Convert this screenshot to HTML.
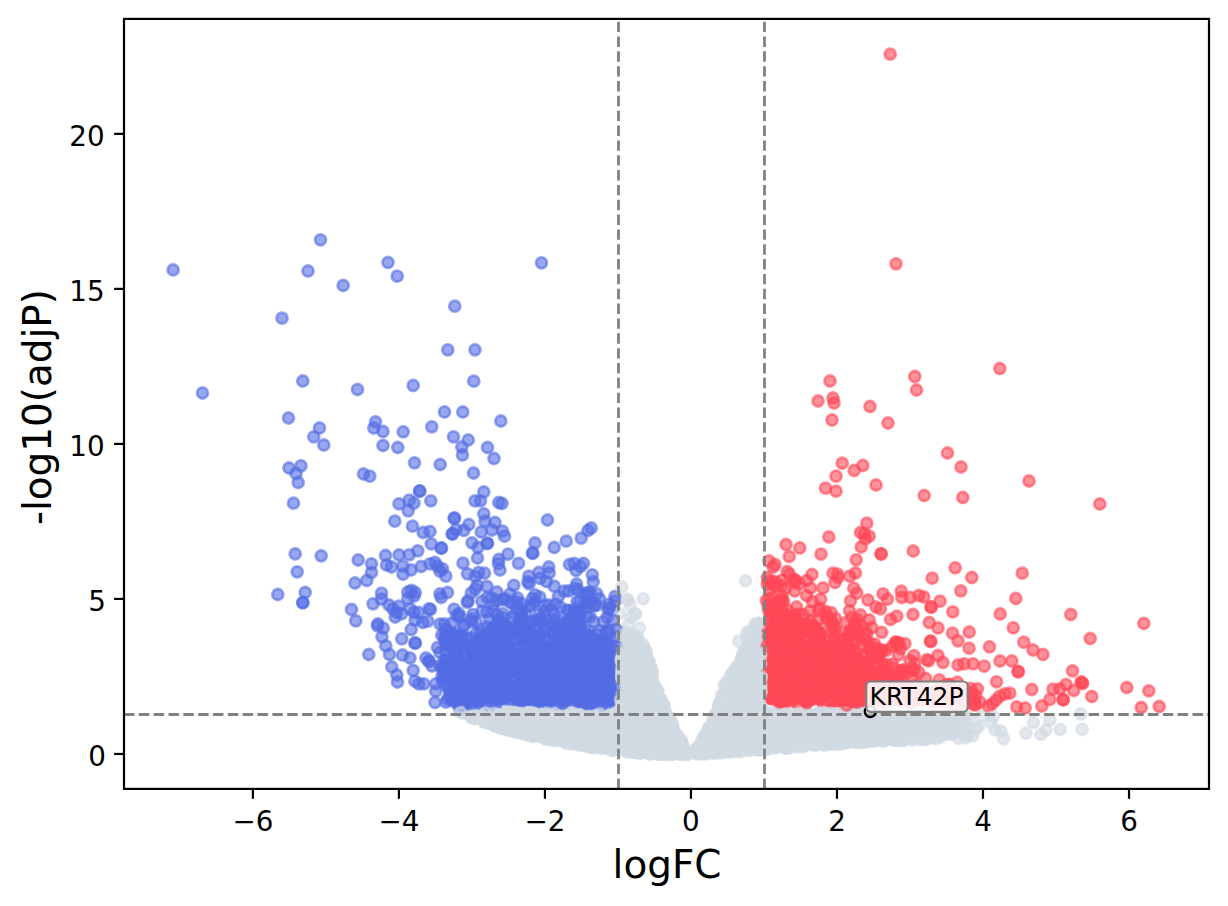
<!DOCTYPE html>
<html><head><meta charset="utf-8"><title>Volcano plot</title>
<style>
html,body{margin:0;padding:0;background:#fff}
svg{display:block}
text{font-family:"DejaVu Sans","Liberation Sans",sans-serif;fill:#000}
svg{opacity:.999}
circle{r:5.5px;stroke-width:2.78px;fill-opacity:.6;stroke-opacity:.6}
.g circle{fill:#d2dae2;stroke:#d2dae2}
.b circle{fill:#546de5;stroke:#546de5}
.r circle{fill:#ff4757;stroke:#ff4757}
.dash line{stroke:#808080;stroke-width:2.78px;stroke-dasharray:10.4 4.44}
.tk line{stroke:#000;stroke-width:2.2px}
.tl text{font-size:27.78px}
.al text{font-size:38.9px}
</style></head><body>
<svg width="1228" height="906" viewBox="0 0 1228 906">
<rect width="1228" height="906" fill="#fff"/>
<clipPath id="ax"><rect x="124.00" y="18.90" width="1085.00" height="770.00"/></clipPath>
<g clip-path="url(#ax)">
<g class="g"><circle cx="634.6" cy="642.9" r="5.5"/><circle cx="745.7" cy="691.4" r="5.5"/><circle cx="1026.0" cy="733.2" r="5.5"/><circle cx="498.0" cy="722.6" r="5.5"/><circle cx="839.7" cy="724.8" r="5.5"/><circle cx="871.8" cy="716.3" r="5.5"/><circle cx="796.8" cy="742.8" r="5.5"/><circle cx="630.4" cy="722.2" r="5.5"/><circle cx="616.1" cy="724.9" r="5.5"/><circle cx="742.5" cy="686.4" r="5.5"/><circle cx="535.6" cy="716.5" r="5.5"/><circle cx="614.6" cy="747.7" r="5.5"/><circle cx="613.7" cy="742.6" r="5.5"/><circle cx="562.0" cy="732.9" r="5.5"/><circle cx="527.3" cy="723.9" r="5.5"/><circle cx="908.5" cy="716.3" r="5.5"/><circle cx="799.5" cy="740.8" r="5.5"/><circle cx="746.1" cy="745.3" r="5.5"/><circle cx="534.9" cy="734.5" r="5.5"/><circle cx="639.7" cy="715.6" r="5.5"/><circle cx="718.9" cy="705.2" r="5.5"/><circle cx="751.7" cy="699.6" r="5.5"/><circle cx="757.8" cy="749.2" r="5.5"/><circle cx="760.8" cy="737.7" r="5.5"/><circle cx="815.5" cy="721.6" r="5.5"/><circle cx="660.6" cy="748.9" r="5.5"/><circle cx="654.0" cy="720.7" r="5.5"/><circle cx="526.3" cy="734.2" r="5.5"/><circle cx="499.4" cy="727.3" r="5.5"/><circle cx="860.8" cy="718.5" r="5.5"/><circle cx="924.0" cy="721.3" r="5.5"/><circle cx="633.4" cy="699.3" r="5.5"/><circle cx="860.2" cy="713.8" r="5.5"/><circle cx="730.7" cy="685.4" r="5.5"/><circle cx="640.7" cy="725.4" r="5.5"/><circle cx="564.1" cy="737.3" r="5.5"/><circle cx="780.5" cy="729.5" r="5.5"/><circle cx="652.0" cy="741.4" r="5.5"/><circle cx="898.5" cy="725.8" r="5.5"/><circle cx="605.2" cy="737.6" r="5.5"/><circle cx="754.7" cy="698.8" r="5.5"/><circle cx="559.1" cy="722.3" r="5.5"/><circle cx="759.5" cy="648.3" r="5.5"/><circle cx="872.6" cy="734.4" r="5.5"/><circle cx="767.4" cy="727.2" r="5.5"/><circle cx="723.6" cy="745.0" r="5.5"/><circle cx="536.6" cy="735.7" r="5.5"/><circle cx="868.2" cy="713.0" r="5.5"/><circle cx="571.5" cy="743.0" r="5.5"/><circle cx="723.9" cy="728.3" r="5.5"/><circle cx="636.3" cy="744.7" r="5.5"/><circle cx="647.6" cy="736.1" r="5.5"/><circle cx="875.5" cy="736.0" r="5.5"/><circle cx="501.4" cy="718.8" r="5.5"/><circle cx="627.6" cy="733.9" r="5.5"/><circle cx="555.4" cy="740.1" r="5.5"/><circle cx="948.5" cy="723.5" r="5.5"/><circle cx="563.8" cy="723.5" r="5.5"/><circle cx="647.8" cy="660.7" r="5.5"/><circle cx="810.1" cy="744.7" r="5.5"/><circle cx="572.6" cy="730.6" r="5.5"/><circle cx="949.9" cy="719.9" r="5.5"/><circle cx="622.6" cy="718.1" r="5.5"/><circle cx="533.4" cy="713.5" r="5.5"/><circle cx="756.8" cy="723.8" r="5.5"/><circle cx="730.0" cy="747.8" r="5.5"/><circle cx="742.6" cy="726.1" r="5.5"/><circle cx="728.6" cy="742.0" r="5.5"/><circle cx="745.2" cy="686.7" r="5.5"/><circle cx="586.3" cy="724.4" r="5.5"/><circle cx="713.2" cy="751.5" r="5.5"/><circle cx="524.8" cy="714.0" r="5.5"/><circle cx="734.2" cy="706.8" r="5.5"/><circle cx="597.4" cy="729.5" r="5.5"/><circle cx="511.6" cy="725.6" r="5.5"/><circle cx="556.3" cy="717.0" r="5.5"/><circle cx="711.3" cy="727.9" r="5.5"/><circle cx="682.7" cy="750.4" r="5.5"/><circle cx="542.8" cy="716.7" r="5.5"/><circle cx="896.1" cy="718.9" r="5.5"/><circle cx="622.7" cy="666.0" r="5.5"/><circle cx="654.8" cy="742.3" r="5.5"/><circle cx="652.6" cy="746.5" r="5.5"/><circle cx="761.2" cy="682.1" r="5.5"/><circle cx="526.7" cy="716.9" r="5.5"/><circle cx="836.7" cy="735.9" r="5.5"/><circle cx="660.1" cy="703.5" r="5.5"/><circle cx="681.0" cy="742.5" r="5.5"/><circle cx="622.3" cy="726.2" r="5.5"/><circle cx="804.2" cy="741.7" r="5.5"/><circle cx="646.7" cy="684.5" r="5.5"/><circle cx="595.6" cy="724.5" r="5.5"/><circle cx="760.1" cy="707.5" r="5.5"/><circle cx="630.9" cy="662.3" r="5.5"/><circle cx="852.5" cy="731.2" r="5.5"/><circle cx="714.2" cy="727.6" r="5.5"/><circle cx="556.3" cy="737.9" r="5.5"/><circle cx="649.3" cy="753.5" r="5.5"/><circle cx="495.2" cy="713.0" r="5.5"/><circle cx="560.6" cy="721.9" r="5.5"/><circle cx="758.6" cy="711.6" r="5.5"/><circle cx="877.2" cy="730.6" r="5.5"/><circle cx="822.5" cy="722.3" r="5.5"/><circle cx="835.2" cy="736.6" r="5.5"/><circle cx="524.2" cy="714.8" r="5.5"/><circle cx="636.9" cy="639.3" r="5.5"/><circle cx="649.1" cy="692.8" r="5.5"/><circle cx="638.6" cy="660.6" r="5.5"/><circle cx="497.1" cy="720.0" r="5.5"/><circle cx="792.1" cy="739.7" r="5.5"/><circle cx="622.0" cy="721.4" r="5.5"/><circle cx="757.6" cy="729.3" r="5.5"/><circle cx="579.3" cy="713.3" r="5.5"/><circle cx="777.7" cy="743.6" r="5.5"/><circle cx="521.0" cy="721.1" r="5.5"/><circle cx="571.4" cy="716.7" r="5.5"/><circle cx="730.4" cy="692.7" r="5.5"/><circle cx="784.2" cy="717.3" r="5.5"/><circle cx="753.9" cy="722.6" r="5.5"/><circle cx="841.4" cy="723.5" r="5.5"/><circle cx="593.5" cy="714.2" r="5.5"/><circle cx="624.6" cy="709.2" r="5.5"/><circle cx="631.4" cy="747.0" r="5.5"/><circle cx="622.5" cy="700.3" r="5.5"/><circle cx="722.9" cy="724.7" r="5.5"/><circle cx="922.8" cy="728.1" r="5.5"/><circle cx="657.0" cy="740.7" r="5.5"/><circle cx="656.7" cy="737.2" r="5.5"/><circle cx="668.1" cy="737.3" r="5.5"/><circle cx="554.5" cy="723.8" r="5.5"/><circle cx="832.8" cy="733.5" r="5.5"/><circle cx="636.1" cy="697.1" r="5.5"/><circle cx="726.1" cy="734.3" r="5.5"/><circle cx="628.6" cy="729.3" r="5.5"/><circle cx="743.6" cy="701.5" r="5.5"/><circle cx="651.0" cy="697.7" r="5.5"/><circle cx="654.0" cy="700.5" r="5.5"/><circle cx="757.6" cy="745.6" r="5.5"/><circle cx="777.0" cy="739.5" r="5.5"/><circle cx="815.4" cy="731.6" r="5.5"/><circle cx="612.6" cy="741.1" r="5.5"/><circle cx="911.2" cy="719.4" r="5.5"/><circle cx="631.7" cy="702.9" r="5.5"/><circle cx="649.9" cy="717.7" r="5.5"/><circle cx="566.9" cy="731.6" r="5.5"/><circle cx="771.9" cy="741.1" r="5.5"/><circle cx="624.1" cy="694.6" r="5.5"/><circle cx="558.3" cy="726.9" r="5.5"/><circle cx="508.2" cy="716.6" r="5.5"/><circle cx="635.5" cy="723.3" r="5.5"/><circle cx="745.5" cy="656.0" r="5.5"/><circle cx="648.9" cy="695.3" r="5.5"/><circle cx="935.0" cy="727.8" r="5.5"/><circle cx="496.9" cy="714.8" r="5.5"/><circle cx="734.5" cy="700.6" r="5.5"/><circle cx="633.7" cy="738.1" r="5.5"/><circle cx="559.6" cy="739.3" r="5.5"/><circle cx="654.0" cy="711.2" r="5.5"/><circle cx="742.1" cy="657.0" r="5.5"/><circle cx="545.4" cy="715.5" r="5.5"/><circle cx="653.8" cy="703.2" r="5.5"/><circle cx="627.2" cy="697.5" r="5.5"/><circle cx="495.4" cy="722.0" r="5.5"/><circle cx="577.3" cy="712.4" r="5.5"/><circle cx="841.0" cy="731.6" r="5.5"/><circle cx="746.1" cy="668.2" r="5.5"/><circle cx="606.7" cy="721.3" r="5.5"/><circle cx="649.6" cy="745.6" r="5.5"/><circle cx="647.6" cy="730.0" r="5.5"/><circle cx="638.0" cy="676.0" r="5.5"/><circle cx="758.4" cy="693.7" r="5.5"/><circle cx="640.5" cy="690.1" r="5.5"/><circle cx="779.9" cy="741.7" r="5.5"/></g>
<g class="b"><circle cx="581.4" cy="651.0" r="5.5"/><circle cx="561.4" cy="636.3" r="5.5"/><circle cx="295.2" cy="553.8" r="5.5"/><circle cx="471.5" cy="651.1" r="5.5"/><circle cx="494.0" cy="458.5" r="5.5"/><circle cx="430.5" cy="609.5" r="5.5"/><circle cx="510.8" cy="602.3" r="5.5"/><circle cx="596.9" cy="634.6" r="5.5"/><circle cx="411.0" cy="570.0" r="5.5"/><circle cx="583.2" cy="672.7" r="5.5"/><circle cx="585.7" cy="647.6" r="5.5"/><circle cx="464.1" cy="625.6" r="5.5"/><circle cx="579.0" cy="615.2" r="5.5"/><circle cx="605.2" cy="693.2" r="5.5"/><circle cx="589.5" cy="603.6" r="5.5"/><circle cx="614.8" cy="662.8" r="5.5"/><circle cx="508.6" cy="646.3" r="5.5"/><circle cx="568.8" cy="663.6" r="5.5"/><circle cx="383.0" cy="431.5" r="5.5"/><circle cx="430.8" cy="500.8" r="5.5"/><circle cx="611.5" cy="668.9" r="5.5"/><circle cx="521.2" cy="676.8" r="5.5"/><circle cx="526.5" cy="634.1" r="5.5"/><circle cx="574.1" cy="640.4" r="5.5"/><circle cx="474.9" cy="647.5" r="5.5"/><circle cx="487.1" cy="650.3" r="5.5"/><circle cx="589.7" cy="660.4" r="5.5"/><circle cx="544.8" cy="611.1" r="5.5"/><circle cx="592.3" cy="653.8" r="5.5"/><circle cx="610.9" cy="699.6" r="5.5"/><circle cx="487.0" cy="687.7" r="5.5"/><circle cx="392.8" cy="608.8" r="5.5"/><circle cx="506.7" cy="685.0" r="5.5"/><circle cx="588.2" cy="635.8" r="5.5"/><circle cx="501.2" cy="677.1" r="5.5"/></g>
<g class="r"><circle cx="823.0" cy="588.0" r="5.5"/><circle cx="849.1" cy="650.6" r="5.5"/><circle cx="865.4" cy="683.0" r="5.5"/><circle cx="823.5" cy="645.3" r="5.5"/><circle cx="768.9" cy="560.9" r="5.5"/><circle cx="952.4" cy="698.6" r="5.5"/><circle cx="893.0" cy="679.9" r="5.5"/><circle cx="830.4" cy="663.9" r="5.5"/><circle cx="823.1" cy="667.2" r="5.5"/><circle cx="775.4" cy="662.0" r="5.5"/><circle cx="848.6" cy="663.7" r="5.5"/><circle cx="979.9" cy="702.2" r="5.5"/><circle cx="785.4" cy="692.9" r="5.5"/><circle cx="784.9" cy="671.4" r="5.5"/><circle cx="938.0" cy="628.0" r="5.5"/><circle cx="833.5" cy="642.1" r="5.5"/><circle cx="787.0" cy="695.7" r="5.5"/><circle cx="794.7" cy="626.9" r="5.5"/><circle cx="902.1" cy="670.5" r="5.5"/><circle cx="816.1" cy="686.8" r="5.5"/><circle cx="782.2" cy="705.4" r="5.5"/><circle cx="811.4" cy="693.5" r="5.5"/><circle cx="844.8" cy="685.7" r="5.5"/><circle cx="999.8" cy="696.2" r="5.5"/><circle cx="914.4" cy="687.8" r="5.5"/><circle cx="793.2" cy="621.1" r="5.5"/><circle cx="807.3" cy="670.2" r="5.5"/><circle cx="873.0" cy="698.5" r="5.5"/></g>
<g class="g"><circle cx="657.8" cy="742.8" r="5.5"/><circle cx="628.5" cy="680.6" r="5.5"/><circle cx="732.6" cy="740.4" r="5.5"/><circle cx="605.8" cy="739.4" r="5.5"/><circle cx="748.9" cy="735.0" r="5.5"/><circle cx="865.5" cy="715.3" r="5.5"/><circle cx="759.0" cy="700.9" r="5.5"/><circle cx="624.1" cy="688.7" r="5.5"/><circle cx="640.5" cy="717.5" r="5.5"/><circle cx="482.6" cy="720.4" r="5.5"/><circle cx="937.3" cy="733.6" r="5.5"/><circle cx="965.8" cy="737.5" r="5.5"/><circle cx="643.0" cy="684.1" r="5.5"/><circle cx="529.7" cy="732.8" r="5.5"/><circle cx="518.2" cy="716.6" r="5.5"/><circle cx="626.8" cy="731.6" r="5.5"/><circle cx="509.5" cy="721.4" r="5.5"/><circle cx="628.3" cy="695.3" r="5.5"/><circle cx="755.8" cy="733.7" r="5.5"/><circle cx="621.0" cy="700.2" r="5.5"/><circle cx="932.9" cy="723.4" r="5.5"/><circle cx="793.9" cy="719.3" r="5.5"/><circle cx="716.2" cy="747.1" r="5.5"/><circle cx="729.6" cy="699.3" r="5.5"/><circle cx="957.2" cy="731.3" r="5.5"/><circle cx="734.7" cy="722.5" r="5.5"/><circle cx="772.6" cy="745.6" r="5.5"/><circle cx="652.0" cy="720.2" r="5.5"/><circle cx="525.2" cy="730.9" r="5.5"/><circle cx="658.8" cy="719.7" r="5.5"/><circle cx="640.0" cy="727.6" r="5.5"/><circle cx="673.4" cy="731.2" r="5.5"/><circle cx="731.5" cy="719.3" r="5.5"/><circle cx="730.4" cy="690.4" r="5.5"/><circle cx="643.2" cy="721.5" r="5.5"/><circle cx="627.3" cy="739.8" r="5.5"/><circle cx="612.9" cy="735.2" r="5.5"/><circle cx="758.8" cy="683.0" r="5.5"/><circle cx="905.7" cy="717.5" r="5.5"/><circle cx="731.0" cy="680.1" r="5.5"/><circle cx="595.6" cy="713.0" r="5.5"/><circle cx="862.9" cy="723.8" r="5.5"/><circle cx="517.6" cy="731.3" r="5.5"/><circle cx="535.2" cy="712.7" r="5.5"/><circle cx="852.5" cy="727.7" r="5.5"/><circle cx="870.9" cy="730.0" r="5.5"/><circle cx="950.0" cy="730.3" r="5.5"/><circle cx="621.7" cy="696.3" r="5.5"/><circle cx="659.4" cy="714.0" r="5.5"/><circle cx="540.0" cy="736.1" r="5.5"/><circle cx="529.7" cy="733.1" r="5.5"/><circle cx="647.9" cy="682.0" r="5.5"/><circle cx="776.4" cy="721.8" r="5.5"/><circle cx="821.7" cy="714.7" r="5.5"/><circle cx="623.5" cy="732.2" r="5.5"/><circle cx="827.0" cy="718.8" r="5.5"/><circle cx="590.7" cy="723.1" r="5.5"/><circle cx="541.3" cy="728.4" r="5.5"/><circle cx="644.7" cy="712.2" r="5.5"/><circle cx="633.5" cy="687.5" r="5.5"/><circle cx="755.4" cy="721.3" r="5.5"/><circle cx="605.5" cy="733.2" r="5.5"/><circle cx="509.9" cy="724.9" r="5.5"/><circle cx="898.7" cy="740.0" r="5.5"/><circle cx="623.3" cy="683.4" r="5.5"/><circle cx="862.0" cy="741.9" r="5.5"/><circle cx="676.4" cy="753.5" r="5.5"/><circle cx="913.1" cy="735.1" r="5.5"/><circle cx="753.0" cy="712.0" r="5.5"/><circle cx="729.4" cy="721.9" r="5.5"/><circle cx="810.0" cy="719.3" r="5.5"/><circle cx="637.0" cy="685.1" r="5.5"/><circle cx="737.6" cy="665.8" r="5.5"/><circle cx="603.2" cy="724.7" r="5.5"/><circle cx="932.4" cy="735.3" r="5.5"/><circle cx="568.0" cy="730.8" r="5.5"/><circle cx="634.0" cy="705.7" r="5.5"/><circle cx="804.8" cy="725.1" r="5.5"/><circle cx="759.5" cy="731.3" r="5.5"/><circle cx="588.9" cy="724.8" r="5.5"/><circle cx="714.7" cy="751.4" r="5.5"/><circle cx="670.3" cy="736.2" r="5.5"/><circle cx="753.5" cy="726.9" r="5.5"/><circle cx="637.7" cy="740.1" r="5.5"/><circle cx="949.3" cy="721.6" r="5.5"/><circle cx="750.9" cy="683.0" r="5.5"/><circle cx="675.4" cy="733.9" r="5.5"/><circle cx="473.6" cy="716.5" r="5.5"/><circle cx="648.5" cy="732.0" r="5.5"/><circle cx="512.3" cy="714.9" r="5.5"/><circle cx="556.7" cy="731.5" r="5.5"/><circle cx="650.4" cy="708.8" r="5.5"/><circle cx="877.6" cy="736.4" r="5.5"/><circle cx="760.7" cy="650.9" r="5.5"/><circle cx="836.6" cy="736.5" r="5.5"/><circle cx="848.0" cy="742.4" r="5.5"/><circle cx="526.3" cy="726.5" r="5.5"/><circle cx="759.7" cy="647.7" r="5.5"/><circle cx="507.1" cy="726.5" r="5.5"/><circle cx="671.9" cy="752.0" r="5.5"/><circle cx="981.3" cy="716.2" r="5.5"/><circle cx="863.3" cy="742.2" r="5.5"/><circle cx="485.9" cy="721.0" r="5.5"/><circle cx="741.8" cy="686.4" r="5.5"/><circle cx="939.5" cy="719.9" r="5.5"/><circle cx="621.3" cy="673.4" r="5.5"/><circle cx="880.3" cy="730.3" r="5.5"/><circle cx="742.0" cy="719.1" r="5.5"/><circle cx="502.8" cy="718.8" r="5.5"/><circle cx="494.8" cy="719.2" r="5.5"/><circle cx="593.5" cy="733.1" r="5.5"/><circle cx="643.3" cy="750.5" r="5.5"/><circle cx="736.2" cy="696.2" r="5.5"/><circle cx="806.9" cy="737.6" r="5.5"/><circle cx="765.1" cy="733.9" r="5.5"/><circle cx="746.7" cy="747.9" r="5.5"/><circle cx="816.5" cy="738.4" r="5.5"/><circle cx="739.6" cy="722.7" r="5.5"/><circle cx="644.1" cy="685.8" r="5.5"/><circle cx="874.3" cy="731.6" r="5.5"/><circle cx="604.2" cy="732.5" r="5.5"/><circle cx="718.4" cy="707.7" r="5.5"/><circle cx="673.2" cy="739.7" r="5.5"/><circle cx="740.0" cy="708.5" r="5.5"/><circle cx="858.8" cy="716.9" r="5.5"/><circle cx="503.4" cy="717.4" r="5.5"/><circle cx="792.7" cy="741.8" r="5.5"/><circle cx="630.5" cy="745.1" r="5.5"/><circle cx="515.5" cy="725.2" r="5.5"/><circle cx="657.2" cy="732.5" r="5.5"/><circle cx="710.9" cy="735.2" r="5.5"/><circle cx="561.0" cy="727.0" r="5.5"/><circle cx="856.7" cy="721.6" r="5.5"/><circle cx="750.7" cy="725.5" r="5.5"/><circle cx="513.6" cy="723.6" r="5.5"/><circle cx="554.9" cy="724.7" r="5.5"/><circle cx="620.8" cy="741.5" r="5.5"/><circle cx="653.9" cy="702.4" r="5.5"/><circle cx="738.9" cy="735.4" r="5.5"/><circle cx="754.3" cy="665.7" r="5.5"/><circle cx="546.7" cy="735.7" r="5.5"/><circle cx="663.4" cy="744.6" r="5.5"/><circle cx="867.9" cy="736.1" r="5.5"/><circle cx="790.4" cy="736.5" r="5.5"/><circle cx="768.2" cy="723.4" r="5.5"/><circle cx="586.6" cy="734.2" r="5.5"/><circle cx="897.9" cy="737.7" r="5.5"/><circle cx="516.2" cy="726.7" r="5.5"/><circle cx="544.6" cy="716.2" r="5.5"/><circle cx="732.3" cy="725.3" r="5.5"/><circle cx="643.4" cy="698.2" r="5.5"/><circle cx="889.2" cy="734.4" r="5.5"/><circle cx="854.4" cy="728.6" r="5.5"/><circle cx="779.5" cy="719.9" r="5.5"/><circle cx="614.9" cy="721.7" r="5.5"/><circle cx="676.1" cy="747.2" r="5.5"/><circle cx="680.9" cy="754.2" r="5.5"/><circle cx="733.4" cy="726.5" r="5.5"/><circle cx="756.0" cy="625.2" r="5.5"/><circle cx="637.0" cy="663.1" r="5.5"/><circle cx="633.6" cy="686.6" r="5.5"/><circle cx="775.6" cy="741.7" r="5.5"/><circle cx="747.8" cy="730.5" r="5.5"/><circle cx="738.6" cy="722.1" r="5.5"/></g>
<g class="b"><circle cx="513.8" cy="585.3" r="5.5"/><circle cx="519.7" cy="697.4" r="5.5"/><circle cx="495.9" cy="692.4" r="5.5"/><circle cx="521.9" cy="616.7" r="5.5"/><circle cx="554.4" cy="633.4" r="5.5"/><circle cx="464.7" cy="705.2" r="5.5"/><circle cx="560.7" cy="651.8" r="5.5"/><circle cx="601.8" cy="671.4" r="5.5"/><circle cx="577.1" cy="601.6" r="5.5"/><circle cx="487.0" cy="674.8" r="5.5"/><circle cx="496.9" cy="592.0" r="5.5"/><circle cx="450.5" cy="690.3" r="5.5"/><circle cx="580.4" cy="623.2" r="5.5"/><circle cx="531.4" cy="702.8" r="5.5"/><circle cx="586.7" cy="616.3" r="5.5"/><circle cx="568.9" cy="610.8" r="5.5"/><circle cx="576.6" cy="628.2" r="5.5"/><circle cx="477.6" cy="653.8" r="5.5"/><circle cx="510.5" cy="699.3" r="5.5"/><circle cx="547.5" cy="649.2" r="5.5"/><circle cx="446.9" cy="635.6" r="5.5"/><circle cx="556.1" cy="639.2" r="5.5"/><circle cx="589.7" cy="696.0" r="5.5"/><circle cx="539.4" cy="621.4" r="5.5"/><circle cx="598.3" cy="643.3" r="5.5"/><circle cx="381.5" cy="593.2" r="5.5"/><circle cx="487.5" cy="447.5" r="5.5"/><circle cx="599.7" cy="630.8" r="5.5"/><circle cx="512.1" cy="692.4" r="5.5"/><circle cx="544.9" cy="660.1" r="5.5"/><circle cx="486.6" cy="673.4" r="5.5"/><circle cx="610.7" cy="657.7" r="5.5"/><circle cx="592.4" cy="659.9" r="5.5"/><circle cx="485.9" cy="695.4" r="5.5"/><circle cx="578.9" cy="683.6" r="5.5"/><circle cx="500.6" cy="680.1" r="5.5"/><circle cx="521.2" cy="667.2" r="5.5"/><circle cx="565.0" cy="630.5" r="5.5"/><circle cx="397.2" cy="276.2" r="5.5"/><circle cx="581.2" cy="538.2" r="5.5"/></g>
<g class="r"><circle cx="871.3" cy="679.3" r="5.5"/><circle cx="860.4" cy="667.2" r="5.5"/><circle cx="768.4" cy="665.5" r="5.5"/><circle cx="777.5" cy="619.0" r="5.5"/><circle cx="801.4" cy="649.6" r="5.5"/><circle cx="774.9" cy="677.7" r="5.5"/><circle cx="934.6" cy="705.0" r="5.5"/><circle cx="999.8" cy="368.5" r="5.5"/><circle cx="818.5" cy="635.9" r="5.5"/><circle cx="882.4" cy="663.2" r="5.5"/><circle cx="843.8" cy="695.8" r="5.5"/><circle cx="857.6" cy="653.2" r="5.5"/><circle cx="820.4" cy="699.5" r="5.5"/><circle cx="896.0" cy="689.2" r="5.5"/><circle cx="777.6" cy="651.6" r="5.5"/><circle cx="862.8" cy="465.5" r="5.5"/><circle cx="899.5" cy="682.3" r="5.5"/><circle cx="856.5" cy="677.2" r="5.5"/><circle cx="816.6" cy="650.4" r="5.5"/><circle cx="1013.2" cy="627.8" r="5.5"/><circle cx="849.8" cy="698.5" r="5.5"/><circle cx="819.4" cy="682.3" r="5.5"/><circle cx="827.7" cy="630.5" r="5.5"/><circle cx="789.2" cy="556.5" r="5.5"/><circle cx="833.3" cy="625.3" r="5.5"/><circle cx="794.1" cy="695.0" r="5.5"/><circle cx="780.2" cy="679.1" r="5.5"/><circle cx="780.5" cy="671.2" r="5.5"/><circle cx="779.7" cy="602.0" r="5.5"/><circle cx="869.8" cy="671.0" r="5.5"/><circle cx="825.2" cy="671.1" r="5.5"/><circle cx="892.7" cy="696.0" r="5.5"/></g>
<g class="g"><circle cx="635.3" cy="673.9" r="5.5"/><circle cx="866.1" cy="722.2" r="5.5"/><circle cx="503.9" cy="724.1" r="5.5"/><circle cx="649.5" cy="720.5" r="5.5"/><circle cx="616.1" cy="731.3" r="5.5"/><circle cx="913.2" cy="730.2" r="5.5"/><circle cx="641.4" cy="653.4" r="5.5"/><circle cx="666.0" cy="738.2" r="5.5"/><circle cx="578.7" cy="729.6" r="5.5"/><circle cx="717.3" cy="748.5" r="5.5"/><circle cx="626.9" cy="738.2" r="5.5"/><circle cx="868.2" cy="738.0" r="5.5"/><circle cx="556.2" cy="733.4" r="5.5"/><circle cx="534.4" cy="732.7" r="5.5"/><circle cx="730.4" cy="691.8" r="5.5"/><circle cx="650.4" cy="750.3" r="5.5"/><circle cx="829.8" cy="715.3" r="5.5"/><circle cx="612.3" cy="720.5" r="5.5"/><circle cx="652.1" cy="748.4" r="5.5"/><circle cx="528.9" cy="735.2" r="5.5"/><circle cx="735.7" cy="737.3" r="5.5"/><circle cx="760.9" cy="710.0" r="5.5"/><circle cx="541.8" cy="725.5" r="5.5"/><circle cx="738.8" cy="641.2" r="5.5"/><circle cx="628.7" cy="695.3" r="5.5"/><circle cx="500.3" cy="726.1" r="5.5"/><circle cx="851.0" cy="726.1" r="5.5"/><circle cx="538.2" cy="716.7" r="5.5"/><circle cx="824.9" cy="714.2" r="5.5"/><circle cx="645.5" cy="717.5" r="5.5"/><circle cx="718.4" cy="712.0" r="5.5"/><circle cx="631.6" cy="724.9" r="5.5"/><circle cx="788.0" cy="729.7" r="5.5"/><circle cx="629.8" cy="651.9" r="5.5"/><circle cx="635.5" cy="668.8" r="5.5"/><circle cx="646.3" cy="717.7" r="5.5"/><circle cx="603.6" cy="739.8" r="5.5"/><circle cx="906.4" cy="716.0" r="5.5"/><circle cx="807.1" cy="739.9" r="5.5"/><circle cx="900.0" cy="718.7" r="5.5"/><circle cx="522.9" cy="718.6" r="5.5"/><circle cx="894.3" cy="732.4" r="5.5"/><circle cx="647.0" cy="729.0" r="5.5"/><circle cx="512.8" cy="726.7" r="5.5"/><circle cx="753.6" cy="688.1" r="5.5"/><circle cx="586.6" cy="739.5" r="5.5"/><circle cx="554.5" cy="731.2" r="5.5"/><circle cx="875.0" cy="712.9" r="5.5"/><circle cx="734.3" cy="692.5" r="5.5"/><circle cx="759.4" cy="737.9" r="5.5"/><circle cx="721.7" cy="723.6" r="5.5"/><circle cx="544.6" cy="736.3" r="5.5"/><circle cx="757.2" cy="716.2" r="5.5"/><circle cx="550.4" cy="735.3" r="5.5"/><circle cx="658.9" cy="744.8" r="5.5"/><circle cx="743.0" cy="736.5" r="5.5"/><circle cx="728.0" cy="680.7" r="5.5"/><circle cx="569.0" cy="735.5" r="5.5"/><circle cx="822.0" cy="719.8" r="5.5"/><circle cx="726.5" cy="725.2" r="5.5"/><circle cx="840.7" cy="719.9" r="5.5"/><circle cx="583.3" cy="737.8" r="5.5"/><circle cx="739.4" cy="732.9" r="5.5"/><circle cx="870.7" cy="736.3" r="5.5"/><circle cx="644.0" cy="727.0" r="5.5"/><circle cx="552.1" cy="713.2" r="5.5"/><circle cx="575.8" cy="739.1" r="5.5"/><circle cx="578.8" cy="733.9" r="5.5"/><circle cx="597.0" cy="734.9" r="5.5"/><circle cx="653.0" cy="692.9" r="5.5"/><circle cx="616.6" cy="729.2" r="5.5"/><circle cx="720.7" cy="724.4" r="5.5"/><circle cx="634.6" cy="730.7" r="5.5"/><circle cx="756.2" cy="743.1" r="5.5"/><circle cx="708.7" cy="737.0" r="5.5"/><circle cx="751.8" cy="708.4" r="5.5"/><circle cx="626.5" cy="635.0" r="5.5"/><circle cx="568.9" cy="722.6" r="5.5"/><circle cx="629.0" cy="684.2" r="5.5"/><circle cx="863.1" cy="720.2" r="5.5"/><circle cx="507.1" cy="726.5" r="5.5"/><circle cx="586.1" cy="736.7" r="5.5"/><circle cx="556.9" cy="721.5" r="5.5"/><circle cx="723.2" cy="706.7" r="5.5"/><circle cx="612.6" cy="728.7" r="5.5"/><circle cx="673.5" cy="735.0" r="5.5"/><circle cx="815.0" cy="744.9" r="5.5"/><circle cx="728.1" cy="725.1" r="5.5"/><circle cx="635.6" cy="744.9" r="5.5"/><circle cx="638.2" cy="673.1" r="5.5"/><circle cx="634.3" cy="673.3" r="5.5"/><circle cx="657.0" cy="710.6" r="5.5"/><circle cx="785.9" cy="748.3" r="5.5"/><circle cx="721.5" cy="748.9" r="5.5"/><circle cx="846.0" cy="720.9" r="5.5"/><circle cx="737.1" cy="742.3" r="5.5"/><circle cx="630.7" cy="720.9" r="5.5"/><circle cx="752.5" cy="715.5" r="5.5"/><circle cx="636.4" cy="709.1" r="5.5"/><circle cx="642.2" cy="722.5" r="5.5"/><circle cx="654.2" cy="747.8" r="5.5"/><circle cx="746.6" cy="708.8" r="5.5"/><circle cx="733.7" cy="730.1" r="5.5"/><circle cx="644.7" cy="714.1" r="5.5"/><circle cx="892.2" cy="715.5" r="5.5"/><circle cx="758.8" cy="656.7" r="5.5"/><circle cx="738.7" cy="708.7" r="5.5"/><circle cx="568.5" cy="737.9" r="5.5"/><circle cx="631.8" cy="697.4" r="5.5"/><circle cx="650.2" cy="719.3" r="5.5"/><circle cx="641.9" cy="686.1" r="5.5"/><circle cx="858.8" cy="713.4" r="5.5"/><circle cx="760.6" cy="661.4" r="5.5"/><circle cx="944.0" cy="721.8" r="5.5"/><circle cx="930.6" cy="714.3" r="5.5"/><circle cx="527.7" cy="734.6" r="5.5"/><circle cx="642.0" cy="752.5" r="5.5"/><circle cx="727.6" cy="734.7" r="5.5"/><circle cx="744.2" cy="746.5" r="5.5"/><circle cx="599.4" cy="714.4" r="5.5"/><circle cx="628.4" cy="734.3" r="5.5"/><circle cx="657.5" cy="754.0" r="5.5"/><circle cx="628.9" cy="696.7" r="5.5"/><circle cx="475.3" cy="713.9" r="5.5"/><circle cx="566.5" cy="741.3" r="5.5"/><circle cx="899.4" cy="725.3" r="5.5"/><circle cx="630.2" cy="748.5" r="5.5"/><circle cx="767.4" cy="728.8" r="5.5"/><circle cx="620.5" cy="695.9" r="5.5"/><circle cx="728.8" cy="685.9" r="5.5"/><circle cx="755.3" cy="715.2" r="5.5"/><circle cx="587.5" cy="728.2" r="5.5"/><circle cx="648.0" cy="742.7" r="5.5"/><circle cx="600.6" cy="740.2" r="5.5"/><circle cx="593.4" cy="721.6" r="5.5"/><circle cx="744.6" cy="723.2" r="5.5"/><circle cx="574.1" cy="727.6" r="5.5"/><circle cx="632.4" cy="688.6" r="5.5"/><circle cx="548.0" cy="715.9" r="5.5"/><circle cx="771.4" cy="717.7" r="5.5"/><circle cx="752.4" cy="731.7" r="5.5"/><circle cx="622.2" cy="693.5" r="5.5"/><circle cx="635.3" cy="722.0" r="5.5"/><circle cx="727.9" cy="733.9" r="5.5"/><circle cx="638.7" cy="694.9" r="5.5"/><circle cx="754.5" cy="709.9" r="5.5"/><circle cx="581.7" cy="742.1" r="5.5"/><circle cx="799.5" cy="736.7" r="5.5"/><circle cx="624.4" cy="657.7" r="5.5"/><circle cx="752.7" cy="657.0" r="5.5"/><circle cx="601.1" cy="731.2" r="5.5"/><circle cx="630.3" cy="704.4" r="5.5"/><circle cx="490.8" cy="719.9" r="5.5"/><circle cx="758.9" cy="688.8" r="5.5"/><circle cx="734.3" cy="739.0" r="5.5"/><circle cx="637.1" cy="689.0" r="5.5"/><circle cx="917.3" cy="728.5" r="5.5"/><circle cx="873.6" cy="728.1" r="5.5"/><circle cx="668.0" cy="739.4" r="5.5"/><circle cx="661.6" cy="725.5" r="5.5"/><circle cx="630.6" cy="687.6" r="5.5"/><circle cx="495.2" cy="712.7" r="5.5"/><circle cx="737.7" cy="703.7" r="5.5"/><circle cx="756.1" cy="738.4" r="5.5"/><circle cx="622.2" cy="694.5" r="5.5"/><circle cx="688.0" cy="754.2" r="5.5"/><circle cx="932.0" cy="728.3" r="5.5"/><circle cx="634.7" cy="726.7" r="5.5"/><circle cx="732.8" cy="731.2" r="5.5"/><circle cx="594.1" cy="729.6" r="5.5"/></g>
<g class="b"><circle cx="600.7" cy="677.2" r="5.5"/><circle cx="590.6" cy="654.7" r="5.5"/><circle cx="584.5" cy="676.5" r="5.5"/><circle cx="441.2" cy="548.2" r="5.5"/><circle cx="456.6" cy="656.3" r="5.5"/><circle cx="593.5" cy="662.0" r="5.5"/><circle cx="320.5" cy="239.8" r="5.5"/><circle cx="574.0" cy="668.0" r="5.5"/><circle cx="578.3" cy="698.9" r="5.5"/><circle cx="440.1" cy="624.1" r="5.5"/><circle cx="576.2" cy="668.7" r="5.5"/><circle cx="435.0" cy="702.5" r="5.5"/><circle cx="549.9" cy="679.1" r="5.5"/><circle cx="453.5" cy="436.8" r="5.5"/><circle cx="589.4" cy="674.1" r="5.5"/><circle cx="597.0" cy="653.8" r="5.5"/><circle cx="582.9" cy="685.5" r="5.5"/><circle cx="472.9" cy="614.6" r="5.5"/><circle cx="571.9" cy="672.1" r="5.5"/><circle cx="503.3" cy="617.8" r="5.5"/><circle cx="519.7" cy="626.7" r="5.5"/><circle cx="546.5" cy="639.4" r="5.5"/><circle cx="544.1" cy="605.3" r="5.5"/><circle cx="478.0" cy="547.5" r="5.5"/><circle cx="594.2" cy="604.1" r="5.5"/><circle cx="529.4" cy="677.4" r="5.5"/><circle cx="403.0" cy="574.2" r="5.5"/><circle cx="506.4" cy="672.3" r="5.5"/><circle cx="469.1" cy="683.0" r="5.5"/><circle cx="518.1" cy="673.9" r="5.5"/><circle cx="529.8" cy="681.1" r="5.5"/><circle cx="391.5" cy="567.0" r="5.5"/><circle cx="584.3" cy="663.9" r="5.5"/><circle cx="485.0" cy="521.2" r="5.5"/><circle cx="495.4" cy="634.1" r="5.5"/><circle cx="601.3" cy="643.9" r="5.5"/><circle cx="589.6" cy="643.9" r="5.5"/><circle cx="601.2" cy="676.7" r="5.5"/><circle cx="277.8" cy="594.5" r="5.5"/></g>
<g class="r"><circle cx="812.5" cy="601.7" r="5.5"/><circle cx="825.6" cy="665.6" r="5.5"/><circle cx="855.9" cy="688.3" r="5.5"/><circle cx="802.2" cy="672.0" r="5.5"/><circle cx="859.1" cy="679.2" r="5.5"/><circle cx="814.5" cy="626.7" r="5.5"/><circle cx="846.2" cy="690.2" r="5.5"/><circle cx="872.8" cy="690.4" r="5.5"/><circle cx="937.3" cy="704.1" r="5.5"/><circle cx="807.1" cy="667.4" r="5.5"/><circle cx="845.6" cy="640.7" r="5.5"/><circle cx="797.0" cy="624.4" r="5.5"/><circle cx="784.9" cy="643.7" r="5.5"/><circle cx="825.5" cy="611.5" r="5.5"/><circle cx="949.8" cy="700.7" r="5.5"/><circle cx="783.2" cy="693.2" r="5.5"/><circle cx="848.2" cy="693.3" r="5.5"/><circle cx="777.1" cy="586.2" r="5.5"/><circle cx="787.8" cy="628.1" r="5.5"/><circle cx="843.9" cy="673.7" r="5.5"/><circle cx="877.4" cy="662.6" r="5.5"/><circle cx="1063.3" cy="699.8" r="5.5"/><circle cx="791.0" cy="627.7" r="5.5"/><circle cx="780.8" cy="633.9" r="5.5"/><circle cx="845.6" cy="644.1" r="5.5"/><circle cx="890.5" cy="619.5" r="5.5"/><circle cx="767.5" cy="645.6" r="5.5"/></g>
<g class="g"><circle cx="636.3" cy="723.4" r="5.5"/><circle cx="651.9" cy="715.7" r="5.5"/><circle cx="744.9" cy="707.5" r="5.5"/><circle cx="537.8" cy="714.3" r="5.5"/><circle cx="777.3" cy="725.2" r="5.5"/><circle cx="742.0" cy="660.7" r="5.5"/><circle cx="813.8" cy="724.9" r="5.5"/><circle cx="732.0" cy="696.9" r="5.5"/><circle cx="759.8" cy="724.4" r="5.5"/><circle cx="653.3" cy="728.5" r="5.5"/><circle cx="754.9" cy="700.4" r="5.5"/><circle cx="573.9" cy="737.9" r="5.5"/><circle cx="640.5" cy="726.6" r="5.5"/><circle cx="668.3" cy="747.9" r="5.5"/><circle cx="513.0" cy="714.9" r="5.5"/><circle cx="922.4" cy="735.0" r="5.5"/><circle cx="837.0" cy="720.5" r="5.5"/><circle cx="715.7" cy="732.0" r="5.5"/><circle cx="754.9" cy="671.2" r="5.5"/><circle cx="583.5" cy="740.0" r="5.5"/><circle cx="826.9" cy="730.4" r="5.5"/><circle cx="745.7" cy="696.9" r="5.5"/><circle cx="524.2" cy="724.4" r="5.5"/><circle cx="813.5" cy="726.1" r="5.5"/><circle cx="717.6" cy="749.3" r="5.5"/><circle cx="643.9" cy="705.1" r="5.5"/><circle cx="574.8" cy="714.4" r="5.5"/><circle cx="494.2" cy="718.2" r="5.5"/><circle cx="664.3" cy="739.5" r="5.5"/><circle cx="920.0" cy="722.6" r="5.5"/><circle cx="508.1" cy="717.6" r="5.5"/><circle cx="535.0" cy="726.6" r="5.5"/><circle cx="752.7" cy="707.5" r="5.5"/><circle cx="735.0" cy="701.1" r="5.5"/><circle cx="710.1" cy="734.1" r="5.5"/><circle cx="654.8" cy="730.3" r="5.5"/><circle cx="615.4" cy="743.4" r="5.5"/><circle cx="659.8" cy="739.2" r="5.5"/><circle cx="756.4" cy="749.1" r="5.5"/><circle cx="602.8" cy="741.1" r="5.5"/><circle cx="492.0" cy="717.6" r="5.5"/><circle cx="487.0" cy="714.5" r="5.5"/><circle cx="905.5" cy="726.9" r="5.5"/><circle cx="758.6" cy="643.8" r="5.5"/><circle cx="659.8" cy="737.7" r="5.5"/><circle cx="725.8" cy="694.1" r="5.5"/><circle cx="728.3" cy="715.7" r="5.5"/><circle cx="520.7" cy="718.5" r="5.5"/><circle cx="712.2" cy="734.3" r="5.5"/><circle cx="655.8" cy="752.4" r="5.5"/><circle cx="622.9" cy="690.1" r="5.5"/><circle cx="651.2" cy="698.6" r="5.5"/><circle cx="640.6" cy="723.5" r="5.5"/><circle cx="761.1" cy="624.9" r="5.5"/><circle cx="657.6" cy="733.0" r="5.5"/><circle cx="647.1" cy="659.5" r="5.5"/><circle cx="532.1" cy="714.1" r="5.5"/><circle cx="601.9" cy="722.4" r="5.5"/><circle cx="544.1" cy="713.4" r="5.5"/><circle cx="524.9" cy="727.3" r="5.5"/><circle cx="723.1" cy="717.1" r="5.5"/><circle cx="625.8" cy="655.8" r="5.5"/><circle cx="729.8" cy="711.2" r="5.5"/><circle cx="652.3" cy="696.1" r="5.5"/><circle cx="566.5" cy="736.3" r="5.5"/><circle cx="654.1" cy="734.5" r="5.5"/><circle cx="824.7" cy="719.8" r="5.5"/><circle cx="600.9" cy="733.9" r="5.5"/><circle cx="631.7" cy="739.6" r="5.5"/><circle cx="550.6" cy="738.0" r="5.5"/><circle cx="827.5" cy="725.7" r="5.5"/><circle cx="720.5" cy="718.3" r="5.5"/><circle cx="652.1" cy="749.8" r="5.5"/><circle cx="751.9" cy="668.2" r="5.5"/><circle cx="531.3" cy="720.3" r="5.5"/><circle cx="911.9" cy="735.5" r="5.5"/><circle cx="566.9" cy="728.3" r="5.5"/><circle cx="506.0" cy="721.9" r="5.5"/><circle cx="623.6" cy="684.7" r="5.5"/><circle cx="660.5" cy="742.7" r="5.5"/><circle cx="792.1" cy="724.1" r="5.5"/><circle cx="673.9" cy="753.0" r="5.5"/><circle cx="758.4" cy="746.6" r="5.5"/><circle cx="635.9" cy="732.0" r="5.5"/><circle cx="750.2" cy="686.7" r="5.5"/><circle cx="658.0" cy="696.9" r="5.5"/><circle cx="641.7" cy="685.0" r="5.5"/><circle cx="624.3" cy="739.6" r="5.5"/><circle cx="482.7" cy="719.7" r="5.5"/><circle cx="734.9" cy="696.0" r="5.5"/><circle cx="754.2" cy="720.3" r="5.5"/><circle cx="529.1" cy="732.5" r="5.5"/><circle cx="515.4" cy="715.8" r="5.5"/><circle cx="639.1" cy="737.6" r="5.5"/><circle cx="712.0" cy="734.1" r="5.5"/><circle cx="752.4" cy="739.6" r="5.5"/><circle cx="637.0" cy="664.4" r="5.5"/><circle cx="853.2" cy="729.5" r="5.5"/><circle cx="757.6" cy="700.3" r="5.5"/><circle cx="625.3" cy="689.5" r="5.5"/><circle cx="883.1" cy="729.6" r="5.5"/><circle cx="647.8" cy="744.8" r="5.5"/><circle cx="574.1" cy="738.7" r="5.5"/><circle cx="651.5" cy="727.1" r="5.5"/><circle cx="653.6" cy="750.6" r="5.5"/><circle cx="512.8" cy="717.2" r="5.5"/><circle cx="807.4" cy="725.1" r="5.5"/><circle cx="630.0" cy="725.3" r="5.5"/><circle cx="531.9" cy="731.0" r="5.5"/><circle cx="764.0" cy="735.5" r="5.5"/><circle cx="749.5" cy="738.5" r="5.5"/><circle cx="509.9" cy="725.7" r="5.5"/><circle cx="517.6" cy="726.7" r="5.5"/><circle cx="675.7" cy="750.0" r="5.5"/><circle cx="826.3" cy="732.1" r="5.5"/><circle cx="818.2" cy="729.3" r="5.5"/><circle cx="712.4" cy="750.0" r="5.5"/><circle cx="844.6" cy="721.1" r="5.5"/><circle cx="748.7" cy="705.0" r="5.5"/><circle cx="493.9" cy="719.5" r="5.5"/><circle cx="747.8" cy="748.4" r="5.5"/><circle cx="799.8" cy="718.6" r="5.5"/><circle cx="512.6" cy="716.6" r="5.5"/><circle cx="582.1" cy="727.0" r="5.5"/><circle cx="866.2" cy="733.5" r="5.5"/><circle cx="565.4" cy="734.0" r="5.5"/><circle cx="707.4" cy="752.3" r="5.5"/><circle cx="625.9" cy="741.4" r="5.5"/><circle cx="721.5" cy="715.0" r="5.5"/><circle cx="807.0" cy="725.5" r="5.5"/><circle cx="870.0" cy="738.4" r="5.5"/><circle cx="799.7" cy="726.1" r="5.5"/><circle cx="630.6" cy="657.0" r="5.5"/><circle cx="520.7" cy="718.4" r="5.5"/><circle cx="796.5" cy="720.3" r="5.5"/><circle cx="574.5" cy="731.9" r="5.5"/><circle cx="659.5" cy="738.6" r="5.5"/><circle cx="545.5" cy="726.9" r="5.5"/><circle cx="650.4" cy="676.4" r="5.5"/><circle cx="930.6" cy="725.6" r="5.5"/><circle cx="556.9" cy="739.0" r="5.5"/><circle cx="747.3" cy="672.2" r="5.5"/><circle cx="749.8" cy="693.8" r="5.5"/><circle cx="642.4" cy="675.0" r="5.5"/><circle cx="665.3" cy="734.5" r="5.5"/><circle cx="663.2" cy="731.9" r="5.5"/><circle cx="663.2" cy="738.6" r="5.5"/><circle cx="493.6" cy="722.2" r="5.5"/><circle cx="740.8" cy="681.2" r="5.5"/><circle cx="902.6" cy="718.4" r="5.5"/><circle cx="642.5" cy="655.7" r="5.5"/><circle cx="718.5" cy="736.5" r="5.5"/><circle cx="593.3" cy="736.2" r="5.5"/><circle cx="560.6" cy="739.3" r="5.5"/><circle cx="630.3" cy="740.4" r="5.5"/><circle cx="905.6" cy="723.7" r="5.5"/><circle cx="673.8" cy="731.5" r="5.5"/><circle cx="810.8" cy="744.2" r="5.5"/><circle cx="748.0" cy="646.9" r="5.5"/><circle cx="651.1" cy="718.6" r="5.5"/><circle cx="919.7" cy="734.5" r="5.5"/><circle cx="832.5" cy="743.0" r="5.5"/><circle cx="865.4" cy="719.0" r="5.5"/><circle cx="925.9" cy="736.2" r="5.5"/><circle cx="596.0" cy="729.2" r="5.5"/><circle cx="648.7" cy="690.6" r="5.5"/></g>
<g class="b"><circle cx="455.1" cy="633.2" r="5.5"/><circle cx="572.7" cy="695.4" r="5.5"/><circle cx="462.6" cy="636.3" r="5.5"/><circle cx="494.7" cy="627.8" r="5.5"/><circle cx="554.4" cy="658.2" r="5.5"/><circle cx="492.7" cy="680.9" r="5.5"/><circle cx="313.8" cy="436.8" r="5.5"/><circle cx="539.1" cy="614.3" r="5.5"/><circle cx="551.0" cy="687.6" r="5.5"/><circle cx="562.0" cy="634.2" r="5.5"/><circle cx="493.0" cy="650.3" r="5.5"/><circle cx="560.7" cy="625.1" r="5.5"/><circle cx="482.2" cy="705.3" r="5.5"/><circle cx="532.4" cy="598.6" r="5.5"/><circle cx="435.8" cy="683.8" r="5.5"/><circle cx="453.6" cy="675.2" r="5.5"/><circle cx="484.1" cy="689.5" r="5.5"/><circle cx="581.4" cy="685.0" r="5.5"/><circle cx="482.5" cy="691.0" r="5.5"/><circle cx="609.7" cy="668.7" r="5.5"/><circle cx="594.5" cy="666.7" r="5.5"/><circle cx="456.9" cy="636.8" r="5.5"/><circle cx="517.2" cy="665.4" r="5.5"/><circle cx="471.7" cy="656.6" r="5.5"/><circle cx="553.2" cy="652.1" r="5.5"/><circle cx="414.0" cy="596.2" r="5.5"/><circle cx="408.2" cy="510.8" r="5.5"/><circle cx="504.9" cy="642.2" r="5.5"/><circle cx="576.8" cy="699.3" r="5.5"/><circle cx="355.8" cy="620.8" r="5.5"/><circle cx="482.5" cy="689.2" r="5.5"/><circle cx="487.5" cy="636.8" r="5.5"/><circle cx="456.0" cy="663.4" r="5.5"/><circle cx="598.9" cy="685.1" r="5.5"/><circle cx="590.4" cy="688.4" r="5.5"/><circle cx="445.0" cy="641.2" r="5.5"/><circle cx="538.0" cy="636.3" r="5.5"/></g>
<g class="r"><circle cx="815.6" cy="662.1" r="5.5"/><circle cx="768.2" cy="605.2" r="5.5"/><circle cx="829.9" cy="676.9" r="5.5"/><circle cx="846.8" cy="672.0" r="5.5"/><circle cx="818.7" cy="610.7" r="5.5"/><circle cx="1143.8" cy="623.5" r="5.5"/><circle cx="893.0" cy="689.7" r="5.5"/><circle cx="819.5" cy="607.8" r="5.5"/><circle cx="799.4" cy="623.6" r="5.5"/><circle cx="1090.2" cy="638.5" r="5.5"/><circle cx="806.6" cy="595.6" r="5.5"/><circle cx="846.0" cy="684.8" r="5.5"/><circle cx="771.7" cy="656.8" r="5.5"/><circle cx="810.2" cy="664.3" r="5.5"/><circle cx="770.1" cy="612.2" r="5.5"/><circle cx="792.9" cy="650.4" r="5.5"/><circle cx="803.7" cy="647.6" r="5.5"/><circle cx="783.5" cy="612.1" r="5.5"/><circle cx="836.0" cy="476.2" r="5.5"/><circle cx="786.8" cy="662.1" r="5.5"/><circle cx="823.5" cy="652.1" r="5.5"/><circle cx="799.8" cy="548.0" r="5.5"/><circle cx="819.0" cy="672.5" r="5.5"/><circle cx="879.7" cy="680.2" r="5.5"/><circle cx="894.5" cy="692.7" r="5.5"/><circle cx="890.2" cy="54.2" r="5.5"/><circle cx="888.0" cy="423.0" r="5.5"/><circle cx="863.8" cy="662.7" r="5.5"/><circle cx="863.1" cy="667.8" r="5.5"/><circle cx="910.0" cy="660.7" r="5.5"/><circle cx="1053.0" cy="689.2" r="5.5"/><circle cx="830.2" cy="659.3" r="5.5"/><circle cx="898.6" cy="654.9" r="5.5"/></g>
<g class="g"><circle cx="788.3" cy="719.8" r="5.5"/><circle cx="640.8" cy="738.1" r="5.5"/><circle cx="866.0" cy="723.1" r="5.5"/><circle cx="922.8" cy="736.0" r="5.5"/><circle cx="899.5" cy="717.8" r="5.5"/><circle cx="817.8" cy="719.9" r="5.5"/><circle cx="527.6" cy="733.4" r="5.5"/><circle cx="875.7" cy="717.4" r="5.5"/><circle cx="723.9" cy="736.4" r="5.5"/><circle cx="635.2" cy="704.2" r="5.5"/><circle cx="513.6" cy="730.0" r="5.5"/><circle cx="803.3" cy="744.4" r="5.5"/><circle cx="497.0" cy="718.5" r="5.5"/><circle cx="940.8" cy="727.0" r="5.5"/><circle cx="660.2" cy="716.4" r="5.5"/><circle cx="477.8" cy="716.9" r="5.5"/><circle cx="752.5" cy="676.8" r="5.5"/><circle cx="819.5" cy="722.3" r="5.5"/><circle cx="725.5" cy="751.2" r="5.5"/><circle cx="715.5" cy="732.0" r="5.5"/><circle cx="743.7" cy="654.0" r="5.5"/><circle cx="647.5" cy="673.7" r="5.5"/><circle cx="826.9" cy="719.8" r="5.5"/><circle cx="485.4" cy="720.1" r="5.5"/><circle cx="597.0" cy="731.8" r="5.5"/><circle cx="662.4" cy="731.7" r="5.5"/><circle cx="617.7" cy="740.7" r="5.5"/><circle cx="758.1" cy="718.1" r="5.5"/><circle cx="872.9" cy="732.4" r="5.5"/><circle cx="475.2" cy="717.4" r="5.5"/><circle cx="743.6" cy="674.2" r="5.5"/><circle cx="651.3" cy="674.5" r="5.5"/><circle cx="888.1" cy="724.2" r="5.5"/><circle cx="700.5" cy="752.8" r="5.5"/><circle cx="648.9" cy="712.3" r="5.5"/><circle cx="639.5" cy="628.0" r="5.5"/><circle cx="630.3" cy="743.1" r="5.5"/><circle cx="678.9" cy="748.2" r="5.5"/><circle cx="751.2" cy="702.6" r="5.5"/><circle cx="752.3" cy="719.6" r="5.5"/><circle cx="580.4" cy="729.8" r="5.5"/><circle cx="637.8" cy="720.0" r="5.5"/><circle cx="579.4" cy="713.6" r="5.5"/><circle cx="726.1" cy="695.6" r="5.5"/><circle cx="652.7" cy="719.1" r="5.5"/><circle cx="663.7" cy="704.2" r="5.5"/><circle cx="813.6" cy="727.1" r="5.5"/><circle cx="643.0" cy="739.7" r="5.5"/><circle cx="647.2" cy="678.5" r="5.5"/><circle cx="717.5" cy="713.4" r="5.5"/><circle cx="848.0" cy="736.9" r="5.5"/><circle cx="640.4" cy="749.6" r="5.5"/><circle cx="555.0" cy="714.1" r="5.5"/><circle cx="758.9" cy="690.9" r="5.5"/><circle cx="746.0" cy="692.9" r="5.5"/><circle cx="748.8" cy="687.8" r="5.5"/><circle cx="764.3" cy="735.6" r="5.5"/><circle cx="493.7" cy="714.1" r="5.5"/><circle cx="816.6" cy="714.4" r="5.5"/><circle cx="733.2" cy="742.3" r="5.5"/><circle cx="500.0" cy="718.4" r="5.5"/><circle cx="911.6" cy="720.6" r="5.5"/><circle cx="712.9" cy="752.2" r="5.5"/><circle cx="640.4" cy="726.0" r="5.5"/><circle cx="681.8" cy="746.2" r="5.5"/><circle cx="786.2" cy="745.4" r="5.5"/><circle cx="522.7" cy="730.7" r="5.5"/><circle cx="905.4" cy="719.4" r="5.5"/><circle cx="721.2" cy="740.9" r="5.5"/><circle cx="652.5" cy="712.2" r="5.5"/><circle cx="520.4" cy="732.7" r="5.5"/><circle cx="803.4" cy="746.8" r="5.5"/><circle cx="650.5" cy="691.2" r="5.5"/><circle cx="725.1" cy="685.3" r="5.5"/><circle cx="682.5" cy="745.9" r="5.5"/><circle cx="723.9" cy="719.8" r="5.5"/><circle cx="856.7" cy="741.3" r="5.5"/><circle cx="577.1" cy="743.9" r="5.5"/><circle cx="818.9" cy="712.5" r="5.5"/><circle cx="585.9" cy="738.5" r="5.5"/><circle cx="706.6" cy="732.4" r="5.5"/><circle cx="732.6" cy="677.8" r="5.5"/><circle cx="905.5" cy="739.0" r="5.5"/><circle cx="613.4" cy="741.4" r="5.5"/><circle cx="757.6" cy="727.2" r="5.5"/><circle cx="743.2" cy="733.6" r="5.5"/><circle cx="629.7" cy="641.2" r="5.5"/><circle cx="830.3" cy="735.9" r="5.5"/><circle cx="636.3" cy="734.0" r="5.5"/><circle cx="921.3" cy="722.7" r="5.5"/><circle cx="852.8" cy="738.3" r="5.5"/><circle cx="540.4" cy="718.6" r="5.5"/><circle cx="747.8" cy="702.8" r="5.5"/><circle cx="724.5" cy="745.2" r="5.5"/><circle cx="661.9" cy="726.5" r="5.5"/><circle cx="728.4" cy="727.1" r="5.5"/><circle cx="536.3" cy="733.1" r="5.5"/><circle cx="627.5" cy="600.0" r="5.5"/><circle cx="555.9" cy="739.3" r="5.5"/><circle cx="742.8" cy="718.5" r="5.5"/><circle cx="815.0" cy="732.3" r="5.5"/><circle cx="574.6" cy="717.6" r="5.5"/><circle cx="722.7" cy="733.5" r="5.5"/><circle cx="585.4" cy="717.3" r="5.5"/><circle cx="733.0" cy="742.3" r="5.5"/><circle cx="520.1" cy="726.5" r="5.5"/><circle cx="788.0" cy="714.5" r="5.5"/><circle cx="595.0" cy="727.2" r="5.5"/><circle cx="750.9" cy="739.3" r="5.5"/><circle cx="755.5" cy="725.4" r="5.5"/><circle cx="633.3" cy="731.6" r="5.5"/><circle cx="667.7" cy="717.3" r="5.5"/><circle cx="761.1" cy="672.2" r="5.5"/><circle cx="650.0" cy="719.3" r="5.5"/><circle cx="793.5" cy="734.0" r="5.5"/><circle cx="856.6" cy="714.7" r="5.5"/><circle cx="737.3" cy="732.0" r="5.5"/><circle cx="597.6" cy="723.0" r="5.5"/><circle cx="926.7" cy="720.6" r="5.5"/><circle cx="802.9" cy="735.3" r="5.5"/><circle cx="544.7" cy="723.2" r="5.5"/><circle cx="495.5" cy="725.8" r="5.5"/><circle cx="849.1" cy="738.0" r="5.5"/><circle cx="462.8" cy="712.8" r="5.5"/><circle cx="648.5" cy="738.3" r="5.5"/><circle cx="720.6" cy="716.4" r="5.5"/><circle cx="756.0" cy="673.7" r="5.5"/><circle cx="835.7" cy="728.5" r="5.5"/><circle cx="532.3" cy="730.0" r="5.5"/><circle cx="637.5" cy="686.3" r="5.5"/><circle cx="758.0" cy="686.9" r="5.5"/><circle cx="835.8" cy="734.2" r="5.5"/><circle cx="595.3" cy="725.9" r="5.5"/><circle cx="887.9" cy="724.3" r="5.5"/><circle cx="652.0" cy="745.5" r="5.5"/><circle cx="640.5" cy="750.6" r="5.5"/><circle cx="969.3" cy="717.8" r="5.5"/><circle cx="570.3" cy="729.0" r="5.5"/><circle cx="643.1" cy="657.9" r="5.5"/><circle cx="909.1" cy="712.5" r="5.5"/><circle cx="523.6" cy="715.1" r="5.5"/><circle cx="608.4" cy="725.3" r="5.5"/><circle cx="623.3" cy="699.9" r="5.5"/><circle cx="860.0" cy="720.2" r="5.5"/><circle cx="697.1" cy="752.5" r="5.5"/><circle cx="533.7" cy="716.8" r="5.5"/><circle cx="734.6" cy="680.5" r="5.5"/><circle cx="751.5" cy="665.0" r="5.5"/><circle cx="804.9" cy="716.6" r="5.5"/><circle cx="772.1" cy="743.1" r="5.5"/><circle cx="824.4" cy="735.1" r="5.5"/><circle cx="513.8" cy="728.9" r="5.5"/><circle cx="595.7" cy="747.2" r="5.5"/><circle cx="899.1" cy="730.9" r="5.5"/><circle cx="705.7" cy="749.8" r="5.5"/><circle cx="601.5" cy="728.0" r="5.5"/><circle cx="639.2" cy="702.2" r="5.5"/><circle cx="670.6" cy="731.6" r="5.5"/><circle cx="768.2" cy="741.3" r="5.5"/><circle cx="724.3" cy="701.2" r="5.5"/><circle cx="759.6" cy="713.2" r="5.5"/><circle cx="491.7" cy="720.9" r="5.5"/></g>
<g class="b"><circle cx="493.8" cy="660.7" r="5.5"/><circle cx="511.5" cy="602.6" r="5.5"/><circle cx="451.6" cy="661.4" r="5.5"/><circle cx="564.3" cy="679.8" r="5.5"/><circle cx="498.8" cy="559.5" r="5.5"/><circle cx="483.8" cy="513.8" r="5.5"/><circle cx="469.6" cy="686.6" r="5.5"/><circle cx="494.9" cy="637.0" r="5.5"/><circle cx="506.9" cy="673.9" r="5.5"/><circle cx="460.0" cy="685.6" r="5.5"/><circle cx="581.3" cy="642.3" r="5.5"/><circle cx="489.9" cy="685.1" r="5.5"/><circle cx="552.2" cy="622.6" r="5.5"/><circle cx="447.5" cy="699.2" r="5.5"/><circle cx="590.9" cy="704.3" r="5.5"/><circle cx="543.3" cy="681.6" r="5.5"/><circle cx="555.1" cy="701.0" r="5.5"/><circle cx="468.2" cy="440.0" r="5.5"/><circle cx="371.5" cy="572.5" r="5.5"/><circle cx="608.1" cy="674.2" r="5.5"/><circle cx="437.5" cy="647.5" r="5.5"/><circle cx="432.0" cy="666.0" r="5.5"/><circle cx="596.8" cy="642.4" r="5.5"/><circle cx="527.5" cy="636.6" r="5.5"/><circle cx="462.3" cy="646.4" r="5.5"/><circle cx="584.8" cy="684.7" r="5.5"/><circle cx="536.8" cy="662.2" r="5.5"/><circle cx="594.6" cy="684.5" r="5.5"/><circle cx="602.8" cy="701.9" r="5.5"/><circle cx="391.8" cy="667.0" r="5.5"/><circle cx="501.3" cy="637.5" r="5.5"/><circle cx="528.4" cy="632.8" r="5.5"/><circle cx="460.0" cy="672.3" r="5.5"/><circle cx="513.1" cy="659.9" r="5.5"/><circle cx="487.3" cy="611.9" r="5.5"/><circle cx="541.7" cy="677.2" r="5.5"/><circle cx="612.5" cy="655.5" r="5.5"/></g>
<g class="r"><circle cx="829.6" cy="651.7" r="5.5"/><circle cx="864.2" cy="533.8" r="5.5"/><circle cx="835.2" cy="674.8" r="5.5"/><circle cx="820.0" cy="650.8" r="5.5"/><circle cx="807.3" cy="647.2" r="5.5"/><circle cx="930.8" cy="641.5" r="5.5"/><circle cx="769.6" cy="666.4" r="5.5"/><circle cx="821.4" cy="661.3" r="5.5"/><circle cx="773.7" cy="625.9" r="5.5"/><circle cx="847.7" cy="697.4" r="5.5"/><circle cx="835.0" cy="582.5" r="5.5"/><circle cx="798.2" cy="676.9" r="5.5"/><circle cx="871.1" cy="656.5" r="5.5"/><circle cx="791.2" cy="645.9" r="5.5"/><circle cx="883.4" cy="670.1" r="5.5"/><circle cx="884.7" cy="692.3" r="5.5"/><circle cx="965.0" cy="690.4" r="5.5"/><circle cx="1009.8" cy="693.2" r="5.5"/><circle cx="798.2" cy="630.7" r="5.5"/><circle cx="849.8" cy="576.2" r="5.5"/><circle cx="878.6" cy="650.7" r="5.5"/><circle cx="784.7" cy="666.2" r="5.5"/><circle cx="795.7" cy="580.4" r="5.5"/><circle cx="896.5" cy="694.7" r="5.5"/><circle cx="786.0" cy="544.5" r="5.5"/><circle cx="775.4" cy="581.9" r="5.5"/><circle cx="776.2" cy="613.8" r="5.5"/><circle cx="908.0" cy="704.8" r="5.5"/><circle cx="831.3" cy="621.0" r="5.5"/><circle cx="870.0" cy="406.5" r="5.5"/><circle cx="854.3" cy="692.4" r="5.5"/><circle cx="785.0" cy="675.8" r="5.5"/><circle cx="865.2" cy="630.7" r="5.5"/><circle cx="831.2" cy="647.0" r="5.5"/><circle cx="775.5" cy="661.7" r="5.5"/><circle cx="865.2" cy="676.8" r="5.5"/><circle cx="876.2" cy="701.5" r="5.5"/></g>
<g class="g"><circle cx="650.2" cy="673.1" r="5.5"/><circle cx="652.5" cy="749.8" r="5.5"/><circle cx="748.4" cy="743.0" r="5.5"/><circle cx="639.0" cy="683.7" r="5.5"/><circle cx="752.8" cy="632.0" r="5.5"/><circle cx="740.0" cy="740.3" r="5.5"/><circle cx="927.6" cy="725.5" r="5.5"/><circle cx="666.6" cy="730.1" r="5.5"/><circle cx="732.4" cy="681.2" r="5.5"/><circle cx="511.1" cy="713.9" r="5.5"/><circle cx="726.1" cy="691.0" r="5.5"/><circle cx="611.9" cy="731.0" r="5.5"/><circle cx="754.1" cy="653.4" r="5.5"/><circle cx="663.5" cy="744.2" r="5.5"/><circle cx="744.8" cy="684.4" r="5.5"/><circle cx="850.7" cy="723.3" r="5.5"/><circle cx="517.4" cy="732.4" r="5.5"/><circle cx="506.4" cy="712.9" r="5.5"/><circle cx="821.0" cy="732.0" r="5.5"/><circle cx="501.7" cy="723.1" r="5.5"/><circle cx="725.5" cy="725.6" r="5.5"/><circle cx="716.0" cy="752.8" r="5.5"/><circle cx="616.3" cy="722.6" r="5.5"/><circle cx="748.0" cy="743.9" r="5.5"/><circle cx="774.3" cy="738.0" r="5.5"/><circle cx="911.8" cy="722.5" r="5.5"/><circle cx="646.4" cy="728.9" r="5.5"/><circle cx="587.2" cy="738.9" r="5.5"/><circle cx="753.9" cy="631.7" r="5.5"/><circle cx="613.5" cy="717.9" r="5.5"/><circle cx="816.2" cy="740.3" r="5.5"/><circle cx="913.5" cy="737.5" r="5.5"/><circle cx="526.3" cy="726.9" r="5.5"/><circle cx="760.7" cy="712.9" r="5.5"/><circle cx="733.3" cy="749.6" r="5.5"/><circle cx="807.8" cy="719.1" r="5.5"/><circle cx="731.3" cy="731.0" r="5.5"/><circle cx="535.9" cy="728.9" r="5.5"/><circle cx="758.6" cy="706.5" r="5.5"/><circle cx="510.3" cy="726.7" r="5.5"/><circle cx="805.8" cy="744.5" r="5.5"/><circle cx="874.4" cy="741.4" r="5.5"/><circle cx="732.4" cy="701.7" r="5.5"/><circle cx="556.0" cy="724.2" r="5.5"/><circle cx="858.5" cy="740.6" r="5.5"/><circle cx="502.1" cy="728.2" r="5.5"/><circle cx="563.2" cy="730.8" r="5.5"/><circle cx="724.5" cy="719.9" r="5.5"/><circle cx="742.2" cy="744.3" r="5.5"/><circle cx="544.5" cy="729.3" r="5.5"/><circle cx="727.2" cy="725.9" r="5.5"/><circle cx="661.3" cy="714.1" r="5.5"/><circle cx="937.2" cy="716.4" r="5.5"/><circle cx="760.8" cy="637.2" r="5.5"/><circle cx="497.6" cy="722.1" r="5.5"/><circle cx="760.4" cy="639.4" r="5.5"/><circle cx="607.4" cy="730.4" r="5.5"/><circle cx="624.1" cy="657.7" r="5.5"/><circle cx="626.5" cy="665.3" r="5.5"/><circle cx="736.4" cy="715.0" r="5.5"/><circle cx="733.6" cy="703.8" r="5.5"/><circle cx="537.5" cy="732.7" r="5.5"/><circle cx="681.6" cy="744.8" r="5.5"/><circle cx="677.1" cy="745.4" r="5.5"/><circle cx="646.1" cy="738.4" r="5.5"/><circle cx="632.0" cy="695.9" r="5.5"/><circle cx="911.4" cy="722.0" r="5.5"/><circle cx="632.5" cy="662.0" r="5.5"/><circle cx="846.2" cy="742.7" r="5.5"/><circle cx="743.1" cy="677.8" r="5.5"/><circle cx="509.2" cy="714.0" r="5.5"/><circle cx="518.8" cy="716.3" r="5.5"/><circle cx="721.6" cy="705.6" r="5.5"/><circle cx="857.4" cy="713.2" r="5.5"/><circle cx="623.9" cy="740.6" r="5.5"/><circle cx="886.7" cy="729.4" r="5.5"/><circle cx="677.7" cy="735.4" r="5.5"/><circle cx="758.4" cy="684.1" r="5.5"/><circle cx="634.8" cy="729.2" r="5.5"/><circle cx="634.2" cy="710.9" r="5.5"/><circle cx="508.7" cy="727.0" r="5.5"/><circle cx="647.6" cy="743.9" r="5.5"/><circle cx="660.3" cy="712.9" r="5.5"/><circle cx="620.6" cy="706.6" r="5.5"/><circle cx="791.3" cy="724.7" r="5.5"/><circle cx="644.4" cy="709.6" r="5.5"/><circle cx="620.9" cy="704.8" r="5.5"/><circle cx="637.8" cy="682.7" r="5.5"/><circle cx="626.1" cy="689.3" r="5.5"/><circle cx="731.7" cy="708.0" r="5.5"/><circle cx="546.9" cy="732.9" r="5.5"/><circle cx="759.3" cy="744.9" r="5.5"/><circle cx="511.0" cy="716.1" r="5.5"/><circle cx="883.5" cy="725.3" r="5.5"/><circle cx="525.6" cy="728.5" r="5.5"/><circle cx="749.4" cy="649.5" r="5.5"/><circle cx="641.0" cy="707.7" r="5.5"/><circle cx="603.5" cy="746.4" r="5.5"/><circle cx="816.0" cy="741.7" r="5.5"/><circle cx="633.4" cy="686.7" r="5.5"/><circle cx="652.7" cy="738.5" r="5.5"/><circle cx="816.3" cy="733.4" r="5.5"/><circle cx="833.4" cy="737.4" r="5.5"/><circle cx="652.0" cy="729.0" r="5.5"/><circle cx="592.2" cy="719.7" r="5.5"/><circle cx="739.7" cy="729.7" r="5.5"/><circle cx="583.3" cy="713.8" r="5.5"/><circle cx="589.2" cy="730.3" r="5.5"/><circle cx="623.9" cy="721.8" r="5.5"/><circle cx="910.4" cy="734.9" r="5.5"/><circle cx="568.4" cy="735.9" r="5.5"/><circle cx="823.1" cy="720.5" r="5.5"/><circle cx="659.9" cy="718.3" r="5.5"/><circle cx="747.2" cy="744.1" r="5.5"/><circle cx="744.7" cy="682.3" r="5.5"/><circle cx="553.9" cy="732.7" r="5.5"/><circle cx="729.3" cy="732.4" r="5.5"/><circle cx="892.5" cy="718.7" r="5.5"/><circle cx="739.3" cy="688.7" r="5.5"/><circle cx="737.6" cy="687.9" r="5.5"/><circle cx="740.9" cy="746.6" r="5.5"/><circle cx="939.4" cy="718.5" r="5.5"/><circle cx="520.6" cy="721.6" r="5.5"/><circle cx="754.9" cy="664.8" r="5.5"/><circle cx="712.6" cy="753.1" r="5.5"/><circle cx="757.8" cy="641.6" r="5.5"/><circle cx="663.9" cy="739.8" r="5.5"/><circle cx="631.1" cy="737.2" r="5.5"/><circle cx="758.1" cy="651.6" r="5.5"/><circle cx="544.9" cy="718.0" r="5.5"/><circle cx="752.9" cy="717.4" r="5.5"/><circle cx="492.6" cy="724.5" r="5.5"/><circle cx="504.5" cy="721.0" r="5.5"/><circle cx="721.3" cy="705.0" r="5.5"/><circle cx="772.7" cy="731.5" r="5.5"/><circle cx="833.5" cy="729.1" r="5.5"/><circle cx="754.1" cy="721.9" r="5.5"/><circle cx="745.0" cy="704.1" r="5.5"/><circle cx="745.9" cy="655.7" r="5.5"/><circle cx="495.5" cy="725.4" r="5.5"/><circle cx="505.7" cy="729.0" r="5.5"/><circle cx="738.6" cy="673.1" r="5.5"/><circle cx="632.4" cy="727.2" r="5.5"/><circle cx="876.9" cy="737.0" r="5.5"/><circle cx="774.6" cy="713.4" r="5.5"/><circle cx="496.4" cy="712.6" r="5.5"/><circle cx="780.2" cy="722.8" r="5.5"/><circle cx="498.5" cy="717.2" r="5.5"/><circle cx="656.5" cy="705.2" r="5.5"/><circle cx="711.5" cy="739.2" r="5.5"/><circle cx="717.7" cy="738.9" r="5.5"/><circle cx="900.3" cy="723.3" r="5.5"/><circle cx="778.8" cy="719.0" r="5.5"/><circle cx="634.7" cy="674.1" r="5.5"/><circle cx="784.0" cy="745.2" r="5.5"/></g>
<g class="b"><circle cx="502.5" cy="531.2" r="5.5"/><circle cx="600.3" cy="697.9" r="5.5"/><circle cx="484.4" cy="639.2" r="5.5"/><circle cx="609.9" cy="692.3" r="5.5"/><circle cx="554.0" cy="647.1" r="5.5"/><circle cx="526.0" cy="692.1" r="5.5"/><circle cx="505.5" cy="637.3" r="5.5"/><circle cx="534.0" cy="652.9" r="5.5"/><circle cx="494.8" cy="697.3" r="5.5"/><circle cx="552.2" cy="657.9" r="5.5"/><circle cx="569.4" cy="648.5" r="5.5"/><circle cx="440.2" cy="464.5" r="5.5"/><circle cx="596.6" cy="593.7" r="5.5"/><circle cx="609.3" cy="604.2" r="5.5"/><circle cx="596.8" cy="656.9" r="5.5"/><circle cx="429.0" cy="608.8" r="5.5"/><circle cx="579.4" cy="640.7" r="5.5"/><circle cx="389.0" cy="605.0" r="5.5"/><circle cx="414.0" cy="612.5" r="5.5"/><circle cx="563.7" cy="683.0" r="5.5"/><circle cx="586.0" cy="602.3" r="5.5"/><circle cx="569.5" cy="702.3" r="5.5"/><circle cx="469.1" cy="702.9" r="5.5"/><circle cx="615.1" cy="596.4" r="5.5"/><circle cx="555.7" cy="647.8" r="5.5"/><circle cx="466.1" cy="651.2" r="5.5"/><circle cx="441.5" cy="548.0" r="5.5"/><circle cx="498.8" cy="502.5" r="5.5"/><circle cx="454.7" cy="636.3" r="5.5"/><circle cx="593.0" cy="653.0" r="5.5"/><circle cx="557.6" cy="675.1" r="5.5"/><circle cx="512.9" cy="696.2" r="5.5"/><circle cx="502.8" cy="655.7" r="5.5"/><circle cx="580.5" cy="566.5" r="5.5"/><circle cx="539.0" cy="662.2" r="5.5"/><circle cx="407.8" cy="592.0" r="5.5"/><circle cx="558.9" cy="681.9" r="5.5"/><circle cx="481.5" cy="688.7" r="5.5"/><circle cx="591.9" cy="693.2" r="5.5"/><circle cx="605.5" cy="642.9" r="5.5"/><circle cx="565.3" cy="686.9" r="5.5"/><circle cx="480.5" cy="500.8" r="5.5"/><circle cx="463.0" cy="563.2" r="5.5"/><circle cx="607.9" cy="644.5" r="5.5"/><circle cx="541.5" cy="621.2" r="5.5"/><circle cx="468.0" cy="694.0" r="5.5"/><circle cx="606.2" cy="632.9" r="5.5"/><circle cx="523.8" cy="647.6" r="5.5"/><circle cx="573.7" cy="648.0" r="5.5"/><circle cx="599.1" cy="645.6" r="5.5"/></g>
<g class="r"><circle cx="819.2" cy="642.4" r="5.5"/><circle cx="803.3" cy="682.6" r="5.5"/><circle cx="791.6" cy="699.3" r="5.5"/><circle cx="826.9" cy="616.2" r="5.5"/><circle cx="1018.3" cy="671.8" r="5.5"/><circle cx="858.6" cy="689.8" r="5.5"/><circle cx="788.0" cy="658.4" r="5.5"/><circle cx="846.0" cy="622.7" r="5.5"/><circle cx="771.4" cy="638.3" r="5.5"/><circle cx="875.6" cy="680.5" r="5.5"/><circle cx="873.1" cy="657.3" r="5.5"/><circle cx="974.1" cy="700.7" r="5.5"/><circle cx="944.0" cy="685.9" r="5.5"/><circle cx="809.3" cy="670.6" r="5.5"/><circle cx="903.6" cy="669.9" r="5.5"/><circle cx="861.8" cy="626.2" r="5.5"/><circle cx="798.7" cy="705.2" r="5.5"/><circle cx="770.1" cy="589.4" r="5.5"/><circle cx="848.2" cy="680.5" r="5.5"/><circle cx="775.1" cy="672.7" r="5.5"/><circle cx="864.5" cy="676.5" r="5.5"/><circle cx="789.3" cy="659.4" r="5.5"/><circle cx="858.5" cy="634.2" r="5.5"/><circle cx="794.8" cy="582.6" r="5.5"/><circle cx="800.3" cy="661.2" r="5.5"/><circle cx="774.0" cy="635.5" r="5.5"/><circle cx="878.6" cy="656.4" r="5.5"/><circle cx="798.1" cy="695.6" r="5.5"/><circle cx="881.3" cy="688.8" r="5.5"/><circle cx="800.4" cy="662.5" r="5.5"/><circle cx="774.8" cy="585.7" r="5.5"/></g>
<g class="g"><circle cx="790.8" cy="747.3" r="5.5"/><circle cx="911.7" cy="732.2" r="5.5"/><circle cx="587.1" cy="744.9" r="5.5"/><circle cx="710.4" cy="729.4" r="5.5"/><circle cx="915.0" cy="719.5" r="5.5"/><circle cx="636.7" cy="680.2" r="5.5"/><circle cx="757.2" cy="700.4" r="5.5"/><circle cx="532.9" cy="712.5" r="5.5"/><circle cx="863.6" cy="734.1" r="5.5"/><circle cx="723.1" cy="697.3" r="5.5"/><circle cx="636.8" cy="688.1" r="5.5"/><circle cx="831.0" cy="736.0" r="5.5"/><circle cx="712.4" cy="747.9" r="5.5"/><circle cx="670.7" cy="754.4" r="5.5"/><circle cx="660.3" cy="716.1" r="5.5"/><circle cx="722.1" cy="749.0" r="5.5"/><circle cx="848.9" cy="739.0" r="5.5"/><circle cx="705.6" cy="740.6" r="5.5"/><circle cx="677.2" cy="736.8" r="5.5"/><circle cx="636.0" cy="722.7" r="5.5"/><circle cx="761.4" cy="740.6" r="5.5"/><circle cx="879.6" cy="718.5" r="5.5"/><circle cx="731.2" cy="721.9" r="5.5"/><circle cx="711.8" cy="727.0" r="5.5"/><circle cx="718.8" cy="734.1" r="5.5"/><circle cx="748.5" cy="708.4" r="5.5"/><circle cx="755.5" cy="719.0" r="5.5"/><circle cx="740.0" cy="714.5" r="5.5"/><circle cx="696.9" cy="748.5" r="5.5"/><circle cx="516.4" cy="727.5" r="5.5"/><circle cx="659.4" cy="718.5" r="5.5"/><circle cx="600.6" cy="748.3" r="5.5"/><circle cx="544.8" cy="713.9" r="5.5"/><circle cx="495.0" cy="724.6" r="5.5"/><circle cx="871.8" cy="732.7" r="5.5"/><circle cx="635.9" cy="667.1" r="5.5"/><circle cx="755.0" cy="696.6" r="5.5"/><circle cx="773.2" cy="743.5" r="5.5"/><circle cx="754.8" cy="727.9" r="5.5"/><circle cx="488.2" cy="712.6" r="5.5"/><circle cx="731.7" cy="704.6" r="5.5"/><circle cx="603.9" cy="744.3" r="5.5"/><circle cx="621.4" cy="739.4" r="5.5"/><circle cx="562.0" cy="727.5" r="5.5"/><circle cx="602.4" cy="739.9" r="5.5"/><circle cx="529.4" cy="726.3" r="5.5"/><circle cx="802.2" cy="743.9" r="5.5"/><circle cx="629.2" cy="715.7" r="5.5"/><circle cx="666.1" cy="716.2" r="5.5"/><circle cx="637.8" cy="656.3" r="5.5"/><circle cx="775.1" cy="738.5" r="5.5"/><circle cx="658.6" cy="747.9" r="5.5"/><circle cx="570.4" cy="718.7" r="5.5"/><circle cx="899.2" cy="740.3" r="5.5"/><circle cx="910.1" cy="712.5" r="5.5"/><circle cx="621.2" cy="730.3" r="5.5"/><circle cx="919.5" cy="720.5" r="5.5"/><circle cx="678.2" cy="746.8" r="5.5"/><circle cx="641.4" cy="707.6" r="5.5"/><circle cx="723.9" cy="702.6" r="5.5"/><circle cx="629.2" cy="694.8" r="5.5"/><circle cx="644.1" cy="681.1" r="5.5"/><circle cx="559.7" cy="730.8" r="5.5"/><circle cx="759.6" cy="727.4" r="5.5"/><circle cx="659.1" cy="738.1" r="5.5"/><circle cx="724.9" cy="713.5" r="5.5"/><circle cx="818.3" cy="728.5" r="5.5"/><circle cx="744.9" cy="739.9" r="5.5"/><circle cx="716.2" cy="718.3" r="5.5"/><circle cx="844.1" cy="715.3" r="5.5"/><circle cx="487.1" cy="723.1" r="5.5"/><circle cx="744.8" cy="725.0" r="5.5"/><circle cx="666.6" cy="721.7" r="5.5"/><circle cx="553.0" cy="731.2" r="5.5"/><circle cx="732.5" cy="685.6" r="5.5"/><circle cx="646.9" cy="695.9" r="5.5"/><circle cx="883.4" cy="723.6" r="5.5"/><circle cx="654.0" cy="727.7" r="5.5"/><circle cx="509.6" cy="724.6" r="5.5"/><circle cx="649.0" cy="687.6" r="5.5"/><circle cx="662.6" cy="705.0" r="5.5"/><circle cx="752.5" cy="686.2" r="5.5"/><circle cx="500.3" cy="716.8" r="5.5"/><circle cx="729.6" cy="703.8" r="5.5"/><circle cx="612.1" cy="750.3" r="5.5"/><circle cx="615.3" cy="719.7" r="5.5"/><circle cx="861.6" cy="719.5" r="5.5"/><circle cx="719.7" cy="712.7" r="5.5"/><circle cx="658.2" cy="703.1" r="5.5"/><circle cx="755.4" cy="706.4" r="5.5"/><circle cx="722.1" cy="715.6" r="5.5"/><circle cx="743.7" cy="739.0" r="5.5"/><circle cx="720.9" cy="713.2" r="5.5"/><circle cx="808.8" cy="736.4" r="5.5"/><circle cx="892.8" cy="720.5" r="5.5"/><circle cx="596.2" cy="743.9" r="5.5"/><circle cx="807.7" cy="743.2" r="5.5"/><circle cx="471.2" cy="716.8" r="5.5"/><circle cx="750.4" cy="680.1" r="5.5"/><circle cx="649.4" cy="733.1" r="5.5"/><circle cx="665.3" cy="739.2" r="5.5"/><circle cx="662.8" cy="747.8" r="5.5"/><circle cx="898.6" cy="734.9" r="5.5"/><circle cx="670.0" cy="722.0" r="5.5"/><circle cx="851.1" cy="738.5" r="5.5"/><circle cx="561.2" cy="732.4" r="5.5"/><circle cx="642.5" cy="713.9" r="5.5"/><circle cx="812.6" cy="714.8" r="5.5"/><circle cx="630.6" cy="746.7" r="5.5"/><circle cx="636.3" cy="731.9" r="5.5"/><circle cx="742.5" cy="728.9" r="5.5"/><circle cx="736.9" cy="682.7" r="5.5"/><circle cx="877.3" cy="718.8" r="5.5"/><circle cx="732.4" cy="708.0" r="5.5"/><circle cx="650.8" cy="753.9" r="5.5"/><circle cx="925.5" cy="715.6" r="5.5"/><circle cx="517.1" cy="730.6" r="5.5"/><circle cx="721.2" cy="708.5" r="5.5"/><circle cx="740.5" cy="720.9" r="5.5"/><circle cx="502.0" cy="727.9" r="5.5"/><circle cx="564.5" cy="727.3" r="5.5"/><circle cx="964.3" cy="733.5" r="5.5"/><circle cx="514.6" cy="721.0" r="5.5"/><circle cx="929.4" cy="729.4" r="5.5"/><circle cx="919.7" cy="736.3" r="5.5"/><circle cx="858.8" cy="731.6" r="5.5"/><circle cx="717.8" cy="710.8" r="5.5"/><circle cx="641.8" cy="740.4" r="5.5"/><circle cx="896.3" cy="717.4" r="5.5"/><circle cx="507.8" cy="725.0" r="5.5"/><circle cx="651.3" cy="742.7" r="5.5"/><circle cx="819.1" cy="725.3" r="5.5"/><circle cx="726.3" cy="722.9" r="5.5"/><circle cx="741.6" cy="697.4" r="5.5"/><circle cx="546.4" cy="738.3" r="5.5"/><circle cx="663.0" cy="734.9" r="5.5"/><circle cx="548.7" cy="726.2" r="5.5"/><circle cx="656.7" cy="726.3" r="5.5"/><circle cx="927.6" cy="716.0" r="5.5"/><circle cx="496.2" cy="726.0" r="5.5"/><circle cx="654.1" cy="730.4" r="5.5"/><circle cx="609.2" cy="735.5" r="5.5"/><circle cx="626.0" cy="707.6" r="5.5"/><circle cx="744.0" cy="741.1" r="5.5"/><circle cx="492.1" cy="714.9" r="5.5"/><circle cx="814.0" cy="735.6" r="5.5"/><circle cx="911.1" cy="730.8" r="5.5"/><circle cx="804.1" cy="742.1" r="5.5"/><circle cx="557.0" cy="727.2" r="5.5"/><circle cx="650.6" cy="708.0" r="5.5"/><circle cx="663.0" cy="722.0" r="5.5"/><circle cx="758.1" cy="748.1" r="5.5"/><circle cx="624.6" cy="720.0" r="5.5"/><circle cx="832.7" cy="715.8" r="5.5"/><circle cx="503.2" cy="718.9" r="5.5"/><circle cx="723.8" cy="745.4" r="5.5"/><circle cx="802.3" cy="714.9" r="5.5"/><circle cx="714.4" cy="718.9" r="5.5"/><circle cx="671.5" cy="723.9" r="5.5"/><circle cx="917.2" cy="718.9" r="5.5"/><circle cx="537.8" cy="733.6" r="5.5"/><circle cx="745.8" cy="720.6" r="5.5"/><circle cx="738.7" cy="716.7" r="5.5"/><circle cx="637.6" cy="692.6" r="5.5"/><circle cx="635.0" cy="712.7" r="5.5"/><circle cx="623.9" cy="708.5" r="5.5"/><circle cx="649.0" cy="731.2" r="5.5"/><circle cx="751.6" cy="728.9" r="5.5"/><circle cx="641.5" cy="680.5" r="5.5"/><circle cx="593.7" cy="722.5" r="5.5"/><circle cx="751.6" cy="721.0" r="5.5"/><circle cx="747.5" cy="648.5" r="5.5"/><circle cx="737.7" cy="703.1" r="5.5"/><circle cx="611.5" cy="730.9" r="5.5"/><circle cx="802.9" cy="737.8" r="5.5"/><circle cx="501.7" cy="721.4" r="5.5"/><circle cx="649.9" cy="734.2" r="5.5"/><circle cx="513.8" cy="724.8" r="5.5"/><circle cx="912.4" cy="740.2" r="5.5"/><circle cx="757.7" cy="674.0" r="5.5"/></g>
<g class="b"><circle cx="464.2" cy="624.9" r="5.5"/><circle cx="415.2" cy="620.0" r="5.5"/><circle cx="453.9" cy="693.4" r="5.5"/><circle cx="366.8" cy="580.5" r="5.5"/><circle cx="591.1" cy="639.5" r="5.5"/><circle cx="383.0" cy="445.5" r="5.5"/><circle cx="563.4" cy="672.1" r="5.5"/><circle cx="469.0" cy="677.3" r="5.5"/><circle cx="503.5" cy="623.8" r="5.5"/><circle cx="531.4" cy="646.8" r="5.5"/><circle cx="459.0" cy="658.5" r="5.5"/><circle cx="415.0" cy="643.0" r="5.5"/><circle cx="560.6" cy="607.3" r="5.5"/><circle cx="544.0" cy="630.4" r="5.5"/><circle cx="561.7" cy="693.3" r="5.5"/><circle cx="551.2" cy="609.8" r="5.5"/><circle cx="397.8" cy="447.5" r="5.5"/><circle cx="483.7" cy="679.8" r="5.5"/><circle cx="596.1" cy="663.7" r="5.5"/><circle cx="609.9" cy="686.6" r="5.5"/><circle cx="510.7" cy="630.5" r="5.5"/><circle cx="451.2" cy="699.5" r="5.5"/><circle cx="596.0" cy="680.4" r="5.5"/><circle cx="538.3" cy="646.5" r="5.5"/><circle cx="585.5" cy="672.6" r="5.5"/><circle cx="597.7" cy="666.9" r="5.5"/><circle cx="605.8" cy="700.4" r="5.5"/></g>
<g class="r"><circle cx="897.2" cy="644.7" r="5.5"/><circle cx="1031.8" cy="689.5" r="5.5"/><circle cx="862.8" cy="663.1" r="5.5"/><circle cx="769.2" cy="633.4" r="5.5"/><circle cx="796.6" cy="607.0" r="5.5"/><circle cx="829.7" cy="650.6" r="5.5"/><circle cx="767.4" cy="584.4" r="5.5"/><circle cx="830.8" cy="677.0" r="5.5"/><circle cx="814.4" cy="685.4" r="5.5"/><circle cx="780.2" cy="624.9" r="5.5"/><circle cx="850.2" cy="648.8" r="5.5"/><circle cx="768.8" cy="641.6" r="5.5"/><circle cx="806.8" cy="580.5" r="5.5"/><circle cx="857.3" cy="678.5" r="5.5"/><circle cx="813.0" cy="643.4" r="5.5"/><circle cx="925.6" cy="678.5" r="5.5"/><circle cx="843.8" cy="639.3" r="5.5"/><circle cx="779.7" cy="700.5" r="5.5"/><circle cx="856.0" cy="624.4" r="5.5"/><circle cx="768.4" cy="609.8" r="5.5"/><circle cx="904.9" cy="643.7" r="5.5"/><circle cx="833.0" cy="573.2" r="5.5"/><circle cx="1091.8" cy="696.5" r="5.5"/><circle cx="831.0" cy="612.6" r="5.5"/><circle cx="896.7" cy="676.0" r="5.5"/><circle cx="806.5" cy="652.0" r="5.5"/><circle cx="880.1" cy="677.5" r="5.5"/><circle cx="925.4" cy="699.9" r="5.5"/><circle cx="1049.8" cy="699.5" r="5.5"/></g>
<g class="g"><circle cx="633.4" cy="692.6" r="5.5"/><circle cx="665.4" cy="742.7" r="5.5"/><circle cx="657.7" cy="742.0" r="5.5"/><circle cx="902.2" cy="734.2" r="5.5"/><circle cx="837.7" cy="727.9" r="5.5"/><circle cx="509.6" cy="728.6" r="5.5"/><circle cx="653.5" cy="735.1" r="5.5"/><circle cx="760.6" cy="706.9" r="5.5"/><circle cx="787.3" cy="731.6" r="5.5"/><circle cx="716.1" cy="732.6" r="5.5"/><circle cx="879.5" cy="736.1" r="5.5"/><circle cx="637.9" cy="747.8" r="5.5"/><circle cx="528.5" cy="724.9" r="5.5"/><circle cx="595.7" cy="726.8" r="5.5"/><circle cx="759.4" cy="709.1" r="5.5"/><circle cx="889.2" cy="725.6" r="5.5"/><circle cx="727.9" cy="703.6" r="5.5"/><circle cx="904.6" cy="716.9" r="5.5"/><circle cx="750.9" cy="657.8" r="5.5"/><circle cx="650.5" cy="710.9" r="5.5"/><circle cx="629.0" cy="716.9" r="5.5"/><circle cx="581.8" cy="723.4" r="5.5"/><circle cx="631.1" cy="673.2" r="5.5"/><circle cx="717.4" cy="731.6" r="5.5"/><circle cx="830.7" cy="730.9" r="5.5"/><circle cx="760.6" cy="724.2" r="5.5"/><circle cx="949.8" cy="726.6" r="5.5"/><circle cx="637.6" cy="636.7" r="5.5"/><circle cx="953.6" cy="726.5" r="5.5"/><circle cx="663.8" cy="750.4" r="5.5"/><circle cx="773.1" cy="746.4" r="5.5"/><circle cx="731.1" cy="675.1" r="5.5"/><circle cx="726.8" cy="748.0" r="5.5"/><circle cx="611.0" cy="716.1" r="5.5"/><circle cx="515.5" cy="718.3" r="5.5"/><circle cx="723.9" cy="710.9" r="5.5"/><circle cx="631.7" cy="742.3" r="5.5"/><circle cx="635.4" cy="747.2" r="5.5"/><circle cx="520.6" cy="729.6" r="5.5"/><circle cx="635.8" cy="675.8" r="5.5"/><circle cx="626.5" cy="657.5" r="5.5"/><circle cx="585.6" cy="713.5" r="5.5"/><circle cx="761.0" cy="657.2" r="5.5"/><circle cx="866.7" cy="731.6" r="5.5"/><circle cx="1003.5" cy="738.8" r="5.5"/><circle cx="756.6" cy="693.0" r="5.5"/><circle cx="669.0" cy="743.5" r="5.5"/><circle cx="744.3" cy="661.4" r="5.5"/><circle cx="896.5" cy="737.4" r="5.5"/><circle cx="522.6" cy="728.2" r="5.5"/><circle cx="787.3" cy="718.7" r="5.5"/><circle cx="751.6" cy="701.9" r="5.5"/><circle cx="784.5" cy="713.4" r="5.5"/><circle cx="870.3" cy="714.0" r="5.5"/><circle cx="739.9" cy="683.4" r="5.5"/><circle cx="623.9" cy="732.2" r="5.5"/><circle cx="758.6" cy="738.0" r="5.5"/><circle cx="742.2" cy="677.4" r="5.5"/><circle cx="819.8" cy="739.8" r="5.5"/><circle cx="673.9" cy="749.2" r="5.5"/><circle cx="725.8" cy="700.8" r="5.5"/><circle cx="535.4" cy="728.6" r="5.5"/><circle cx="651.9" cy="693.0" r="5.5"/><circle cx="535.3" cy="734.7" r="5.5"/><circle cx="529.7" cy="730.0" r="5.5"/><circle cx="734.5" cy="713.7" r="5.5"/><circle cx="913.1" cy="728.6" r="5.5"/><circle cx="590.2" cy="726.0" r="5.5"/><circle cx="744.9" cy="705.1" r="5.5"/><circle cx="596.0" cy="733.7" r="5.5"/><circle cx="734.9" cy="672.9" r="5.5"/><circle cx="729.3" cy="711.7" r="5.5"/><circle cx="626.3" cy="675.1" r="5.5"/><circle cx="501.5" cy="714.6" r="5.5"/><circle cx="893.6" cy="730.4" r="5.5"/><circle cx="614.6" cy="748.4" r="5.5"/><circle cx="668.6" cy="735.4" r="5.5"/><circle cx="612.4" cy="719.0" r="5.5"/><circle cx="718.2" cy="716.3" r="5.5"/><circle cx="503.5" cy="713.9" r="5.5"/><circle cx="852.6" cy="722.4" r="5.5"/><circle cx="883.6" cy="718.7" r="5.5"/><circle cx="633.1" cy="646.0" r="5.5"/><circle cx="756.7" cy="682.4" r="5.5"/><circle cx="832.6" cy="742.9" r="5.5"/><circle cx="918.1" cy="731.6" r="5.5"/><circle cx="661.3" cy="724.7" r="5.5"/><circle cx="742.0" cy="718.6" r="5.5"/><circle cx="549.7" cy="722.7" r="5.5"/><circle cx="628.1" cy="712.9" r="5.5"/><circle cx="507.8" cy="729.2" r="5.5"/><circle cx="610.1" cy="735.1" r="5.5"/><circle cx="567.5" cy="717.8" r="5.5"/><circle cx="624.5" cy="735.5" r="5.5"/><circle cx="716.4" cy="736.6" r="5.5"/><circle cx="883.7" cy="735.1" r="5.5"/><circle cx="660.8" cy="748.6" r="5.5"/><circle cx="841.1" cy="737.1" r="5.5"/><circle cx="854.3" cy="721.6" r="5.5"/><circle cx="551.0" cy="724.5" r="5.5"/><circle cx="629.3" cy="725.8" r="5.5"/><circle cx="621.0" cy="704.5" r="5.5"/><circle cx="650.0" cy="738.1" r="5.5"/><circle cx="816.1" cy="734.1" r="5.5"/><circle cx="952.9" cy="715.5" r="5.5"/><circle cx="867.2" cy="733.5" r="5.5"/><circle cx="735.3" cy="706.6" r="5.5"/><circle cx="612.0" cy="715.7" r="5.5"/><circle cx="561.6" cy="718.2" r="5.5"/><circle cx="752.4" cy="705.3" r="5.5"/><circle cx="721.7" cy="706.6" r="5.5"/><circle cx="798.0" cy="733.4" r="5.5"/><circle cx="664.4" cy="720.3" r="5.5"/><circle cx="731.9" cy="711.7" r="5.5"/><circle cx="735.0" cy="741.4" r="5.5"/><circle cx="710.2" cy="743.1" r="5.5"/><circle cx="580.7" cy="714.6" r="5.5"/><circle cx="746.9" cy="732.9" r="5.5"/><circle cx="560.4" cy="720.6" r="5.5"/><circle cx="841.0" cy="743.8" r="5.5"/><circle cx="552.0" cy="730.9" r="5.5"/><circle cx="571.9" cy="729.1" r="5.5"/><circle cx="506.8" cy="719.4" r="5.5"/><circle cx="850.1" cy="727.6" r="5.5"/><circle cx="525.7" cy="718.4" r="5.5"/><circle cx="884.0" cy="732.0" r="5.5"/><circle cx="848.1" cy="729.5" r="5.5"/><circle cx="541.4" cy="727.7" r="5.5"/><circle cx="493.0" cy="718.0" r="5.5"/><circle cx="920.0" cy="721.8" r="5.5"/><circle cx="976.1" cy="728.9" r="5.5"/><circle cx="648.9" cy="685.1" r="5.5"/><circle cx="719.0" cy="720.4" r="5.5"/><circle cx="636.9" cy="688.6" r="5.5"/><circle cx="632.6" cy="686.4" r="5.5"/><circle cx="811.7" cy="722.2" r="5.5"/><circle cx="515.7" cy="715.1" r="5.5"/><circle cx="853.5" cy="716.7" r="5.5"/><circle cx="743.7" cy="668.5" r="5.5"/><circle cx="640.1" cy="645.9" r="5.5"/><circle cx="632.8" cy="731.8" r="5.5"/><circle cx="720.0" cy="718.0" r="5.5"/><circle cx="630.0" cy="667.9" r="5.5"/><circle cx="907.6" cy="734.3" r="5.5"/><circle cx="749.2" cy="703.2" r="5.5"/><circle cx="518.8" cy="723.1" r="5.5"/><circle cx="700.8" cy="745.3" r="5.5"/><circle cx="621.1" cy="696.1" r="5.5"/><circle cx="903.3" cy="740.3" r="5.5"/><circle cx="557.4" cy="716.7" r="5.5"/><circle cx="709.8" cy="750.1" r="5.5"/><circle cx="767.0" cy="749.6" r="5.5"/><circle cx="751.2" cy="680.5" r="5.5"/><circle cx="673.5" cy="734.5" r="5.5"/><circle cx="671.7" cy="751.0" r="5.5"/><circle cx="595.6" cy="727.9" r="5.5"/><circle cx="772.0" cy="746.2" r="5.5"/><circle cx="697.9" cy="752.1" r="5.5"/><circle cx="635.3" cy="709.2" r="5.5"/><circle cx="746.0" cy="714.2" r="5.5"/><circle cx="752.2" cy="719.6" r="5.5"/><circle cx="585.3" cy="726.3" r="5.5"/><circle cx="492.9" cy="719.6" r="5.5"/><circle cx="709.9" cy="745.9" r="5.5"/><circle cx="743.3" cy="731.5" r="5.5"/><circle cx="753.6" cy="650.0" r="5.5"/><circle cx="760.1" cy="687.1" r="5.5"/><circle cx="496.1" cy="722.0" r="5.5"/><circle cx="741.6" cy="692.0" r="5.5"/><circle cx="759.5" cy="715.5" r="5.5"/><circle cx="612.9" cy="750.4" r="5.5"/><circle cx="883.9" cy="731.4" r="5.5"/><circle cx="753.9" cy="653.0" r="5.5"/></g>
<g class="b"><circle cx="537.4" cy="678.0" r="5.5"/><circle cx="534.8" cy="602.0" r="5.5"/><circle cx="607.3" cy="663.4" r="5.5"/><circle cx="471.3" cy="593.0" r="5.5"/><circle cx="587.4" cy="661.9" r="5.5"/><circle cx="411.5" cy="590.5" r="5.5"/><circle cx="463.8" cy="530.5" r="5.5"/><circle cx="569.9" cy="663.6" r="5.5"/><circle cx="566.0" cy="701.1" r="5.5"/><circle cx="559.7" cy="651.8" r="5.5"/><circle cx="600.1" cy="653.9" r="5.5"/><circle cx="528.8" cy="683.5" r="5.5"/><circle cx="471.2" cy="621.4" r="5.5"/><circle cx="578.0" cy="590.0" r="5.5"/><circle cx="505.2" cy="699.2" r="5.5"/><circle cx="491.1" cy="642.1" r="5.5"/><circle cx="418.5" cy="612.5" r="5.5"/><circle cx="385.8" cy="645.8" r="5.5"/><circle cx="478.0" cy="698.0" r="5.5"/><circle cx="591.6" cy="669.0" r="5.5"/><circle cx="552.2" cy="633.9" r="5.5"/><circle cx="527.2" cy="660.0" r="5.5"/><circle cx="389.5" cy="654.5" r="5.5"/><circle cx="477.2" cy="649.8" r="5.5"/><circle cx="573.6" cy="660.5" r="5.5"/><circle cx="617.1" cy="640.2" r="5.5"/><circle cx="536.2" cy="637.2" r="5.5"/><circle cx="588.6" cy="662.0" r="5.5"/><circle cx="572.4" cy="682.5" r="5.5"/><circle cx="505.1" cy="696.2" r="5.5"/><circle cx="587.8" cy="683.2" r="5.5"/><circle cx="603.4" cy="646.4" r="5.5"/><circle cx="554.2" cy="547.5" r="5.5"/><circle cx="401.8" cy="638.8" r="5.5"/><circle cx="543.3" cy="703.4" r="5.5"/></g>
<g class="r"><circle cx="782.4" cy="596.6" r="5.5"/><circle cx="799.1" cy="692.3" r="5.5"/><circle cx="961.0" cy="467.0" r="5.5"/><circle cx="792.8" cy="633.1" r="5.5"/><circle cx="778.8" cy="702.3" r="5.5"/><circle cx="820.4" cy="657.4" r="5.5"/><circle cx="782.8" cy="660.2" r="5.5"/><circle cx="838.9" cy="703.0" r="5.5"/><circle cx="846.5" cy="679.6" r="5.5"/><circle cx="858.8" cy="702.6" r="5.5"/><circle cx="818.8" cy="678.5" r="5.5"/><circle cx="1016.8" cy="707.0" r="5.5"/><circle cx="836.3" cy="643.6" r="5.5"/><circle cx="876.0" cy="607.0" r="5.5"/><circle cx="955.6" cy="705.1" r="5.5"/><circle cx="917.3" cy="702.6" r="5.5"/><circle cx="822.1" cy="647.1" r="5.5"/><circle cx="913.9" cy="655.7" r="5.5"/><circle cx="957.0" cy="696.7" r="5.5"/><circle cx="964.7" cy="700.3" r="5.5"/><circle cx="890.6" cy="686.4" r="5.5"/><circle cx="852.3" cy="702.1" r="5.5"/><circle cx="891.7" cy="705.1" r="5.5"/><circle cx="960.8" cy="695.4" r="5.5"/><circle cx="814.1" cy="679.3" r="5.5"/><circle cx="812.2" cy="665.4" r="5.5"/><circle cx="895.8" cy="641.9" r="5.5"/><circle cx="837.4" cy="682.7" r="5.5"/></g>
<g class="g"><circle cx="596.7" cy="718.0" r="5.5"/><circle cx="601.3" cy="733.1" r="5.5"/><circle cx="806.4" cy="734.5" r="5.5"/><circle cx="772.3" cy="742.9" r="5.5"/><circle cx="880.4" cy="732.8" r="5.5"/><circle cx="882.3" cy="727.4" r="5.5"/><circle cx="761.1" cy="707.5" r="5.5"/><circle cx="736.3" cy="690.1" r="5.5"/><circle cx="848.7" cy="730.0" r="5.5"/><circle cx="647.8" cy="709.7" r="5.5"/><circle cx="743.2" cy="731.0" r="5.5"/><circle cx="568.8" cy="734.1" r="5.5"/><circle cx="738.7" cy="709.0" r="5.5"/><circle cx="722.5" cy="706.4" r="5.5"/><circle cx="654.4" cy="707.6" r="5.5"/><circle cx="785.9" cy="727.1" r="5.5"/><circle cx="562.6" cy="718.3" r="5.5"/><circle cx="654.6" cy="723.5" r="5.5"/><circle cx="868.6" cy="740.7" r="5.5"/><circle cx="747.9" cy="731.5" r="5.5"/><circle cx="915.3" cy="736.3" r="5.5"/><circle cx="760.3" cy="668.1" r="5.5"/><circle cx="614.7" cy="726.7" r="5.5"/><circle cx="635.8" cy="718.1" r="5.5"/><circle cx="814.0" cy="721.2" r="5.5"/><circle cx="611.1" cy="725.2" r="5.5"/><circle cx="754.8" cy="680.1" r="5.5"/><circle cx="681.1" cy="754.2" r="5.5"/><circle cx="758.7" cy="687.9" r="5.5"/><circle cx="930.7" cy="730.0" r="5.5"/><circle cx="645.3" cy="693.2" r="5.5"/><circle cx="674.1" cy="745.8" r="5.5"/><circle cx="874.9" cy="738.1" r="5.5"/><circle cx="735.3" cy="737.8" r="5.5"/><circle cx="738.5" cy="748.0" r="5.5"/><circle cx="757.4" cy="730.1" r="5.5"/><circle cx="502.7" cy="719.2" r="5.5"/><circle cx="730.3" cy="712.7" r="5.5"/><circle cx="685.3" cy="749.6" r="5.5"/><circle cx="901.8" cy="721.4" r="5.5"/><circle cx="838.1" cy="730.8" r="5.5"/><circle cx="604.9" cy="746.3" r="5.5"/><circle cx="783.0" cy="745.8" r="5.5"/><circle cx="609.7" cy="719.1" r="5.5"/><circle cx="644.4" cy="704.0" r="5.5"/><circle cx="892.7" cy="735.9" r="5.5"/><circle cx="742.7" cy="674.4" r="5.5"/><circle cx="877.5" cy="717.4" r="5.5"/><circle cx="592.4" cy="726.0" r="5.5"/><circle cx="846.4" cy="737.6" r="5.5"/><circle cx="727.6" cy="724.2" r="5.5"/><circle cx="642.9" cy="705.1" r="5.5"/><circle cx="743.4" cy="654.1" r="5.5"/><circle cx="606.2" cy="742.2" r="5.5"/><circle cx="627.8" cy="714.9" r="5.5"/><circle cx="717.1" cy="732.9" r="5.5"/><circle cx="622.1" cy="708.7" r="5.5"/><circle cx="617.0" cy="745.0" r="5.5"/><circle cx="950.7" cy="720.8" r="5.5"/><circle cx="633.9" cy="676.9" r="5.5"/><circle cx="669.4" cy="742.7" r="5.5"/><circle cx="884.7" cy="713.3" r="5.5"/><circle cx="524.9" cy="720.6" r="5.5"/><circle cx="968.0" cy="735.1" r="5.5"/><circle cx="896.7" cy="713.7" r="5.5"/><circle cx="900.6" cy="726.9" r="5.5"/><circle cx="727.0" cy="720.3" r="5.5"/><circle cx="633.3" cy="689.9" r="5.5"/><circle cx="571.5" cy="730.1" r="5.5"/><circle cx="538.4" cy="732.6" r="5.5"/><circle cx="664.6" cy="737.2" r="5.5"/><circle cx="726.4" cy="746.0" r="5.5"/><circle cx="631.2" cy="691.2" r="5.5"/><circle cx="653.9" cy="718.8" r="5.5"/><circle cx="598.5" cy="727.5" r="5.5"/><circle cx="737.5" cy="699.6" r="5.5"/><circle cx="538.9" cy="724.4" r="5.5"/><circle cx="866.8" cy="736.1" r="5.5"/><circle cx="666.5" cy="732.8" r="5.5"/><circle cx="623.0" cy="670.6" r="5.5"/><circle cx="886.4" cy="722.3" r="5.5"/><circle cx="535.2" cy="714.2" r="5.5"/><circle cx="899.4" cy="714.4" r="5.5"/><circle cx="638.3" cy="724.1" r="5.5"/><circle cx="633.3" cy="695.1" r="5.5"/><circle cx="643.1" cy="687.2" r="5.5"/><circle cx="736.5" cy="702.3" r="5.5"/><circle cx="629.6" cy="702.5" r="5.5"/><circle cx="750.1" cy="740.2" r="5.5"/><circle cx="536.1" cy="723.6" r="5.5"/><circle cx="591.1" cy="744.0" r="5.5"/><circle cx="802.1" cy="713.5" r="5.5"/><circle cx="750.7" cy="739.3" r="5.5"/><circle cx="649.3" cy="694.8" r="5.5"/><circle cx="831.7" cy="742.8" r="5.5"/><circle cx="750.1" cy="643.9" r="5.5"/><circle cx="750.8" cy="750.0" r="5.5"/><circle cx="725.7" cy="702.6" r="5.5"/><circle cx="716.1" cy="716.3" r="5.5"/><circle cx="673.2" cy="731.9" r="5.5"/><circle cx="774.9" cy="724.6" r="5.5"/><circle cx="733.8" cy="737.2" r="5.5"/><circle cx="721.9" cy="702.2" r="5.5"/><circle cx="712.1" cy="726.4" r="5.5"/><circle cx="789.2" cy="716.0" r="5.5"/><circle cx="750.7" cy="693.1" r="5.5"/><circle cx="742.9" cy="703.9" r="5.5"/><circle cx="727.2" cy="705.2" r="5.5"/><circle cx="891.8" cy="721.3" r="5.5"/><circle cx="748.3" cy="689.2" r="5.5"/><circle cx="603.6" cy="734.6" r="5.5"/><circle cx="714.7" cy="725.7" r="5.5"/><circle cx="751.5" cy="726.7" r="5.5"/><circle cx="803.3" cy="718.6" r="5.5"/><circle cx="893.5" cy="728.0" r="5.5"/><circle cx="632.5" cy="708.4" r="5.5"/><circle cx="630.7" cy="667.1" r="5.5"/><circle cx="722.2" cy="699.2" r="5.5"/><circle cx="740.0" cy="740.4" r="5.5"/><circle cx="827.8" cy="742.3" r="5.5"/><circle cx="654.3" cy="706.9" r="5.5"/><circle cx="507.8" cy="726.7" r="5.5"/><circle cx="614.4" cy="740.2" r="5.5"/><circle cx="573.5" cy="716.1" r="5.5"/><circle cx="509.6" cy="717.3" r="5.5"/><circle cx="757.2" cy="710.9" r="5.5"/><circle cx="745.7" cy="693.5" r="5.5"/><circle cx="629.5" cy="745.2" r="5.5"/><circle cx="590.9" cy="738.6" r="5.5"/><circle cx="491.3" cy="722.4" r="5.5"/><circle cx="730.6" cy="713.8" r="5.5"/><circle cx="649.6" cy="681.3" r="5.5"/><circle cx="860.4" cy="713.1" r="5.5"/><circle cx="620.8" cy="698.4" r="5.5"/><circle cx="505.6" cy="727.8" r="5.5"/><circle cx="912.6" cy="734.2" r="5.5"/><circle cx="643.0" cy="713.6" r="5.5"/><circle cx="768.1" cy="733.1" r="5.5"/><circle cx="887.5" cy="735.7" r="5.5"/><circle cx="630.9" cy="695.9" r="5.5"/><circle cx="655.7" cy="746.3" r="5.5"/><circle cx="897.5" cy="726.8" r="5.5"/><circle cx="643.4" cy="680.7" r="5.5"/><circle cx="884.2" cy="732.5" r="5.5"/><circle cx="641.8" cy="687.3" r="5.5"/><circle cx="912.4" cy="733.8" r="5.5"/><circle cx="789.1" cy="715.8" r="5.5"/><circle cx="670.5" cy="744.5" r="5.5"/><circle cx="642.8" cy="733.6" r="5.5"/><circle cx="751.9" cy="666.2" r="5.5"/><circle cx="642.1" cy="717.6" r="5.5"/><circle cx="644.2" cy="664.7" r="5.5"/><circle cx="648.5" cy="666.7" r="5.5"/><circle cx="647.8" cy="689.8" r="5.5"/><circle cx="586.1" cy="732.9" r="5.5"/></g>
<g class="b"><circle cx="491.7" cy="645.1" r="5.5"/><circle cx="598.6" cy="641.2" r="5.5"/><circle cx="545.2" cy="670.1" r="5.5"/><circle cx="518.7" cy="649.0" r="5.5"/><circle cx="532.6" cy="692.2" r="5.5"/><circle cx="460.0" cy="710.0" r="5.5"/><circle cx="575.5" cy="677.7" r="5.5"/><circle cx="418.8" cy="683.8" r="5.5"/><circle cx="539.8" cy="640.5" r="5.5"/><circle cx="601.4" cy="676.9" r="5.5"/><circle cx="485.6" cy="635.9" r="5.5"/><circle cx="465.3" cy="702.7" r="5.5"/><circle cx="467.6" cy="674.3" r="5.5"/><circle cx="386.5" cy="565.0" r="5.5"/><circle cx="483.4" cy="648.6" r="5.5"/><circle cx="454.8" cy="639.2" r="5.5"/><circle cx="493.5" cy="628.9" r="5.5"/><circle cx="452.5" cy="533.8" r="5.5"/><circle cx="457.2" cy="703.9" r="5.5"/><circle cx="535.2" cy="638.1" r="5.5"/><circle cx="534.3" cy="660.1" r="5.5"/><circle cx="475.0" cy="500.8" r="5.5"/><circle cx="554.6" cy="652.7" r="5.5"/><circle cx="497.9" cy="600.2" r="5.5"/><circle cx="454.2" cy="518.3" r="5.5"/><circle cx="486.9" cy="586.3" r="5.5"/><circle cx="576.6" cy="681.4" r="5.5"/><circle cx="520.8" cy="628.7" r="5.5"/><circle cx="520.3" cy="655.6" r="5.5"/><circle cx="296.0" cy="473.5" r="5.5"/><circle cx="538.3" cy="673.6" r="5.5"/><circle cx="485.6" cy="688.2" r="5.5"/><circle cx="460.9" cy="688.2" r="5.5"/><circle cx="590.9" cy="654.0" r="5.5"/><circle cx="586.9" cy="697.6" r="5.5"/><circle cx="539.2" cy="646.4" r="5.5"/><circle cx="540.2" cy="578.3" r="5.5"/><circle cx="467.5" cy="573.8" r="5.5"/><circle cx="530.4" cy="671.8" r="5.5"/><circle cx="302.7" cy="602.8" r="5.5"/><circle cx="531.9" cy="604.9" r="5.5"/></g>
<g class="r"><circle cx="811.4" cy="686.5" r="5.5"/><circle cx="896.1" cy="642.6" r="5.5"/><circle cx="772.5" cy="636.3" r="5.5"/><circle cx="871.9" cy="672.9" r="5.5"/><circle cx="796.1" cy="659.7" r="5.5"/><circle cx="808.1" cy="678.5" r="5.5"/><circle cx="850.9" cy="702.7" r="5.5"/><circle cx="795.0" cy="673.2" r="5.5"/><circle cx="881.2" cy="554.0" r="5.5"/><circle cx="897.2" cy="643.3" r="5.5"/><circle cx="888.6" cy="686.6" r="5.5"/><circle cx="768.7" cy="635.9" r="5.5"/><circle cx="822.8" cy="702.3" r="5.5"/><circle cx="849.1" cy="636.9" r="5.5"/><circle cx="909.7" cy="698.9" r="5.5"/><circle cx="785.7" cy="588.1" r="5.5"/><circle cx="1126.8" cy="687.5" r="5.5"/><circle cx="829.1" cy="668.7" r="5.5"/><circle cx="790.0" cy="674.4" r="5.5"/><circle cx="839.6" cy="682.8" r="5.5"/><circle cx="863.8" cy="686.7" r="5.5"/><circle cx="887.2" cy="677.2" r="5.5"/><circle cx="768.4" cy="693.4" r="5.5"/><circle cx="989.5" cy="646.8" r="5.5"/><circle cx="879.1" cy="703.2" r="5.5"/><circle cx="800.2" cy="697.2" r="5.5"/><circle cx="875.8" cy="686.7" r="5.5"/><circle cx="847.3" cy="699.8" r="5.5"/><circle cx="771.8" cy="670.7" r="5.5"/><circle cx="848.1" cy="635.8" r="5.5"/><circle cx="915.9" cy="697.5" r="5.5"/><circle cx="1011.8" cy="661.0" r="5.5"/><circle cx="870.9" cy="650.5" r="5.5"/><circle cx="771.3" cy="632.4" r="5.5"/><circle cx="783.6" cy="601.9" r="5.5"/><circle cx="782.0" cy="585.6" r="5.5"/><circle cx="806.3" cy="630.8" r="5.5"/><circle cx="855.6" cy="669.9" r="5.5"/><circle cx="821.3" cy="689.6" r="5.5"/><circle cx="787.9" cy="610.5" r="5.5"/></g>
<g class="g"><circle cx="787.2" cy="744.8" r="5.5"/><circle cx="898.3" cy="712.5" r="5.5"/><circle cx="489.5" cy="713.8" r="5.5"/><circle cx="630.5" cy="648.6" r="5.5"/><circle cx="730.1" cy="720.6" r="5.5"/><circle cx="646.3" cy="673.6" r="5.5"/><circle cx="870.1" cy="715.0" r="5.5"/><circle cx="544.4" cy="736.7" r="5.5"/><circle cx="669.8" cy="728.6" r="5.5"/><circle cx="716.9" cy="726.9" r="5.5"/><circle cx="651.7" cy="749.2" r="5.5"/><circle cx="730.1" cy="738.9" r="5.5"/><circle cx="1041.0" cy="734.5" r="5.5"/><circle cx="710.2" cy="732.8" r="5.5"/><circle cx="731.0" cy="734.9" r="5.5"/><circle cx="614.2" cy="723.1" r="5.5"/><circle cx="657.6" cy="695.4" r="5.5"/><circle cx="728.9" cy="729.6" r="5.5"/><circle cx="621.1" cy="685.8" r="5.5"/><circle cx="730.0" cy="740.2" r="5.5"/><circle cx="604.6" cy="733.6" r="5.5"/><circle cx="722.8" cy="718.6" r="5.5"/><circle cx="856.2" cy="715.8" r="5.5"/><circle cx="515.1" cy="730.4" r="5.5"/><circle cx="717.3" cy="730.0" r="5.5"/><circle cx="642.6" cy="694.0" r="5.5"/><circle cx="842.5" cy="719.2" r="5.5"/><circle cx="828.5" cy="720.7" r="5.5"/><circle cx="894.4" cy="721.7" r="5.5"/><circle cx="596.5" cy="741.5" r="5.5"/><circle cx="490.7" cy="719.5" r="5.5"/><circle cx="638.5" cy="687.8" r="5.5"/><circle cx="630.4" cy="637.3" r="5.5"/><circle cx="761.1" cy="687.1" r="5.5"/><circle cx="628.7" cy="683.5" r="5.5"/><circle cx="540.6" cy="718.3" r="5.5"/><circle cx="508.1" cy="726.7" r="5.5"/><circle cx="705.3" cy="748.4" r="5.5"/><circle cx="509.5" cy="730.2" r="5.5"/><circle cx="640.3" cy="727.7" r="5.5"/><circle cx="662.5" cy="744.9" r="5.5"/><circle cx="754.8" cy="624.2" r="5.5"/><circle cx="874.4" cy="740.4" r="5.5"/><circle cx="558.9" cy="725.2" r="5.5"/><circle cx="623.9" cy="688.7" r="5.5"/><circle cx="667.9" cy="740.2" r="5.5"/><circle cx="622.1" cy="669.0" r="5.5"/><circle cx="634.4" cy="702.1" r="5.5"/><circle cx="749.9" cy="692.0" r="5.5"/><circle cx="518.2" cy="724.0" r="5.5"/><circle cx="540.9" cy="726.7" r="5.5"/><circle cx="733.4" cy="699.6" r="5.5"/><circle cx="852.5" cy="724.8" r="5.5"/><circle cx="736.3" cy="737.0" r="5.5"/><circle cx="634.9" cy="707.9" r="5.5"/><circle cx="509.1" cy="717.0" r="5.5"/><circle cx="733.4" cy="688.3" r="5.5"/><circle cx="920.7" cy="727.3" r="5.5"/><circle cx="648.0" cy="719.7" r="5.5"/><circle cx="473.2" cy="712.5" r="5.5"/><circle cx="488.3" cy="713.4" r="5.5"/><circle cx="622.7" cy="747.5" r="5.5"/><circle cx="642.5" cy="734.6" r="5.5"/><circle cx="753.8" cy="661.2" r="5.5"/><circle cx="656.6" cy="698.0" r="5.5"/><circle cx="579.4" cy="724.4" r="5.5"/><circle cx="605.0" cy="722.7" r="5.5"/><circle cx="789.4" cy="747.1" r="5.5"/><circle cx="639.0" cy="713.4" r="5.5"/><circle cx="652.8" cy="706.6" r="5.5"/><circle cx="726.6" cy="695.6" r="5.5"/><circle cx="757.4" cy="654.8" r="5.5"/><circle cx="497.2" cy="725.1" r="5.5"/><circle cx="745.9" cy="692.9" r="5.5"/><circle cx="659.7" cy="702.7" r="5.5"/><circle cx="759.8" cy="747.5" r="5.5"/><circle cx="714.6" cy="742.9" r="5.5"/><circle cx="515.8" cy="728.6" r="5.5"/><circle cx="666.9" cy="724.3" r="5.5"/><circle cx="564.7" cy="713.2" r="5.5"/><circle cx="881.5" cy="735.7" r="5.5"/><circle cx="601.7" cy="735.3" r="5.5"/><circle cx="857.0" cy="720.6" r="5.5"/><circle cx="771.2" cy="713.1" r="5.5"/><circle cx="744.9" cy="707.8" r="5.5"/><circle cx="649.7" cy="697.2" r="5.5"/><circle cx="603.2" cy="726.8" r="5.5"/><circle cx="637.7" cy="708.3" r="5.5"/><circle cx="755.6" cy="657.1" r="5.5"/><circle cx="733.7" cy="751.6" r="5.5"/><circle cx="628.5" cy="716.1" r="5.5"/><circle cx="761.3" cy="747.9" r="5.5"/><circle cx="751.0" cy="700.2" r="5.5"/><circle cx="634.1" cy="719.3" r="5.5"/><circle cx="745.5" cy="580.8" r="5.5"/><circle cx="595.6" cy="717.5" r="5.5"/><circle cx="639.5" cy="739.6" r="5.5"/><circle cx="643.6" cy="718.7" r="5.5"/><circle cx="652.2" cy="730.6" r="5.5"/><circle cx="638.5" cy="723.4" r="5.5"/><circle cx="599.2" cy="738.0" r="5.5"/><circle cx="585.1" cy="728.7" r="5.5"/><circle cx="626.0" cy="695.0" r="5.5"/><circle cx="858.7" cy="727.5" r="5.5"/><circle cx="750.1" cy="664.1" r="5.5"/><circle cx="780.1" cy="744.9" r="5.5"/><circle cx="863.4" cy="742.3" r="5.5"/><circle cx="752.5" cy="692.9" r="5.5"/><circle cx="635.0" cy="719.5" r="5.5"/><circle cx="657.0" cy="715.9" r="5.5"/><circle cx="733.4" cy="711.8" r="5.5"/><circle cx="608.9" cy="733.7" r="5.5"/><circle cx="678.4" cy="738.5" r="5.5"/><circle cx="902.4" cy="724.9" r="5.5"/><circle cx="608.0" cy="712.7" r="5.5"/><circle cx="633.8" cy="664.0" r="5.5"/><circle cx="759.0" cy="736.5" r="5.5"/><circle cx="774.8" cy="745.8" r="5.5"/><circle cx="756.7" cy="707.9" r="5.5"/><circle cx="721.5" cy="749.8" r="5.5"/><circle cx="702.6" cy="739.5" r="5.5"/><circle cx="743.2" cy="712.7" r="5.5"/><circle cx="747.9" cy="643.6" r="5.5"/><circle cx="731.3" cy="690.7" r="5.5"/><circle cx="734.2" cy="731.8" r="5.5"/><circle cx="652.0" cy="678.1" r="5.5"/><circle cx="718.4" cy="739.5" r="5.5"/><circle cx="607.4" cy="746.7" r="5.5"/><circle cx="758.0" cy="642.1" r="5.5"/><circle cx="589.1" cy="742.9" r="5.5"/><circle cx="683.1" cy="750.3" r="5.5"/><circle cx="551.9" cy="737.4" r="5.5"/><circle cx="854.1" cy="732.4" r="5.5"/><circle cx="755.1" cy="737.2" r="5.5"/><circle cx="895.6" cy="719.4" r="5.5"/><circle cx="528.7" cy="723.2" r="5.5"/><circle cx="744.9" cy="690.0" r="5.5"/><circle cx="753.5" cy="714.8" r="5.5"/><circle cx="816.6" cy="734.3" r="5.5"/><circle cx="720.6" cy="745.7" r="5.5"/><circle cx="576.6" cy="727.9" r="5.5"/><circle cx="676.3" cy="738.6" r="5.5"/><circle cx="593.2" cy="731.5" r="5.5"/><circle cx="713.2" cy="736.2" r="5.5"/><circle cx="842.2" cy="720.6" r="5.5"/><circle cx="910.2" cy="732.3" r="5.5"/><circle cx="713.0" cy="747.6" r="5.5"/><circle cx="568.7" cy="735.1" r="5.5"/><circle cx="637.0" cy="746.3" r="5.5"/><circle cx="820.7" cy="714.5" r="5.5"/><circle cx="621.0" cy="642.6" r="5.5"/><circle cx="926.2" cy="723.8" r="5.5"/><circle cx="783.7" cy="745.2" r="5.5"/><circle cx="578.9" cy="744.5" r="5.5"/><circle cx="515.5" cy="728.0" r="5.5"/><circle cx="650.7" cy="672.5" r="5.5"/><circle cx="668.2" cy="750.9" r="5.5"/></g>
<g class="b"><circle cx="521.2" cy="667.6" r="5.5"/><circle cx="601.6" cy="647.5" r="5.5"/><circle cx="602.0" cy="688.8" r="5.5"/><circle cx="573.6" cy="643.2" r="5.5"/><circle cx="545.9" cy="681.9" r="5.5"/><circle cx="585.8" cy="607.8" r="5.5"/><circle cx="289.0" cy="468.0" r="5.5"/><circle cx="541.5" cy="675.7" r="5.5"/><circle cx="476.8" cy="652.1" r="5.5"/><circle cx="533.4" cy="697.9" r="5.5"/><circle cx="595.0" cy="666.0" r="5.5"/><circle cx="572.2" cy="667.8" r="5.5"/><circle cx="476.6" cy="664.6" r="5.5"/><circle cx="588.0" cy="530.5" r="5.5"/><circle cx="522.7" cy="683.0" r="5.5"/><circle cx="563.4" cy="686.7" r="5.5"/><circle cx="543.8" cy="703.6" r="5.5"/><circle cx="459.0" cy="703.8" r="5.5"/><circle cx="554.2" cy="586.2" r="5.5"/><circle cx="469.3" cy="697.0" r="5.5"/><circle cx="491.6" cy="644.4" r="5.5"/><circle cx="430.0" cy="563.8" r="5.5"/><circle cx="526.0" cy="627.0" r="5.5"/><circle cx="596.5" cy="703.9" r="5.5"/><circle cx="414.5" cy="462.8" r="5.5"/><circle cx="555.1" cy="663.1" r="5.5"/><circle cx="579.9" cy="611.9" r="5.5"/><circle cx="598.7" cy="640.3" r="5.5"/><circle cx="559.5" cy="687.1" r="5.5"/><circle cx="572.5" cy="649.6" r="5.5"/><circle cx="585.1" cy="593.9" r="5.5"/><circle cx="607.2" cy="630.5" r="5.5"/><circle cx="598.4" cy="661.2" r="5.5"/><circle cx="603.6" cy="697.5" r="5.5"/><circle cx="615.0" cy="601.2" r="5.5"/><circle cx="558.4" cy="596.6" r="5.5"/><circle cx="544.1" cy="703.7" r="5.5"/><circle cx="575.9" cy="675.0" r="5.5"/><circle cx="520.4" cy="698.1" r="5.5"/><circle cx="451.6" cy="668.9" r="5.5"/><circle cx="490.4" cy="696.5" r="5.5"/><circle cx="581.8" cy="688.1" r="5.5"/><circle cx="559.5" cy="644.6" r="5.5"/><circle cx="323.8" cy="445.0" r="5.5"/><circle cx="442.0" cy="676.0" r="5.5"/><circle cx="422.8" cy="622.5" r="5.5"/><circle cx="173.1" cy="269.9" r="5.5"/><circle cx="536.9" cy="643.1" r="5.5"/></g>
<g class="r"><circle cx="887.2" cy="664.9" r="5.5"/><circle cx="874.6" cy="654.0" r="5.5"/><circle cx="869.5" cy="663.4" r="5.5"/><circle cx="818.6" cy="652.8" r="5.5"/><circle cx="846.2" cy="684.1" r="5.5"/><circle cx="842.2" cy="463.2" r="5.5"/><circle cx="792.6" cy="696.7" r="5.5"/><circle cx="773.8" cy="687.4" r="5.5"/><circle cx="842.0" cy="686.9" r="5.5"/><circle cx="856.8" cy="593.2" r="5.5"/><circle cx="898.0" cy="685.1" r="5.5"/><circle cx="785.8" cy="660.5" r="5.5"/><circle cx="859.0" cy="691.5" r="5.5"/><circle cx="898.0" cy="702.0" r="5.5"/><circle cx="909.5" cy="690.4" r="5.5"/><circle cx="918.0" cy="696.7" r="5.5"/><circle cx="769.8" cy="630.7" r="5.5"/><circle cx="880.5" cy="608.8" r="5.5"/><circle cx="841.9" cy="697.6" r="5.5"/><circle cx="820.9" cy="641.0" r="5.5"/><circle cx="807.3" cy="697.2" r="5.5"/><circle cx="779.4" cy="674.4" r="5.5"/><circle cx="769.0" cy="698.0" r="5.5"/><circle cx="801.9" cy="666.1" r="5.5"/><circle cx="913.2" cy="551.0" r="5.5"/><circle cx="817.4" cy="633.5" r="5.5"/><circle cx="909.9" cy="689.4" r="5.5"/><circle cx="836.2" cy="659.7" r="5.5"/><circle cx="969.0" cy="648.2" r="5.5"/><circle cx="901.8" cy="597.5" r="5.5"/><circle cx="893.4" cy="705.4" r="5.5"/></g>
<g class="g"><circle cx="832.8" cy="735.9" r="5.5"/><circle cx="725.7" cy="750.1" r="5.5"/><circle cx="751.8" cy="708.3" r="5.5"/><circle cx="637.1" cy="723.6" r="5.5"/><circle cx="717.1" cy="733.8" r="5.5"/><circle cx="649.4" cy="661.7" r="5.5"/><circle cx="767.6" cy="731.4" r="5.5"/><circle cx="655.9" cy="694.3" r="5.5"/><circle cx="676.9" cy="753.1" r="5.5"/><circle cx="665.7" cy="747.1" r="5.5"/><circle cx="623.4" cy="631.8" r="5.5"/><circle cx="729.1" cy="682.1" r="5.5"/><circle cx="814.6" cy="743.3" r="5.5"/><circle cx="463.5" cy="712.8" r="5.5"/><circle cx="520.0" cy="723.2" r="5.5"/><circle cx="755.5" cy="703.9" r="5.5"/><circle cx="721.5" cy="748.2" r="5.5"/><circle cx="625.7" cy="729.1" r="5.5"/><circle cx="495.6" cy="726.2" r="5.5"/><circle cx="745.8" cy="712.9" r="5.5"/><circle cx="726.3" cy="695.2" r="5.5"/><circle cx="908.2" cy="735.6" r="5.5"/><circle cx="641.8" cy="723.4" r="5.5"/><circle cx="645.2" cy="700.9" r="5.5"/><circle cx="747.1" cy="707.1" r="5.5"/><circle cx="843.1" cy="728.5" r="5.5"/><circle cx="742.2" cy="665.1" r="5.5"/><circle cx="904.6" cy="723.1" r="5.5"/><circle cx="524.6" cy="717.7" r="5.5"/><circle cx="627.1" cy="672.9" r="5.5"/><circle cx="855.2" cy="718.3" r="5.5"/><circle cx="666.6" cy="750.9" r="5.5"/><circle cx="658.0" cy="753.6" r="5.5"/><circle cx="524.7" cy="719.2" r="5.5"/><circle cx="897.5" cy="736.5" r="5.5"/><circle cx="632.8" cy="723.3" r="5.5"/><circle cx="556.7" cy="740.2" r="5.5"/><circle cx="822.6" cy="718.6" r="5.5"/><circle cx="635.9" cy="664.9" r="5.5"/><circle cx="731.4" cy="726.9" r="5.5"/><circle cx="561.2" cy="713.6" r="5.5"/><circle cx="744.7" cy="670.4" r="5.5"/><circle cx="953.8" cy="723.9" r="5.5"/><circle cx="811.2" cy="717.0" r="5.5"/><circle cx="882.8" cy="721.6" r="5.5"/><circle cx="854.5" cy="741.3" r="5.5"/><circle cx="863.4" cy="718.3" r="5.5"/><circle cx="518.4" cy="721.3" r="5.5"/><circle cx="868.2" cy="735.8" r="5.5"/><circle cx="741.5" cy="695.6" r="5.5"/><circle cx="925.5" cy="713.1" r="5.5"/><circle cx="568.1" cy="741.7" r="5.5"/><circle cx="549.5" cy="723.6" r="5.5"/><circle cx="623.1" cy="648.5" r="5.5"/><circle cx="621.0" cy="748.6" r="5.5"/><circle cx="636.4" cy="709.4" r="5.5"/><circle cx="1060.2" cy="729.5" r="5.5"/><circle cx="634.0" cy="662.0" r="5.5"/><circle cx="857.3" cy="731.2" r="5.5"/><circle cx="655.2" cy="735.1" r="5.5"/><circle cx="622.7" cy="704.2" r="5.5"/><circle cx="635.0" cy="668.3" r="5.5"/><circle cx="718.8" cy="745.2" r="5.5"/><circle cx="864.4" cy="734.0" r="5.5"/><circle cx="520.3" cy="725.2" r="5.5"/><circle cx="898.1" cy="714.6" r="5.5"/><circle cx="597.7" cy="742.9" r="5.5"/><circle cx="530.2" cy="719.5" r="5.5"/><circle cx="904.5" cy="724.7" r="5.5"/><circle cx="883.9" cy="741.2" r="5.5"/><circle cx="539.2" cy="724.6" r="5.5"/><circle cx="668.6" cy="734.4" r="5.5"/><circle cx="738.3" cy="713.4" r="5.5"/><circle cx="738.9" cy="681.2" r="5.5"/><circle cx="575.7" cy="723.0" r="5.5"/><circle cx="739.8" cy="663.7" r="5.5"/><circle cx="724.3" cy="719.2" r="5.5"/><circle cx="660.6" cy="704.8" r="5.5"/><circle cx="505.8" cy="714.5" r="5.5"/><circle cx="610.3" cy="741.2" r="5.5"/><circle cx="509.1" cy="730.2" r="5.5"/><circle cx="660.6" cy="728.4" r="5.5"/><circle cx="905.3" cy="727.0" r="5.5"/><circle cx="646.5" cy="712.0" r="5.5"/><circle cx="931.5" cy="716.7" r="5.5"/><circle cx="530.2" cy="720.9" r="5.5"/><circle cx="756.7" cy="629.7" r="5.5"/><circle cx="738.6" cy="671.1" r="5.5"/><circle cx="805.8" cy="727.7" r="5.5"/><circle cx="747.2" cy="747.0" r="5.5"/><circle cx="495.6" cy="721.4" r="5.5"/><circle cx="560.0" cy="714.0" r="5.5"/><circle cx="661.3" cy="702.4" r="5.5"/><circle cx="648.9" cy="711.1" r="5.5"/><circle cx="642.3" cy="652.9" r="5.5"/><circle cx="710.5" cy="729.2" r="5.5"/><circle cx="841.9" cy="734.0" r="5.5"/><circle cx="738.0" cy="727.7" r="5.5"/><circle cx="1001.0" cy="731.2" r="5.5"/><circle cx="524.9" cy="729.2" r="5.5"/><circle cx="508.5" cy="715.7" r="5.5"/><circle cx="517.0" cy="731.7" r="5.5"/><circle cx="656.5" cy="702.5" r="5.5"/><circle cx="883.8" cy="730.8" r="5.5"/><circle cx="657.0" cy="701.0" r="5.5"/><circle cx="500.4" cy="713.7" r="5.5"/><circle cx="732.9" cy="717.5" r="5.5"/><circle cx="642.2" cy="745.4" r="5.5"/><circle cx="748.8" cy="734.3" r="5.5"/><circle cx="949.1" cy="729.7" r="5.5"/><circle cx="602.2" cy="733.0" r="5.5"/><circle cx="733.5" cy="712.4" r="5.5"/><circle cx="768.1" cy="713.4" r="5.5"/><circle cx="623.3" cy="685.3" r="5.5"/><circle cx="636.3" cy="711.1" r="5.5"/><circle cx="734.2" cy="725.6" r="5.5"/><circle cx="757.1" cy="704.0" r="5.5"/><circle cx="637.3" cy="729.4" r="5.5"/><circle cx="649.6" cy="700.2" r="5.5"/><circle cx="671.6" cy="722.0" r="5.5"/><circle cx="624.8" cy="697.0" r="5.5"/><circle cx="485.9" cy="719.0" r="5.5"/><circle cx="712.1" cy="733.2" r="5.5"/><circle cx="753.1" cy="645.7" r="5.5"/><circle cx="826.6" cy="739.6" r="5.5"/><circle cx="752.3" cy="663.1" r="5.5"/><circle cx="496.8" cy="715.9" r="5.5"/><circle cx="542.8" cy="724.0" r="5.5"/><circle cx="726.2" cy="742.8" r="5.5"/><circle cx="759.7" cy="658.9" r="5.5"/><circle cx="786.1" cy="739.5" r="5.5"/><circle cx="507.2" cy="712.5" r="5.5"/><circle cx="638.8" cy="695.4" r="5.5"/><circle cx="561.9" cy="729.7" r="5.5"/><circle cx="712.8" cy="751.3" r="5.5"/><circle cx="538.9" cy="718.6" r="5.5"/><circle cx="753.8" cy="717.6" r="5.5"/><circle cx="798.6" cy="737.5" r="5.5"/><circle cx="770.4" cy="742.8" r="5.5"/><circle cx="495.7" cy="713.4" r="5.5"/><circle cx="638.7" cy="752.0" r="5.5"/><circle cx="730.6" cy="711.6" r="5.5"/><circle cx="542.0" cy="730.9" r="5.5"/><circle cx="637.8" cy="685.4" r="5.5"/><circle cx="543.6" cy="732.9" r="5.5"/><circle cx="507.7" cy="728.5" r="5.5"/><circle cx="712.2" cy="744.4" r="5.5"/><circle cx="797.3" cy="728.0" r="5.5"/><circle cx="809.0" cy="715.9" r="5.5"/><circle cx="712.6" cy="732.0" r="5.5"/><circle cx="621.5" cy="684.2" r="5.5"/><circle cx="513.5" cy="722.9" r="5.5"/><circle cx="585.4" cy="730.7" r="5.5"/><circle cx="724.5" cy="684.4" r="5.5"/><circle cx="548.7" cy="730.3" r="5.5"/><circle cx="738.1" cy="714.6" r="5.5"/><circle cx="659.2" cy="734.9" r="5.5"/><circle cx="638.0" cy="751.5" r="5.5"/><circle cx="494.1" cy="715.4" r="5.5"/><circle cx="715.0" cy="723.4" r="5.5"/><circle cx="568.6" cy="741.7" r="5.5"/><circle cx="723.1" cy="725.9" r="5.5"/><circle cx="686.0" cy="752.9" r="5.5"/><circle cx="902.0" cy="722.6" r="5.5"/><circle cx="585.3" cy="741.8" r="5.5"/></g>
<g class="b"><circle cx="458.5" cy="647.2" r="5.5"/><circle cx="470.9" cy="638.1" r="5.5"/><circle cx="572.5" cy="660.6" r="5.5"/><circle cx="548.8" cy="688.7" r="5.5"/><circle cx="565.0" cy="623.9" r="5.5"/><circle cx="518.3" cy="625.7" r="5.5"/><circle cx="568.8" cy="591.0" r="5.5"/><circle cx="518.0" cy="684.8" r="5.5"/><circle cx="516.9" cy="706.0" r="5.5"/><circle cx="531.5" cy="656.2" r="5.5"/><circle cx="519.9" cy="669.7" r="5.5"/><circle cx="440.0" cy="665.3" r="5.5"/><circle cx="536.8" cy="673.0" r="5.5"/><circle cx="412.5" cy="526.2" r="5.5"/><circle cx="607.3" cy="617.3" r="5.5"/><circle cx="471.4" cy="696.0" r="5.5"/><circle cx="480.4" cy="638.5" r="5.5"/><circle cx="388.0" cy="262.5" r="5.5"/><circle cx="536.9" cy="686.4" r="5.5"/><circle cx="499.8" cy="661.2" r="5.5"/><circle cx="535.1" cy="645.6" r="5.5"/><circle cx="481.2" cy="532.0" r="5.5"/><circle cx="442.2" cy="668.6" r="5.5"/><circle cx="566.8" cy="690.1" r="5.5"/><circle cx="563.4" cy="631.7" r="5.5"/><circle cx="528.8" cy="576.2" r="5.5"/><circle cx="549.0" cy="655.1" r="5.5"/><circle cx="544.6" cy="626.0" r="5.5"/><circle cx="583.7" cy="650.2" r="5.5"/><circle cx="576.6" cy="584.0" r="5.5"/><circle cx="507.6" cy="681.4" r="5.5"/><circle cx="535.9" cy="705.0" r="5.5"/><circle cx="489.0" cy="647.7" r="5.5"/><circle cx="524.4" cy="694.3" r="5.5"/><circle cx="519.8" cy="628.2" r="5.5"/><circle cx="596.9" cy="669.8" r="5.5"/><circle cx="529.3" cy="606.1" r="5.5"/><circle cx="431.8" cy="426.8" r="5.5"/><circle cx="487.2" cy="543.5" r="5.5"/><circle cx="477.1" cy="681.1" r="5.5"/><circle cx="429.0" cy="661.0" r="5.5"/><circle cx="507.9" cy="654.8" r="5.5"/></g>
<g class="r"><circle cx="836.8" cy="702.4" r="5.5"/><circle cx="806.6" cy="695.1" r="5.5"/><circle cx="830.7" cy="665.1" r="5.5"/><circle cx="1033.0" cy="650.0" r="5.5"/><circle cx="859.2" cy="663.4" r="5.5"/><circle cx="830.5" cy="649.6" r="5.5"/><circle cx="843.0" cy="689.9" r="5.5"/><circle cx="810.2" cy="625.2" r="5.5"/><circle cx="766.0" cy="635.2" r="5.5"/><circle cx="795.3" cy="666.3" r="5.5"/><circle cx="829.0" cy="681.1" r="5.5"/><circle cx="814.8" cy="627.8" r="5.5"/><circle cx="862.9" cy="676.0" r="5.5"/><circle cx="795.9" cy="615.7" r="5.5"/><circle cx="800.5" cy="662.6" r="5.5"/><circle cx="785.2" cy="702.6" r="5.5"/><circle cx="800.9" cy="644.1" r="5.5"/><circle cx="850.1" cy="687.0" r="5.5"/><circle cx="908.4" cy="700.4" r="5.5"/><circle cx="881.3" cy="650.1" r="5.5"/><circle cx="862.1" cy="667.8" r="5.5"/><circle cx="866.8" cy="523.2" r="5.5"/><circle cx="807.3" cy="684.8" r="5.5"/><circle cx="774.4" cy="609.9" r="5.5"/><circle cx="801.8" cy="634.0" r="5.5"/><circle cx="811.9" cy="654.5" r="5.5"/><circle cx="791.2" cy="638.5" r="5.5"/><circle cx="874.7" cy="644.1" r="5.5"/><circle cx="806.6" cy="628.1" r="5.5"/></g>
<g class="g"><circle cx="509.3" cy="719.0" r="5.5"/><circle cx="595.4" cy="738.3" r="5.5"/><circle cx="505.0" cy="721.9" r="5.5"/><circle cx="912.4" cy="727.1" r="5.5"/><circle cx="995.3" cy="730.0" r="5.5"/><circle cx="734.9" cy="735.1" r="5.5"/><circle cx="560.5" cy="724.0" r="5.5"/><circle cx="656.2" cy="698.6" r="5.5"/><circle cx="649.3" cy="716.7" r="5.5"/><circle cx="744.5" cy="651.5" r="5.5"/><circle cx="646.3" cy="732.5" r="5.5"/><circle cx="926.9" cy="736.6" r="5.5"/><circle cx="513.1" cy="717.9" r="5.5"/><circle cx="613.9" cy="721.0" r="5.5"/><circle cx="629.8" cy="711.0" r="5.5"/><circle cx="612.6" cy="739.2" r="5.5"/><circle cx="817.9" cy="722.3" r="5.5"/><circle cx="713.7" cy="741.8" r="5.5"/><circle cx="708.2" cy="742.9" r="5.5"/><circle cx="748.4" cy="663.0" r="5.5"/><circle cx="716.2" cy="752.8" r="5.5"/><circle cx="639.2" cy="677.7" r="5.5"/><circle cx="636.6" cy="638.5" r="5.5"/><circle cx="925.4" cy="736.2" r="5.5"/><circle cx="624.1" cy="657.8" r="5.5"/><circle cx="871.2" cy="721.3" r="5.5"/><circle cx="964.4" cy="720.7" r="5.5"/><circle cx="725.3" cy="709.2" r="5.5"/><circle cx="844.6" cy="733.3" r="5.5"/><circle cx="749.3" cy="686.4" r="5.5"/><circle cx="760.0" cy="692.9" r="5.5"/><circle cx="839.4" cy="734.1" r="5.5"/><circle cx="753.0" cy="691.9" r="5.5"/><circle cx="512.5" cy="722.4" r="5.5"/><circle cx="643.0" cy="718.9" r="5.5"/><circle cx="605.7" cy="717.1" r="5.5"/><circle cx="633.3" cy="702.9" r="5.5"/><circle cx="598.3" cy="719.3" r="5.5"/><circle cx="645.4" cy="678.6" r="5.5"/><circle cx="929.2" cy="718.5" r="5.5"/><circle cx="580.6" cy="712.6" r="5.5"/><circle cx="583.2" cy="733.7" r="5.5"/><circle cx="727.4" cy="733.6" r="5.5"/><circle cx="558.5" cy="719.3" r="5.5"/><circle cx="577.9" cy="714.7" r="5.5"/><circle cx="646.9" cy="672.8" r="5.5"/><circle cx="746.8" cy="716.0" r="5.5"/><circle cx="666.2" cy="720.7" r="5.5"/><circle cx="627.4" cy="680.9" r="5.5"/><circle cx="636.8" cy="686.4" r="5.5"/><circle cx="603.2" cy="742.1" r="5.5"/><circle cx="555.5" cy="729.2" r="5.5"/><circle cx="803.1" cy="733.7" r="5.5"/><circle cx="847.2" cy="729.3" r="5.5"/><circle cx="855.6" cy="730.0" r="5.5"/><circle cx="729.0" cy="702.5" r="5.5"/><circle cx="622.4" cy="718.1" r="5.5"/><circle cx="777.8" cy="722.2" r="5.5"/><circle cx="667.4" cy="731.6" r="5.5"/><circle cx="523.5" cy="728.5" r="5.5"/><circle cx="797.1" cy="722.6" r="5.5"/><circle cx="611.9" cy="742.7" r="5.5"/><circle cx="937.6" cy="727.0" r="5.5"/><circle cx="898.7" cy="713.7" r="5.5"/><circle cx="799.7" cy="731.8" r="5.5"/><circle cx="556.9" cy="723.2" r="5.5"/><circle cx="549.0" cy="730.0" r="5.5"/><circle cx="638.7" cy="697.9" r="5.5"/><circle cx="917.1" cy="716.3" r="5.5"/><circle cx="532.2" cy="714.3" r="5.5"/><circle cx="605.7" cy="726.1" r="5.5"/><circle cx="746.6" cy="734.2" r="5.5"/><circle cx="557.7" cy="722.7" r="5.5"/><circle cx="729.2" cy="748.8" r="5.5"/><circle cx="709.5" cy="730.3" r="5.5"/><circle cx="621.0" cy="685.7" r="5.5"/><circle cx="649.0" cy="731.3" r="5.5"/><circle cx="650.6" cy="699.7" r="5.5"/><circle cx="580.3" cy="739.3" r="5.5"/><circle cx="808.5" cy="728.9" r="5.5"/><circle cx="571.0" cy="725.6" r="5.5"/><circle cx="641.8" cy="698.4" r="5.5"/><circle cx="653.5" cy="731.1" r="5.5"/><circle cx="577.7" cy="735.1" r="5.5"/><circle cx="730.1" cy="701.2" r="5.5"/><circle cx="791.4" cy="720.1" r="5.5"/><circle cx="782.3" cy="718.7" r="5.5"/><circle cx="645.1" cy="678.9" r="5.5"/><circle cx="610.3" cy="749.5" r="5.5"/><circle cx="732.0" cy="690.2" r="5.5"/><circle cx="576.6" cy="743.8" r="5.5"/><circle cx="925.2" cy="716.0" r="5.5"/><circle cx="787.9" cy="736.7" r="5.5"/><circle cx="897.3" cy="722.4" r="5.5"/><circle cx="584.3" cy="740.4" r="5.5"/><circle cx="581.4" cy="737.1" r="5.5"/><circle cx="521.3" cy="720.0" r="5.5"/><circle cx="598.0" cy="716.2" r="5.5"/><circle cx="624.9" cy="699.5" r="5.5"/><circle cx="824.6" cy="722.9" r="5.5"/><circle cx="727.2" cy="688.7" r="5.5"/><circle cx="736.0" cy="743.2" r="5.5"/><circle cx="649.3" cy="734.9" r="5.5"/><circle cx="845.3" cy="713.0" r="5.5"/><circle cx="628.6" cy="624.2" r="5.5"/><circle cx="654.7" cy="720.9" r="5.5"/><circle cx="649.6" cy="729.8" r="5.5"/><circle cx="819.7" cy="729.3" r="5.5"/><circle cx="548.6" cy="722.3" r="5.5"/><circle cx="582.9" cy="738.2" r="5.5"/><circle cx="748.6" cy="682.4" r="5.5"/><circle cx="766.7" cy="722.9" r="5.5"/><circle cx="743.8" cy="672.1" r="5.5"/><circle cx="563.7" cy="715.1" r="5.5"/><circle cx="563.5" cy="728.7" r="5.5"/><circle cx="623.8" cy="696.2" r="5.5"/><circle cx="607.5" cy="740.8" r="5.5"/><circle cx="563.0" cy="736.3" r="5.5"/><circle cx="676.7" cy="740.1" r="5.5"/><circle cx="745.3" cy="744.9" r="5.5"/><circle cx="827.1" cy="715.6" r="5.5"/><circle cx="580.2" cy="730.4" r="5.5"/><circle cx="732.0" cy="722.2" r="5.5"/><circle cx="760.5" cy="668.0" r="5.5"/><circle cx="667.9" cy="748.7" r="5.5"/><circle cx="571.5" cy="733.1" r="5.5"/><circle cx="561.1" cy="722.2" r="5.5"/><circle cx="633.4" cy="746.6" r="5.5"/><circle cx="537.0" cy="721.9" r="5.5"/><circle cx="625.3" cy="698.7" r="5.5"/><circle cx="855.0" cy="713.1" r="5.5"/><circle cx="596.6" cy="744.1" r="5.5"/><circle cx="572.6" cy="712.8" r="5.5"/><circle cx="627.2" cy="731.9" r="5.5"/><circle cx="822.8" cy="724.2" r="5.5"/><circle cx="827.8" cy="739.4" r="5.5"/><circle cx="911.8" cy="731.3" r="5.5"/><circle cx="756.1" cy="700.6" r="5.5"/><circle cx="511.7" cy="725.5" r="5.5"/><circle cx="834.9" cy="744.4" r="5.5"/><circle cx="746.0" cy="742.8" r="5.5"/><circle cx="551.0" cy="724.6" r="5.5"/><circle cx="627.9" cy="743.2" r="5.5"/><circle cx="649.5" cy="689.9" r="5.5"/><circle cx="918.7" cy="716.6" r="5.5"/><circle cx="825.3" cy="722.7" r="5.5"/><circle cx="592.1" cy="720.4" r="5.5"/><circle cx="702.7" cy="743.4" r="5.5"/><circle cx="661.8" cy="720.9" r="5.5"/><circle cx="724.9" cy="726.8" r="5.5"/><circle cx="729.0" cy="710.4" r="5.5"/><circle cx="722.4" cy="713.5" r="5.5"/><circle cx="519.7" cy="732.6" r="5.5"/><circle cx="510.0" cy="714.0" r="5.5"/><circle cx="751.4" cy="668.4" r="5.5"/><circle cx="524.0" cy="716.7" r="5.5"/><circle cx="832.8" cy="734.8" r="5.5"/><circle cx="626.1" cy="751.2" r="5.5"/><circle cx="670.3" cy="726.9" r="5.5"/><circle cx="501.6" cy="722.9" r="5.5"/><circle cx="648.3" cy="710.1" r="5.5"/><circle cx="640.3" cy="696.9" r="5.5"/><circle cx="839.9" cy="717.9" r="5.5"/><circle cx="493.0" cy="723.2" r="5.5"/><circle cx="749.3" cy="703.3" r="5.5"/><circle cx="627.7" cy="697.0" r="5.5"/><circle cx="638.4" cy="700.6" r="5.5"/><circle cx="658.4" cy="733.8" r="5.5"/><circle cx="916.9" cy="727.5" r="5.5"/></g>
<g class="b"><circle cx="495.5" cy="661.7" r="5.5"/><circle cx="570.0" cy="638.7" r="5.5"/><circle cx="527.9" cy="581.8" r="5.5"/><circle cx="609.5" cy="681.3" r="5.5"/><circle cx="530.4" cy="621.7" r="5.5"/><circle cx="472.0" cy="542.8" r="5.5"/><circle cx="460.0" cy="636.7" r="5.5"/><circle cx="465.0" cy="688.4" r="5.5"/><circle cx="522.0" cy="619.4" r="5.5"/><circle cx="588.3" cy="684.8" r="5.5"/><circle cx="541.3" cy="694.6" r="5.5"/><circle cx="484.0" cy="648.6" r="5.5"/><circle cx="397.5" cy="682.0" r="5.5"/><circle cx="537.2" cy="657.2" r="5.5"/><circle cx="469.8" cy="687.4" r="5.5"/><circle cx="501.2" cy="667.5" r="5.5"/><circle cx="515.8" cy="671.9" r="5.5"/><circle cx="373.8" cy="428.0" r="5.5"/><circle cx="489.8" cy="696.6" r="5.5"/><circle cx="534.1" cy="668.7" r="5.5"/><circle cx="599.5" cy="598.8" r="5.5"/><circle cx="567.1" cy="632.0" r="5.5"/><circle cx="473.5" cy="473.0" r="5.5"/><circle cx="455.9" cy="640.2" r="5.5"/><circle cx="444.1" cy="677.7" r="5.5"/><circle cx="608.1" cy="648.3" r="5.5"/><circle cx="377.8" cy="623.8" r="5.5"/><circle cx="498.2" cy="683.6" r="5.5"/><circle cx="604.6" cy="640.2" r="5.5"/><circle cx="457.6" cy="660.5" r="5.5"/><circle cx="489.0" cy="693.2" r="5.5"/><circle cx="611.4" cy="646.8" r="5.5"/><circle cx="467.0" cy="681.8" r="5.5"/><circle cx="525.9" cy="664.1" r="5.5"/><circle cx="598.2" cy="661.4" r="5.5"/><circle cx="497.2" cy="615.3" r="5.5"/><circle cx="467.8" cy="673.9" r="5.5"/><circle cx="526.0" cy="631.9" r="5.5"/><circle cx="579.4" cy="609.9" r="5.5"/><circle cx="501.6" cy="668.7" r="5.5"/></g>
<g class="r"><circle cx="919.0" cy="696.3" r="5.5"/><circle cx="907.2" cy="673.0" r="5.5"/><circle cx="788.5" cy="629.3" r="5.5"/><circle cx="892.4" cy="646.0" r="5.5"/><circle cx="846.2" cy="672.8" r="5.5"/><circle cx="881.6" cy="687.5" r="5.5"/><circle cx="766.8" cy="690.6" r="5.5"/><circle cx="780.0" cy="685.9" r="5.5"/><circle cx="863.9" cy="656.7" r="5.5"/><circle cx="886.1" cy="700.3" r="5.5"/><circle cx="774.1" cy="613.2" r="5.5"/><circle cx="889.8" cy="675.3" r="5.5"/><circle cx="849.5" cy="610.8" r="5.5"/><circle cx="869.7" cy="649.8" r="5.5"/><circle cx="864.8" cy="638.8" r="5.5"/><circle cx="962.8" cy="497.5" r="5.5"/><circle cx="860.9" cy="679.4" r="5.5"/><circle cx="860.4" cy="672.7" r="5.5"/><circle cx="963.7" cy="700.9" r="5.5"/><circle cx="901.6" cy="682.3" r="5.5"/><circle cx="876.1" cy="648.1" r="5.5"/><circle cx="916.5" cy="698.0" r="5.5"/><circle cx="783.2" cy="645.8" r="5.5"/><circle cx="874.3" cy="679.8" r="5.5"/><circle cx="1063.0" cy="699.5" r="5.5"/><circle cx="796.1" cy="639.5" r="5.5"/><circle cx="863.5" cy="693.2" r="5.5"/></g>
<g class="g"><circle cx="855.6" cy="732.3" r="5.5"/><circle cx="625.4" cy="661.5" r="5.5"/><circle cx="530.9" cy="726.8" r="5.5"/><circle cx="911.0" cy="717.1" r="5.5"/><circle cx="575.3" cy="720.2" r="5.5"/><circle cx="648.7" cy="749.9" r="5.5"/><circle cx="641.8" cy="729.9" r="5.5"/><circle cx="724.2" cy="740.9" r="5.5"/><circle cx="867.8" cy="714.9" r="5.5"/><circle cx="629.6" cy="662.5" r="5.5"/><circle cx="864.6" cy="718.0" r="5.5"/><circle cx="899.5" cy="722.6" r="5.5"/><circle cx="622.9" cy="655.9" r="5.5"/><circle cx="673.8" cy="744.9" r="5.5"/><circle cx="863.6" cy="717.6" r="5.5"/><circle cx="786.6" cy="725.5" r="5.5"/><circle cx="559.0" cy="713.0" r="5.5"/><circle cx="746.2" cy="709.1" r="5.5"/><circle cx="659.3" cy="746.3" r="5.5"/><circle cx="888.0" cy="738.7" r="5.5"/><circle cx="865.3" cy="740.9" r="5.5"/><circle cx="628.2" cy="691.5" r="5.5"/><circle cx="964.1" cy="722.3" r="5.5"/><circle cx="560.6" cy="715.6" r="5.5"/><circle cx="682.1" cy="754.3" r="5.5"/><circle cx="743.4" cy="734.4" r="5.5"/><circle cx="651.4" cy="695.9" r="5.5"/><circle cx="905.5" cy="731.1" r="5.5"/><circle cx="722.2" cy="746.8" r="5.5"/><circle cx="745.1" cy="712.8" r="5.5"/><circle cx="555.5" cy="718.8" r="5.5"/><circle cx="750.5" cy="725.3" r="5.5"/><circle cx="539.4" cy="720.1" r="5.5"/><circle cx="736.1" cy="697.7" r="5.5"/><circle cx="703.6" cy="736.5" r="5.5"/><circle cx="551.4" cy="713.0" r="5.5"/><circle cx="660.8" cy="739.6" r="5.5"/><circle cx="640.3" cy="726.8" r="5.5"/><circle cx="504.2" cy="728.7" r="5.5"/><circle cx="665.9" cy="712.7" r="5.5"/><circle cx="747.0" cy="674.7" r="5.5"/><circle cx="842.7" cy="718.4" r="5.5"/><circle cx="825.8" cy="720.7" r="5.5"/><circle cx="564.0" cy="720.8" r="5.5"/><circle cx="797.6" cy="734.4" r="5.5"/><circle cx="768.5" cy="743.5" r="5.5"/><circle cx="756.0" cy="628.4" r="5.5"/><circle cx="749.3" cy="749.7" r="5.5"/><circle cx="751.8" cy="721.8" r="5.5"/><circle cx="664.9" cy="730.9" r="5.5"/><circle cx="738.8" cy="735.9" r="5.5"/><circle cx="495.3" cy="716.5" r="5.5"/><circle cx="748.0" cy="732.4" r="5.5"/><circle cx="735.6" cy="693.4" r="5.5"/><circle cx="842.9" cy="714.7" r="5.5"/><circle cx="1081.0" cy="713.8" r="5.5"/><circle cx="841.1" cy="716.1" r="5.5"/><circle cx="507.1" cy="720.4" r="5.5"/><circle cx="807.9" cy="716.5" r="5.5"/><circle cx="658.7" cy="719.8" r="5.5"/><circle cx="735.4" cy="734.5" r="5.5"/><circle cx="875.1" cy="728.1" r="5.5"/><circle cx="648.3" cy="730.3" r="5.5"/><circle cx="632.8" cy="689.6" r="5.5"/><circle cx="638.2" cy="704.1" r="5.5"/><circle cx="895.9" cy="723.9" r="5.5"/><circle cx="648.9" cy="725.5" r="5.5"/><circle cx="774.1" cy="748.2" r="5.5"/><circle cx="662.9" cy="718.7" r="5.5"/><circle cx="719.9" cy="747.0" r="5.5"/><circle cx="666.7" cy="751.2" r="5.5"/><circle cx="699.0" cy="751.0" r="5.5"/><circle cx="640.5" cy="753.2" r="5.5"/><circle cx="863.6" cy="713.4" r="5.5"/><circle cx="609.1" cy="735.4" r="5.5"/><circle cx="724.1" cy="731.8" r="5.5"/><circle cx="647.6" cy="726.1" r="5.5"/><circle cx="602.9" cy="741.0" r="5.5"/><circle cx="626.0" cy="696.8" r="5.5"/><circle cx="524.3" cy="719.0" r="5.5"/><circle cx="731.9" cy="750.3" r="5.5"/><circle cx="737.0" cy="675.2" r="5.5"/><circle cx="661.2" cy="718.7" r="5.5"/><circle cx="757.8" cy="642.0" r="5.5"/><circle cx="602.0" cy="744.5" r="5.5"/><circle cx="835.5" cy="731.6" r="5.5"/><circle cx="620.9" cy="653.4" r="5.5"/><circle cx="672.1" cy="731.2" r="5.5"/><circle cx="600.1" cy="725.8" r="5.5"/><circle cx="504.8" cy="714.7" r="5.5"/><circle cx="760.8" cy="725.3" r="5.5"/><circle cx="635.2" cy="700.5" r="5.5"/><circle cx="755.1" cy="726.4" r="5.5"/><circle cx="754.8" cy="728.1" r="5.5"/><circle cx="921.5" cy="720.6" r="5.5"/><circle cx="758.9" cy="728.3" r="5.5"/><circle cx="867.8" cy="731.0" r="5.5"/><circle cx="650.8" cy="688.6" r="5.5"/><circle cx="717.4" cy="729.5" r="5.5"/><circle cx="637.7" cy="720.5" r="5.5"/><circle cx="496.6" cy="712.5" r="5.5"/><circle cx="667.3" cy="733.7" r="5.5"/><circle cx="807.6" cy="724.0" r="5.5"/><circle cx="578.3" cy="733.7" r="5.5"/><circle cx="560.7" cy="737.9" r="5.5"/><circle cx="605.1" cy="714.5" r="5.5"/><circle cx="750.9" cy="723.3" r="5.5"/><circle cx="556.0" cy="739.3" r="5.5"/><circle cx="894.5" cy="715.9" r="5.5"/><circle cx="664.5" cy="744.4" r="5.5"/><circle cx="623.7" cy="731.5" r="5.5"/><circle cx="651.7" cy="734.7" r="5.5"/><circle cx="655.7" cy="695.2" r="5.5"/><circle cx="648.8" cy="706.9" r="5.5"/><circle cx="642.9" cy="751.0" r="5.5"/><circle cx="789.6" cy="719.8" r="5.5"/><circle cx="576.5" cy="741.8" r="5.5"/><circle cx="528.1" cy="719.2" r="5.5"/><circle cx="728.1" cy="726.7" r="5.5"/><circle cx="770.3" cy="734.9" r="5.5"/><circle cx="636.2" cy="719.8" r="5.5"/><circle cx="520.7" cy="714.5" r="5.5"/><circle cx="629.7" cy="705.4" r="5.5"/><circle cx="757.1" cy="723.6" r="5.5"/><circle cx="625.5" cy="691.3" r="5.5"/><circle cx="894.7" cy="740.1" r="5.5"/><circle cx="581.2" cy="718.2" r="5.5"/><circle cx="550.0" cy="730.5" r="5.5"/><circle cx="493.7" cy="718.4" r="5.5"/><circle cx="838.1" cy="733.4" r="5.5"/><circle cx="756.9" cy="691.6" r="5.5"/><circle cx="503.1" cy="721.6" r="5.5"/><circle cx="626.9" cy="734.1" r="5.5"/><circle cx="597.2" cy="716.0" r="5.5"/><circle cx="925.6" cy="736.0" r="5.5"/><circle cx="597.3" cy="715.4" r="5.5"/><circle cx="530.5" cy="729.1" r="5.5"/><circle cx="657.9" cy="723.1" r="5.5"/><circle cx="598.0" cy="736.4" r="5.5"/><circle cx="961.2" cy="719.2" r="5.5"/><circle cx="905.9" cy="712.9" r="5.5"/><circle cx="925.3" cy="717.1" r="5.5"/><circle cx="625.3" cy="733.6" r="5.5"/><circle cx="598.4" cy="745.9" r="5.5"/><circle cx="837.9" cy="732.5" r="5.5"/><circle cx="757.0" cy="703.4" r="5.5"/><circle cx="906.8" cy="733.8" r="5.5"/><circle cx="745.8" cy="679.7" r="5.5"/><circle cx="646.5" cy="653.6" r="5.5"/><circle cx="759.0" cy="748.8" r="5.5"/><circle cx="747.1" cy="658.0" r="5.5"/><circle cx="648.8" cy="674.6" r="5.5"/><circle cx="754.8" cy="687.2" r="5.5"/><circle cx="807.6" cy="730.9" r="5.5"/><circle cx="902.0" cy="717.7" r="5.5"/><circle cx="597.1" cy="741.5" r="5.5"/></g>
<g class="b"><circle cx="505.4" cy="684.2" r="5.5"/><circle cx="586.2" cy="633.1" r="5.5"/><circle cx="593.2" cy="677.4" r="5.5"/><circle cx="612.1" cy="675.5" r="5.5"/><circle cx="529.9" cy="702.1" r="5.5"/><circle cx="452.3" cy="687.9" r="5.5"/><circle cx="574.3" cy="645.7" r="5.5"/><circle cx="476.6" cy="705.3" r="5.5"/><circle cx="506.2" cy="625.3" r="5.5"/><circle cx="590.0" cy="592.5" r="5.5"/><circle cx="512.5" cy="656.8" r="5.5"/><circle cx="499.6" cy="673.9" r="5.5"/><circle cx="472.7" cy="645.4" r="5.5"/><circle cx="600.7" cy="657.7" r="5.5"/><circle cx="502.1" cy="672.1" r="5.5"/><circle cx="572.3" cy="662.5" r="5.5"/><circle cx="475.5" cy="688.1" r="5.5"/><circle cx="480.3" cy="689.4" r="5.5"/><circle cx="456.2" cy="529.5" r="5.5"/><circle cx="450.8" cy="674.0" r="5.5"/><circle cx="558.3" cy="704.0" r="5.5"/><circle cx="507.8" cy="694.6" r="5.5"/><circle cx="407.8" cy="598.8" r="5.5"/><circle cx="502.9" cy="613.7" r="5.5"/><circle cx="544.4" cy="638.4" r="5.5"/><circle cx="456.7" cy="696.0" r="5.5"/><circle cx="557.9" cy="671.1" r="5.5"/><circle cx="513.5" cy="686.8" r="5.5"/><circle cx="472.4" cy="671.8" r="5.5"/><circle cx="524.6" cy="679.5" r="5.5"/><circle cx="582.3" cy="674.5" r="5.5"/><circle cx="589.8" cy="681.3" r="5.5"/><circle cx="478.3" cy="699.2" r="5.5"/><circle cx="552.0" cy="625.4" r="5.5"/><circle cx="524.9" cy="678.7" r="5.5"/><circle cx="573.8" cy="657.8" r="5.5"/><circle cx="475.0" cy="349.8" r="5.5"/><circle cx="496.7" cy="670.4" r="5.5"/><circle cx="445.2" cy="638.0" r="5.5"/><circle cx="454.1" cy="645.2" r="5.5"/><circle cx="615.0" cy="704.0" r="5.5"/><circle cx="547.5" cy="520.0" r="5.5"/><circle cx="450.1" cy="631.9" r="5.5"/><circle cx="472.6" cy="651.8" r="5.5"/><circle cx="546.9" cy="688.8" r="5.5"/><circle cx="490.3" cy="653.0" r="5.5"/><circle cx="528.5" cy="680.4" r="5.5"/><circle cx="470.6" cy="689.7" r="5.5"/><circle cx="569.0" cy="698.8" r="5.5"/></g>
<g class="r"><circle cx="845.1" cy="699.6" r="5.5"/><circle cx="794.6" cy="617.8" r="5.5"/><circle cx="932.4" cy="692.7" r="5.5"/><circle cx="772.0" cy="694.9" r="5.5"/><circle cx="865.2" cy="693.8" r="5.5"/><circle cx="919.6" cy="688.7" r="5.5"/><circle cx="796.4" cy="631.9" r="5.5"/><circle cx="1081.0" cy="681.8" r="5.5"/><circle cx="835.2" cy="647.3" r="5.5"/><circle cx="824.8" cy="692.8" r="5.5"/><circle cx="868.1" cy="684.1" r="5.5"/><circle cx="806.7" cy="624.2" r="5.5"/><circle cx="794.7" cy="591.0" r="5.5"/><circle cx="849.1" cy="660.6" r="5.5"/><circle cx="768.1" cy="660.9" r="5.5"/><circle cx="773.1" cy="692.4" r="5.5"/><circle cx="1022.2" cy="573.2" r="5.5"/><circle cx="883.1" cy="665.6" r="5.5"/><circle cx="936.5" cy="690.6" r="5.5"/><circle cx="794.1" cy="579.4" r="5.5"/><circle cx="947.5" cy="453.0" r="5.5"/><circle cx="772.9" cy="597.8" r="5.5"/><circle cx="1072.5" cy="670.8" r="5.5"/><circle cx="1025.2" cy="708.0" r="5.5"/><circle cx="887.7" cy="698.5" r="5.5"/><circle cx="947.6" cy="684.7" r="5.5"/><circle cx="804.1" cy="669.6" r="5.5"/><circle cx="803.0" cy="614.7" r="5.5"/><circle cx="975.6" cy="704.8" r="5.5"/><circle cx="859.1" cy="636.2" r="5.5"/><circle cx="888.3" cy="695.7" r="5.5"/></g>
<g class="g"><circle cx="649.4" cy="735.0" r="5.5"/><circle cx="628.2" cy="675.0" r="5.5"/><circle cx="479.7" cy="717.1" r="5.5"/><circle cx="589.5" cy="723.2" r="5.5"/><circle cx="759.9" cy="628.0" r="5.5"/><circle cx="733.7" cy="709.7" r="5.5"/><circle cx="620.7" cy="748.2" r="5.5"/><circle cx="673.5" cy="737.3" r="5.5"/><circle cx="622.5" cy="684.8" r="5.5"/><circle cx="853.1" cy="730.5" r="5.5"/><circle cx="528.8" cy="732.0" r="5.5"/><circle cx="696.2" cy="750.3" r="5.5"/><circle cx="478.0" cy="718.1" r="5.5"/><circle cx="757.4" cy="717.1" r="5.5"/><circle cx="623.4" cy="722.2" r="5.5"/><circle cx="549.4" cy="726.6" r="5.5"/><circle cx="733.2" cy="742.7" r="5.5"/><circle cx="563.3" cy="732.0" r="5.5"/><circle cx="732.0" cy="725.1" r="5.5"/><circle cx="837.6" cy="736.5" r="5.5"/><circle cx="574.4" cy="730.6" r="5.5"/><circle cx="681.2" cy="742.0" r="5.5"/><circle cx="708.1" cy="746.0" r="5.5"/><circle cx="613.8" cy="749.8" r="5.5"/><circle cx="679.7" cy="747.4" r="5.5"/><circle cx="515.6" cy="724.4" r="5.5"/><circle cx="647.0" cy="730.2" r="5.5"/><circle cx="542.6" cy="724.9" r="5.5"/><circle cx="806.8" cy="721.7" r="5.5"/><circle cx="494.7" cy="722.6" r="5.5"/><circle cx="714.8" cy="750.6" r="5.5"/><circle cx="645.1" cy="684.3" r="5.5"/><circle cx="738.8" cy="718.9" r="5.5"/><circle cx="562.7" cy="720.2" r="5.5"/><circle cx="753.7" cy="665.8" r="5.5"/><circle cx="768.0" cy="715.3" r="5.5"/><circle cx="487.8" cy="720.1" r="5.5"/><circle cx="503.4" cy="728.6" r="5.5"/><circle cx="656.2" cy="751.0" r="5.5"/><circle cx="797.2" cy="727.8" r="5.5"/><circle cx="747.8" cy="694.9" r="5.5"/><circle cx="517.7" cy="718.9" r="5.5"/><circle cx="671.9" cy="738.1" r="5.5"/><circle cx="824.5" cy="717.8" r="5.5"/><circle cx="527.4" cy="715.7" r="5.5"/><circle cx="837.7" cy="729.6" r="5.5"/><circle cx="792.1" cy="746.0" r="5.5"/><circle cx="813.0" cy="732.9" r="5.5"/><circle cx="529.9" cy="725.7" r="5.5"/><circle cx="892.1" cy="732.5" r="5.5"/><circle cx="631.4" cy="640.0" r="5.5"/><circle cx="628.3" cy="669.2" r="5.5"/><circle cx="813.9" cy="735.7" r="5.5"/><circle cx="725.5" cy="706.7" r="5.5"/><circle cx="574.1" cy="737.0" r="5.5"/><circle cx="805.9" cy="715.8" r="5.5"/><circle cx="630.6" cy="663.6" r="5.5"/><circle cx="625.3" cy="682.0" r="5.5"/><circle cx="475.8" cy="717.9" r="5.5"/><circle cx="637.8" cy="743.9" r="5.5"/><circle cx="642.8" cy="657.4" r="5.5"/><circle cx="611.5" cy="724.5" r="5.5"/><circle cx="659.1" cy="725.7" r="5.5"/><circle cx="616.6" cy="734.9" r="5.5"/><circle cx="656.0" cy="735.7" r="5.5"/><circle cx="745.9" cy="741.3" r="5.5"/><circle cx="654.5" cy="721.3" r="5.5"/><circle cx="785.5" cy="724.4" r="5.5"/><circle cx="522.2" cy="714.5" r="5.5"/><circle cx="885.0" cy="714.7" r="5.5"/><circle cx="637.2" cy="745.1" r="5.5"/><circle cx="743.2" cy="714.6" r="5.5"/><circle cx="571.0" cy="715.5" r="5.5"/><circle cx="793.1" cy="715.2" r="5.5"/><circle cx="562.8" cy="718.3" r="5.5"/><circle cx="656.9" cy="746.9" r="5.5"/><circle cx="645.7" cy="743.5" r="5.5"/><circle cx="743.6" cy="661.4" r="5.5"/><circle cx="623.7" cy="736.1" r="5.5"/><circle cx="734.1" cy="744.2" r="5.5"/><circle cx="789.8" cy="742.6" r="5.5"/><circle cx="628.6" cy="652.8" r="5.5"/><circle cx="510.4" cy="729.5" r="5.5"/><circle cx="640.9" cy="746.1" r="5.5"/><circle cx="622.6" cy="640.1" r="5.5"/><circle cx="719.8" cy="711.5" r="5.5"/><circle cx="648.5" cy="694.3" r="5.5"/><circle cx="617.1" cy="733.1" r="5.5"/><circle cx="552.0" cy="715.5" r="5.5"/><circle cx="767.1" cy="730.3" r="5.5"/><circle cx="795.2" cy="744.4" r="5.5"/><circle cx="838.6" cy="736.0" r="5.5"/><circle cx="743.3" cy="743.3" r="5.5"/><circle cx="886.0" cy="715.0" r="5.5"/><circle cx="587.5" cy="731.4" r="5.5"/><circle cx="828.1" cy="730.2" r="5.5"/><circle cx="626.1" cy="644.9" r="5.5"/><circle cx="621.1" cy="686.0" r="5.5"/><circle cx="740.6" cy="664.6" r="5.5"/><circle cx="749.6" cy="731.4" r="5.5"/><circle cx="641.6" cy="738.5" r="5.5"/><circle cx="611.3" cy="714.3" r="5.5"/><circle cx="757.4" cy="703.0" r="5.5"/><circle cx="653.2" cy="721.9" r="5.5"/><circle cx="572.0" cy="724.4" r="5.5"/><circle cx="538.2" cy="714.0" r="5.5"/><circle cx="654.8" cy="721.7" r="5.5"/><circle cx="732.6" cy="715.2" r="5.5"/><circle cx="785.9" cy="727.6" r="5.5"/><circle cx="707.4" cy="753.5" r="5.5"/><circle cx="697.4" cy="748.4" r="5.5"/><circle cx="648.5" cy="728.2" r="5.5"/><circle cx="797.7" cy="714.1" r="5.5"/><circle cx="581.8" cy="720.3" r="5.5"/><circle cx="638.3" cy="688.2" r="5.5"/><circle cx="550.9" cy="723.6" r="5.5"/><circle cx="730.1" cy="750.6" r="5.5"/><circle cx="581.6" cy="730.4" r="5.5"/><circle cx="513.5" cy="731.0" r="5.5"/><circle cx="547.0" cy="736.4" r="5.5"/><circle cx="539.1" cy="718.8" r="5.5"/><circle cx="774.0" cy="743.7" r="5.5"/><circle cx="726.3" cy="733.9" r="5.5"/><circle cx="650.9" cy="718.0" r="5.5"/><circle cx="548.0" cy="714.7" r="5.5"/><circle cx="800.2" cy="715.2" r="5.5"/><circle cx="621.2" cy="736.0" r="5.5"/><circle cx="755.3" cy="716.9" r="5.5"/><circle cx="637.9" cy="671.8" r="5.5"/><circle cx="512.4" cy="724.7" r="5.5"/><circle cx="500.8" cy="722.5" r="5.5"/><circle cx="765.7" cy="727.3" r="5.5"/><circle cx="799.9" cy="715.2" r="5.5"/><circle cx="930.8" cy="727.7" r="5.5"/><circle cx="538.5" cy="713.6" r="5.5"/><circle cx="656.9" cy="740.1" r="5.5"/><circle cx="882.9" cy="718.8" r="5.5"/><circle cx="907.4" cy="724.3" r="5.5"/><circle cx="758.3" cy="725.6" r="5.5"/><circle cx="697.1" cy="754.2" r="5.5"/><circle cx="754.1" cy="682.8" r="5.5"/><circle cx="775.6" cy="724.7" r="5.5"/><circle cx="659.9" cy="737.5" r="5.5"/><circle cx="727.5" cy="713.9" r="5.5"/><circle cx="784.1" cy="747.5" r="5.5"/><circle cx="737.1" cy="739.1" r="5.5"/><circle cx="512.0" cy="721.7" r="5.5"/><circle cx="791.5" cy="720.4" r="5.5"/><circle cx="671.0" cy="728.4" r="5.5"/><circle cx="652.7" cy="696.9" r="5.5"/><circle cx="729.4" cy="702.1" r="5.5"/><circle cx="848.4" cy="714.9" r="5.5"/><circle cx="877.4" cy="718.9" r="5.5"/><circle cx="831.4" cy="719.5" r="5.5"/><circle cx="665.2" cy="734.2" r="5.5"/><circle cx="749.2" cy="732.1" r="5.5"/><circle cx="760.5" cy="746.3" r="5.5"/><circle cx="774.2" cy="719.1" r="5.5"/><circle cx="626.2" cy="749.0" r="5.5"/><circle cx="904.2" cy="739.0" r="5.5"/><circle cx="622.7" cy="719.0" r="5.5"/><circle cx="777.2" cy="740.8" r="5.5"/><circle cx="604.7" cy="747.2" r="5.5"/><circle cx="742.0" cy="734.5" r="5.5"/><circle cx="791.4" cy="743.4" r="5.5"/><circle cx="554.3" cy="716.1" r="5.5"/><circle cx="607.8" cy="737.7" r="5.5"/><circle cx="919.6" cy="730.0" r="5.5"/><circle cx="640.3" cy="701.1" r="5.5"/><circle cx="635.5" cy="744.8" r="5.5"/><circle cx="518.6" cy="727.6" r="5.5"/></g>
<g class="b"><circle cx="411.2" cy="629.5" r="5.5"/><circle cx="478.6" cy="572.4" r="5.5"/><circle cx="613.8" cy="652.5" r="5.5"/><circle cx="453.4" cy="666.8" r="5.5"/><circle cx="603.5" cy="621.7" r="5.5"/><circle cx="477.5" cy="558.0" r="5.5"/><circle cx="534.1" cy="679.5" r="5.5"/><circle cx="562.2" cy="644.5" r="5.5"/><circle cx="550.6" cy="678.1" r="5.5"/><circle cx="493.9" cy="685.0" r="5.5"/><circle cx="538.8" cy="572.5" r="5.5"/><circle cx="508.0" cy="554.2" r="5.5"/><circle cx="586.0" cy="672.7" r="5.5"/><circle cx="602.6" cy="644.8" r="5.5"/><circle cx="612.7" cy="700.8" r="5.5"/><circle cx="507.1" cy="628.7" r="5.5"/><circle cx="554.7" cy="668.0" r="5.5"/><circle cx="555.4" cy="604.2" r="5.5"/><circle cx="603.3" cy="670.8" r="5.5"/><circle cx="490.2" cy="638.3" r="5.5"/><circle cx="452.9" cy="692.4" r="5.5"/><circle cx="468.8" cy="524.5" r="5.5"/><circle cx="492.7" cy="705.0" r="5.5"/><circle cx="465.7" cy="697.6" r="5.5"/><circle cx="530.8" cy="622.0" r="5.5"/><circle cx="518.0" cy="653.5" r="5.5"/><circle cx="449.2" cy="673.9" r="5.5"/><circle cx="493.2" cy="604.7" r="5.5"/><circle cx="584.1" cy="650.6" r="5.5"/><circle cx="561.9" cy="687.9" r="5.5"/><circle cx="492.9" cy="683.6" r="5.5"/><circle cx="517.4" cy="597.8" r="5.5"/><circle cx="394.8" cy="521.2" r="5.5"/><circle cx="593.1" cy="684.7" r="5.5"/><circle cx="409.2" cy="554.8" r="5.5"/><circle cx="541.3" cy="662.7" r="5.5"/><circle cx="282.0" cy="318.2" r="5.5"/><circle cx="491.7" cy="669.7" r="5.5"/><circle cx="441.8" cy="635.1" r="5.5"/></g>
<g class="r"><circle cx="776.3" cy="632.3" r="5.5"/><circle cx="766.3" cy="663.7" r="5.5"/><circle cx="772.7" cy="665.6" r="5.5"/><circle cx="928.2" cy="702.5" r="5.5"/><circle cx="831.9" cy="680.5" r="5.5"/><circle cx="862.1" cy="644.7" r="5.5"/><circle cx="782.2" cy="694.4" r="5.5"/><circle cx="786.3" cy="696.1" r="5.5"/><circle cx="783.0" cy="673.6" r="5.5"/><circle cx="850.2" cy="631.9" r="5.5"/><circle cx="871.0" cy="683.3" r="5.5"/><circle cx="1023.8" cy="642.2" r="5.5"/><circle cx="839.0" cy="647.3" r="5.5"/><circle cx="788.8" cy="681.7" r="5.5"/><circle cx="782.0" cy="600.2" r="5.5"/><circle cx="861.9" cy="666.5" r="5.5"/><circle cx="765.9" cy="625.0" r="5.5"/><circle cx="896.7" cy="696.9" r="5.5"/><circle cx="776.2" cy="684.3" r="5.5"/><circle cx="796.3" cy="686.0" r="5.5"/><circle cx="903.2" cy="689.4" r="5.5"/><circle cx="853.6" cy="662.4" r="5.5"/><circle cx="800.1" cy="642.4" r="5.5"/><circle cx="788.4" cy="675.5" r="5.5"/><circle cx="934.5" cy="697.1" r="5.5"/></g>
<g class="g"><circle cx="632.9" cy="716.6" r="5.5"/><circle cx="768.6" cy="718.6" r="5.5"/><circle cx="759.2" cy="704.8" r="5.5"/><circle cx="856.7" cy="714.6" r="5.5"/><circle cx="515.4" cy="717.4" r="5.5"/><circle cx="629.2" cy="708.7" r="5.5"/><circle cx="801.0" cy="741.6" r="5.5"/><circle cx="755.6" cy="643.3" r="5.5"/><circle cx="724.0" cy="749.9" r="5.5"/><circle cx="819.1" cy="736.1" r="5.5"/><circle cx="704.3" cy="753.9" r="5.5"/><circle cx="563.9" cy="724.3" r="5.5"/><circle cx="654.6" cy="713.5" r="5.5"/><circle cx="714.5" cy="731.0" r="5.5"/><circle cx="704.1" cy="751.5" r="5.5"/><circle cx="920.9" cy="739.8" r="5.5"/><circle cx="621.3" cy="706.9" r="5.5"/><circle cx="740.4" cy="739.4" r="5.5"/><circle cx="665.8" cy="736.8" r="5.5"/><circle cx="951.7" cy="734.3" r="5.5"/><circle cx="644.1" cy="689.8" r="5.5"/><circle cx="727.9" cy="742.3" r="5.5"/><circle cx="654.3" cy="735.4" r="5.5"/><circle cx="938.2" cy="725.1" r="5.5"/><circle cx="632.3" cy="719.2" r="5.5"/><circle cx="644.2" cy="744.5" r="5.5"/><circle cx="640.7" cy="743.7" r="5.5"/><circle cx="904.3" cy="720.5" r="5.5"/><circle cx="655.5" cy="713.8" r="5.5"/><circle cx="638.5" cy="719.3" r="5.5"/><circle cx="841.9" cy="712.8" r="5.5"/><circle cx="608.7" cy="713.4" r="5.5"/><circle cx="869.9" cy="712.6" r="5.5"/><circle cx="624.2" cy="741.4" r="5.5"/><circle cx="837.9" cy="725.9" r="5.5"/><circle cx="727.9" cy="693.9" r="5.5"/><circle cx="919.4" cy="722.6" r="5.5"/><circle cx="656.0" cy="717.8" r="5.5"/><circle cx="636.2" cy="726.6" r="5.5"/><circle cx="721.5" cy="750.3" r="5.5"/><circle cx="581.0" cy="723.8" r="5.5"/><circle cx="737.7" cy="718.1" r="5.5"/><circle cx="643.7" cy="737.4" r="5.5"/><circle cx="649.7" cy="721.8" r="5.5"/><circle cx="951.9" cy="734.3" r="5.5"/><circle cx="726.6" cy="741.8" r="5.5"/><circle cx="660.1" cy="727.0" r="5.5"/><circle cx="595.2" cy="716.5" r="5.5"/><circle cx="570.9" cy="725.8" r="5.5"/><circle cx="925.1" cy="717.8" r="5.5"/><circle cx="707.6" cy="750.2" r="5.5"/><circle cx="946.7" cy="724.8" r="5.5"/><circle cx="941.0" cy="720.8" r="5.5"/><circle cx="757.5" cy="704.9" r="5.5"/><circle cx="764.2" cy="712.6" r="5.5"/><circle cx="665.5" cy="747.5" r="5.5"/><circle cx="497.0" cy="725.3" r="5.5"/><circle cx="526.4" cy="722.9" r="5.5"/><circle cx="823.6" cy="725.3" r="5.5"/><circle cx="705.6" cy="742.1" r="5.5"/><circle cx="591.4" cy="732.4" r="5.5"/><circle cx="586.3" cy="743.3" r="5.5"/><circle cx="728.9" cy="733.2" r="5.5"/><circle cx="580.7" cy="725.0" r="5.5"/><circle cx="735.2" cy="695.3" r="5.5"/><circle cx="743.4" cy="745.7" r="5.5"/><circle cx="627.4" cy="688.2" r="5.5"/><circle cx="744.3" cy="710.8" r="5.5"/><circle cx="756.6" cy="698.7" r="5.5"/><circle cx="586.7" cy="721.0" r="5.5"/><circle cx="758.1" cy="678.0" r="5.5"/><circle cx="759.3" cy="741.5" r="5.5"/><circle cx="639.4" cy="752.8" r="5.5"/><circle cx="476.1" cy="716.0" r="5.5"/><circle cx="485.5" cy="713.7" r="5.5"/><circle cx="629.0" cy="699.5" r="5.5"/><circle cx="747.5" cy="632.0" r="5.5"/><circle cx="642.3" cy="654.1" r="5.5"/><circle cx="809.1" cy="721.2" r="5.5"/><circle cx="712.8" cy="744.2" r="5.5"/><circle cx="639.2" cy="704.0" r="5.5"/><circle cx="561.7" cy="728.8" r="5.5"/><circle cx="929.2" cy="717.3" r="5.5"/><circle cx="832.3" cy="743.2" r="5.5"/><circle cx="596.3" cy="718.3" r="5.5"/><circle cx="712.1" cy="725.6" r="5.5"/><circle cx="531.4" cy="735.3" r="5.5"/><circle cx="852.3" cy="732.9" r="5.5"/><circle cx="640.9" cy="673.9" r="5.5"/><circle cx="779.6" cy="732.1" r="5.5"/><circle cx="600.2" cy="726.7" r="5.5"/><circle cx="520.7" cy="719.4" r="5.5"/><circle cx="749.9" cy="739.8" r="5.5"/><circle cx="632.9" cy="720.3" r="5.5"/><circle cx="659.7" cy="748.3" r="5.5"/><circle cx="744.9" cy="725.2" r="5.5"/><circle cx="776.9" cy="726.6" r="5.5"/><circle cx="732.7" cy="713.7" r="5.5"/><circle cx="876.6" cy="736.1" r="5.5"/><circle cx="627.5" cy="686.4" r="5.5"/><circle cx="533.0" cy="725.4" r="5.5"/><circle cx="528.3" cy="732.0" r="5.5"/><circle cx="770.7" cy="722.1" r="5.5"/><circle cx="585.4" cy="740.6" r="5.5"/><circle cx="740.4" cy="682.1" r="5.5"/><circle cx="909.3" cy="735.2" r="5.5"/><circle cx="736.5" cy="687.7" r="5.5"/><circle cx="750.1" cy="727.5" r="5.5"/><circle cx="562.9" cy="720.4" r="5.5"/><circle cx="718.4" cy="729.2" r="5.5"/><circle cx="658.9" cy="724.9" r="5.5"/><circle cx="500.3" cy="727.5" r="5.5"/><circle cx="623.4" cy="739.1" r="5.5"/><circle cx="660.4" cy="754.3" r="5.5"/><circle cx="507.5" cy="717.4" r="5.5"/><circle cx="631.0" cy="691.1" r="5.5"/><circle cx="902.0" cy="740.4" r="5.5"/><circle cx="649.3" cy="736.1" r="5.5"/><circle cx="748.7" cy="745.6" r="5.5"/><circle cx="650.2" cy="693.6" r="5.5"/><circle cx="629.9" cy="650.2" r="5.5"/><circle cx="870.0" cy="730.9" r="5.5"/><circle cx="529.6" cy="715.3" r="5.5"/><circle cx="644.8" cy="649.8" r="5.5"/><circle cx="521.4" cy="717.9" r="5.5"/><circle cx="639.3" cy="752.0" r="5.5"/><circle cx="746.3" cy="736.7" r="5.5"/><circle cx="516.4" cy="728.2" r="5.5"/><circle cx="843.7" cy="717.2" r="5.5"/><circle cx="912.5" cy="732.8" r="5.5"/><circle cx="637.1" cy="740.7" r="5.5"/><circle cx="727.0" cy="745.2" r="5.5"/><circle cx="642.5" cy="670.9" r="5.5"/><circle cx="720.8" cy="726.6" r="5.5"/><circle cx="500.7" cy="712.7" r="5.5"/><circle cx="866.1" cy="727.2" r="5.5"/><circle cx="807.4" cy="743.2" r="5.5"/><circle cx="729.9" cy="701.9" r="5.5"/><circle cx="777.7" cy="745.4" r="5.5"/><circle cx="645.4" cy="650.4" r="5.5"/><circle cx="507.0" cy="719.5" r="5.5"/><circle cx="600.9" cy="747.8" r="5.5"/><circle cx="645.9" cy="744.1" r="5.5"/><circle cx="874.8" cy="723.7" r="5.5"/><circle cx="751.3" cy="747.2" r="5.5"/><circle cx="609.4" cy="720.5" r="5.5"/><circle cx="923.2" cy="732.7" r="5.5"/><circle cx="745.6" cy="701.8" r="5.5"/><circle cx="628.2" cy="742.6" r="5.5"/><circle cx="622.5" cy="703.9" r="5.5"/><circle cx="517.3" cy="721.4" r="5.5"/><circle cx="958.8" cy="726.5" r="5.5"/><circle cx="859.0" cy="742.6" r="5.5"/><circle cx="616.4" cy="731.2" r="5.5"/><circle cx="746.5" cy="740.7" r="5.5"/><circle cx="898.1" cy="731.7" r="5.5"/><circle cx="663.2" cy="708.6" r="5.5"/><circle cx="645.1" cy="711.2" r="5.5"/><circle cx="821.3" cy="712.5" r="5.5"/></g>
<g class="b"><circle cx="524.6" cy="629.7" r="5.5"/><circle cx="613.2" cy="701.2" r="5.5"/><circle cx="524.1" cy="665.7" r="5.5"/><circle cx="506.0" cy="649.7" r="5.5"/><circle cx="585.4" cy="663.1" r="5.5"/><circle cx="560.3" cy="686.5" r="5.5"/><circle cx="525.9" cy="693.9" r="5.5"/><circle cx="403.2" cy="431.8" r="5.5"/><circle cx="496.9" cy="682.1" r="5.5"/><circle cx="527.5" cy="660.1" r="5.5"/><circle cx="455.0" cy="680.7" r="5.5"/><circle cx="511.5" cy="672.7" r="5.5"/><circle cx="514.1" cy="655.4" r="5.5"/><circle cx="576.2" cy="665.2" r="5.5"/><circle cx="525.1" cy="672.3" r="5.5"/><circle cx="506.2" cy="696.5" r="5.5"/><circle cx="496.6" cy="694.1" r="5.5"/><circle cx="539.8" cy="597.2" r="5.5"/><circle cx="571.8" cy="683.1" r="5.5"/><circle cx="532.5" cy="553.0" r="5.5"/><circle cx="560.0" cy="648.9" r="5.5"/><circle cx="484.2" cy="675.8" r="5.5"/><circle cx="483.8" cy="646.2" r="5.5"/><circle cx="303.0" cy="602.5" r="5.5"/><circle cx="545.9" cy="647.6" r="5.5"/><circle cx="579.5" cy="619.5" r="5.5"/><circle cx="452.2" cy="534.0" r="5.5"/><circle cx="460.7" cy="694.7" r="5.5"/><circle cx="481.9" cy="641.9" r="5.5"/><circle cx="516.5" cy="695.9" r="5.5"/><circle cx="472.3" cy="671.2" r="5.5"/><circle cx="526.3" cy="684.1" r="5.5"/><circle cx="558.7" cy="619.8" r="5.5"/><circle cx="602.7" cy="658.3" r="5.5"/><circle cx="459.8" cy="635.7" r="5.5"/><circle cx="574.0" cy="659.8" r="5.5"/><circle cx="440.0" cy="571.2" r="5.5"/><circle cx="415.2" cy="592.5" r="5.5"/><circle cx="495.6" cy="667.3" r="5.5"/><circle cx="555.6" cy="671.4" r="5.5"/></g>
<g class="r"><circle cx="795.2" cy="630.6" r="5.5"/><circle cx="837.5" cy="574.2" r="5.5"/><circle cx="810.1" cy="651.2" r="5.5"/><circle cx="871.8" cy="627.5" r="5.5"/><circle cx="825.1" cy="702.2" r="5.5"/><circle cx="775.4" cy="642.3" r="5.5"/><circle cx="792.2" cy="691.0" r="5.5"/><circle cx="768.2" cy="679.7" r="5.5"/><circle cx="770.0" cy="640.3" r="5.5"/><circle cx="896.0" cy="263.8" r="5.5"/><circle cx="926.8" cy="659.7" r="5.5"/><circle cx="768.6" cy="581.0" r="5.5"/><circle cx="783.3" cy="684.1" r="5.5"/><circle cx="800.4" cy="680.2" r="5.5"/><circle cx="958.0" cy="640.8" r="5.5"/><circle cx="881.0" cy="553.8" r="5.5"/><circle cx="786.0" cy="648.7" r="5.5"/><circle cx="844.1" cy="695.8" r="5.5"/><circle cx="786.7" cy="652.1" r="5.5"/><circle cx="903.9" cy="671.4" r="5.5"/><circle cx="794.2" cy="616.0" r="5.5"/><circle cx="882.9" cy="688.7" r="5.5"/><circle cx="850.5" cy="687.6" r="5.5"/><circle cx="820.4" cy="695.3" r="5.5"/><circle cx="794.4" cy="638.0" r="5.5"/><circle cx="892.6" cy="664.1" r="5.5"/><circle cx="780.4" cy="661.5" r="5.5"/><circle cx="779.3" cy="641.0" r="5.5"/><circle cx="809.3" cy="675.0" r="5.5"/><circle cx="797.0" cy="687.4" r="5.5"/><circle cx="792.6" cy="641.4" r="5.5"/><circle cx="788.0" cy="653.3" r="5.5"/><circle cx="800.3" cy="625.3" r="5.5"/><circle cx="857.7" cy="660.4" r="5.5"/><circle cx="860.5" cy="532.5" r="5.5"/><circle cx="780.9" cy="599.9" r="5.5"/></g>
<g class="g"><circle cx="733.4" cy="673.3" r="5.5"/><circle cx="708.5" cy="728.2" r="5.5"/><circle cx="585.0" cy="716.9" r="5.5"/><circle cx="760.5" cy="738.6" r="5.5"/><circle cx="624.8" cy="638.4" r="5.5"/><circle cx="863.8" cy="731.5" r="5.5"/><circle cx="624.6" cy="750.7" r="5.5"/><circle cx="924.2" cy="713.5" r="5.5"/><circle cx="661.8" cy="715.0" r="5.5"/><circle cx="757.3" cy="671.8" r="5.5"/><circle cx="631.7" cy="711.0" r="5.5"/><circle cx="671.9" cy="723.0" r="5.5"/><circle cx="650.9" cy="736.4" r="5.5"/><circle cx="657.3" cy="701.8" r="5.5"/><circle cx="554.0" cy="722.9" r="5.5"/><circle cx="881.7" cy="731.4" r="5.5"/><circle cx="654.9" cy="739.0" r="5.5"/><circle cx="720.8" cy="727.0" r="5.5"/><circle cx="659.9" cy="730.3" r="5.5"/><circle cx="709.9" cy="726.8" r="5.5"/><circle cx="649.4" cy="665.3" r="5.5"/><circle cx="589.9" cy="719.2" r="5.5"/><circle cx="806.0" cy="742.0" r="5.5"/><circle cx="760.4" cy="666.3" r="5.5"/><circle cx="544.2" cy="714.8" r="5.5"/><circle cx="577.3" cy="716.1" r="5.5"/><circle cx="909.5" cy="713.8" r="5.5"/><circle cx="720.1" cy="723.2" r="5.5"/><circle cx="840.0" cy="741.7" r="5.5"/><circle cx="525.7" cy="728.6" r="5.5"/><circle cx="722.1" cy="694.4" r="5.5"/><circle cx="649.5" cy="689.1" r="5.5"/><circle cx="543.1" cy="733.0" r="5.5"/><circle cx="930.8" cy="725.4" r="5.5"/><circle cx="633.5" cy="654.6" r="5.5"/><circle cx="655.7" cy="696.8" r="5.5"/><circle cx="593.6" cy="724.0" r="5.5"/><circle cx="681.2" cy="739.9" r="5.5"/><circle cx="825.3" cy="713.4" r="5.5"/><circle cx="660.1" cy="705.3" r="5.5"/><circle cx="494.2" cy="718.8" r="5.5"/><circle cx="759.3" cy="708.6" r="5.5"/><circle cx="742.1" cy="730.0" r="5.5"/><circle cx="596.4" cy="731.3" r="5.5"/><circle cx="612.2" cy="733.3" r="5.5"/><circle cx="827.7" cy="726.9" r="5.5"/><circle cx="887.3" cy="714.7" r="5.5"/><circle cx="557.1" cy="734.3" r="5.5"/><circle cx="556.5" cy="719.2" r="5.5"/><circle cx="627.8" cy="679.3" r="5.5"/><circle cx="757.5" cy="675.4" r="5.5"/><circle cx="838.6" cy="731.8" r="5.5"/><circle cx="832.1" cy="725.3" r="5.5"/><circle cx="652.9" cy="717.4" r="5.5"/><circle cx="862.7" cy="741.5" r="5.5"/><circle cx="645.6" cy="707.2" r="5.5"/><circle cx="837.9" cy="744.0" r="5.5"/><circle cx="627.2" cy="674.7" r="5.5"/><circle cx="741.9" cy="736.1" r="5.5"/><circle cx="641.1" cy="699.4" r="5.5"/><circle cx="633.9" cy="680.2" r="5.5"/><circle cx="732.7" cy="728.7" r="5.5"/><circle cx="668.6" cy="752.8" r="5.5"/><circle cx="566.3" cy="737.7" r="5.5"/><circle cx="945.2" cy="716.7" r="5.5"/><circle cx="605.8" cy="720.7" r="5.5"/><circle cx="895.1" cy="726.3" r="5.5"/><circle cx="737.6" cy="677.2" r="5.5"/><circle cx="624.1" cy="653.3" r="5.5"/><circle cx="867.0" cy="732.0" r="5.5"/><circle cx="623.4" cy="718.6" r="5.5"/><circle cx="753.4" cy="718.5" r="5.5"/><circle cx="721.6" cy="720.4" r="5.5"/><circle cx="640.2" cy="691.9" r="5.5"/><circle cx="846.9" cy="715.9" r="5.5"/><circle cx="638.5" cy="647.8" r="5.5"/><circle cx="664.5" cy="747.1" r="5.5"/><circle cx="721.9" cy="725.3" r="5.5"/><circle cx="642.8" cy="665.2" r="5.5"/><circle cx="629.0" cy="685.8" r="5.5"/><circle cx="582.5" cy="715.3" r="5.5"/><circle cx="524.7" cy="730.8" r="5.5"/><circle cx="648.2" cy="717.4" r="5.5"/><circle cx="610.3" cy="717.4" r="5.5"/><circle cx="660.8" cy="734.3" r="5.5"/><circle cx="633.4" cy="721.8" r="5.5"/><circle cx="649.8" cy="708.2" r="5.5"/><circle cx="514.6" cy="722.1" r="5.5"/><circle cx="736.3" cy="736.6" r="5.5"/><circle cx="656.4" cy="703.1" r="5.5"/><circle cx="840.2" cy="714.2" r="5.5"/><circle cx="770.4" cy="718.3" r="5.5"/><circle cx="496.3" cy="715.4" r="5.5"/><circle cx="908.1" cy="733.1" r="5.5"/><circle cx="675.8" cy="742.6" r="5.5"/><circle cx="624.4" cy="735.8" r="5.5"/><circle cx="503.9" cy="722.8" r="5.5"/><circle cx="644.4" cy="717.2" r="5.5"/><circle cx="756.3" cy="747.4" r="5.5"/><circle cx="650.4" cy="714.8" r="5.5"/><circle cx="813.1" cy="728.5" r="5.5"/><circle cx="739.9" cy="720.1" r="5.5"/><circle cx="666.4" cy="749.7" r="5.5"/><circle cx="746.5" cy="688.9" r="5.5"/><circle cx="789.1" cy="717.3" r="5.5"/><circle cx="908.9" cy="734.5" r="5.5"/><circle cx="844.6" cy="742.6" r="5.5"/><circle cx="629.8" cy="712.3" r="5.5"/><circle cx="629.5" cy="671.2" r="5.5"/><circle cx="714.3" cy="725.4" r="5.5"/><circle cx="736.5" cy="728.8" r="5.5"/><circle cx="713.2" cy="739.0" r="5.5"/><circle cx="526.3" cy="723.5" r="5.5"/><circle cx="559.5" cy="729.2" r="5.5"/><circle cx="662.8" cy="745.0" r="5.5"/><circle cx="755.1" cy="711.1" r="5.5"/><circle cx="727.8" cy="752.5" r="5.5"/><circle cx="745.2" cy="654.8" r="5.5"/><circle cx="895.6" cy="719.1" r="5.5"/><circle cx="608.8" cy="726.9" r="5.5"/><circle cx="651.9" cy="698.8" r="5.5"/><circle cx="756.1" cy="740.3" r="5.5"/><circle cx="759.6" cy="675.0" r="5.5"/><circle cx="640.7" cy="741.0" r="5.5"/><circle cx="642.4" cy="710.0" r="5.5"/><circle cx="668.4" cy="736.7" r="5.5"/><circle cx="778.9" cy="713.2" r="5.5"/><circle cx="611.3" cy="729.7" r="5.5"/><circle cx="512.8" cy="724.4" r="5.5"/><circle cx="801.5" cy="738.9" r="5.5"/><circle cx="647.7" cy="710.3" r="5.5"/><circle cx="724.9" cy="718.4" r="5.5"/><circle cx="927.1" cy="724.9" r="5.5"/><circle cx="651.7" cy="710.9" r="5.5"/><circle cx="754.0" cy="673.7" r="5.5"/><circle cx="636.8" cy="735.7" r="5.5"/><circle cx="848.9" cy="738.4" r="5.5"/><circle cx="625.6" cy="693.1" r="5.5"/><circle cx="750.2" cy="734.9" r="5.5"/><circle cx="637.5" cy="658.9" r="5.5"/><circle cx="743.3" cy="686.1" r="5.5"/><circle cx="656.4" cy="734.7" r="5.5"/><circle cx="554.9" cy="725.6" r="5.5"/><circle cx="782.4" cy="739.2" r="5.5"/><circle cx="772.8" cy="726.4" r="5.5"/><circle cx="601.3" cy="730.0" r="5.5"/><circle cx="744.9" cy="676.8" r="5.5"/><circle cx="805.8" cy="741.5" r="5.5"/><circle cx="592.9" cy="728.5" r="5.5"/></g>
<g class="b"><circle cx="588.4" cy="681.8" r="5.5"/><circle cx="589.2" cy="703.6" r="5.5"/><circle cx="467.9" cy="679.7" r="5.5"/><circle cx="548.5" cy="701.4" r="5.5"/><circle cx="456.7" cy="615.6" r="5.5"/><circle cx="608.4" cy="680.3" r="5.5"/><circle cx="445.7" cy="669.4" r="5.5"/><circle cx="476.2" cy="651.5" r="5.5"/><circle cx="479.3" cy="697.5" r="5.5"/><circle cx="570.3" cy="628.8" r="5.5"/><circle cx="576.5" cy="664.7" r="5.5"/><circle cx="579.7" cy="602.0" r="5.5"/><circle cx="540.3" cy="651.3" r="5.5"/><circle cx="533.5" cy="677.4" r="5.5"/><circle cx="475.4" cy="589.1" r="5.5"/><circle cx="578.1" cy="626.2" r="5.5"/><circle cx="496.0" cy="692.5" r="5.5"/><circle cx="563.2" cy="628.3" r="5.5"/><circle cx="443.9" cy="665.4" r="5.5"/><circle cx="481.0" cy="671.1" r="5.5"/><circle cx="555.4" cy="655.1" r="5.5"/><circle cx="524.0" cy="639.6" r="5.5"/><circle cx="568.7" cy="643.4" r="5.5"/><circle cx="613.4" cy="678.5" r="5.5"/><circle cx="552.4" cy="693.6" r="5.5"/><circle cx="540.3" cy="680.4" r="5.5"/><circle cx="513.0" cy="668.7" r="5.5"/><circle cx="507.8" cy="669.5" r="5.5"/><circle cx="461.8" cy="447.0" r="5.5"/><circle cx="595.9" cy="656.7" r="5.5"/><circle cx="423.2" cy="532.5" r="5.5"/><circle cx="531.6" cy="688.9" r="5.5"/><circle cx="581.2" cy="654.5" r="5.5"/><circle cx="504.9" cy="633.5" r="5.5"/><circle cx="500.9" cy="675.9" r="5.5"/><circle cx="492.8" cy="697.1" r="5.5"/><circle cx="499.2" cy="699.3" r="5.5"/><circle cx="559.6" cy="627.8" r="5.5"/><circle cx="471.0" cy="686.7" r="5.5"/><circle cx="498.8" cy="620.2" r="5.5"/><circle cx="524.1" cy="693.8" r="5.5"/><circle cx="609.4" cy="631.1" r="5.5"/><circle cx="564.8" cy="675.5" r="5.5"/><circle cx="477.7" cy="640.3" r="5.5"/><circle cx="549.3" cy="658.5" r="5.5"/><circle cx="598.9" cy="663.5" r="5.5"/><circle cx="517.0" cy="608.1" r="5.5"/><circle cx="573.7" cy="694.6" r="5.5"/><circle cx="585.9" cy="636.3" r="5.5"/><circle cx="530.4" cy="704.9" r="5.5"/></g>
<g class="r"><circle cx="787.3" cy="682.7" r="5.5"/><circle cx="766.6" cy="639.9" r="5.5"/><circle cx="776.6" cy="633.5" r="5.5"/><circle cx="873.0" cy="684.4" r="5.5"/><circle cx="803.7" cy="684.1" r="5.5"/><circle cx="863.0" cy="689.1" r="5.5"/><circle cx="877.8" cy="690.4" r="5.5"/><circle cx="771.0" cy="621.0" r="5.5"/><circle cx="862.0" cy="692.8" r="5.5"/><circle cx="825.5" cy="488.2" r="5.5"/><circle cx="817.5" cy="640.4" r="5.5"/><circle cx="822.6" cy="673.8" r="5.5"/><circle cx="1159.2" cy="706.5" r="5.5"/><circle cx="858.7" cy="687.0" r="5.5"/><circle cx="786.6" cy="630.8" r="5.5"/><circle cx="864.1" cy="694.1" r="5.5"/><circle cx="793.7" cy="640.5" r="5.5"/><circle cx="777.3" cy="633.1" r="5.5"/><circle cx="831.7" cy="622.2" r="5.5"/><circle cx="836.3" cy="630.7" r="5.5"/><circle cx="777.2" cy="653.6" r="5.5"/><circle cx="864.4" cy="663.7" r="5.5"/><circle cx="826.8" cy="671.3" r="5.5"/><circle cx="877.9" cy="699.9" r="5.5"/><circle cx="894.2" cy="695.5" r="5.5"/><circle cx="807.5" cy="702.0" r="5.5"/><circle cx="824.6" cy="695.0" r="5.5"/><circle cx="810.5" cy="588.0" r="5.5"/><circle cx="848.3" cy="656.3" r="5.5"/><circle cx="804.8" cy="649.0" r="5.5"/><circle cx="826.5" cy="618.9" r="5.5"/><circle cx="841.1" cy="689.4" r="5.5"/><circle cx="767.2" cy="673.1" r="5.5"/><circle cx="802.7" cy="643.5" r="5.5"/><circle cx="952.4" cy="691.2" r="5.5"/><circle cx="781.3" cy="639.5" r="5.5"/></g>
<g class="g"><circle cx="657.4" cy="693.1" r="5.5"/><circle cx="752.2" cy="692.2" r="5.5"/><circle cx="634.8" cy="734.6" r="5.5"/><circle cx="716.9" cy="723.5" r="5.5"/><circle cx="530.3" cy="719.2" r="5.5"/><circle cx="820.5" cy="730.6" r="5.5"/><circle cx="663.7" cy="740.8" r="5.5"/><circle cx="490.9" cy="714.0" r="5.5"/><circle cx="882.5" cy="737.0" r="5.5"/><circle cx="646.0" cy="749.8" r="5.5"/><circle cx="501.5" cy="724.8" r="5.5"/><circle cx="643.4" cy="706.9" r="5.5"/><circle cx="655.0" cy="712.3" r="5.5"/><circle cx="503.4" cy="727.1" r="5.5"/><circle cx="775.9" cy="720.9" r="5.5"/><circle cx="624.9" cy="653.1" r="5.5"/><circle cx="569.4" cy="738.9" r="5.5"/><circle cx="588.2" cy="723.7" r="5.5"/><circle cx="607.8" cy="735.2" r="5.5"/><circle cx="759.8" cy="746.1" r="5.5"/><circle cx="645.8" cy="699.2" r="5.5"/><circle cx="705.2" cy="743.5" r="5.5"/><circle cx="654.5" cy="749.1" r="5.5"/><circle cx="597.5" cy="744.6" r="5.5"/><circle cx="553.6" cy="717.5" r="5.5"/><circle cx="823.5" cy="712.6" r="5.5"/><circle cx="596.4" cy="722.2" r="5.5"/><circle cx="629.5" cy="682.6" r="5.5"/><circle cx="666.1" cy="744.5" r="5.5"/><circle cx="545.7" cy="736.8" r="5.5"/><circle cx="609.4" cy="729.4" r="5.5"/><circle cx="752.0" cy="674.0" r="5.5"/><circle cx="758.7" cy="693.4" r="5.5"/><circle cx="718.0" cy="718.8" r="5.5"/><circle cx="642.4" cy="716.6" r="5.5"/><circle cx="806.2" cy="713.9" r="5.5"/><circle cx="630.3" cy="693.9" r="5.5"/><circle cx="603.7" cy="715.6" r="5.5"/><circle cx="843.7" cy="741.8" r="5.5"/><circle cx="830.9" cy="738.5" r="5.5"/><circle cx="744.8" cy="714.6" r="5.5"/><circle cx="745.4" cy="703.1" r="5.5"/><circle cx="721.5" cy="722.4" r="5.5"/><circle cx="542.9" cy="734.7" r="5.5"/><circle cx="657.7" cy="738.2" r="5.5"/><circle cx="670.0" cy="728.6" r="5.5"/><circle cx="703.1" cy="742.1" r="5.5"/><circle cx="741.5" cy="714.0" r="5.5"/><circle cx="491.0" cy="717.9" r="5.5"/><circle cx="681.3" cy="750.8" r="5.5"/><circle cx="681.4" cy="746.3" r="5.5"/><circle cx="737.4" cy="750.4" r="5.5"/><circle cx="886.3" cy="724.5" r="5.5"/><circle cx="756.7" cy="697.8" r="5.5"/><circle cx="633.8" cy="733.5" r="5.5"/><circle cx="500.6" cy="720.8" r="5.5"/><circle cx="523.4" cy="715.0" r="5.5"/><circle cx="524.6" cy="712.5" r="5.5"/><circle cx="753.6" cy="697.4" r="5.5"/><circle cx="787.0" cy="747.9" r="5.5"/><circle cx="656.3" cy="712.0" r="5.5"/><circle cx="506.5" cy="716.3" r="5.5"/><circle cx="664.8" cy="725.6" r="5.5"/><circle cx="823.6" cy="715.7" r="5.5"/><circle cx="566.6" cy="732.2" r="5.5"/><circle cx="649.3" cy="667.1" r="5.5"/><circle cx="625.2" cy="687.6" r="5.5"/><circle cx="741.2" cy="659.4" r="5.5"/><circle cx="527.0" cy="712.4" r="5.5"/><circle cx="929.8" cy="719.9" r="5.5"/><circle cx="885.3" cy="739.9" r="5.5"/><circle cx="567.9" cy="720.9" r="5.5"/><circle cx="634.6" cy="712.1" r="5.5"/><circle cx="781.0" cy="733.0" r="5.5"/><circle cx="473.2" cy="713.2" r="5.5"/><circle cx="730.0" cy="687.3" r="5.5"/><circle cx="555.9" cy="734.8" r="5.5"/><circle cx="923.5" cy="732.0" r="5.5"/><circle cx="776.3" cy="746.6" r="5.5"/><circle cx="650.0" cy="705.9" r="5.5"/><circle cx="863.3" cy="735.2" r="5.5"/><circle cx="599.5" cy="724.6" r="5.5"/><circle cx="843.6" cy="728.4" r="5.5"/><circle cx="722.3" cy="738.6" r="5.5"/><circle cx="746.5" cy="672.0" r="5.5"/><circle cx="809.0" cy="729.2" r="5.5"/><circle cx="622.0" cy="663.1" r="5.5"/><circle cx="637.6" cy="732.6" r="5.5"/><circle cx="533.7" cy="713.7" r="5.5"/><circle cx="728.3" cy="690.5" r="5.5"/><circle cx="660.8" cy="699.6" r="5.5"/><circle cx="756.3" cy="719.0" r="5.5"/><circle cx="652.1" cy="727.4" r="5.5"/><circle cx="533.4" cy="733.5" r="5.5"/><circle cx="622.9" cy="727.5" r="5.5"/><circle cx="597.3" cy="720.5" r="5.5"/><circle cx="860.9" cy="713.2" r="5.5"/><circle cx="623.8" cy="716.2" r="5.5"/><circle cx="768.2" cy="747.0" r="5.5"/><circle cx="644.3" cy="730.2" r="5.5"/><circle cx="535.0" cy="727.8" r="5.5"/><circle cx="800.7" cy="723.8" r="5.5"/><circle cx="588.7" cy="723.6" r="5.5"/><circle cx="665.8" cy="730.4" r="5.5"/><circle cx="559.4" cy="715.8" r="5.5"/><circle cx="757.6" cy="655.1" r="5.5"/><circle cx="715.6" cy="718.9" r="5.5"/><circle cx="741.2" cy="737.7" r="5.5"/><circle cx="790.0" cy="736.9" r="5.5"/><circle cx="899.1" cy="740.2" r="5.5"/><circle cx="514.9" cy="730.1" r="5.5"/><circle cx="743.8" cy="652.4" r="5.5"/><circle cx="747.4" cy="682.4" r="5.5"/><circle cx="490.2" cy="719.8" r="5.5"/><circle cx="654.4" cy="688.0" r="5.5"/><circle cx="554.8" cy="735.6" r="5.5"/><circle cx="722.3" cy="735.2" r="5.5"/><circle cx="556.7" cy="717.7" r="5.5"/><circle cx="523.1" cy="722.6" r="5.5"/><circle cx="669.4" cy="752.0" r="5.5"/><circle cx="519.0" cy="724.9" r="5.5"/><circle cx="924.1" cy="724.0" r="5.5"/><circle cx="887.3" cy="720.0" r="5.5"/><circle cx="712.3" cy="726.1" r="5.5"/><circle cx="923.4" cy="721.2" r="5.5"/><circle cx="749.8" cy="684.3" r="5.5"/><circle cx="646.1" cy="722.8" r="5.5"/><circle cx="899.6" cy="722.8" r="5.5"/><circle cx="749.3" cy="746.7" r="5.5"/><circle cx="871.1" cy="718.1" r="5.5"/><circle cx="850.7" cy="723.4" r="5.5"/><circle cx="727.1" cy="742.0" r="5.5"/><circle cx="645.2" cy="687.1" r="5.5"/><circle cx="728.9" cy="730.5" r="5.5"/><circle cx="647.2" cy="741.8" r="5.5"/><circle cx="749.1" cy="679.1" r="5.5"/><circle cx="714.7" cy="734.5" r="5.5"/><circle cx="917.5" cy="724.1" r="5.5"/><circle cx="753.1" cy="691.8" r="5.5"/><circle cx="568.9" cy="730.6" r="5.5"/><circle cx="646.2" cy="738.4" r="5.5"/><circle cx="771.9" cy="727.7" r="5.5"/><circle cx="561.5" cy="725.6" r="5.5"/><circle cx="1049.8" cy="720.0" r="5.5"/><circle cx="848.5" cy="741.4" r="5.5"/><circle cx="755.4" cy="708.5" r="5.5"/><circle cx="662.0" cy="711.3" r="5.5"/><circle cx="631.9" cy="679.6" r="5.5"/><circle cx="649.1" cy="721.2" r="5.5"/><circle cx="622.6" cy="677.3" r="5.5"/><circle cx="506.9" cy="720.1" r="5.5"/><circle cx="710.2" cy="748.7" r="5.5"/><circle cx="604.6" cy="744.5" r="5.5"/><circle cx="553.7" cy="719.0" r="5.5"/><circle cx="760.9" cy="715.3" r="5.5"/><circle cx="649.0" cy="699.4" r="5.5"/><circle cx="812.2" cy="735.4" r="5.5"/><circle cx="753.3" cy="718.2" r="5.5"/><circle cx="541.6" cy="732.1" r="5.5"/><circle cx="812.3" cy="742.0" r="5.5"/><circle cx="849.4" cy="730.2" r="5.5"/><circle cx="658.2" cy="699.2" r="5.5"/><circle cx="877.1" cy="724.2" r="5.5"/><circle cx="651.4" cy="700.7" r="5.5"/><circle cx="750.8" cy="727.7" r="5.5"/><circle cx="733.0" cy="719.0" r="5.5"/><circle cx="921.5" cy="731.5" r="5.5"/><circle cx="792.6" cy="728.0" r="5.5"/><circle cx="759.2" cy="739.0" r="5.5"/><circle cx="725.3" cy="701.2" r="5.5"/><circle cx="623.6" cy="731.6" r="5.5"/><circle cx="724.6" cy="732.9" r="5.5"/><circle cx="705.9" cy="752.4" r="5.5"/><circle cx="799.0" cy="731.9" r="5.5"/><circle cx="705.0" cy="747.0" r="5.5"/><circle cx="491.3" cy="718.9" r="5.5"/><circle cx="652.7" cy="699.6" r="5.5"/><circle cx="517.1" cy="715.5" r="5.5"/><circle cx="508.4" cy="721.5" r="5.5"/><circle cx="747.2" cy="703.8" r="5.5"/></g>
<g class="b"><circle cx="409.2" cy="500.2" r="5.5"/><circle cx="538.6" cy="699.9" r="5.5"/><circle cx="502.5" cy="698.3" r="5.5"/><circle cx="544.5" cy="649.2" r="5.5"/><circle cx="575.3" cy="588.3" r="5.5"/><circle cx="522.8" cy="658.0" r="5.5"/><circle cx="448.0" cy="662.6" r="5.5"/><circle cx="476.1" cy="633.3" r="5.5"/><circle cx="532.9" cy="701.2" r="5.5"/><circle cx="460.1" cy="662.6" r="5.5"/><circle cx="399.0" cy="503.8" r="5.5"/><circle cx="419.5" cy="491.2" r="5.5"/><circle cx="454.9" cy="655.6" r="5.5"/><circle cx="468.9" cy="694.4" r="5.5"/><circle cx="610.3" cy="682.9" r="5.5"/><circle cx="440.0" cy="652.5" r="5.5"/><circle cx="501.4" cy="635.0" r="5.5"/><circle cx="482.3" cy="685.9" r="5.5"/><circle cx="503.8" cy="599.9" r="5.5"/><circle cx="442.6" cy="680.7" r="5.5"/><circle cx="580.7" cy="702.8" r="5.5"/><circle cx="589.9" cy="661.1" r="5.5"/><circle cx="553.2" cy="634.9" r="5.5"/><circle cx="575.3" cy="651.0" r="5.5"/><circle cx="440.0" cy="593.8" r="5.5"/></g>
<g class="r"><circle cx="809.1" cy="694.2" r="5.5"/><circle cx="893.3" cy="668.1" r="5.5"/><circle cx="1015.8" cy="598.5" r="5.5"/><circle cx="835.7" cy="666.7" r="5.5"/><circle cx="807.4" cy="683.6" r="5.5"/><circle cx="778.6" cy="647.7" r="5.5"/><circle cx="893.9" cy="686.8" r="5.5"/><circle cx="820.6" cy="599.3" r="5.5"/><circle cx="827.6" cy="693.5" r="5.5"/><circle cx="810.1" cy="669.9" r="5.5"/><circle cx="853.7" cy="630.7" r="5.5"/><circle cx="778.0" cy="604.7" r="5.5"/><circle cx="810.0" cy="651.6" r="5.5"/><circle cx="857.1" cy="660.5" r="5.5"/><circle cx="798.2" cy="688.9" r="5.5"/><circle cx="824.0" cy="655.5" r="5.5"/><circle cx="939.7" cy="694.7" r="5.5"/><circle cx="941.2" cy="695.0" r="5.5"/><circle cx="818.5" cy="686.0" r="5.5"/><circle cx="783.5" cy="613.4" r="5.5"/><circle cx="783.9" cy="618.2" r="5.5"/><circle cx="897.3" cy="698.4" r="5.5"/><circle cx="772.1" cy="681.4" r="5.5"/><circle cx="792.9" cy="628.3" r="5.5"/><circle cx="860.0" cy="670.7" r="5.5"/><circle cx="814.0" cy="638.4" r="5.5"/><circle cx="787.8" cy="682.5" r="5.5"/><circle cx="952.5" cy="633.2" r="5.5"/><circle cx="775.0" cy="613.4" r="5.5"/><circle cx="852.3" cy="662.4" r="5.5"/></g>
<g class="g"><circle cx="737.0" cy="737.2" r="5.5"/><circle cx="629.3" cy="696.2" r="5.5"/><circle cx="732.8" cy="714.8" r="5.5"/><circle cx="727.2" cy="717.8" r="5.5"/><circle cx="530.4" cy="724.7" r="5.5"/><circle cx="826.3" cy="742.3" r="5.5"/><circle cx="611.9" cy="745.8" r="5.5"/><circle cx="667.2" cy="736.1" r="5.5"/><circle cx="530.4" cy="723.3" r="5.5"/><circle cx="558.9" cy="735.9" r="5.5"/><circle cx="963.1" cy="715.0" r="5.5"/><circle cx="605.3" cy="713.3" r="5.5"/><circle cx="658.7" cy="719.9" r="5.5"/><circle cx="744.5" cy="708.5" r="5.5"/><circle cx="640.5" cy="747.3" r="5.5"/><circle cx="836.4" cy="721.4" r="5.5"/><circle cx="902.7" cy="723.9" r="5.5"/><circle cx="841.3" cy="741.1" r="5.5"/><circle cx="748.0" cy="735.2" r="5.5"/><circle cx="678.6" cy="750.8" r="5.5"/><circle cx="625.2" cy="693.0" r="5.5"/><circle cx="888.3" cy="730.3" r="5.5"/><circle cx="661.3" cy="730.6" r="5.5"/><circle cx="725.4" cy="722.1" r="5.5"/><circle cx="707.8" cy="743.1" r="5.5"/><circle cx="771.8" cy="735.9" r="5.5"/><circle cx="923.5" cy="736.3" r="5.5"/><circle cx="627.4" cy="633.7" r="5.5"/><circle cx="752.1" cy="693.8" r="5.5"/><circle cx="663.2" cy="747.0" r="5.5"/><circle cx="742.1" cy="691.0" r="5.5"/><circle cx="629.5" cy="708.4" r="5.5"/><circle cx="582.2" cy="715.5" r="5.5"/><circle cx="613.7" cy="739.1" r="5.5"/><circle cx="731.4" cy="695.0" r="5.5"/><circle cx="910.8" cy="717.3" r="5.5"/><circle cx="739.3" cy="697.3" r="5.5"/><circle cx="550.2" cy="732.3" r="5.5"/><circle cx="740.3" cy="732.6" r="5.5"/><circle cx="897.0" cy="715.2" r="5.5"/><circle cx="719.1" cy="744.5" r="5.5"/><circle cx="546.2" cy="713.3" r="5.5"/><circle cx="749.8" cy="733.0" r="5.5"/><circle cx="892.1" cy="732.4" r="5.5"/><circle cx="752.0" cy="742.4" r="5.5"/><circle cx="736.6" cy="719.6" r="5.5"/><circle cx="737.4" cy="721.8" r="5.5"/><circle cx="876.5" cy="726.6" r="5.5"/><circle cx="700.4" cy="743.8" r="5.5"/><circle cx="635.1" cy="670.6" r="5.5"/><circle cx="653.3" cy="723.6" r="5.5"/><circle cx="660.8" cy="699.3" r="5.5"/><circle cx="653.0" cy="747.2" r="5.5"/><circle cx="547.4" cy="716.9" r="5.5"/><circle cx="543.4" cy="718.1" r="5.5"/><circle cx="617.1" cy="728.2" r="5.5"/><circle cx="837.7" cy="731.7" r="5.5"/><circle cx="502.5" cy="720.4" r="5.5"/><circle cx="660.1" cy="742.0" r="5.5"/><circle cx="838.7" cy="713.8" r="5.5"/><circle cx="623.0" cy="708.1" r="5.5"/><circle cx="750.3" cy="719.5" r="5.5"/><circle cx="666.9" cy="741.5" r="5.5"/><circle cx="565.1" cy="738.8" r="5.5"/><circle cx="831.3" cy="744.0" r="5.5"/><circle cx="747.8" cy="738.6" r="5.5"/><circle cx="633.8" cy="672.4" r="5.5"/><circle cx="747.0" cy="686.4" r="5.5"/><circle cx="630.2" cy="649.6" r="5.5"/><circle cx="813.9" cy="727.7" r="5.5"/><circle cx="645.1" cy="711.6" r="5.5"/><circle cx="879.1" cy="724.7" r="5.5"/><circle cx="677.3" cy="745.4" r="5.5"/><circle cx="917.4" cy="717.3" r="5.5"/><circle cx="659.0" cy="724.7" r="5.5"/><circle cx="637.3" cy="683.6" r="5.5"/><circle cx="738.3" cy="711.3" r="5.5"/><circle cx="729.9" cy="733.7" r="5.5"/><circle cx="885.2" cy="714.0" r="5.5"/><circle cx="746.0" cy="731.9" r="5.5"/><circle cx="725.3" cy="746.1" r="5.5"/><circle cx="657.7" cy="753.0" r="5.5"/><circle cx="633.3" cy="700.4" r="5.5"/><circle cx="736.1" cy="706.2" r="5.5"/><circle cx="651.4" cy="694.8" r="5.5"/><circle cx="734.7" cy="689.9" r="5.5"/><circle cx="815.6" cy="745.2" r="5.5"/><circle cx="1046.0" cy="730.0" r="5.5"/><circle cx="655.0" cy="727.8" r="5.5"/><circle cx="509.3" cy="713.7" r="5.5"/><circle cx="653.4" cy="701.1" r="5.5"/><circle cx="719.7" cy="730.3" r="5.5"/><circle cx="842.5" cy="726.2" r="5.5"/><circle cx="647.5" cy="703.5" r="5.5"/><circle cx="629.4" cy="678.5" r="5.5"/><circle cx="794.4" cy="724.4" r="5.5"/><circle cx="621.1" cy="740.8" r="5.5"/><circle cx="719.4" cy="730.2" r="5.5"/><circle cx="636.8" cy="725.1" r="5.5"/><circle cx="620.7" cy="747.7" r="5.5"/><circle cx="625.9" cy="746.7" r="5.5"/><circle cx="720.7" cy="701.1" r="5.5"/><circle cx="751.6" cy="719.9" r="5.5"/><circle cx="528.9" cy="719.0" r="5.5"/><circle cx="614.0" cy="716.3" r="5.5"/><circle cx="803.5" cy="728.5" r="5.5"/><circle cx="624.0" cy="679.3" r="5.5"/><circle cx="894.7" cy="717.6" r="5.5"/><circle cx="621.9" cy="745.7" r="5.5"/><circle cx="650.4" cy="742.9" r="5.5"/><circle cx="644.0" cy="689.6" r="5.5"/><circle cx="673.6" cy="728.5" r="5.5"/><circle cx="920.7" cy="725.4" r="5.5"/><circle cx="851.4" cy="719.4" r="5.5"/><circle cx="515.7" cy="720.6" r="5.5"/><circle cx="788.8" cy="731.5" r="5.5"/><circle cx="672.1" cy="754.5" r="5.5"/><circle cx="611.9" cy="734.5" r="5.5"/><circle cx="756.3" cy="705.1" r="5.5"/><circle cx="851.8" cy="715.9" r="5.5"/><circle cx="638.6" cy="694.2" r="5.5"/><circle cx="533.4" cy="733.5" r="5.5"/><circle cx="641.7" cy="748.4" r="5.5"/><circle cx="506.7" cy="724.8" r="5.5"/><circle cx="650.3" cy="725.1" r="5.5"/><circle cx="749.4" cy="710.3" r="5.5"/><circle cx="937.8" cy="727.2" r="5.5"/><circle cx="775.6" cy="737.3" r="5.5"/><circle cx="600.2" cy="741.5" r="5.5"/><circle cx="539.7" cy="730.4" r="5.5"/><circle cx="738.8" cy="708.4" r="5.5"/><circle cx="624.4" cy="724.7" r="5.5"/><circle cx="833.0" cy="741.3" r="5.5"/><circle cx="843.5" cy="718.8" r="5.5"/><circle cx="495.3" cy="719.3" r="5.5"/><circle cx="738.9" cy="702.0" r="5.5"/><circle cx="722.6" cy="747.0" r="5.5"/><circle cx="940.0" cy="715.3" r="5.5"/><circle cx="651.4" cy="671.7" r="5.5"/><circle cx="822.8" cy="742.4" r="5.5"/><circle cx="652.4" cy="691.4" r="5.5"/><circle cx="736.3" cy="694.0" r="5.5"/><circle cx="651.0" cy="681.6" r="5.5"/><circle cx="677.7" cy="746.1" r="5.5"/><circle cx="756.7" cy="641.8" r="5.5"/><circle cx="765.5" cy="731.3" r="5.5"/><circle cx="623.7" cy="689.9" r="5.5"/><circle cx="597.8" cy="716.0" r="5.5"/><circle cx="857.9" cy="741.6" r="5.5"/><circle cx="564.0" cy="718.1" r="5.5"/><circle cx="672.9" cy="752.0" r="5.5"/><circle cx="581.9" cy="719.6" r="5.5"/><circle cx="651.7" cy="722.3" r="5.5"/><circle cx="651.7" cy="723.5" r="5.5"/><circle cx="835.5" cy="722.6" r="5.5"/><circle cx="752.1" cy="667.9" r="5.5"/><circle cx="537.5" cy="714.8" r="5.5"/><circle cx="875.1" cy="727.0" r="5.5"/><circle cx="877.2" cy="738.8" r="5.5"/><circle cx="845.7" cy="742.2" r="5.5"/><circle cx="637.5" cy="677.7" r="5.5"/><circle cx="585.5" cy="726.4" r="5.5"/><circle cx="897.2" cy="734.7" r="5.5"/><circle cx="710.0" cy="746.0" r="5.5"/><circle cx="803.9" cy="724.1" r="5.5"/><circle cx="642.5" cy="719.9" r="5.5"/></g>
<g class="b"><circle cx="593.6" cy="621.6" r="5.5"/><circle cx="597.6" cy="680.8" r="5.5"/><circle cx="500.2" cy="687.2" r="5.5"/><circle cx="487.2" cy="694.7" r="5.5"/><circle cx="410.0" cy="658.0" r="5.5"/><circle cx="473.8" cy="381.2" r="5.5"/><circle cx="401.5" cy="613.8" r="5.5"/><circle cx="470.5" cy="698.4" r="5.5"/><circle cx="561.1" cy="641.3" r="5.5"/><circle cx="532.5" cy="687.4" r="5.5"/><circle cx="537.3" cy="649.0" r="5.5"/><circle cx="609.4" cy="663.4" r="5.5"/><circle cx="568.4" cy="621.0" r="5.5"/><circle cx="486.3" cy="692.9" r="5.5"/><circle cx="474.9" cy="651.9" r="5.5"/><circle cx="567.6" cy="665.6" r="5.5"/><circle cx="297.2" cy="571.8" r="5.5"/><circle cx="516.6" cy="639.3" r="5.5"/><circle cx="505.4" cy="627.0" r="5.5"/><circle cx="566.2" cy="541.2" r="5.5"/><circle cx="452.9" cy="691.2" r="5.5"/><circle cx="474.5" cy="655.5" r="5.5"/><circle cx="567.1" cy="638.7" r="5.5"/><circle cx="521.9" cy="603.9" r="5.5"/><circle cx="603.8" cy="690.7" r="5.5"/><circle cx="479.6" cy="689.3" r="5.5"/><circle cx="529.7" cy="640.0" r="5.5"/><circle cx="494.2" cy="627.3" r="5.5"/><circle cx="600.2" cy="687.0" r="5.5"/><circle cx="444.5" cy="412.0" r="5.5"/><circle cx="511.0" cy="660.0" r="5.5"/><circle cx="544.5" cy="691.6" r="5.5"/><circle cx="466.0" cy="668.9" r="5.5"/><circle cx="558.6" cy="662.7" r="5.5"/><circle cx="480.7" cy="658.4" r="5.5"/></g>
<g class="r"><circle cx="817.8" cy="643.7" r="5.5"/><circle cx="766.3" cy="600.5" r="5.5"/><circle cx="896.8" cy="616.2" r="5.5"/><circle cx="850.5" cy="600.8" r="5.5"/><circle cx="781.4" cy="623.8" r="5.5"/><circle cx="771.3" cy="638.2" r="5.5"/><circle cx="816.6" cy="692.8" r="5.5"/><circle cx="919.1" cy="690.5" r="5.5"/><circle cx="818.4" cy="620.3" r="5.5"/><circle cx="833.6" cy="672.6" r="5.5"/><circle cx="809.0" cy="680.3" r="5.5"/><circle cx="916.7" cy="700.9" r="5.5"/><circle cx="883.9" cy="672.7" r="5.5"/><circle cx="782.0" cy="636.8" r="5.5"/><circle cx="1000.2" cy="614.0" r="5.5"/><circle cx="853.8" cy="588.2" r="5.5"/><circle cx="776.2" cy="692.6" r="5.5"/><circle cx="769.5" cy="644.0" r="5.5"/><circle cx="841.1" cy="694.2" r="5.5"/><circle cx="831.2" cy="632.0" r="5.5"/><circle cx="795.2" cy="663.6" r="5.5"/><circle cx="774.8" cy="662.0" r="5.5"/><circle cx="838.0" cy="577.5" r="5.5"/><circle cx="910.8" cy="703.9" r="5.5"/><circle cx="834.0" cy="403.0" r="5.5"/><circle cx="864.8" cy="676.3" r="5.5"/><circle cx="797.8" cy="693.7" r="5.5"/><circle cx="938.0" cy="655.5" r="5.5"/><circle cx="850.5" cy="693.4" r="5.5"/><circle cx="828.6" cy="651.8" r="5.5"/><circle cx="823.2" cy="673.8" r="5.5"/><circle cx="882.7" cy="697.4" r="5.5"/><circle cx="787.3" cy="657.5" r="5.5"/><circle cx="912.6" cy="677.4" r="5.5"/></g>
<g class="g"><circle cx="740.4" cy="686.2" r="5.5"/><circle cx="728.5" cy="684.8" r="5.5"/><circle cx="793.2" cy="731.7" r="5.5"/><circle cx="632.9" cy="705.3" r="5.5"/><circle cx="814.9" cy="719.6" r="5.5"/><circle cx="572.6" cy="734.1" r="5.5"/><circle cx="651.1" cy="668.2" r="5.5"/><circle cx="738.0" cy="704.9" r="5.5"/><circle cx="748.1" cy="660.5" r="5.5"/><circle cx="885.9" cy="716.4" r="5.5"/><circle cx="741.9" cy="702.0" r="5.5"/><circle cx="603.4" cy="743.0" r="5.5"/><circle cx="646.0" cy="742.9" r="5.5"/><circle cx="663.6" cy="748.4" r="5.5"/><circle cx="704.8" cy="738.4" r="5.5"/><circle cx="825.7" cy="734.9" r="5.5"/><circle cx="723.8" cy="709.0" r="5.5"/><circle cx="648.9" cy="748.1" r="5.5"/><circle cx="743.9" cy="704.6" r="5.5"/><circle cx="665.1" cy="728.6" r="5.5"/><circle cx="572.1" cy="725.9" r="5.5"/><circle cx="647.7" cy="746.2" r="5.5"/><circle cx="569.4" cy="735.6" r="5.5"/><circle cx="674.9" cy="741.5" r="5.5"/><circle cx="764.3" cy="745.6" r="5.5"/><circle cx="890.4" cy="735.9" r="5.5"/><circle cx="522.2" cy="722.2" r="5.5"/><circle cx="891.0" cy="729.5" r="5.5"/><circle cx="851.9" cy="727.5" r="5.5"/><circle cx="765.5" cy="716.0" r="5.5"/><circle cx="738.0" cy="726.3" r="5.5"/><circle cx="657.8" cy="753.9" r="5.5"/><circle cx="661.3" cy="704.1" r="5.5"/><circle cx="759.0" cy="696.4" r="5.5"/><circle cx="667.8" cy="724.6" r="5.5"/><circle cx="841.3" cy="723.6" r="5.5"/><circle cx="841.5" cy="714.8" r="5.5"/><circle cx="720.6" cy="710.0" r="5.5"/><circle cx="724.3" cy="740.9" r="5.5"/><circle cx="560.3" cy="737.0" r="5.5"/><circle cx="663.3" cy="721.0" r="5.5"/><circle cx="644.6" cy="713.8" r="5.5"/><circle cx="752.5" cy="689.3" r="5.5"/><circle cx="629.3" cy="746.2" r="5.5"/><circle cx="794.5" cy="744.9" r="5.5"/><circle cx="654.2" cy="690.1" r="5.5"/><circle cx="729.4" cy="749.0" r="5.5"/><circle cx="746.7" cy="708.0" r="5.5"/><circle cx="483.7" cy="720.8" r="5.5"/><circle cx="744.0" cy="742.4" r="5.5"/><circle cx="758.1" cy="746.6" r="5.5"/><circle cx="651.9" cy="716.6" r="5.5"/><circle cx="656.5" cy="712.5" r="5.5"/><circle cx="593.1" cy="747.8" r="5.5"/><circle cx="709.4" cy="730.7" r="5.5"/><circle cx="667.2" cy="742.1" r="5.5"/><circle cx="508.0" cy="728.8" r="5.5"/><circle cx="770.3" cy="715.2" r="5.5"/><circle cx="723.3" cy="731.3" r="5.5"/><circle cx="906.0" cy="725.2" r="5.5"/><circle cx="714.4" cy="743.9" r="5.5"/><circle cx="757.1" cy="720.4" r="5.5"/><circle cx="732.9" cy="699.6" r="5.5"/><circle cx="553.8" cy="739.1" r="5.5"/><circle cx="736.8" cy="710.6" r="5.5"/><circle cx="582.6" cy="744.0" r="5.5"/><circle cx="749.6" cy="647.2" r="5.5"/><circle cx="740.0" cy="751.6" r="5.5"/><circle cx="603.4" cy="721.2" r="5.5"/><circle cx="643.1" cy="703.4" r="5.5"/><circle cx="667.8" cy="737.8" r="5.5"/><circle cx="778.0" cy="738.3" r="5.5"/><circle cx="606.0" cy="723.1" r="5.5"/><circle cx="656.9" cy="695.2" r="5.5"/><circle cx="654.6" cy="734.0" r="5.5"/><circle cx="654.8" cy="733.7" r="5.5"/><circle cx="624.8" cy="641.5" r="5.5"/><circle cx="668.7" cy="741.8" r="5.5"/><circle cx="650.7" cy="706.9" r="5.5"/><circle cx="919.1" cy="715.8" r="5.5"/><circle cx="751.4" cy="706.2" r="5.5"/><circle cx="782.0" cy="721.7" r="5.5"/><circle cx="612.9" cy="727.2" r="5.5"/><circle cx="874.7" cy="732.5" r="5.5"/><circle cx="760.6" cy="649.1" r="5.5"/><circle cx="603.9" cy="729.6" r="5.5"/><circle cx="657.3" cy="691.8" r="5.5"/><circle cx="736.0" cy="722.2" r="5.5"/><circle cx="661.5" cy="742.9" r="5.5"/><circle cx="638.0" cy="704.5" r="5.5"/><circle cx="725.0" cy="730.8" r="5.5"/><circle cx="737.2" cy="734.9" r="5.5"/><circle cx="896.5" cy="725.8" r="5.5"/><circle cx="720.7" cy="745.9" r="5.5"/><circle cx="650.4" cy="692.6" r="5.5"/><circle cx="732.0" cy="707.5" r="5.5"/><circle cx="703.0" cy="752.9" r="5.5"/><circle cx="624.9" cy="701.7" r="5.5"/><circle cx="816.1" cy="743.3" r="5.5"/><circle cx="646.0" cy="673.1" r="5.5"/><circle cx="735.5" cy="730.7" r="5.5"/><circle cx="745.1" cy="721.8" r="5.5"/><circle cx="646.6" cy="735.4" r="5.5"/><circle cx="475.5" cy="713.5" r="5.5"/><circle cx="572.9" cy="720.1" r="5.5"/><circle cx="795.4" cy="721.2" r="5.5"/><circle cx="572.5" cy="727.6" r="5.5"/><circle cx="710.4" cy="739.6" r="5.5"/><circle cx="965.9" cy="725.9" r="5.5"/><circle cx="622.5" cy="733.3" r="5.5"/><circle cx="726.9" cy="699.8" r="5.5"/><circle cx="759.5" cy="720.9" r="5.5"/><circle cx="736.0" cy="745.7" r="5.5"/><circle cx="631.0" cy="717.4" r="5.5"/><circle cx="651.6" cy="722.8" r="5.5"/><circle cx="533.7" cy="734.2" r="5.5"/><circle cx="612.9" cy="724.3" r="5.5"/><circle cx="740.9" cy="669.5" r="5.5"/><circle cx="524.4" cy="721.2" r="5.5"/><circle cx="745.7" cy="736.5" r="5.5"/><circle cx="734.7" cy="707.6" r="5.5"/><circle cx="646.2" cy="694.8" r="5.5"/><circle cx="764.3" cy="725.5" r="5.5"/><circle cx="742.5" cy="655.8" r="5.5"/><circle cx="669.0" cy="727.8" r="5.5"/><circle cx="845.9" cy="735.1" r="5.5"/><circle cx="882.2" cy="719.5" r="5.5"/><circle cx="615.6" cy="726.1" r="5.5"/><circle cx="905.4" cy="731.8" r="5.5"/><circle cx="734.7" cy="705.2" r="5.5"/><circle cx="700.1" cy="752.2" r="5.5"/><circle cx="821.7" cy="721.7" r="5.5"/><circle cx="627.4" cy="720.9" r="5.5"/><circle cx="881.5" cy="717.6" r="5.5"/><circle cx="724.5" cy="726.7" r="5.5"/><circle cx="890.4" cy="733.0" r="5.5"/><circle cx="652.1" cy="672.8" r="5.5"/><circle cx="646.3" cy="686.1" r="5.5"/><circle cx="539.4" cy="718.4" r="5.5"/><circle cx="630.6" cy="688.1" r="5.5"/><circle cx="608.2" cy="730.2" r="5.5"/><circle cx="621.9" cy="631.6" r="5.5"/><circle cx="727.4" cy="690.6" r="5.5"/><circle cx="624.6" cy="690.1" r="5.5"/><circle cx="886.2" cy="729.6" r="5.5"/><circle cx="713.9" cy="723.1" r="5.5"/><circle cx="792.0" cy="745.4" r="5.5"/><circle cx="628.5" cy="657.1" r="5.5"/><circle cx="872.4" cy="719.0" r="5.5"/><circle cx="944.5" cy="729.8" r="5.5"/><circle cx="746.6" cy="703.6" r="5.5"/><circle cx="641.3" cy="678.0" r="5.5"/><circle cx="655.4" cy="718.8" r="5.5"/><circle cx="730.5" cy="682.1" r="5.5"/><circle cx="726.1" cy="729.4" r="5.5"/><circle cx="746.7" cy="707.9" r="5.5"/><circle cx="655.4" cy="720.2" r="5.5"/></g>
<g class="b"><circle cx="446.1" cy="685.4" r="5.5"/><circle cx="572.7" cy="626.4" r="5.5"/><circle cx="475.5" cy="666.6" r="5.5"/><circle cx="301.0" cy="465.8" r="5.5"/><circle cx="593.4" cy="695.9" r="5.5"/><circle cx="520.4" cy="698.5" r="5.5"/><circle cx="542.4" cy="653.4" r="5.5"/><circle cx="456.0" cy="675.2" r="5.5"/><circle cx="529.4" cy="627.7" r="5.5"/><circle cx="556.4" cy="691.7" r="5.5"/><circle cx="520.7" cy="686.5" r="5.5"/><circle cx="537.8" cy="689.4" r="5.5"/><circle cx="542.3" cy="653.3" r="5.5"/><circle cx="478.4" cy="693.2" r="5.5"/><circle cx="535.5" cy="639.9" r="5.5"/><circle cx="504.5" cy="536.2" r="5.5"/><circle cx="580.9" cy="634.1" r="5.5"/><circle cx="544.8" cy="670.6" r="5.5"/><circle cx="302.8" cy="381.0" r="5.5"/><circle cx="569.0" cy="681.8" r="5.5"/><circle cx="459.6" cy="679.1" r="5.5"/><circle cx="555.3" cy="620.1" r="5.5"/><circle cx="567.9" cy="629.6" r="5.5"/><circle cx="592.1" cy="682.6" r="5.5"/><circle cx="468.0" cy="701.5" r="5.5"/><circle cx="518.8" cy="655.9" r="5.5"/><circle cx="539.0" cy="691.7" r="5.5"/><circle cx="450.1" cy="692.7" r="5.5"/><circle cx="489.1" cy="695.6" r="5.5"/><circle cx="458.7" cy="679.8" r="5.5"/><circle cx="505.2" cy="695.0" r="5.5"/><circle cx="502.0" cy="503.5" r="5.5"/><circle cx="415.3" cy="643.2" r="5.5"/><circle cx="485.6" cy="668.5" r="5.5"/><circle cx="584.3" cy="635.5" r="5.5"/><circle cx="448.7" cy="643.2" r="5.5"/><circle cx="489.4" cy="619.3" r="5.5"/><circle cx="485.0" cy="657.1" r="5.5"/><circle cx="579.1" cy="703.1" r="5.5"/><circle cx="492.2" cy="662.4" r="5.5"/><circle cx="582.1" cy="639.2" r="5.5"/><circle cx="481.9" cy="601.3" r="5.5"/><circle cx="572.7" cy="666.3" r="5.5"/></g>
<g class="r"><circle cx="790.8" cy="689.0" r="5.5"/><circle cx="772.7" cy="581.6" r="5.5"/><circle cx="860.2" cy="701.9" r="5.5"/><circle cx="862.8" cy="675.7" r="5.5"/><circle cx="930.5" cy="641.2" r="5.5"/><circle cx="856.2" cy="559.8" r="5.5"/><circle cx="916.2" cy="684.8" r="5.5"/><circle cx="931.0" cy="607.0" r="5.5"/><circle cx="858.4" cy="702.1" r="5.5"/><circle cx="787.7" cy="675.2" r="5.5"/><circle cx="782.7" cy="679.8" r="5.5"/><circle cx="854.3" cy="641.4" r="5.5"/><circle cx="835.5" cy="618.5" r="5.5"/><circle cx="792.4" cy="630.6" r="5.5"/><circle cx="770.1" cy="633.2" r="5.5"/><circle cx="794.6" cy="630.1" r="5.5"/><circle cx="816.6" cy="629.5" r="5.5"/><circle cx="845.8" cy="675.7" r="5.5"/><circle cx="767.7" cy="658.9" r="5.5"/><circle cx="781.8" cy="701.1" r="5.5"/><circle cx="785.9" cy="678.4" r="5.5"/><circle cx="834.9" cy="683.9" r="5.5"/><circle cx="849.5" cy="672.8" r="5.5"/><circle cx="900.2" cy="671.5" r="5.5"/><circle cx="857.3" cy="619.3" r="5.5"/><circle cx="918.8" cy="672.4" r="5.5"/><circle cx="856.1" cy="657.0" r="5.5"/><circle cx="839.5" cy="653.5" r="5.5"/><circle cx="957.3" cy="682.2" r="5.5"/><circle cx="781.5" cy="675.8" r="5.5"/><circle cx="791.9" cy="680.4" r="5.5"/><circle cx="850.5" cy="701.4" r="5.5"/><circle cx="791.0" cy="679.3" r="5.5"/><circle cx="1066.0" cy="684.5" r="5.5"/><circle cx="796.3" cy="654.6" r="5.5"/></g>
<g class="g"><circle cx="525.8" cy="731.7" r="5.5"/><circle cx="642.8" cy="726.9" r="5.5"/><circle cx="593.2" cy="739.4" r="5.5"/><circle cx="752.9" cy="680.8" r="5.5"/><circle cx="867.6" cy="728.9" r="5.5"/><circle cx="509.6" cy="714.1" r="5.5"/><circle cx="853.2" cy="720.6" r="5.5"/><circle cx="657.2" cy="702.7" r="5.5"/><circle cx="835.1" cy="743.3" r="5.5"/><circle cx="631.8" cy="646.3" r="5.5"/><circle cx="795.9" cy="732.4" r="5.5"/><circle cx="726.1" cy="744.4" r="5.5"/><circle cx="837.4" cy="719.8" r="5.5"/><circle cx="532.7" cy="715.4" r="5.5"/><circle cx="758.7" cy="627.1" r="5.5"/><circle cx="735.0" cy="675.2" r="5.5"/><circle cx="522.2" cy="729.1" r="5.5"/><circle cx="635.3" cy="717.4" r="5.5"/><circle cx="569.5" cy="738.6" r="5.5"/><circle cx="746.3" cy="635.0" r="5.5"/><circle cx="627.1" cy="599.4" r="5.5"/><circle cx="751.1" cy="736.7" r="5.5"/><circle cx="638.1" cy="744.1" r="5.5"/><circle cx="559.9" cy="726.0" r="5.5"/><circle cx="568.7" cy="713.1" r="5.5"/><circle cx="935.0" cy="732.4" r="5.5"/><circle cx="924.1" cy="716.7" r="5.5"/><circle cx="761.3" cy="690.6" r="5.5"/><circle cx="815.9" cy="739.5" r="5.5"/><circle cx="657.4" cy="717.6" r="5.5"/><circle cx="623.8" cy="725.9" r="5.5"/><circle cx="722.6" cy="716.2" r="5.5"/><circle cx="586.1" cy="716.7" r="5.5"/><circle cx="501.9" cy="716.3" r="5.5"/><circle cx="628.2" cy="736.4" r="5.5"/><circle cx="820.4" cy="742.5" r="5.5"/><circle cx="844.3" cy="738.9" r="5.5"/><circle cx="627.3" cy="740.3" r="5.5"/><circle cx="642.0" cy="723.3" r="5.5"/><circle cx="616.5" cy="734.8" r="5.5"/><circle cx="521.2" cy="731.0" r="5.5"/><circle cx="916.0" cy="733.1" r="5.5"/><circle cx="620.6" cy="735.4" r="5.5"/><circle cx="935.6" cy="738.9" r="5.5"/><circle cx="531.1" cy="734.1" r="5.5"/><circle cx="646.8" cy="707.6" r="5.5"/><circle cx="638.4" cy="721.0" r="5.5"/><circle cx="603.2" cy="732.7" r="5.5"/><circle cx="647.2" cy="702.3" r="5.5"/><circle cx="663.5" cy="729.9" r="5.5"/><circle cx="582.2" cy="715.5" r="5.5"/><circle cx="631.2" cy="700.1" r="5.5"/><circle cx="732.3" cy="705.9" r="5.5"/><circle cx="761.0" cy="685.1" r="5.5"/><circle cx="635.2" cy="752.1" r="5.5"/><circle cx="672.7" cy="736.6" r="5.5"/><circle cx="519.9" cy="725.5" r="5.5"/><circle cx="540.3" cy="723.8" r="5.5"/><circle cx="657.1" cy="720.4" r="5.5"/><circle cx="704.5" cy="753.2" r="5.5"/><circle cx="628.8" cy="752.2" r="5.5"/><circle cx="724.1" cy="739.3" r="5.5"/><circle cx="743.6" cy="697.2" r="5.5"/><circle cx="559.0" cy="726.0" r="5.5"/><circle cx="563.9" cy="728.7" r="5.5"/><circle cx="807.3" cy="732.1" r="5.5"/><circle cx="667.6" cy="722.3" r="5.5"/><circle cx="507.7" cy="720.4" r="5.5"/><circle cx="662.8" cy="753.7" r="5.5"/><circle cx="622.2" cy="741.4" r="5.5"/><circle cx="575.4" cy="722.2" r="5.5"/><circle cx="843.8" cy="735.1" r="5.5"/><circle cx="922.9" cy="715.8" r="5.5"/><circle cx="751.6" cy="648.5" r="5.5"/><circle cx="645.6" cy="653.9" r="5.5"/><circle cx="742.2" cy="715.6" r="5.5"/><circle cx="605.9" cy="717.0" r="5.5"/><circle cx="739.6" cy="740.7" r="5.5"/><circle cx="733.5" cy="723.9" r="5.5"/><circle cx="505.3" cy="717.5" r="5.5"/><circle cx="657.5" cy="733.1" r="5.5"/><circle cx="470.7" cy="716.8" r="5.5"/><circle cx="703.0" cy="740.1" r="5.5"/><circle cx="728.3" cy="694.9" r="5.5"/><circle cx="546.4" cy="717.3" r="5.5"/><circle cx="577.1" cy="713.9" r="5.5"/><circle cx="912.4" cy="735.4" r="5.5"/><circle cx="740.2" cy="739.5" r="5.5"/><circle cx="672.2" cy="731.2" r="5.5"/><circle cx="642.3" cy="711.8" r="5.5"/><circle cx="641.3" cy="703.5" r="5.5"/><circle cx="631.3" cy="670.9" r="5.5"/><circle cx="535.7" cy="715.5" r="5.5"/><circle cx="741.7" cy="685.4" r="5.5"/><circle cx="862.3" cy="723.3" r="5.5"/><circle cx="580.7" cy="728.8" r="5.5"/><circle cx="726.9" cy="705.1" r="5.5"/><circle cx="654.7" cy="700.0" r="5.5"/><circle cx="735.6" cy="750.4" r="5.5"/><circle cx="748.1" cy="701.0" r="5.5"/><circle cx="760.0" cy="741.8" r="5.5"/><circle cx="860.4" cy="729.6" r="5.5"/><circle cx="649.5" cy="742.8" r="5.5"/><circle cx="668.3" cy="727.1" r="5.5"/><circle cx="720.8" cy="735.3" r="5.5"/><circle cx="654.0" cy="701.2" r="5.5"/><circle cx="558.1" cy="738.6" r="5.5"/><circle cx="664.5" cy="726.1" r="5.5"/><circle cx="752.1" cy="712.5" r="5.5"/><circle cx="550.5" cy="712.8" r="5.5"/><circle cx="564.6" cy="742.7" r="5.5"/><circle cx="745.4" cy="746.6" r="5.5"/><circle cx="858.0" cy="712.9" r="5.5"/><circle cx="655.5" cy="718.5" r="5.5"/><circle cx="916.7" cy="714.9" r="5.5"/><circle cx="498.5" cy="725.2" r="5.5"/><circle cx="761.1" cy="740.0" r="5.5"/><circle cx="555.7" cy="721.6" r="5.5"/><circle cx="745.8" cy="721.5" r="5.5"/><circle cx="797.4" cy="728.1" r="5.5"/><circle cx="610.0" cy="723.2" r="5.5"/><circle cx="523.8" cy="724.8" r="5.5"/><circle cx="840.6" cy="716.1" r="5.5"/><circle cx="938.0" cy="721.9" r="5.5"/><circle cx="633.0" cy="735.0" r="5.5"/><circle cx="991.0" cy="722.5" r="5.5"/><circle cx="649.5" cy="722.1" r="5.5"/><circle cx="577.1" cy="738.5" r="5.5"/><circle cx="506.3" cy="727.4" r="5.5"/><circle cx="649.6" cy="746.1" r="5.5"/><circle cx="787.7" cy="717.1" r="5.5"/><circle cx="560.7" cy="716.6" r="5.5"/><circle cx="723.4" cy="737.5" r="5.5"/><circle cx="744.8" cy="723.0" r="5.5"/><circle cx="639.8" cy="681.4" r="5.5"/><circle cx="827.6" cy="722.2" r="5.5"/><circle cx="925.6" cy="725.7" r="5.5"/><circle cx="506.1" cy="721.2" r="5.5"/><circle cx="767.1" cy="746.6" r="5.5"/><circle cx="735.4" cy="739.9" r="5.5"/><circle cx="672.0" cy="733.7" r="5.5"/><circle cx="538.2" cy="732.3" r="5.5"/><circle cx="854.3" cy="719.1" r="5.5"/><circle cx="573.0" cy="727.4" r="5.5"/><circle cx="646.5" cy="738.8" r="5.5"/><circle cx="714.7" cy="745.4" r="5.5"/><circle cx="769.2" cy="723.8" r="5.5"/><circle cx="821.6" cy="729.4" r="5.5"/><circle cx="718.3" cy="709.1" r="5.5"/><circle cx="655.4" cy="744.6" r="5.5"/><circle cx="739.2" cy="742.2" r="5.5"/><circle cx="602.5" cy="717.2" r="5.5"/><circle cx="903.9" cy="727.2" r="5.5"/><circle cx="811.0" cy="714.7" r="5.5"/><circle cx="723.2" cy="726.9" r="5.5"/><circle cx="622.3" cy="733.5" r="5.5"/><circle cx="740.4" cy="717.1" r="5.5"/><circle cx="623.2" cy="702.0" r="5.5"/><circle cx="751.6" cy="723.8" r="5.5"/><circle cx="554.9" cy="734.9" r="5.5"/><circle cx="621.2" cy="743.2" r="5.5"/></g>
<g class="b"><circle cx="559.2" cy="700.2" r="5.5"/><circle cx="517.6" cy="635.2" r="5.5"/><circle cx="548.8" cy="687.5" r="5.5"/><circle cx="527.7" cy="704.2" r="5.5"/><circle cx="477.7" cy="694.2" r="5.5"/><circle cx="475.6" cy="695.5" r="5.5"/><circle cx="462.8" cy="412.0" r="5.5"/><circle cx="517.4" cy="625.6" r="5.5"/><circle cx="532.9" cy="628.8" r="5.5"/><circle cx="606.1" cy="681.9" r="5.5"/><circle cx="595.7" cy="675.6" r="5.5"/><circle cx="546.3" cy="702.0" r="5.5"/><circle cx="594.1" cy="605.9" r="5.5"/><circle cx="550.6" cy="689.3" r="5.5"/><circle cx="441.2" cy="597.5" r="5.5"/><circle cx="481.1" cy="633.9" r="5.5"/><circle cx="524.7" cy="679.7" r="5.5"/><circle cx="480.7" cy="629.6" r="5.5"/><circle cx="472.0" cy="618.8" r="5.5"/><circle cx="445.2" cy="659.4" r="5.5"/><circle cx="548.2" cy="657.0" r="5.5"/><circle cx="612.2" cy="610.2" r="5.5"/><circle cx="373.0" cy="603.8" r="5.5"/><circle cx="477.1" cy="585.2" r="5.5"/><circle cx="535.0" cy="543.0" r="5.5"/><circle cx="592.3" cy="574.8" r="5.5"/><circle cx="596.1" cy="696.9" r="5.5"/><circle cx="446.2" cy="660.6" r="5.5"/><circle cx="512.3" cy="617.6" r="5.5"/><circle cx="589.8" cy="683.1" r="5.5"/><circle cx="520.8" cy="628.4" r="5.5"/><circle cx="467.7" cy="679.2" r="5.5"/><circle cx="531.3" cy="633.0" r="5.5"/><circle cx="591.2" cy="528.0" r="5.5"/><circle cx="381.5" cy="599.2" r="5.5"/><circle cx="523.0" cy="646.7" r="5.5"/><circle cx="549.2" cy="573.0" r="5.5"/><circle cx="437.5" cy="566.2" r="5.5"/><circle cx="490.9" cy="629.6" r="5.5"/><circle cx="565.7" cy="681.5" r="5.5"/><circle cx="588.0" cy="592.4" r="5.5"/><circle cx="498.9" cy="674.7" r="5.5"/><circle cx="495.0" cy="522.5" r="5.5"/><circle cx="402.8" cy="566.2" r="5.5"/><circle cx="550.1" cy="663.3" r="5.5"/><circle cx="428.8" cy="661.2" r="5.5"/><circle cx="444.3" cy="624.0" r="5.5"/></g>
<g class="r"><circle cx="855.8" cy="675.1" r="5.5"/><circle cx="845.1" cy="684.3" r="5.5"/><circle cx="812.0" cy="574.5" r="5.5"/><circle cx="988.5" cy="706.2" r="5.5"/><circle cx="832.3" cy="691.8" r="5.5"/><circle cx="936.7" cy="698.8" r="5.5"/><circle cx="975.7" cy="695.7" r="5.5"/><circle cx="784.4" cy="624.9" r="5.5"/><circle cx="914.9" cy="663.3" r="5.5"/><circle cx="1141.2" cy="707.5" r="5.5"/><circle cx="828.2" cy="649.7" r="5.5"/><circle cx="969.2" cy="632.0" r="5.5"/><circle cx="789.4" cy="689.7" r="5.5"/><circle cx="870.8" cy="686.7" r="5.5"/><circle cx="923.8" cy="597.0" r="5.5"/><circle cx="772.2" cy="611.5" r="5.5"/><circle cx="996.5" cy="681.8" r="5.5"/><circle cx="854.8" cy="622.8" r="5.5"/><circle cx="816.1" cy="682.3" r="5.5"/><circle cx="900.9" cy="698.6" r="5.5"/><circle cx="947.2" cy="704.2" r="5.5"/><circle cx="895.6" cy="682.1" r="5.5"/><circle cx="789.7" cy="685.2" r="5.5"/><circle cx="953.0" cy="691.6" r="5.5"/><circle cx="861.3" cy="666.3" r="5.5"/><circle cx="825.7" cy="688.1" r="5.5"/><circle cx="1099.8" cy="504.0" r="5.5"/></g>
<g class="g"><circle cx="875.4" cy="724.9" r="5.5"/><circle cx="725.8" cy="698.8" r="5.5"/><circle cx="642.2" cy="719.3" r="5.5"/><circle cx="744.1" cy="722.7" r="5.5"/><circle cx="735.5" cy="689.0" r="5.5"/><circle cx="507.2" cy="724.7" r="5.5"/><circle cx="539.6" cy="713.7" r="5.5"/><circle cx="770.5" cy="734.1" r="5.5"/><circle cx="784.9" cy="724.4" r="5.5"/><circle cx="628.2" cy="701.3" r="5.5"/><circle cx="847.3" cy="722.0" r="5.5"/><circle cx="642.6" cy="667.0" r="5.5"/><circle cx="748.2" cy="667.1" r="5.5"/><circle cx="740.2" cy="733.7" r="5.5"/><circle cx="739.6" cy="707.1" r="5.5"/><circle cx="912.4" cy="719.0" r="5.5"/><circle cx="745.6" cy="711.2" r="5.5"/><circle cx="652.9" cy="750.2" r="5.5"/><circle cx="639.3" cy="707.1" r="5.5"/><circle cx="916.1" cy="714.5" r="5.5"/><circle cx="590.5" cy="728.9" r="5.5"/><circle cx="641.4" cy="737.2" r="5.5"/><circle cx="633.0" cy="677.7" r="5.5"/><circle cx="721.8" cy="709.6" r="5.5"/><circle cx="491.3" cy="723.0" r="5.5"/><circle cx="565.9" cy="722.1" r="5.5"/><circle cx="727.5" cy="739.6" r="5.5"/><circle cx="500.1" cy="724.1" r="5.5"/><circle cx="853.0" cy="738.4" r="5.5"/><circle cx="900.7" cy="738.1" r="5.5"/><circle cx="595.5" cy="746.0" r="5.5"/><circle cx="583.0" cy="714.1" r="5.5"/><circle cx="879.9" cy="738.0" r="5.5"/><circle cx="759.8" cy="687.1" r="5.5"/><circle cx="639.4" cy="694.1" r="5.5"/><circle cx="670.3" cy="740.9" r="5.5"/><circle cx="639.5" cy="711.3" r="5.5"/><circle cx="738.0" cy="741.8" r="5.5"/><circle cx="582.2" cy="719.6" r="5.5"/><circle cx="634.2" cy="685.4" r="5.5"/><circle cx="744.4" cy="700.0" r="5.5"/><circle cx="725.1" cy="708.8" r="5.5"/><circle cx="978.5" cy="726.6" r="5.5"/><circle cx="654.9" cy="686.0" r="5.5"/><circle cx="709.8" cy="734.9" r="5.5"/><circle cx="927.3" cy="712.7" r="5.5"/><circle cx="635.5" cy="704.5" r="5.5"/><circle cx="662.8" cy="747.9" r="5.5"/><circle cx="578.9" cy="738.7" r="5.5"/><circle cx="748.3" cy="672.4" r="5.5"/><circle cx="728.2" cy="692.6" r="5.5"/><circle cx="736.9" cy="695.0" r="5.5"/><circle cx="729.2" cy="724.0" r="5.5"/><circle cx="863.1" cy="731.6" r="5.5"/><circle cx="550.8" cy="713.1" r="5.5"/><circle cx="927.9" cy="730.4" r="5.5"/><circle cx="633.1" cy="749.0" r="5.5"/><circle cx="546.2" cy="739.0" r="5.5"/><circle cx="545.0" cy="715.6" r="5.5"/><circle cx="748.9" cy="733.4" r="5.5"/><circle cx="629.8" cy="671.8" r="5.5"/><circle cx="709.5" cy="751.1" r="5.5"/><circle cx="570.0" cy="726.0" r="5.5"/><circle cx="652.6" cy="741.8" r="5.5"/><circle cx="851.4" cy="716.4" r="5.5"/><circle cx="914.2" cy="724.3" r="5.5"/><circle cx="865.9" cy="715.9" r="5.5"/><circle cx="608.7" cy="716.6" r="5.5"/><circle cx="888.6" cy="719.9" r="5.5"/><circle cx="655.6" cy="740.5" r="5.5"/><circle cx="846.9" cy="727.4" r="5.5"/><circle cx="562.4" cy="740.4" r="5.5"/><circle cx="612.3" cy="729.2" r="5.5"/><circle cx="485.6" cy="721.5" r="5.5"/><circle cx="709.7" cy="730.4" r="5.5"/><circle cx="666.3" cy="754.3" r="5.5"/><circle cx="528.5" cy="728.4" r="5.5"/><circle cx="663.4" cy="729.6" r="5.5"/><circle cx="528.1" cy="730.4" r="5.5"/><circle cx="502.3" cy="725.9" r="5.5"/><circle cx="834.0" cy="743.3" r="5.5"/><circle cx="741.0" cy="679.9" r="5.5"/><circle cx="742.3" cy="737.1" r="5.5"/><circle cx="915.8" cy="732.1" r="5.5"/><circle cx="557.4" cy="736.2" r="5.5"/><circle cx="743.5" cy="669.0" r="5.5"/><circle cx="733.2" cy="739.9" r="5.5"/><circle cx="744.0" cy="746.2" r="5.5"/><circle cx="586.8" cy="725.2" r="5.5"/><circle cx="911.0" cy="730.7" r="5.5"/><circle cx="647.7" cy="692.0" r="5.5"/><circle cx="724.4" cy="740.8" r="5.5"/><circle cx="639.8" cy="645.8" r="5.5"/><circle cx="902.9" cy="724.0" r="5.5"/><circle cx="655.6" cy="748.4" r="5.5"/><circle cx="899.3" cy="727.2" r="5.5"/><circle cx="594.9" cy="716.3" r="5.5"/><circle cx="664.6" cy="754.3" r="5.5"/><circle cx="706.2" cy="740.8" r="5.5"/><circle cx="757.3" cy="732.2" r="5.5"/><circle cx="741.6" cy="659.7" r="5.5"/><circle cx="610.3" cy="747.1" r="5.5"/><circle cx="579.8" cy="729.3" r="5.5"/><circle cx="755.1" cy="702.8" r="5.5"/><circle cx="747.0" cy="749.8" r="5.5"/><circle cx="490.5" cy="721.8" r="5.5"/><circle cx="635.5" cy="717.1" r="5.5"/><circle cx="541.7" cy="724.9" r="5.5"/><circle cx="627.3" cy="751.6" r="5.5"/><circle cx="510.2" cy="717.5" r="5.5"/><circle cx="740.1" cy="712.2" r="5.5"/><circle cx="640.4" cy="686.8" r="5.5"/><circle cx="844.9" cy="729.7" r="5.5"/><circle cx="654.5" cy="741.6" r="5.5"/><circle cx="747.3" cy="682.7" r="5.5"/><circle cx="892.3" cy="728.5" r="5.5"/><circle cx="629.6" cy="723.7" r="5.5"/><circle cx="926.7" cy="718.6" r="5.5"/><circle cx="753.5" cy="681.0" r="5.5"/><circle cx="716.3" cy="737.8" r="5.5"/><circle cx="726.7" cy="706.8" r="5.5"/><circle cx="824.1" cy="723.2" r="5.5"/><circle cx="629.6" cy="749.8" r="5.5"/><circle cx="864.9" cy="736.3" r="5.5"/><circle cx="758.3" cy="723.6" r="5.5"/><circle cx="728.0" cy="715.9" r="5.5"/><circle cx="735.8" cy="726.1" r="5.5"/><circle cx="646.9" cy="680.2" r="5.5"/><circle cx="880.1" cy="733.1" r="5.5"/><circle cx="497.6" cy="721.2" r="5.5"/><circle cx="532.7" cy="723.3" r="5.5"/><circle cx="575.1" cy="732.6" r="5.5"/><circle cx="740.2" cy="735.6" r="5.5"/><circle cx="712.4" cy="732.9" r="5.5"/><circle cx="625.4" cy="647.8" r="5.5"/><circle cx="647.0" cy="687.7" r="5.5"/><circle cx="498.2" cy="715.7" r="5.5"/><circle cx="715.9" cy="718.5" r="5.5"/><circle cx="697.0" cy="750.8" r="5.5"/><circle cx="803.5" cy="735.4" r="5.5"/><circle cx="753.4" cy="690.6" r="5.5"/><circle cx="614.3" cy="712.6" r="5.5"/><circle cx="630.0" cy="678.3" r="5.5"/><circle cx="786.1" cy="724.6" r="5.5"/><circle cx="893.1" cy="740.0" r="5.5"/><circle cx="668.8" cy="720.5" r="5.5"/><circle cx="838.2" cy="723.4" r="5.5"/><circle cx="927.5" cy="718.7" r="5.5"/><circle cx="666.9" cy="739.4" r="5.5"/><circle cx="921.2" cy="726.8" r="5.5"/><circle cx="494.3" cy="716.2" r="5.5"/><circle cx="608.5" cy="736.4" r="5.5"/><circle cx="615.5" cy="730.9" r="5.5"/><circle cx="852.7" cy="727.8" r="5.5"/><circle cx="874.0" cy="715.1" r="5.5"/><circle cx="955.6" cy="732.9" r="5.5"/><circle cx="798.4" cy="729.9" r="5.5"/><circle cx="751.8" cy="714.9" r="5.5"/><circle cx="725.2" cy="711.9" r="5.5"/><circle cx="571.9" cy="719.4" r="5.5"/><circle cx="958.9" cy="738.3" r="5.5"/><circle cx="858.6" cy="726.0" r="5.5"/><circle cx="756.7" cy="726.9" r="5.5"/><circle cx="717.4" cy="716.3" r="5.5"/><circle cx="935.7" cy="727.1" r="5.5"/><circle cx="513.4" cy="730.9" r="5.5"/><circle cx="577.3" cy="738.6" r="5.5"/><circle cx="972.7" cy="736.0" r="5.5"/><circle cx="508.3" cy="719.2" r="5.5"/></g>
<g class="b"><circle cx="596.7" cy="605.1" r="5.5"/><circle cx="382.0" cy="636.8" r="5.5"/><circle cx="580.8" cy="702.6" r="5.5"/><circle cx="321.2" cy="555.8" r="5.5"/><circle cx="574.7" cy="689.1" r="5.5"/><circle cx="602.9" cy="662.3" r="5.5"/><circle cx="593.2" cy="581.8" r="5.5"/><circle cx="442.5" cy="568.8" r="5.5"/><circle cx="462.5" cy="455.0" r="5.5"/><circle cx="402.5" cy="655.0" r="5.5"/><circle cx="449.9" cy="646.5" r="5.5"/><circle cx="603.0" cy="696.4" r="5.5"/><circle cx="516.8" cy="638.7" r="5.5"/><circle cx="368.8" cy="654.5" r="5.5"/><circle cx="574.6" cy="609.5" r="5.5"/><circle cx="490.0" cy="666.8" r="5.5"/><circle cx="482.0" cy="611.3" r="5.5"/><circle cx="502.5" cy="670.6" r="5.5"/><circle cx="529.2" cy="583.8" r="5.5"/><circle cx="476.7" cy="648.9" r="5.5"/><circle cx="556.9" cy="683.4" r="5.5"/><circle cx="351.5" cy="609.5" r="5.5"/><circle cx="496.0" cy="704.3" r="5.5"/><circle cx="487.5" cy="543.2" r="5.5"/><circle cx="498.5" cy="643.7" r="5.5"/><circle cx="507.6" cy="663.2" r="5.5"/><circle cx="500.0" cy="570.0" r="5.5"/><circle cx="586.4" cy="652.4" r="5.5"/><circle cx="454.1" cy="609.1" r="5.5"/><circle cx="415.0" cy="681.2" r="5.5"/><circle cx="543.6" cy="661.0" r="5.5"/><circle cx="490.5" cy="659.6" r="5.5"/><circle cx="480.7" cy="648.8" r="5.5"/><circle cx="604.0" cy="646.6" r="5.5"/><circle cx="609.3" cy="687.6" r="5.5"/><circle cx="461.2" cy="705.6" r="5.5"/><circle cx="543.7" cy="701.8" r="5.5"/><circle cx="298.2" cy="482.5" r="5.5"/></g>
<g class="r"><circle cx="819.8" cy="634.9" r="5.5"/><circle cx="973.0" cy="663.8" r="5.5"/><circle cx="842.2" cy="648.4" r="5.5"/><circle cx="955.2" cy="567.8" r="5.5"/><circle cx="779.9" cy="653.9" r="5.5"/><circle cx="793.5" cy="688.1" r="5.5"/><circle cx="779.9" cy="622.3" r="5.5"/><circle cx="777.8" cy="601.8" r="5.5"/><circle cx="768.3" cy="639.1" r="5.5"/><circle cx="773.6" cy="635.5" r="5.5"/><circle cx="775.5" cy="628.6" r="5.5"/><circle cx="865.9" cy="671.0" r="5.5"/><circle cx="996.0" cy="700.0" r="5.5"/><circle cx="805.0" cy="700.5" r="5.5"/><circle cx="932.6" cy="705.4" r="5.5"/><circle cx="1148.8" cy="690.8" r="5.5"/><circle cx="822.6" cy="675.2" r="5.5"/><circle cx="825.3" cy="667.6" r="5.5"/><circle cx="1073.8" cy="690.5" r="5.5"/><circle cx="815.9" cy="655.3" r="5.5"/><circle cx="801.1" cy="698.8" r="5.5"/><circle cx="771.9" cy="672.2" r="5.5"/><circle cx="810.2" cy="662.3" r="5.5"/><circle cx="913.2" cy="669.1" r="5.5"/><circle cx="840.1" cy="691.5" r="5.5"/><circle cx="860.8" cy="674.0" r="5.5"/><circle cx="862.0" cy="676.4" r="5.5"/><circle cx="809.7" cy="694.7" r="5.5"/></g>
<g class="g"><circle cx="722.3" cy="705.1" r="5.5"/><circle cx="502.4" cy="715.4" r="5.5"/><circle cx="738.1" cy="691.1" r="5.5"/><circle cx="768.0" cy="747.7" r="5.5"/><circle cx="533.5" cy="713.5" r="5.5"/><circle cx="758.5" cy="750.0" r="5.5"/><circle cx="961.5" cy="733.3" r="5.5"/><circle cx="760.3" cy="749.8" r="5.5"/><circle cx="505.6" cy="727.4" r="5.5"/><circle cx="886.3" cy="726.8" r="5.5"/><circle cx="622.1" cy="714.3" r="5.5"/><circle cx="732.7" cy="722.8" r="5.5"/><circle cx="662.2" cy="740.2" r="5.5"/><circle cx="576.2" cy="737.9" r="5.5"/><circle cx="768.1" cy="721.3" r="5.5"/><circle cx="588.8" cy="747.1" r="5.5"/><circle cx="645.4" cy="703.0" r="5.5"/><circle cx="795.9" cy="715.4" r="5.5"/><circle cx="628.3" cy="649.8" r="5.5"/><circle cx="831.6" cy="715.9" r="5.5"/><circle cx="559.4" cy="740.4" r="5.5"/><circle cx="768.7" cy="724.0" r="5.5"/><circle cx="721.5" cy="710.2" r="5.5"/><circle cx="773.5" cy="715.0" r="5.5"/><circle cx="657.5" cy="710.7" r="5.5"/><circle cx="628.5" cy="733.8" r="5.5"/><circle cx="853.7" cy="727.5" r="5.5"/><circle cx="626.1" cy="645.4" r="5.5"/><circle cx="594.2" cy="743.6" r="5.5"/><circle cx="507.9" cy="719.0" r="5.5"/><circle cx="804.5" cy="741.5" r="5.5"/><circle cx="641.3" cy="719.0" r="5.5"/><circle cx="644.7" cy="717.6" r="5.5"/><circle cx="859.8" cy="726.1" r="5.5"/><circle cx="709.5" cy="745.8" r="5.5"/><circle cx="1033.5" cy="722.5" r="5.5"/><circle cx="652.3" cy="736.1" r="5.5"/><circle cx="515.9" cy="712.7" r="5.5"/><circle cx="639.6" cy="685.5" r="5.5"/><circle cx="758.0" cy="718.2" r="5.5"/><circle cx="863.5" cy="734.6" r="5.5"/><circle cx="568.4" cy="721.8" r="5.5"/><circle cx="738.9" cy="687.4" r="5.5"/><circle cx="611.6" cy="730.0" r="5.5"/><circle cx="511.3" cy="718.9" r="5.5"/><circle cx="497.6" cy="725.8" r="5.5"/><circle cx="642.0" cy="681.8" r="5.5"/><circle cx="892.4" cy="713.6" r="5.5"/><circle cx="714.8" cy="730.7" r="5.5"/><circle cx="740.0" cy="696.4" r="5.5"/><circle cx="600.2" cy="745.1" r="5.5"/><circle cx="700.8" cy="745.4" r="5.5"/><circle cx="831.9" cy="734.8" r="5.5"/><circle cx="720.7" cy="744.1" r="5.5"/><circle cx="893.1" cy="720.2" r="5.5"/><circle cx="710.0" cy="747.8" r="5.5"/><circle cx="550.5" cy="728.0" r="5.5"/><circle cx="495.3" cy="716.8" r="5.5"/><circle cx="597.5" cy="740.5" r="5.5"/><circle cx="666.4" cy="739.8" r="5.5"/><circle cx="614.8" cy="729.1" r="5.5"/><circle cx="742.4" cy="709.6" r="5.5"/><circle cx="552.4" cy="725.2" r="5.5"/><circle cx="518.5" cy="721.0" r="5.5"/><circle cx="584.3" cy="713.3" r="5.5"/><circle cx="591.3" cy="722.0" r="5.5"/><circle cx="933.4" cy="737.7" r="5.5"/><circle cx="874.5" cy="736.8" r="5.5"/><circle cx="607.3" cy="743.9" r="5.5"/><circle cx="732.5" cy="741.1" r="5.5"/><circle cx="947.0" cy="734.0" r="5.5"/><circle cx="908.1" cy="722.3" r="5.5"/><circle cx="594.3" cy="721.9" r="5.5"/><circle cx="529.8" cy="726.2" r="5.5"/><circle cx="626.5" cy="745.3" r="5.5"/><circle cx="545.6" cy="718.6" r="5.5"/><circle cx="631.3" cy="705.5" r="5.5"/><circle cx="585.6" cy="724.0" r="5.5"/><circle cx="726.7" cy="731.9" r="5.5"/><circle cx="925.1" cy="729.9" r="5.5"/><circle cx="759.8" cy="678.8" r="5.5"/><circle cx="909.1" cy="732.4" r="5.5"/><circle cx="641.8" cy="706.3" r="5.5"/><circle cx="722.4" cy="705.5" r="5.5"/><circle cx="623.1" cy="668.8" r="5.5"/><circle cx="751.9" cy="645.4" r="5.5"/><circle cx="658.2" cy="736.5" r="5.5"/><circle cx="567.4" cy="737.7" r="5.5"/><circle cx="755.4" cy="715.7" r="5.5"/><circle cx="806.8" cy="717.0" r="5.5"/><circle cx="668.1" cy="746.5" r="5.5"/><circle cx="640.5" cy="738.8" r="5.5"/><circle cx="649.7" cy="740.4" r="5.5"/><circle cx="501.4" cy="725.5" r="5.5"/><circle cx="750.5" cy="743.0" r="5.5"/><circle cx="892.7" cy="712.5" r="5.5"/><circle cx="862.7" cy="734.5" r="5.5"/><circle cx="672.2" cy="726.9" r="5.5"/><circle cx="682.2" cy="754.1" r="5.5"/><circle cx="813.4" cy="730.3" r="5.5"/><circle cx="524.3" cy="718.1" r="5.5"/><circle cx="623.6" cy="705.3" r="5.5"/><circle cx="709.0" cy="728.6" r="5.5"/><circle cx="831.7" cy="721.1" r="5.5"/><circle cx="497.4" cy="719.2" r="5.5"/><circle cx="768.9" cy="738.9" r="5.5"/><circle cx="511.2" cy="714.4" r="5.5"/><circle cx="519.2" cy="722.1" r="5.5"/><circle cx="614.9" cy="718.5" r="5.5"/><circle cx="666.1" cy="746.4" r="5.5"/><circle cx="634.6" cy="677.0" r="5.5"/><circle cx="624.5" cy="723.8" r="5.5"/><circle cx="541.9" cy="720.3" r="5.5"/><circle cx="948.3" cy="729.5" r="5.5"/><circle cx="787.1" cy="714.9" r="5.5"/><circle cx="741.3" cy="686.1" r="5.5"/><circle cx="844.9" cy="721.7" r="5.5"/><circle cx="641.2" cy="644.0" r="5.5"/><circle cx="654.3" cy="717.3" r="5.5"/><circle cx="492.9" cy="720.5" r="5.5"/><circle cx="911.9" cy="721.8" r="5.5"/><circle cx="643.5" cy="702.6" r="5.5"/><circle cx="818.9" cy="715.0" r="5.5"/><circle cx="750.0" cy="654.3" r="5.5"/><circle cx="742.2" cy="746.2" r="5.5"/><circle cx="631.1" cy="738.6" r="5.5"/><circle cx="638.2" cy="682.3" r="5.5"/><circle cx="674.2" cy="752.1" r="5.5"/><circle cx="758.9" cy="684.7" r="5.5"/><circle cx="647.5" cy="674.6" r="5.5"/><circle cx="735.9" cy="717.3" r="5.5"/><circle cx="953.6" cy="729.8" r="5.5"/><circle cx="537.4" cy="725.3" r="5.5"/><circle cx="704.9" cy="745.8" r="5.5"/><circle cx="887.0" cy="732.7" r="5.5"/><circle cx="559.9" cy="720.5" r="5.5"/><circle cx="854.6" cy="731.8" r="5.5"/><circle cx="635.5" cy="733.0" r="5.5"/><circle cx="789.2" cy="725.8" r="5.5"/><circle cx="885.5" cy="727.0" r="5.5"/><circle cx="642.4" cy="735.8" r="5.5"/><circle cx="731.9" cy="673.9" r="5.5"/><circle cx="585.9" cy="745.7" r="5.5"/><circle cx="640.0" cy="739.8" r="5.5"/><circle cx="727.1" cy="738.5" r="5.5"/><circle cx="945.7" cy="713.9" r="5.5"/><circle cx="647.8" cy="715.7" r="5.5"/><circle cx="909.3" cy="729.4" r="5.5"/><circle cx="782.9" cy="742.1" r="5.5"/><circle cx="728.5" cy="720.2" r="5.5"/><circle cx="634.1" cy="684.7" r="5.5"/><circle cx="704.9" cy="738.0" r="5.5"/><circle cx="742.1" cy="724.3" r="5.5"/><circle cx="620.8" cy="714.3" r="5.5"/><circle cx="739.5" cy="719.8" r="5.5"/><circle cx="563.0" cy="734.7" r="5.5"/><circle cx="733.4" cy="683.5" r="5.5"/><circle cx="585.7" cy="719.2" r="5.5"/><circle cx="927.2" cy="714.4" r="5.5"/><circle cx="747.4" cy="716.3" r="5.5"/><circle cx="755.9" cy="660.3" r="5.5"/></g>
<g class="b"><circle cx="464.4" cy="645.9" r="5.5"/><circle cx="609.7" cy="687.7" r="5.5"/><circle cx="566.2" cy="657.8" r="5.5"/><circle cx="594.8" cy="664.3" r="5.5"/><circle cx="202.5" cy="393.0" r="5.5"/><circle cx="471.7" cy="703.3" r="5.5"/><circle cx="485.0" cy="641.6" r="5.5"/><circle cx="473.0" cy="656.4" r="5.5"/><circle cx="483.8" cy="492.0" r="5.5"/><circle cx="599.9" cy="699.3" r="5.5"/><circle cx="487.5" cy="626.9" r="5.5"/><circle cx="458.9" cy="613.5" r="5.5"/><circle cx="464.7" cy="666.7" r="5.5"/><circle cx="535.6" cy="659.2" r="5.5"/><circle cx="573.6" cy="642.0" r="5.5"/><circle cx="486.0" cy="685.5" r="5.5"/><circle cx="483.7" cy="644.3" r="5.5"/><circle cx="452.2" cy="635.0" r="5.5"/><circle cx="358.2" cy="560.0" r="5.5"/><circle cx="435.0" cy="562.5" r="5.5"/><circle cx="571.3" cy="654.4" r="5.5"/><circle cx="447.8" cy="349.8" r="5.5"/><circle cx="293.5" cy="503.2" r="5.5"/><circle cx="541.8" cy="650.7" r="5.5"/><circle cx="454.5" cy="518.0" r="5.5"/><circle cx="564.4" cy="688.6" r="5.5"/><circle cx="545.5" cy="664.4" r="5.5"/><circle cx="575.6" cy="615.3" r="5.5"/><circle cx="504.8" cy="598.8" r="5.5"/><circle cx="607.3" cy="684.7" r="5.5"/><circle cx="535.2" cy="594.8" r="5.5"/><circle cx="467.4" cy="602.3" r="5.5"/><circle cx="554.5" cy="640.1" r="5.5"/><circle cx="468.4" cy="644.8" r="5.5"/><circle cx="583.4" cy="563.3" r="5.5"/><circle cx="498.4" cy="563.7" r="5.5"/><circle cx="520.3" cy="702.0" r="5.5"/><circle cx="497.6" cy="643.3" r="5.5"/><circle cx="556.2" cy="626.7" r="5.5"/><circle cx="587.5" cy="594.3" r="5.5"/><circle cx="616.3" cy="636.8" r="5.5"/><circle cx="483.0" cy="681.0" r="5.5"/></g>
<g class="r"><circle cx="778.4" cy="611.6" r="5.5"/><circle cx="891.7" cy="686.4" r="5.5"/><circle cx="907.4" cy="691.3" r="5.5"/><circle cx="847.1" cy="664.7" r="5.5"/><circle cx="908.2" cy="696.2" r="5.5"/><circle cx="1029.0" cy="481.0" r="5.5"/><circle cx="949.5" cy="684.3" r="5.5"/><circle cx="877.2" cy="678.5" r="5.5"/><circle cx="833.2" cy="679.8" r="5.5"/><circle cx="857.8" cy="640.5" r="5.5"/><circle cx="886.3" cy="650.4" r="5.5"/><circle cx="964.2" cy="663.8" r="5.5"/><circle cx="832.6" cy="663.6" r="5.5"/><circle cx="797.8" cy="624.7" r="5.5"/><circle cx="772.7" cy="671.7" r="5.5"/><circle cx="1004.8" cy="693.8" r="5.5"/><circle cx="831.5" cy="692.2" r="5.5"/><circle cx="965.2" cy="704.0" r="5.5"/><circle cx="849.4" cy="630.8" r="5.5"/><circle cx="881.6" cy="670.1" r="5.5"/><circle cx="835.4" cy="705.2" r="5.5"/><circle cx="885.7" cy="689.5" r="5.5"/><circle cx="814.0" cy="688.2" r="5.5"/><circle cx="833.0" cy="398.0" r="5.5"/><circle cx="777.4" cy="662.7" r="5.5"/><circle cx="792.7" cy="700.8" r="5.5"/><circle cx="779.4" cy="658.7" r="5.5"/><circle cx="812.2" cy="699.1" r="5.5"/><circle cx="846.8" cy="651.3" r="5.5"/><circle cx="828.5" cy="661.2" r="5.5"/><circle cx="869.3" cy="643.1" r="5.5"/><circle cx="850.1" cy="693.7" r="5.5"/></g>
<g class="g"><circle cx="746.8" cy="654.9" r="5.5"/><circle cx="925.2" cy="732.3" r="5.5"/><circle cx="714.7" cy="739.4" r="5.5"/><circle cx="527.6" cy="712.6" r="5.5"/><circle cx="577.6" cy="720.5" r="5.5"/><circle cx="566.3" cy="734.3" r="5.5"/><circle cx="638.1" cy="703.6" r="5.5"/><circle cx="645.8" cy="733.2" r="5.5"/><circle cx="856.2" cy="720.6" r="5.5"/><circle cx="716.5" cy="744.8" r="5.5"/><circle cx="621.5" cy="680.7" r="5.5"/><circle cx="862.5" cy="731.9" r="5.5"/><circle cx="507.7" cy="728.3" r="5.5"/><circle cx="642.3" cy="737.3" r="5.5"/><circle cx="724.0" cy="703.7" r="5.5"/><circle cx="489.5" cy="715.1" r="5.5"/><circle cx="630.5" cy="650.7" r="5.5"/><circle cx="498.9" cy="722.5" r="5.5"/><circle cx="814.6" cy="738.8" r="5.5"/><circle cx="737.2" cy="681.6" r="5.5"/><circle cx="561.2" cy="717.7" r="5.5"/><circle cx="740.4" cy="702.2" r="5.5"/><circle cx="739.6" cy="688.4" r="5.5"/><circle cx="637.7" cy="681.3" r="5.5"/><circle cx="733.0" cy="696.5" r="5.5"/><circle cx="632.4" cy="684.3" r="5.5"/><circle cx="901.3" cy="724.3" r="5.5"/><circle cx="556.8" cy="739.0" r="5.5"/><circle cx="567.4" cy="735.2" r="5.5"/><circle cx="748.7" cy="693.7" r="5.5"/><circle cx="594.7" cy="728.7" r="5.5"/><circle cx="829.8" cy="731.1" r="5.5"/><circle cx="649.0" cy="707.5" r="5.5"/><circle cx="575.2" cy="717.1" r="5.5"/><circle cx="755.7" cy="673.3" r="5.5"/><circle cx="819.5" cy="725.9" r="5.5"/><circle cx="841.4" cy="731.2" r="5.5"/><circle cx="654.0" cy="746.4" r="5.5"/><circle cx="664.7" cy="750.6" r="5.5"/><circle cx="755.9" cy="709.5" r="5.5"/><circle cx="766.1" cy="748.2" r="5.5"/><circle cx="713.7" cy="729.3" r="5.5"/><circle cx="993.4" cy="716.6" r="5.5"/><circle cx="634.8" cy="699.2" r="5.5"/><circle cx="724.7" cy="712.4" r="5.5"/><circle cx="740.0" cy="746.1" r="5.5"/><circle cx="520.1" cy="720.8" r="5.5"/><circle cx="663.1" cy="730.9" r="5.5"/><circle cx="752.7" cy="714.4" r="5.5"/><circle cx="629.9" cy="677.0" r="5.5"/><circle cx="756.3" cy="717.2" r="5.5"/><circle cx="905.0" cy="732.0" r="5.5"/><circle cx="538.8" cy="729.3" r="5.5"/><circle cx="621.0" cy="666.4" r="5.5"/><circle cx="523.6" cy="724.5" r="5.5"/><circle cx="622.1" cy="723.9" r="5.5"/><circle cx="557.0" cy="714.5" r="5.5"/><circle cx="882.3" cy="723.2" r="5.5"/><circle cx="607.3" cy="744.9" r="5.5"/><circle cx="728.7" cy="736.5" r="5.5"/><circle cx="635.2" cy="671.7" r="5.5"/><circle cx="676.0" cy="741.4" r="5.5"/><circle cx="584.3" cy="731.4" r="5.5"/><circle cx="714.4" cy="750.7" r="5.5"/><circle cx="726.6" cy="719.9" r="5.5"/><circle cx="642.2" cy="657.5" r="5.5"/><circle cx="738.8" cy="748.0" r="5.5"/><circle cx="756.6" cy="703.1" r="5.5"/><circle cx="737.8" cy="701.1" r="5.5"/><circle cx="832.1" cy="724.2" r="5.5"/><circle cx="661.8" cy="746.5" r="5.5"/><circle cx="838.0" cy="739.5" r="5.5"/><circle cx="652.4" cy="736.9" r="5.5"/><circle cx="717.9" cy="746.9" r="5.5"/><circle cx="510.6" cy="715.2" r="5.5"/><circle cx="837.2" cy="713.6" r="5.5"/><circle cx="601.5" cy="714.6" r="5.5"/><circle cx="656.0" cy="720.8" r="5.5"/><circle cx="544.5" cy="719.9" r="5.5"/><circle cx="751.4" cy="676.0" r="5.5"/><circle cx="591.5" cy="730.1" r="5.5"/><circle cx="884.2" cy="716.3" r="5.5"/><circle cx="636.4" cy="681.7" r="5.5"/><circle cx="504.8" cy="728.4" r="5.5"/><circle cx="790.7" cy="736.7" r="5.5"/><circle cx="819.2" cy="732.9" r="5.5"/><circle cx="800.6" cy="727.1" r="5.5"/><circle cx="750.6" cy="669.9" r="5.5"/><circle cx="886.3" cy="739.2" r="5.5"/><circle cx="868.9" cy="720.6" r="5.5"/><circle cx="623.8" cy="667.8" r="5.5"/><circle cx="637.2" cy="725.1" r="5.5"/><circle cx="760.1" cy="673.7" r="5.5"/><circle cx="532.9" cy="725.8" r="5.5"/><circle cx="619.3" cy="613.3" r="5.5"/><circle cx="672.4" cy="754.1" r="5.5"/><circle cx="753.6" cy="739.6" r="5.5"/><circle cx="500.2" cy="722.2" r="5.5"/><circle cx="547.6" cy="723.4" r="5.5"/><circle cx="605.4" cy="736.5" r="5.5"/><circle cx="735.0" cy="732.9" r="5.5"/><circle cx="919.5" cy="726.3" r="5.5"/><circle cx="519.1" cy="718.6" r="5.5"/><circle cx="558.1" cy="725.1" r="5.5"/><circle cx="866.2" cy="738.7" r="5.5"/><circle cx="892.7" cy="720.4" r="5.5"/><circle cx="752.4" cy="718.1" r="5.5"/><circle cx="899.4" cy="739.1" r="5.5"/><circle cx="835.9" cy="721.7" r="5.5"/><circle cx="742.8" cy="748.5" r="5.5"/><circle cx="625.4" cy="709.0" r="5.5"/><circle cx="664.8" cy="733.3" r="5.5"/><circle cx="650.5" cy="742.1" r="5.5"/><circle cx="547.6" cy="713.7" r="5.5"/><circle cx="494.4" cy="723.0" r="5.5"/><circle cx="540.4" cy="727.3" r="5.5"/><circle cx="735.2" cy="681.3" r="5.5"/><circle cx="508.9" cy="721.8" r="5.5"/><circle cx="754.1" cy="725.1" r="5.5"/><circle cx="655.9" cy="749.3" r="5.5"/><circle cx="698.6" cy="753.4" r="5.5"/><circle cx="804.1" cy="744.6" r="5.5"/><circle cx="561.8" cy="717.1" r="5.5"/><circle cx="800.5" cy="718.4" r="5.5"/><circle cx="747.8" cy="716.1" r="5.5"/><circle cx="754.6" cy="749.3" r="5.5"/><circle cx="642.4" cy="685.5" r="5.5"/><circle cx="533.7" cy="736.3" r="5.5"/><circle cx="630.2" cy="718.2" r="5.5"/><circle cx="926.7" cy="716.7" r="5.5"/><circle cx="655.1" cy="728.9" r="5.5"/><circle cx="674.1" cy="735.6" r="5.5"/><circle cx="745.4" cy="737.1" r="5.5"/><circle cx="751.1" cy="731.0" r="5.5"/><circle cx="908.0" cy="720.5" r="5.5"/><circle cx="616.9" cy="717.1" r="5.5"/><circle cx="635.0" cy="704.6" r="5.5"/><circle cx="901.1" cy="731.6" r="5.5"/><circle cx="508.7" cy="715.3" r="5.5"/><circle cx="636.1" cy="650.0" r="5.5"/><circle cx="754.5" cy="683.8" r="5.5"/><circle cx="760.7" cy="721.7" r="5.5"/><circle cx="627.2" cy="742.5" r="5.5"/><circle cx="633.1" cy="724.8" r="5.5"/><circle cx="730.6" cy="700.3" r="5.5"/><circle cx="726.1" cy="701.9" r="5.5"/><circle cx="642.0" cy="688.4" r="5.5"/><circle cx="831.4" cy="733.4" r="5.5"/><circle cx="572.4" cy="724.3" r="5.5"/><circle cx="739.0" cy="698.9" r="5.5"/><circle cx="609.8" cy="733.6" r="5.5"/><circle cx="608.9" cy="733.8" r="5.5"/><circle cx="480.5" cy="715.1" r="5.5"/><circle cx="643.5" cy="742.7" r="5.5"/><circle cx="626.2" cy="749.7" r="5.5"/><circle cx="613.7" cy="724.2" r="5.5"/><circle cx="633.3" cy="639.7" r="5.5"/><circle cx="647.8" cy="739.6" r="5.5"/><circle cx="506.2" cy="719.0" r="5.5"/><circle cx="886.0" cy="715.6" r="5.5"/><circle cx="652.8" cy="715.4" r="5.5"/><circle cx="626.5" cy="727.6" r="5.5"/><circle cx="792.7" cy="742.3" r="5.5"/><circle cx="778.8" cy="716.8" r="5.5"/><circle cx="925.0" cy="738.3" r="5.5"/><circle cx="593.2" cy="724.8" r="5.5"/><circle cx="797.3" cy="740.2" r="5.5"/><circle cx="635.9" cy="732.9" r="5.5"/><circle cx="920.1" cy="730.4" r="5.5"/><circle cx="595.4" cy="724.7" r="5.5"/><circle cx="637.0" cy="718.2" r="5.5"/></g>
<g class="b"><circle cx="484.5" cy="573.2" r="5.5"/><circle cx="514.4" cy="672.0" r="5.5"/><circle cx="569.5" cy="683.6" r="5.5"/><circle cx="588.3" cy="630.8" r="5.5"/><circle cx="600.4" cy="676.6" r="5.5"/><circle cx="564.5" cy="650.7" r="5.5"/><circle cx="444.7" cy="670.3" r="5.5"/><circle cx="476.6" cy="677.2" r="5.5"/><circle cx="567.0" cy="631.8" r="5.5"/><circle cx="501.6" cy="673.6" r="5.5"/><circle cx="601.7" cy="705.0" r="5.5"/><circle cx="521.5" cy="610.8" r="5.5"/><circle cx="525.1" cy="662.6" r="5.5"/><circle cx="607.9" cy="609.2" r="5.5"/><circle cx="567.5" cy="652.3" r="5.5"/><circle cx="563.7" cy="674.5" r="5.5"/><circle cx="570.3" cy="618.4" r="5.5"/><circle cx="487.9" cy="641.6" r="5.5"/><circle cx="454.8" cy="651.0" r="5.5"/><circle cx="413.2" cy="670.5" r="5.5"/><circle cx="588.4" cy="704.2" r="5.5"/><circle cx="590.9" cy="656.1" r="5.5"/><circle cx="601.4" cy="665.7" r="5.5"/><circle cx="497.0" cy="699.3" r="5.5"/><circle cx="444.2" cy="670.7" r="5.5"/><circle cx="609.9" cy="687.6" r="5.5"/><circle cx="578.2" cy="629.8" r="5.5"/><circle cx="606.1" cy="660.8" r="5.5"/><circle cx="493.8" cy="643.0" r="5.5"/><circle cx="445.8" cy="576.2" r="5.5"/><circle cx="604.0" cy="667.2" r="5.5"/><circle cx="477.9" cy="661.7" r="5.5"/><circle cx="546.5" cy="675.6" r="5.5"/><circle cx="543.1" cy="665.7" r="5.5"/></g>
<g class="r"><circle cx="828.8" cy="537.0" r="5.5"/><circle cx="854.2" cy="470.5" r="5.5"/><circle cx="782.7" cy="614.3" r="5.5"/><circle cx="843.4" cy="666.7" r="5.5"/><circle cx="1043.0" cy="654.5" r="5.5"/><circle cx="924.2" cy="495.5" r="5.5"/><circle cx="780.5" cy="627.5" r="5.5"/><circle cx="779.4" cy="658.9" r="5.5"/><circle cx="812.8" cy="630.4" r="5.5"/><circle cx="848.4" cy="650.4" r="5.5"/><circle cx="774.2" cy="689.4" r="5.5"/><circle cx="884.5" cy="679.7" r="5.5"/><circle cx="800.6" cy="661.2" r="5.5"/><circle cx="885.7" cy="683.5" r="5.5"/><circle cx="839.7" cy="665.7" r="5.5"/><circle cx="818.7" cy="632.3" r="5.5"/><circle cx="855.5" cy="573.0" r="5.5"/><circle cx="1000.0" cy="661.0" r="5.5"/><circle cx="784.7" cy="624.5" r="5.5"/><circle cx="874.3" cy="705.4" r="5.5"/><circle cx="840.3" cy="657.0" r="5.5"/><circle cx="800.1" cy="644.5" r="5.5"/><circle cx="882.9" cy="650.3" r="5.5"/><circle cx="906.8" cy="691.7" r="5.5"/><circle cx="853.9" cy="690.7" r="5.5"/><circle cx="1082.2" cy="683.0" r="5.5"/><circle cx="769.9" cy="660.0" r="5.5"/><circle cx="791.0" cy="678.7" r="5.5"/><circle cx="775.0" cy="564.5" r="5.5"/><circle cx="812.0" cy="699.3" r="5.5"/></g>
<g class="g"><circle cx="756.3" cy="673.2" r="5.5"/><circle cx="646.6" cy="711.8" r="5.5"/><circle cx="651.8" cy="710.0" r="5.5"/><circle cx="734.5" cy="739.3" r="5.5"/><circle cx="596.8" cy="726.3" r="5.5"/><circle cx="721.6" cy="753.0" r="5.5"/><circle cx="484.7" cy="721.5" r="5.5"/><circle cx="515.0" cy="715.4" r="5.5"/><circle cx="715.0" cy="715.7" r="5.5"/><circle cx="734.0" cy="734.0" r="5.5"/><circle cx="632.7" cy="686.0" r="5.5"/><circle cx="530.7" cy="726.3" r="5.5"/><circle cx="905.4" cy="733.8" r="5.5"/><circle cx="709.5" cy="743.0" r="5.5"/><circle cx="621.4" cy="705.1" r="5.5"/><circle cx="603.8" cy="727.5" r="5.5"/><circle cx="653.6" cy="750.5" r="5.5"/><circle cx="862.7" cy="731.7" r="5.5"/><circle cx="745.5" cy="734.3" r="5.5"/><circle cx="647.8" cy="741.2" r="5.5"/><circle cx="705.8" cy="748.4" r="5.5"/><circle cx="631.3" cy="710.0" r="5.5"/><circle cx="860.5" cy="737.8" r="5.5"/><circle cx="875.0" cy="730.7" r="5.5"/><circle cx="660.5" cy="721.3" r="5.5"/><circle cx="842.0" cy="727.1" r="5.5"/><circle cx="632.3" cy="634.6" r="5.5"/><circle cx="757.5" cy="644.7" r="5.5"/><circle cx="839.8" cy="737.2" r="5.5"/><circle cx="596.2" cy="718.4" r="5.5"/><circle cx="876.5" cy="720.4" r="5.5"/><circle cx="754.3" cy="707.2" r="5.5"/><circle cx="624.0" cy="686.0" r="5.5"/><circle cx="850.2" cy="738.9" r="5.5"/><circle cx="625.8" cy="732.0" r="5.5"/><circle cx="862.9" cy="737.4" r="5.5"/><circle cx="757.5" cy="710.1" r="5.5"/><circle cx="757.5" cy="657.6" r="5.5"/><circle cx="757.4" cy="624.0" r="5.5"/><circle cx="666.3" cy="715.0" r="5.5"/><circle cx="576.0" cy="727.2" r="5.5"/><circle cx="729.1" cy="680.5" r="5.5"/><circle cx="844.9" cy="718.4" r="5.5"/><circle cx="550.5" cy="735.9" r="5.5"/><circle cx="714.7" cy="724.5" r="5.5"/><circle cx="713.4" cy="737.8" r="5.5"/><circle cx="814.8" cy="737.1" r="5.5"/><circle cx="820.6" cy="725.3" r="5.5"/><circle cx="940.2" cy="734.8" r="5.5"/><circle cx="760.9" cy="703.6" r="5.5"/><circle cx="751.8" cy="702.5" r="5.5"/><circle cx="764.4" cy="733.4" r="5.5"/><circle cx="803.1" cy="715.7" r="5.5"/><circle cx="623.2" cy="676.9" r="5.5"/><circle cx="494.1" cy="714.4" r="5.5"/><circle cx="836.6" cy="743.1" r="5.5"/><circle cx="643.2" cy="598.8" r="5.5"/><circle cx="588.1" cy="721.6" r="5.5"/><circle cx="518.2" cy="723.3" r="5.5"/><circle cx="704.5" cy="738.0" r="5.5"/><circle cx="668.5" cy="720.7" r="5.5"/><circle cx="806.1" cy="721.9" r="5.5"/><circle cx="749.3" cy="639.8" r="5.5"/><circle cx="654.6" cy="706.4" r="5.5"/><circle cx="636.8" cy="652.1" r="5.5"/><circle cx="630.4" cy="731.6" r="5.5"/><circle cx="757.4" cy="726.3" r="5.5"/><circle cx="709.0" cy="740.9" r="5.5"/><circle cx="750.0" cy="676.6" r="5.5"/><circle cx="541.0" cy="723.6" r="5.5"/><circle cx="761.2" cy="675.1" r="5.5"/><circle cx="633.2" cy="752.2" r="5.5"/><circle cx="702.3" cy="752.8" r="5.5"/><circle cx="637.7" cy="684.4" r="5.5"/><circle cx="628.1" cy="732.3" r="5.5"/><circle cx="644.9" cy="686.1" r="5.5"/><circle cx="831.1" cy="713.3" r="5.5"/><circle cx="860.8" cy="737.4" r="5.5"/><circle cx="770.4" cy="729.2" r="5.5"/><circle cx="644.9" cy="740.4" r="5.5"/><circle cx="817.6" cy="733.5" r="5.5"/><circle cx="752.8" cy="706.6" r="5.5"/><circle cx="577.6" cy="744.7" r="5.5"/><circle cx="730.7" cy="698.2" r="5.5"/><circle cx="667.0" cy="741.8" r="5.5"/><circle cx="623.4" cy="679.8" r="5.5"/><circle cx="816.7" cy="741.6" r="5.5"/><circle cx="633.7" cy="717.8" r="5.5"/><circle cx="625.2" cy="682.6" r="5.5"/><circle cx="644.9" cy="724.9" r="5.5"/><circle cx="605.4" cy="735.2" r="5.5"/><circle cx="638.1" cy="676.2" r="5.5"/><circle cx="608.2" cy="740.6" r="5.5"/><circle cx="638.6" cy="713.3" r="5.5"/><circle cx="929.4" cy="735.2" r="5.5"/><circle cx="749.9" cy="733.9" r="5.5"/><circle cx="804.8" cy="734.9" r="5.5"/><circle cx="756.9" cy="736.9" r="5.5"/><circle cx="734.3" cy="692.8" r="5.5"/><circle cx="737.6" cy="738.5" r="5.5"/><circle cx="651.5" cy="669.4" r="5.5"/><circle cx="639.8" cy="679.6" r="5.5"/><circle cx="617.9" cy="739.5" r="5.5"/><circle cx="645.7" cy="716.4" r="5.5"/><circle cx="732.7" cy="751.1" r="5.5"/><circle cx="659.6" cy="731.9" r="5.5"/><circle cx="517.2" cy="723.2" r="5.5"/><circle cx="641.9" cy="752.4" r="5.5"/><circle cx="725.4" cy="717.8" r="5.5"/><circle cx="632.6" cy="718.7" r="5.5"/><circle cx="600.2" cy="742.5" r="5.5"/><circle cx="849.0" cy="728.8" r="5.5"/><circle cx="727.0" cy="736.3" r="5.5"/><circle cx="827.0" cy="714.1" r="5.5"/><circle cx="654.5" cy="718.9" r="5.5"/><circle cx="486.3" cy="714.9" r="5.5"/><circle cx="721.3" cy="733.4" r="5.5"/><circle cx="509.0" cy="716.8" r="5.5"/><circle cx="578.1" cy="720.6" r="5.5"/><circle cx="743.3" cy="680.1" r="5.5"/><circle cx="730.7" cy="732.7" r="5.5"/><circle cx="723.2" cy="725.7" r="5.5"/><circle cx="713.4" cy="745.3" r="5.5"/><circle cx="790.9" cy="746.0" r="5.5"/><circle cx="769.0" cy="733.6" r="5.5"/><circle cx="720.3" cy="713.7" r="5.5"/><circle cx="861.7" cy="718.6" r="5.5"/><circle cx="751.5" cy="711.3" r="5.5"/><circle cx="659.9" cy="705.3" r="5.5"/><circle cx="847.1" cy="713.2" r="5.5"/><circle cx="737.0" cy="713.5" r="5.5"/><circle cx="551.7" cy="730.5" r="5.5"/><circle cx="930.6" cy="718.1" r="5.5"/><circle cx="732.6" cy="744.0" r="5.5"/><circle cx="570.8" cy="742.7" r="5.5"/><circle cx="652.2" cy="752.8" r="5.5"/><circle cx="739.4" cy="730.6" r="5.5"/><circle cx="958.5" cy="719.8" r="5.5"/><circle cx="659.8" cy="724.9" r="5.5"/><circle cx="735.5" cy="686.1" r="5.5"/><circle cx="606.4" cy="729.0" r="5.5"/><circle cx="723.5" cy="742.1" r="5.5"/><circle cx="750.2" cy="698.3" r="5.5"/><circle cx="751.6" cy="747.3" r="5.5"/><circle cx="647.5" cy="714.6" r="5.5"/><circle cx="492.7" cy="719.8" r="5.5"/><circle cx="759.5" cy="703.1" r="5.5"/><circle cx="902.3" cy="734.6" r="5.5"/><circle cx="836.0" cy="719.9" r="5.5"/><circle cx="508.6" cy="724.9" r="5.5"/><circle cx="629.8" cy="696.7" r="5.5"/><circle cx="773.8" cy="741.6" r="5.5"/><circle cx="745.4" cy="662.6" r="5.5"/><circle cx="881.6" cy="736.0" r="5.5"/><circle cx="635.4" cy="703.4" r="5.5"/><circle cx="657.8" cy="739.8" r="5.5"/><circle cx="881.2" cy="724.1" r="5.5"/></g>
<g class="b"><circle cx="445.6" cy="629.3" r="5.5"/><circle cx="530.3" cy="644.7" r="5.5"/><circle cx="455.9" cy="672.2" r="5.5"/><circle cx="477.9" cy="675.3" r="5.5"/><circle cx="487.3" cy="597.5" r="5.5"/><circle cx="496.5" cy="636.0" r="5.5"/><circle cx="598.3" cy="666.4" r="5.5"/><circle cx="564.2" cy="672.8" r="5.5"/><circle cx="479.9" cy="673.4" r="5.5"/><circle cx="288.5" cy="418.0" r="5.5"/><circle cx="614.6" cy="671.5" r="5.5"/><circle cx="573.0" cy="615.1" r="5.5"/><circle cx="547.4" cy="677.1" r="5.5"/><circle cx="460.2" cy="672.2" r="5.5"/><circle cx="459.2" cy="685.1" r="5.5"/><circle cx="396.8" cy="675.0" r="5.5"/><circle cx="522.2" cy="674.3" r="5.5"/><circle cx="445.9" cy="651.2" r="5.5"/><circle cx="591.0" cy="705.8" r="5.5"/><circle cx="448.5" cy="688.6" r="5.5"/><circle cx="475.3" cy="576.4" r="5.5"/><circle cx="613.1" cy="620.3" r="5.5"/><circle cx="563.4" cy="701.1" r="5.5"/><circle cx="573.7" cy="612.7" r="5.5"/><circle cx="503.0" cy="652.5" r="5.5"/><circle cx="567.2" cy="663.1" r="5.5"/><circle cx="558.8" cy="656.8" r="5.5"/><circle cx="414.0" cy="503.0" r="5.5"/><circle cx="609.4" cy="668.1" r="5.5"/><circle cx="519.2" cy="704.6" r="5.5"/><circle cx="599.4" cy="668.8" r="5.5"/><circle cx="549.7" cy="698.6" r="5.5"/><circle cx="537.6" cy="657.1" r="5.5"/><circle cx="484.1" cy="696.2" r="5.5"/><circle cx="444.7" cy="635.9" r="5.5"/><circle cx="465.7" cy="704.3" r="5.5"/><circle cx="544.1" cy="705.3" r="5.5"/><circle cx="603.8" cy="641.7" r="5.5"/><circle cx="569.3" cy="698.6" r="5.5"/><circle cx="363.5" cy="474.0" r="5.5"/><circle cx="435.8" cy="691.2" r="5.5"/><circle cx="554.9" cy="647.2" r="5.5"/><circle cx="611.1" cy="696.3" r="5.5"/><circle cx="532.2" cy="638.9" r="5.5"/><circle cx="555.0" cy="678.2" r="5.5"/><circle cx="556.2" cy="651.9" r="5.5"/></g>
<g class="r"><circle cx="794.5" cy="639.7" r="5.5"/><circle cx="943.0" cy="662.5" r="5.5"/><circle cx="781.4" cy="692.1" r="5.5"/><circle cx="858.0" cy="691.5" r="5.5"/><circle cx="892.8" cy="700.0" r="5.5"/><circle cx="869.2" cy="536.2" r="5.5"/><circle cx="809.9" cy="651.8" r="5.5"/><circle cx="766.6" cy="667.4" r="5.5"/><circle cx="830.4" cy="671.8" r="5.5"/><circle cx="777.6" cy="647.1" r="5.5"/><circle cx="913.0" cy="614.5" r="5.5"/><circle cx="797.2" cy="679.5" r="5.5"/><circle cx="807.4" cy="657.4" r="5.5"/><circle cx="873.2" cy="681.6" r="5.5"/><circle cx="767.6" cy="631.4" r="5.5"/><circle cx="832.0" cy="682.4" r="5.5"/><circle cx="887.5" cy="599.2" r="5.5"/><circle cx="861.6" cy="683.4" r="5.5"/><circle cx="791.2" cy="683.7" r="5.5"/><circle cx="928.6" cy="660.8" r="5.5"/><circle cx="1070.8" cy="614.5" r="5.5"/><circle cx="971.8" cy="577.5" r="5.5"/><circle cx="774.5" cy="676.6" r="5.5"/><circle cx="891.1" cy="676.6" r="5.5"/><circle cx="898.8" cy="689.3" r="5.5"/><circle cx="916.5" cy="390.0" r="5.5"/><circle cx="787.2" cy="571.5" r="5.5"/><circle cx="838.9" cy="684.2" r="5.5"/><circle cx="1018.0" cy="671.5" r="5.5"/><circle cx="817.2" cy="632.8" r="5.5"/><circle cx="883.0" cy="593.8" r="5.5"/><circle cx="929.2" cy="622.5" r="5.5"/></g>
<g class="g"><circle cx="738.6" cy="751.1" r="5.5"/><circle cx="494.8" cy="719.6" r="5.5"/><circle cx="647.2" cy="700.4" r="5.5"/><circle cx="651.3" cy="719.4" r="5.5"/><circle cx="756.4" cy="725.5" r="5.5"/><circle cx="725.1" cy="740.9" r="5.5"/><circle cx="869.1" cy="717.4" r="5.5"/><circle cx="505.0" cy="725.2" r="5.5"/><circle cx="697.3" cy="747.6" r="5.5"/><circle cx="938.4" cy="716.6" r="5.5"/><circle cx="556.0" cy="721.2" r="5.5"/><circle cx="508.8" cy="722.4" r="5.5"/><circle cx="637.3" cy="728.0" r="5.5"/><circle cx="592.8" cy="737.0" r="5.5"/><circle cx="576.8" cy="741.3" r="5.5"/><circle cx="751.4" cy="680.4" r="5.5"/><circle cx="916.9" cy="715.3" r="5.5"/><circle cx="625.6" cy="709.0" r="5.5"/><circle cx="734.0" cy="740.8" r="5.5"/><circle cx="650.3" cy="718.3" r="5.5"/><circle cx="843.2" cy="723.8" r="5.5"/><circle cx="745.5" cy="700.0" r="5.5"/><circle cx="752.9" cy="698.2" r="5.5"/><circle cx="554.4" cy="721.2" r="5.5"/><circle cx="656.0" cy="705.9" r="5.5"/><circle cx="545.7" cy="734.5" r="5.5"/><circle cx="911.1" cy="730.9" r="5.5"/><circle cx="605.7" cy="718.3" r="5.5"/><circle cx="669.2" cy="736.9" r="5.5"/><circle cx="829.6" cy="715.7" r="5.5"/><circle cx="873.3" cy="721.3" r="5.5"/><circle cx="570.8" cy="726.5" r="5.5"/><circle cx="645.0" cy="720.7" r="5.5"/><circle cx="551.3" cy="735.6" r="5.5"/><circle cx="535.6" cy="721.8" r="5.5"/><circle cx="932.8" cy="717.4" r="5.5"/><circle cx="659.3" cy="750.5" r="5.5"/><circle cx="590.2" cy="745.9" r="5.5"/><circle cx="726.6" cy="744.2" r="5.5"/><circle cx="730.2" cy="733.2" r="5.5"/><circle cx="732.0" cy="699.4" r="5.5"/><circle cx="636.9" cy="703.1" r="5.5"/><circle cx="643.2" cy="708.6" r="5.5"/><circle cx="543.6" cy="712.9" r="5.5"/><circle cx="555.5" cy="723.0" r="5.5"/><circle cx="617.3" cy="712.9" r="5.5"/><circle cx="752.8" cy="659.1" r="5.5"/><circle cx="737.4" cy="666.6" r="5.5"/><circle cx="505.3" cy="722.1" r="5.5"/><circle cx="757.4" cy="713.8" r="5.5"/><circle cx="679.6" cy="746.6" r="5.5"/><circle cx="562.5" cy="731.4" r="5.5"/><circle cx="741.6" cy="735.7" r="5.5"/><circle cx="621.8" cy="587.0" r="5.5"/><circle cx="730.5" cy="694.6" r="5.5"/><circle cx="497.3" cy="724.1" r="5.5"/><circle cx="904.7" cy="721.2" r="5.5"/><circle cx="752.2" cy="735.3" r="5.5"/><circle cx="935.3" cy="719.5" r="5.5"/><circle cx="715.6" cy="714.2" r="5.5"/><circle cx="638.4" cy="733.4" r="5.5"/><circle cx="644.9" cy="652.0" r="5.5"/><circle cx="503.6" cy="726.6" r="5.5"/><circle cx="649.3" cy="737.2" r="5.5"/><circle cx="537.7" cy="735.0" r="5.5"/><circle cx="500.0" cy="719.6" r="5.5"/><circle cx="729.2" cy="701.2" r="5.5"/><circle cx="675.4" cy="742.5" r="5.5"/><circle cx="907.2" cy="717.5" r="5.5"/><circle cx="520.0" cy="713.2" r="5.5"/><circle cx="625.3" cy="644.6" r="5.5"/><circle cx="640.9" cy="671.6" r="5.5"/><circle cx="734.1" cy="722.6" r="5.5"/><circle cx="640.5" cy="675.6" r="5.5"/><circle cx="500.1" cy="720.2" r="5.5"/><circle cx="632.0" cy="724.2" r="5.5"/><circle cx="745.0" cy="709.9" r="5.5"/><circle cx="837.7" cy="715.2" r="5.5"/><circle cx="838.3" cy="725.8" r="5.5"/><circle cx="643.6" cy="730.8" r="5.5"/><circle cx="627.8" cy="686.6" r="5.5"/><circle cx="595.6" cy="726.2" r="5.5"/><circle cx="757.5" cy="719.8" r="5.5"/><circle cx="735.1" cy="719.1" r="5.5"/><circle cx="653.1" cy="700.3" r="5.5"/><circle cx="844.3" cy="736.9" r="5.5"/><circle cx="705.2" cy="745.4" r="5.5"/><circle cx="581.1" cy="744.6" r="5.5"/><circle cx="527.3" cy="712.8" r="5.5"/><circle cx="655.4" cy="699.8" r="5.5"/><circle cx="802.9" cy="738.4" r="5.5"/><circle cx="821.9" cy="740.8" r="5.5"/><circle cx="862.4" cy="736.2" r="5.5"/><circle cx="719.2" cy="709.2" r="5.5"/><circle cx="656.4" cy="693.6" r="5.5"/><circle cx="857.3" cy="717.9" r="5.5"/><circle cx="509.9" cy="715.5" r="5.5"/><circle cx="628.2" cy="716.7" r="5.5"/><circle cx="758.6" cy="662.5" r="5.5"/><circle cx="744.9" cy="652.1" r="5.5"/><circle cx="674.6" cy="732.3" r="5.5"/><circle cx="594.4" cy="736.7" r="5.5"/><circle cx="529.5" cy="720.1" r="5.5"/><circle cx="729.7" cy="750.1" r="5.5"/><circle cx="499.0" cy="717.9" r="5.5"/><circle cx="551.4" cy="730.1" r="5.5"/><circle cx="549.0" cy="714.0" r="5.5"/><circle cx="745.2" cy="750.7" r="5.5"/><circle cx="622.6" cy="671.3" r="5.5"/><circle cx="534.2" cy="725.3" r="5.5"/><circle cx="748.7" cy="697.0" r="5.5"/><circle cx="578.0" cy="715.2" r="5.5"/><circle cx="736.0" cy="712.3" r="5.5"/><circle cx="820.6" cy="715.0" r="5.5"/><circle cx="816.1" cy="733.9" r="5.5"/><circle cx="798.8" cy="721.7" r="5.5"/><circle cx="676.8" cy="748.7" r="5.5"/><circle cx="626.4" cy="691.7" r="5.5"/><circle cx="632.6" cy="740.3" r="5.5"/><circle cx="792.8" cy="726.0" r="5.5"/><circle cx="645.1" cy="705.7" r="5.5"/><circle cx="668.8" cy="749.8" r="5.5"/><circle cx="710.2" cy="743.2" r="5.5"/><circle cx="515.2" cy="722.8" r="5.5"/><circle cx="537.4" cy="727.8" r="5.5"/><circle cx="630.5" cy="749.5" r="5.5"/><circle cx="710.7" cy="728.6" r="5.5"/><circle cx="621.7" cy="673.8" r="5.5"/><circle cx="628.8" cy="680.3" r="5.5"/><circle cx="928.8" cy="713.7" r="5.5"/><circle cx="930.2" cy="718.3" r="5.5"/><circle cx="733.7" cy="681.5" r="5.5"/><circle cx="513.7" cy="731.0" r="5.5"/><circle cx="733.3" cy="728.6" r="5.5"/><circle cx="905.2" cy="719.1" r="5.5"/><circle cx="558.9" cy="714.4" r="5.5"/><circle cx="891.6" cy="731.2" r="5.5"/><circle cx="867.8" cy="712.9" r="5.5"/><circle cx="621.7" cy="652.1" r="5.5"/><circle cx="542.5" cy="728.4" r="5.5"/><circle cx="611.1" cy="734.8" r="5.5"/><circle cx="626.3" cy="735.4" r="5.5"/><circle cx="638.5" cy="692.5" r="5.5"/><circle cx="515.5" cy="729.0" r="5.5"/><circle cx="823.5" cy="728.4" r="5.5"/><circle cx="660.4" cy="711.5" r="5.5"/><circle cx="540.4" cy="728.7" r="5.5"/><circle cx="628.4" cy="712.4" r="5.5"/><circle cx="648.4" cy="690.4" r="5.5"/><circle cx="778.9" cy="739.7" r="5.5"/><circle cx="865.6" cy="722.9" r="5.5"/><circle cx="550.5" cy="733.4" r="5.5"/><circle cx="554.2" cy="715.6" r="5.5"/><circle cx="600.1" cy="728.0" r="5.5"/><circle cx="790.7" cy="728.0" r="5.5"/><circle cx="498.9" cy="721.8" r="5.5"/><circle cx="500.1" cy="715.0" r="5.5"/><circle cx="549.5" cy="728.6" r="5.5"/><circle cx="649.2" cy="753.8" r="5.5"/><circle cx="596.8" cy="739.0" r="5.5"/><circle cx="770.6" cy="731.7" r="5.5"/><circle cx="753.0" cy="650.5" r="5.5"/><circle cx="549.9" cy="722.2" r="5.5"/><circle cx="656.5" cy="750.2" r="5.5"/><circle cx="572.4" cy="713.3" r="5.5"/><circle cx="765.5" cy="714.1" r="5.5"/><circle cx="808.6" cy="731.8" r="5.5"/><circle cx="623.6" cy="750.1" r="5.5"/></g>
<g class="b"><circle cx="616.8" cy="646.8" r="5.5"/><circle cx="445.9" cy="702.1" r="5.5"/><circle cx="616.4" cy="684.9" r="5.5"/><circle cx="557.9" cy="678.4" r="5.5"/><circle cx="492.5" cy="682.3" r="5.5"/><circle cx="518.5" cy="563.3" r="5.5"/><circle cx="559.4" cy="662.5" r="5.5"/><circle cx="550.4" cy="704.0" r="5.5"/><circle cx="540.9" cy="648.1" r="5.5"/><circle cx="572.9" cy="686.8" r="5.5"/><circle cx="319.5" cy="428.0" r="5.5"/><circle cx="536.2" cy="660.5" r="5.5"/><circle cx="308.0" cy="271.0" r="5.5"/><circle cx="586.6" cy="668.4" r="5.5"/><circle cx="459.2" cy="672.8" r="5.5"/><circle cx="456.4" cy="672.5" r="5.5"/><circle cx="383.2" cy="628.2" r="5.5"/><circle cx="487.3" cy="634.6" r="5.5"/><circle cx="551.6" cy="653.1" r="5.5"/><circle cx="608.2" cy="659.6" r="5.5"/><circle cx="477.2" cy="642.1" r="5.5"/><circle cx="421.2" cy="566.5" r="5.5"/><circle cx="604.8" cy="672.7" r="5.5"/><circle cx="615.9" cy="629.4" r="5.5"/><circle cx="556.9" cy="703.6" r="5.5"/><circle cx="517.0" cy="602.2" r="5.5"/><circle cx="445.9" cy="644.8" r="5.5"/><circle cx="431.2" cy="543.8" r="5.5"/><circle cx="450.7" cy="670.3" r="5.5"/><circle cx="569.5" cy="564.5" r="5.5"/><circle cx="554.7" cy="640.7" r="5.5"/><circle cx="540.8" cy="634.0" r="5.5"/><circle cx="463.7" cy="658.1" r="5.5"/><circle cx="505.9" cy="695.3" r="5.5"/><circle cx="481.1" cy="690.1" r="5.5"/><circle cx="538.8" cy="700.7" r="5.5"/><circle cx="555.1" cy="666.0" r="5.5"/><circle cx="567.3" cy="610.2" r="5.5"/><circle cx="605.7" cy="659.3" r="5.5"/><circle cx="385.5" cy="555.5" r="5.5"/></g>
<g class="r"><circle cx="872.3" cy="692.9" r="5.5"/><circle cx="789.4" cy="574.2" r="5.5"/><circle cx="867.0" cy="699.5" r="5.5"/><circle cx="839.3" cy="656.9" r="5.5"/><circle cx="811.4" cy="626.3" r="5.5"/><circle cx="872.2" cy="703.3" r="5.5"/><circle cx="910.5" cy="597.5" r="5.5"/><circle cx="777.6" cy="637.4" r="5.5"/><circle cx="826.9" cy="683.7" r="5.5"/><circle cx="1041.8" cy="706.0" r="5.5"/><circle cx="787.0" cy="692.3" r="5.5"/><circle cx="876.0" cy="485.0" r="5.5"/><circle cx="781.5" cy="670.0" r="5.5"/><circle cx="898.9" cy="701.0" r="5.5"/><circle cx="780.5" cy="702.3" r="5.5"/><circle cx="970.5" cy="688.4" r="5.5"/><circle cx="857.8" cy="629.9" r="5.5"/><circle cx="774.6" cy="684.5" r="5.5"/><circle cx="842.8" cy="677.1" r="5.5"/><circle cx="831.6" cy="663.0" r="5.5"/><circle cx="909.7" cy="702.6" r="5.5"/><circle cx="795.0" cy="666.1" r="5.5"/><circle cx="815.0" cy="667.5" r="5.5"/><circle cx="818.0" cy="401.0" r="5.5"/><circle cx="787.7" cy="621.9" r="5.5"/><circle cx="771.6" cy="698.1" r="5.5"/><circle cx="841.0" cy="679.9" r="5.5"/></g>
<g class="g"><circle cx="905.2" cy="734.5" r="5.5"/><circle cx="654.8" cy="744.8" r="5.5"/><circle cx="656.7" cy="689.6" r="5.5"/><circle cx="565.4" cy="729.9" r="5.5"/><circle cx="630.2" cy="604.8" r="5.5"/><circle cx="646.6" cy="680.0" r="5.5"/><circle cx="550.4" cy="736.6" r="5.5"/><circle cx="755.4" cy="659.5" r="5.5"/><circle cx="641.9" cy="722.7" r="5.5"/><circle cx="646.4" cy="660.9" r="5.5"/><circle cx="631.0" cy="617.0" r="5.5"/><circle cx="760.2" cy="662.1" r="5.5"/><circle cx="536.2" cy="720.7" r="5.5"/><circle cx="682.4" cy="745.1" r="5.5"/><circle cx="860.4" cy="713.2" r="5.5"/><circle cx="621.3" cy="669.6" r="5.5"/><circle cx="721.6" cy="727.2" r="5.5"/><circle cx="657.5" cy="721.7" r="5.5"/><circle cx="750.6" cy="662.1" r="5.5"/><circle cx="594.7" cy="716.0" r="5.5"/><circle cx="758.3" cy="623.4" r="5.5"/><circle cx="737.1" cy="698.0" r="5.5"/><circle cx="850.5" cy="736.2" r="5.5"/><circle cx="869.9" cy="736.6" r="5.5"/><circle cx="509.1" cy="712.6" r="5.5"/><circle cx="641.5" cy="730.7" r="5.5"/><circle cx="747.9" cy="695.6" r="5.5"/><circle cx="615.4" cy="733.9" r="5.5"/><circle cx="760.7" cy="655.7" r="5.5"/><circle cx="710.5" cy="748.9" r="5.5"/><circle cx="757.3" cy="726.8" r="5.5"/><circle cx="666.9" cy="723.3" r="5.5"/><circle cx="710.5" cy="740.5" r="5.5"/><circle cx="746.6" cy="688.6" r="5.5"/><circle cx="907.0" cy="714.1" r="5.5"/><circle cx="598.6" cy="734.7" r="5.5"/><circle cx="656.8" cy="704.8" r="5.5"/><circle cx="733.8" cy="685.3" r="5.5"/><circle cx="816.9" cy="717.2" r="5.5"/><circle cx="663.6" cy="735.3" r="5.5"/><circle cx="821.3" cy="718.3" r="5.5"/><circle cx="644.3" cy="658.9" r="5.5"/><circle cx="545.8" cy="713.0" r="5.5"/><circle cx="656.3" cy="737.0" r="5.5"/><circle cx="728.9" cy="689.9" r="5.5"/><circle cx="753.8" cy="748.7" r="5.5"/><circle cx="885.5" cy="713.7" r="5.5"/><circle cx="861.0" cy="729.6" r="5.5"/><circle cx="664.3" cy="706.5" r="5.5"/><circle cx="606.7" cy="720.7" r="5.5"/><circle cx="505.1" cy="714.7" r="5.5"/><circle cx="617.0" cy="724.4" r="5.5"/><circle cx="646.7" cy="741.8" r="5.5"/><circle cx="575.4" cy="725.0" r="5.5"/><circle cx="733.2" cy="717.6" r="5.5"/><circle cx="623.0" cy="653.8" r="5.5"/><circle cx="722.9" cy="722.6" r="5.5"/><circle cx="509.9" cy="714.4" r="5.5"/><circle cx="603.7" cy="719.2" r="5.5"/><circle cx="578.6" cy="731.7" r="5.5"/><circle cx="730.0" cy="713.6" r="5.5"/><circle cx="734.3" cy="749.0" r="5.5"/><circle cx="512.0" cy="726.9" r="5.5"/><circle cx="648.4" cy="742.3" r="5.5"/><circle cx="671.4" cy="743.7" r="5.5"/><circle cx="759.9" cy="722.6" r="5.5"/><circle cx="723.6" cy="707.1" r="5.5"/><circle cx="640.0" cy="717.2" r="5.5"/><circle cx="580.6" cy="716.0" r="5.5"/><circle cx="872.2" cy="724.3" r="5.5"/><circle cx="738.2" cy="727.7" r="5.5"/><circle cx="752.9" cy="691.6" r="5.5"/><circle cx="667.9" cy="745.3" r="5.5"/><circle cx="501.2" cy="715.1" r="5.5"/><circle cx="653.1" cy="687.8" r="5.5"/><circle cx="507.1" cy="725.8" r="5.5"/><circle cx="724.9" cy="729.6" r="5.5"/><circle cx="497.5" cy="721.9" r="5.5"/><circle cx="730.3" cy="699.8" r="5.5"/><circle cx="622.8" cy="708.5" r="5.5"/><circle cx="898.7" cy="733.8" r="5.5"/><circle cx="647.3" cy="680.7" r="5.5"/><circle cx="820.7" cy="744.4" r="5.5"/><circle cx="965.3" cy="716.5" r="5.5"/><circle cx="801.8" cy="720.9" r="5.5"/><circle cx="672.9" cy="748.4" r="5.5"/><circle cx="809.2" cy="715.9" r="5.5"/><circle cx="646.9" cy="662.3" r="5.5"/><circle cx="737.6" cy="721.0" r="5.5"/><circle cx="725.0" cy="693.1" r="5.5"/><circle cx="644.3" cy="744.3" r="5.5"/><circle cx="496.5" cy="720.7" r="5.5"/><circle cx="843.3" cy="713.7" r="5.5"/><circle cx="652.4" cy="674.3" r="5.5"/><circle cx="726.7" cy="695.8" r="5.5"/><circle cx="719.7" cy="734.9" r="5.5"/><circle cx="624.3" cy="709.3" r="5.5"/><circle cx="646.1" cy="653.7" r="5.5"/><circle cx="741.1" cy="717.8" r="5.5"/><circle cx="748.5" cy="747.6" r="5.5"/><circle cx="750.8" cy="677.2" r="5.5"/><circle cx="744.3" cy="713.4" r="5.5"/><circle cx="754.7" cy="735.5" r="5.5"/><circle cx="722.5" cy="702.9" r="5.5"/><circle cx="669.3" cy="733.2" r="5.5"/><circle cx="623.7" cy="711.9" r="5.5"/><circle cx="621.2" cy="660.1" r="5.5"/><circle cx="872.8" cy="736.5" r="5.5"/><circle cx="487.7" cy="717.7" r="5.5"/><circle cx="888.3" cy="724.6" r="5.5"/><circle cx="566.7" cy="730.8" r="5.5"/><circle cx="502.2" cy="718.8" r="5.5"/><circle cx="839.1" cy="717.1" r="5.5"/><circle cx="628.1" cy="731.1" r="5.5"/><circle cx="561.3" cy="740.2" r="5.5"/><circle cx="514.6" cy="728.6" r="5.5"/><circle cx="644.7" cy="692.4" r="5.5"/><circle cx="728.0" cy="737.4" r="5.5"/><circle cx="760.4" cy="690.9" r="5.5"/><circle cx="646.9" cy="711.2" r="5.5"/><circle cx="606.4" cy="745.4" r="5.5"/><circle cx="748.7" cy="667.3" r="5.5"/><circle cx="759.8" cy="716.1" r="5.5"/><circle cx="513.7" cy="712.5" r="5.5"/><circle cx="612.2" cy="730.1" r="5.5"/><circle cx="712.6" cy="738.7" r="5.5"/><circle cx="637.2" cy="696.5" r="5.5"/><circle cx="768.0" cy="718.3" r="5.5"/><circle cx="732.7" cy="714.6" r="5.5"/><circle cx="744.3" cy="735.1" r="5.5"/><circle cx="910.4" cy="716.7" r="5.5"/><circle cx="629.9" cy="716.5" r="5.5"/><circle cx="679.4" cy="749.7" r="5.5"/><circle cx="850.8" cy="739.1" r="5.5"/><circle cx="501.5" cy="716.5" r="5.5"/><circle cx="746.6" cy="660.9" r="5.5"/><circle cx="769.2" cy="727.4" r="5.5"/><circle cx="643.1" cy="644.5" r="5.5"/><circle cx="839.7" cy="729.2" r="5.5"/><circle cx="639.7" cy="668.7" r="5.5"/><circle cx="863.6" cy="737.0" r="5.5"/><circle cx="476.6" cy="718.2" r="5.5"/><circle cx="533.9" cy="720.4" r="5.5"/><circle cx="754.5" cy="735.5" r="5.5"/><circle cx="646.8" cy="677.9" r="5.5"/><circle cx="572.8" cy="734.6" r="5.5"/><circle cx="758.7" cy="643.5" r="5.5"/><circle cx="737.3" cy="728.9" r="5.5"/><circle cx="807.3" cy="743.5" r="5.5"/><circle cx="671.6" cy="723.2" r="5.5"/><circle cx="830.9" cy="727.2" r="5.5"/><circle cx="525.0" cy="734.2" r="5.5"/><circle cx="756.7" cy="742.2" r="5.5"/><circle cx="499.5" cy="720.0" r="5.5"/><circle cx="668.8" cy="717.5" r="5.5"/><circle cx="645.3" cy="720.4" r="5.5"/><circle cx="835.0" cy="720.0" r="5.5"/><circle cx="743.3" cy="692.7" r="5.5"/><circle cx="918.2" cy="712.6" r="5.5"/><circle cx="905.4" cy="721.8" r="5.5"/><circle cx="939.4" cy="732.9" r="5.5"/><circle cx="729.1" cy="709.3" r="5.5"/><circle cx="591.3" cy="741.9" r="5.5"/><circle cx="754.8" cy="675.2" r="5.5"/><circle cx="758.7" cy="697.7" r="5.5"/><circle cx="529.0" cy="721.3" r="5.5"/><circle cx="765.9" cy="736.8" r="5.5"/><circle cx="671.8" cy="737.4" r="5.5"/><circle cx="802.7" cy="720.5" r="5.5"/><circle cx="635.7" cy="717.7" r="5.5"/><circle cx="663.3" cy="745.3" r="5.5"/></g>
<g class="b"><circle cx="454.8" cy="306.2" r="5.5"/><circle cx="586.5" cy="677.0" r="5.5"/><circle cx="540.9" cy="689.3" r="5.5"/><circle cx="605.1" cy="686.9" r="5.5"/><circle cx="520.3" cy="701.8" r="5.5"/><circle cx="499.1" cy="689.6" r="5.5"/><circle cx="540.8" cy="701.7" r="5.5"/><circle cx="496.3" cy="659.1" r="5.5"/><circle cx="560.4" cy="664.6" r="5.5"/><circle cx="538.3" cy="668.4" r="5.5"/><circle cx="562.9" cy="671.8" r="5.5"/><circle cx="452.4" cy="658.2" r="5.5"/><circle cx="527.8" cy="670.7" r="5.5"/><circle cx="514.8" cy="614.1" r="5.5"/><circle cx="493.5" cy="610.5" r="5.5"/><circle cx="491.5" cy="597.8" r="5.5"/><circle cx="532.7" cy="636.4" r="5.5"/><circle cx="579.8" cy="695.5" r="5.5"/><circle cx="357.5" cy="389.5" r="5.5"/><circle cx="563.1" cy="661.8" r="5.5"/><circle cx="553.9" cy="614.0" r="5.5"/><circle cx="501.5" cy="657.5" r="5.5"/><circle cx="563.2" cy="630.0" r="5.5"/><circle cx="343.2" cy="285.5" r="5.5"/><circle cx="507.3" cy="651.6" r="5.5"/><circle cx="563.2" cy="650.3" r="5.5"/><circle cx="561.6" cy="691.3" r="5.5"/><circle cx="608.2" cy="702.1" r="5.5"/><circle cx="497.5" cy="622.6" r="5.5"/><circle cx="527.2" cy="699.1" r="5.5"/><circle cx="470.6" cy="667.0" r="5.5"/><circle cx="375.5" cy="421.8" r="5.5"/><circle cx="566.3" cy="629.6" r="5.5"/><circle cx="540.7" cy="665.2" r="5.5"/></g>
<g class="r"><circle cx="830.7" cy="700.3" r="5.5"/><circle cx="771.6" cy="663.9" r="5.5"/><circle cx="781.2" cy="666.4" r="5.5"/><circle cx="797.9" cy="644.9" r="5.5"/><circle cx="827.8" cy="658.7" r="5.5"/><circle cx="824.3" cy="640.5" r="5.5"/><circle cx="864.7" cy="682.4" r="5.5"/><circle cx="793.3" cy="697.8" r="5.5"/><circle cx="940.0" cy="601.2" r="5.5"/><circle cx="861.8" cy="686.7" r="5.5"/><circle cx="790.3" cy="630.4" r="5.5"/><circle cx="850.4" cy="675.8" r="5.5"/><circle cx="889.8" cy="698.0" r="5.5"/><circle cx="856.3" cy="702.6" r="5.5"/><circle cx="793.0" cy="628.4" r="5.5"/><circle cx="854.3" cy="667.0" r="5.5"/><circle cx="798.0" cy="641.6" r="5.5"/><circle cx="803.5" cy="667.1" r="5.5"/><circle cx="809.3" cy="632.4" r="5.5"/><circle cx="855.8" cy="668.2" r="5.5"/><circle cx="803.4" cy="692.8" r="5.5"/><circle cx="1059.8" cy="688.8" r="5.5"/><circle cx="792.8" cy="615.5" r="5.5"/><circle cx="821.4" cy="687.0" r="5.5"/><circle cx="868.1" cy="699.5" r="5.5"/><circle cx="984.2" cy="666.2" r="5.5"/><circle cx="809.9" cy="611.1" r="5.5"/><circle cx="827.2" cy="693.5" r="5.5"/><circle cx="952.8" cy="611.8" r="5.5"/><circle cx="772.2" cy="614.7" r="5.5"/></g>
<g class="g"><circle cx="740.7" cy="708.1" r="5.5"/><circle cx="634.6" cy="745.6" r="5.5"/><circle cx="525.7" cy="720.8" r="5.5"/><circle cx="628.0" cy="687.6" r="5.5"/><circle cx="639.8" cy="688.7" r="5.5"/><circle cx="808.2" cy="743.8" r="5.5"/><circle cx="509.0" cy="712.7" r="5.5"/><circle cx="557.4" cy="719.3" r="5.5"/><circle cx="644.3" cy="683.0" r="5.5"/><circle cx="662.7" cy="706.5" r="5.5"/><circle cx="569.1" cy="719.2" r="5.5"/><circle cx="504.3" cy="723.6" r="5.5"/><circle cx="884.2" cy="728.3" r="5.5"/><circle cx="658.0" cy="728.5" r="5.5"/><circle cx="581.1" cy="728.4" r="5.5"/><circle cx="854.0" cy="742.0" r="5.5"/><circle cx="635.1" cy="701.6" r="5.5"/><circle cx="589.3" cy="730.5" r="5.5"/><circle cx="496.1" cy="721.9" r="5.5"/><circle cx="785.4" cy="747.9" r="5.5"/><circle cx="640.4" cy="734.1" r="5.5"/><circle cx="906.3" cy="724.7" r="5.5"/><circle cx="656.8" cy="726.3" r="5.5"/><circle cx="652.0" cy="753.4" r="5.5"/><circle cx="645.0" cy="686.6" r="5.5"/><circle cx="775.7" cy="729.9" r="5.5"/><circle cx="749.3" cy="679.9" r="5.5"/><circle cx="870.5" cy="740.3" r="5.5"/><circle cx="653.6" cy="734.9" r="5.5"/><circle cx="756.4" cy="715.0" r="5.5"/><circle cx="612.0" cy="729.9" r="5.5"/><circle cx="734.5" cy="738.5" r="5.5"/><circle cx="932.8" cy="726.5" r="5.5"/><circle cx="643.3" cy="651.1" r="5.5"/><circle cx="639.3" cy="731.5" r="5.5"/><circle cx="664.2" cy="738.9" r="5.5"/><circle cx="784.6" cy="731.1" r="5.5"/><circle cx="723.3" cy="725.8" r="5.5"/><circle cx="733.6" cy="674.7" r="5.5"/><circle cx="598.8" cy="744.9" r="5.5"/><circle cx="701.2" cy="753.7" r="5.5"/><circle cx="930.0" cy="734.4" r="5.5"/><circle cx="753.8" cy="695.2" r="5.5"/><circle cx="758.4" cy="736.1" r="5.5"/><circle cx="917.2" cy="717.4" r="5.5"/><circle cx="621.2" cy="658.8" r="5.5"/><circle cx="918.2" cy="730.8" r="5.5"/><circle cx="625.8" cy="726.4" r="5.5"/><circle cx="514.6" cy="719.1" r="5.5"/><circle cx="555.1" cy="736.6" r="5.5"/><circle cx="745.5" cy="748.7" r="5.5"/><circle cx="895.7" cy="720.9" r="5.5"/><circle cx="779.6" cy="724.5" r="5.5"/><circle cx="621.0" cy="711.9" r="5.5"/><circle cx="668.6" cy="728.0" r="5.5"/><circle cx="904.9" cy="739.1" r="5.5"/><circle cx="599.1" cy="714.2" r="5.5"/><circle cx="925.9" cy="737.3" r="5.5"/><circle cx="610.9" cy="726.8" r="5.5"/><circle cx="651.3" cy="698.6" r="5.5"/><circle cx="585.3" cy="745.3" r="5.5"/><circle cx="531.4" cy="731.2" r="5.5"/><circle cx="600.9" cy="744.7" r="5.5"/><circle cx="735.2" cy="668.8" r="5.5"/><circle cx="660.7" cy="711.7" r="5.5"/><circle cx="824.5" cy="738.8" r="5.5"/><circle cx="641.8" cy="681.3" r="5.5"/><circle cx="785.9" cy="741.1" r="5.5"/><circle cx="844.7" cy="717.6" r="5.5"/><circle cx="819.2" cy="718.1" r="5.5"/><circle cx="582.6" cy="716.7" r="5.5"/><circle cx="760.6" cy="663.7" r="5.5"/><circle cx="749.9" cy="705.6" r="5.5"/><circle cx="940.5" cy="729.3" r="5.5"/><circle cx="846.7" cy="731.0" r="5.5"/><circle cx="725.2" cy="730.8" r="5.5"/><circle cx="625.3" cy="664.7" r="5.5"/><circle cx="861.7" cy="724.6" r="5.5"/><circle cx="535.6" cy="729.1" r="5.5"/><circle cx="555.3" cy="733.1" r="5.5"/><circle cx="756.2" cy="703.6" r="5.5"/><circle cx="540.7" cy="714.4" r="5.5"/><circle cx="716.1" cy="728.6" r="5.5"/><circle cx="863.9" cy="741.1" r="5.5"/><circle cx="494.4" cy="722.7" r="5.5"/><circle cx="736.8" cy="737.4" r="5.5"/><circle cx="861.1" cy="720.3" r="5.5"/><circle cx="630.6" cy="750.9" r="5.5"/><circle cx="493.2" cy="716.5" r="5.5"/><circle cx="682.1" cy="742.6" r="5.5"/><circle cx="748.6" cy="669.5" r="5.5"/><circle cx="579.9" cy="732.9" r="5.5"/><circle cx="669.3" cy="726.5" r="5.5"/><circle cx="738.8" cy="707.7" r="5.5"/><circle cx="570.6" cy="744.2" r="5.5"/><circle cx="917.9" cy="712.9" r="5.5"/><circle cx="770.5" cy="716.8" r="5.5"/><circle cx="501.1" cy="726.8" r="5.5"/><circle cx="531.8" cy="736.0" r="5.5"/><circle cx="748.5" cy="729.7" r="5.5"/><circle cx="928.7" cy="737.9" r="5.5"/><circle cx="659.3" cy="703.7" r="5.5"/><circle cx="776.4" cy="747.4" r="5.5"/><circle cx="885.3" cy="717.3" r="5.5"/><circle cx="916.7" cy="738.0" r="5.5"/><circle cx="660.0" cy="706.0" r="5.5"/><circle cx="748.5" cy="688.3" r="5.5"/><circle cx="879.6" cy="734.9" r="5.5"/><circle cx="636.4" cy="696.1" r="5.5"/><circle cx="646.8" cy="693.5" r="5.5"/><circle cx="633.8" cy="692.5" r="5.5"/><circle cx="539.0" cy="722.2" r="5.5"/><circle cx="657.1" cy="736.1" r="5.5"/><circle cx="566.3" cy="742.8" r="5.5"/><circle cx="521.0" cy="724.8" r="5.5"/><circle cx="754.8" cy="710.8" r="5.5"/><circle cx="518.3" cy="715.7" r="5.5"/><circle cx="665.9" cy="754.2" r="5.5"/><circle cx="641.0" cy="677.8" r="5.5"/><circle cx="928.7" cy="732.0" r="5.5"/><circle cx="826.2" cy="740.1" r="5.5"/><circle cx="546.0" cy="737.1" r="5.5"/><circle cx="627.1" cy="728.8" r="5.5"/><circle cx="486.7" cy="716.3" r="5.5"/><circle cx="752.6" cy="700.1" r="5.5"/><circle cx="641.0" cy="703.3" r="5.5"/><circle cx="520.6" cy="729.7" r="5.5"/><circle cx="924.6" cy="739.4" r="5.5"/><circle cx="604.9" cy="741.6" r="5.5"/><circle cx="756.1" cy="714.2" r="5.5"/><circle cx="620.7" cy="726.3" r="5.5"/><circle cx="790.8" cy="714.3" r="5.5"/><circle cx="799.4" cy="724.2" r="5.5"/><circle cx="720.7" cy="748.8" r="5.5"/><circle cx="652.7" cy="732.5" r="5.5"/><circle cx="757.0" cy="709.5" r="5.5"/><circle cx="831.3" cy="729.4" r="5.5"/><circle cx="583.8" cy="725.7" r="5.5"/><circle cx="655.7" cy="709.6" r="5.5"/><circle cx="742.7" cy="699.7" r="5.5"/><circle cx="561.5" cy="732.5" r="5.5"/><circle cx="528.5" cy="713.1" r="5.5"/><circle cx="531.4" cy="712.5" r="5.5"/><circle cx="545.5" cy="729.8" r="5.5"/><circle cx="705.2" cy="753.1" r="5.5"/><circle cx="753.0" cy="677.6" r="5.5"/><circle cx="867.6" cy="716.4" r="5.5"/><circle cx="766.5" cy="722.3" r="5.5"/><circle cx="632.0" cy="741.9" r="5.5"/><circle cx="752.8" cy="671.8" r="5.5"/><circle cx="820.1" cy="729.8" r="5.5"/><circle cx="712.9" cy="719.5" r="5.5"/><circle cx="625.9" cy="723.3" r="5.5"/><circle cx="622.6" cy="679.6" r="5.5"/><circle cx="552.4" cy="740.3" r="5.5"/><circle cx="750.6" cy="716.7" r="5.5"/></g>
<g class="b"><circle cx="529.4" cy="635.5" r="5.5"/><circle cx="551.4" cy="653.3" r="5.5"/><circle cx="576.1" cy="570.5" r="5.5"/><circle cx="570.4" cy="694.1" r="5.5"/><circle cx="608.5" cy="668.2" r="5.5"/><circle cx="582.6" cy="697.8" r="5.5"/><circle cx="591.1" cy="673.9" r="5.5"/><circle cx="461.9" cy="667.1" r="5.5"/><circle cx="584.8" cy="672.5" r="5.5"/><circle cx="569.0" cy="685.7" r="5.5"/><circle cx="484.3" cy="661.6" r="5.5"/><circle cx="477.3" cy="663.1" r="5.5"/><circle cx="507.9" cy="652.6" r="5.5"/><circle cx="485.5" cy="649.3" r="5.5"/><circle cx="566.4" cy="644.1" r="5.5"/><circle cx="510.1" cy="680.6" r="5.5"/><circle cx="543.6" cy="650.2" r="5.5"/><circle cx="580.1" cy="647.5" r="5.5"/><circle cx="538.2" cy="635.6" r="5.5"/><circle cx="495.9" cy="663.5" r="5.5"/><circle cx="482.3" cy="665.6" r="5.5"/><circle cx="512.2" cy="667.3" r="5.5"/><circle cx="507.3" cy="657.0" r="5.5"/><circle cx="478.2" cy="703.0" r="5.5"/><circle cx="427.8" cy="621.2" r="5.5"/><circle cx="463.9" cy="703.8" r="5.5"/><circle cx="521.2" cy="612.2" r="5.5"/><circle cx="543.9" cy="621.8" r="5.5"/><circle cx="560.8" cy="648.4" r="5.5"/><circle cx="426.0" cy="658.0" r="5.5"/><circle cx="556.7" cy="665.2" r="5.5"/><circle cx="457.3" cy="678.6" r="5.5"/><circle cx="453.1" cy="700.6" r="5.5"/><circle cx="399.0" cy="555.0" r="5.5"/><circle cx="471.8" cy="662.5" r="5.5"/><circle cx="305.2" cy="592.5" r="5.5"/><circle cx="482.6" cy="697.6" r="5.5"/><circle cx="494.6" cy="677.5" r="5.5"/><circle cx="580.5" cy="625.5" r="5.5"/><circle cx="553.7" cy="651.2" r="5.5"/><circle cx="532.4" cy="655.7" r="5.5"/><circle cx="532.8" cy="553.2" r="5.5"/><circle cx="582.1" cy="659.8" r="5.5"/><circle cx="597.9" cy="656.5" r="5.5"/><circle cx="589.0" cy="643.0" r="5.5"/><circle cx="500.8" cy="421.0" r="5.5"/></g>
<g class="r"><circle cx="799.1" cy="637.7" r="5.5"/><circle cx="834.8" cy="628.3" r="5.5"/><circle cx="838.6" cy="657.7" r="5.5"/><circle cx="977.4" cy="688.8" r="5.5"/><circle cx="780.4" cy="678.4" r="5.5"/><circle cx="914.1" cy="669.9" r="5.5"/><circle cx="769.3" cy="599.0" r="5.5"/><circle cx="859.2" cy="675.4" r="5.5"/><circle cx="972.0" cy="692.9" r="5.5"/><circle cx="798.6" cy="625.9" r="5.5"/><circle cx="871.6" cy="696.2" r="5.5"/><circle cx="866.8" cy="634.6" r="5.5"/><circle cx="789.4" cy="625.9" r="5.5"/><circle cx="810.5" cy="674.1" r="5.5"/><circle cx="774.7" cy="626.5" r="5.5"/><circle cx="958.0" cy="665.0" r="5.5"/><circle cx="767.3" cy="577.6" r="5.5"/><circle cx="827.5" cy="693.6" r="5.5"/><circle cx="863.9" cy="670.9" r="5.5"/><circle cx="869.1" cy="646.6" r="5.5"/><circle cx="807.0" cy="631.9" r="5.5"/><circle cx="823.3" cy="670.4" r="5.5"/><circle cx="788.0" cy="678.6" r="5.5"/><circle cx="812.0" cy="652.0" r="5.5"/><circle cx="806.8" cy="702.8" r="5.5"/><circle cx="839.4" cy="677.3" r="5.5"/><circle cx="827.0" cy="678.0" r="5.5"/><circle cx="772.7" cy="613.1" r="5.5"/><circle cx="798.9" cy="667.8" r="5.5"/><circle cx="767.0" cy="646.1" r="5.5"/><circle cx="873.1" cy="674.0" r="5.5"/><circle cx="880.6" cy="652.6" r="5.5"/><circle cx="773.1" cy="567.1" r="5.5"/></g>
<g class="g"><circle cx="751.2" cy="712.5" r="5.5"/><circle cx="743.1" cy="745.5" r="5.5"/><circle cx="702.4" cy="743.3" r="5.5"/><circle cx="632.9" cy="699.1" r="5.5"/><circle cx="883.9" cy="727.3" r="5.5"/><circle cx="632.2" cy="681.3" r="5.5"/><circle cx="836.6" cy="742.8" r="5.5"/><circle cx="626.2" cy="713.4" r="5.5"/><circle cx="549.7" cy="715.1" r="5.5"/><circle cx="522.4" cy="717.3" r="5.5"/><circle cx="611.1" cy="745.5" r="5.5"/><circle cx="605.7" cy="719.3" r="5.5"/><circle cx="639.1" cy="722.7" r="5.5"/><circle cx="473.4" cy="719.0" r="5.5"/><circle cx="894.0" cy="717.6" r="5.5"/><circle cx="933.6" cy="713.3" r="5.5"/><circle cx="615.5" cy="727.8" r="5.5"/><circle cx="636.1" cy="659.8" r="5.5"/><circle cx="635.4" cy="687.8" r="5.5"/><circle cx="649.5" cy="702.9" r="5.5"/><circle cx="825.0" cy="745.1" r="5.5"/><circle cx="796.8" cy="736.6" r="5.5"/><circle cx="717.6" cy="718.3" r="5.5"/><circle cx="927.9" cy="714.7" r="5.5"/><circle cx="786.1" cy="713.9" r="5.5"/><circle cx="501.1" cy="725.8" r="5.5"/><circle cx="672.5" cy="753.6" r="5.5"/><circle cx="582.4" cy="745.0" r="5.5"/><circle cx="773.8" cy="721.5" r="5.5"/><circle cx="756.5" cy="742.8" r="5.5"/><circle cx="761.1" cy="694.8" r="5.5"/><circle cx="567.9" cy="725.3" r="5.5"/><circle cx="660.8" cy="747.7" r="5.5"/><circle cx="635.0" cy="613.8" r="5.5"/><circle cx="750.2" cy="721.9" r="5.5"/><circle cx="555.4" cy="713.1" r="5.5"/><circle cx="562.9" cy="720.6" r="5.5"/><circle cx="634.6" cy="740.9" r="5.5"/><circle cx="756.8" cy="700.9" r="5.5"/><circle cx="717.6" cy="729.1" r="5.5"/><circle cx="748.0" cy="692.3" r="5.5"/><circle cx="740.1" cy="701.4" r="5.5"/><circle cx="525.5" cy="730.4" r="5.5"/><circle cx="852.4" cy="736.4" r="5.5"/><circle cx="666.4" cy="743.4" r="5.5"/><circle cx="518.4" cy="713.6" r="5.5"/><circle cx="857.3" cy="716.3" r="5.5"/><circle cx="743.8" cy="709.4" r="5.5"/><circle cx="544.6" cy="726.7" r="5.5"/><circle cx="695.5" cy="751.8" r="5.5"/><circle cx="627.4" cy="682.6" r="5.5"/><circle cx="659.5" cy="750.4" r="5.5"/><circle cx="479.1" cy="716.8" r="5.5"/><circle cx="754.5" cy="714.3" r="5.5"/><circle cx="894.7" cy="714.5" r="5.5"/><circle cx="628.7" cy="679.0" r="5.5"/><circle cx="775.2" cy="744.7" r="5.5"/><circle cx="850.5" cy="741.4" r="5.5"/><circle cx="611.6" cy="715.7" r="5.5"/><circle cx="849.7" cy="739.6" r="5.5"/><circle cx="722.4" cy="738.9" r="5.5"/><circle cx="611.6" cy="726.9" r="5.5"/><circle cx="550.9" cy="736.6" r="5.5"/><circle cx="539.6" cy="730.9" r="5.5"/><circle cx="864.3" cy="729.4" r="5.5"/><circle cx="726.1" cy="696.7" r="5.5"/><circle cx="643.2" cy="680.2" r="5.5"/><circle cx="622.5" cy="709.7" r="5.5"/><circle cx="662.4" cy="716.3" r="5.5"/><circle cx="724.7" cy="724.6" r="5.5"/><circle cx="669.2" cy="738.7" r="5.5"/><circle cx="632.3" cy="731.8" r="5.5"/><circle cx="786.3" cy="717.1" r="5.5"/><circle cx="521.2" cy="727.5" r="5.5"/><circle cx="741.2" cy="720.4" r="5.5"/><circle cx="517.7" cy="720.3" r="5.5"/><circle cx="629.0" cy="726.6" r="5.5"/><circle cx="723.2" cy="740.3" r="5.5"/><circle cx="733.5" cy="671.8" r="5.5"/><circle cx="664.5" cy="711.8" r="5.5"/><circle cx="588.9" cy="736.6" r="5.5"/><circle cx="837.8" cy="732.5" r="5.5"/><circle cx="645.7" cy="699.0" r="5.5"/><circle cx="744.8" cy="688.0" r="5.5"/><circle cx="828.1" cy="744.3" r="5.5"/><circle cx="554.3" cy="718.4" r="5.5"/><circle cx="625.5" cy="735.5" r="5.5"/><circle cx="862.0" cy="733.9" r="5.5"/><circle cx="711.6" cy="738.3" r="5.5"/><circle cx="708.0" cy="745.4" r="5.5"/><circle cx="737.2" cy="707.7" r="5.5"/><circle cx="637.5" cy="752.7" r="5.5"/><circle cx="511.2" cy="712.5" r="5.5"/><circle cx="832.3" cy="730.7" r="5.5"/><circle cx="634.0" cy="670.7" r="5.5"/><circle cx="651.4" cy="708.2" r="5.5"/><circle cx="635.8" cy="675.6" r="5.5"/><circle cx="643.3" cy="744.3" r="5.5"/><circle cx="841.5" cy="714.9" r="5.5"/><circle cx="642.9" cy="743.9" r="5.5"/><circle cx="748.7" cy="742.1" r="5.5"/><circle cx="746.4" cy="726.7" r="5.5"/><circle cx="931.0" cy="720.8" r="5.5"/><circle cx="747.6" cy="738.3" r="5.5"/><circle cx="628.3" cy="687.0" r="5.5"/><circle cx="865.4" cy="716.1" r="5.5"/><circle cx="644.1" cy="731.9" r="5.5"/><circle cx="675.2" cy="733.7" r="5.5"/><circle cx="560.4" cy="723.2" r="5.5"/><circle cx="622.1" cy="720.4" r="5.5"/><circle cx="606.5" cy="738.6" r="5.5"/><circle cx="778.0" cy="724.3" r="5.5"/><circle cx="580.0" cy="730.4" r="5.5"/><circle cx="627.6" cy="719.8" r="5.5"/><circle cx="722.1" cy="724.1" r="5.5"/><circle cx="460.6" cy="712.5" r="5.5"/><circle cx="590.7" cy="717.0" r="5.5"/><circle cx="872.1" cy="715.8" r="5.5"/><circle cx="897.2" cy="712.7" r="5.5"/><circle cx="875.1" cy="738.1" r="5.5"/><circle cx="654.2" cy="718.4" r="5.5"/><circle cx="637.0" cy="709.8" r="5.5"/><circle cx="836.5" cy="713.8" r="5.5"/><circle cx="544.8" cy="716.6" r="5.5"/><circle cx="725.5" cy="719.4" r="5.5"/><circle cx="712.6" cy="736.5" r="5.5"/><circle cx="724.1" cy="704.2" r="5.5"/><circle cx="853.3" cy="739.9" r="5.5"/><circle cx="622.3" cy="657.2" r="5.5"/><circle cx="748.5" cy="731.4" r="5.5"/><circle cx="544.7" cy="724.0" r="5.5"/><circle cx="890.7" cy="731.4" r="5.5"/><circle cx="746.1" cy="734.3" r="5.5"/><circle cx="811.9" cy="730.6" r="5.5"/><circle cx="749.1" cy="696.6" r="5.5"/><circle cx="927.5" cy="730.8" r="5.5"/><circle cx="667.2" cy="730.6" r="5.5"/><circle cx="653.5" cy="712.0" r="5.5"/><circle cx="862.2" cy="732.2" r="5.5"/><circle cx="733.6" cy="722.0" r="5.5"/><circle cx="731.0" cy="691.3" r="5.5"/><circle cx="934.1" cy="716.4" r="5.5"/><circle cx="509.5" cy="716.3" r="5.5"/><circle cx="625.2" cy="656.4" r="5.5"/><circle cx="748.9" cy="639.8" r="5.5"/><circle cx="891.3" cy="736.0" r="5.5"/><circle cx="633.1" cy="746.5" r="5.5"/><circle cx="768.2" cy="732.4" r="5.5"/><circle cx="651.9" cy="684.5" r="5.5"/><circle cx="599.5" cy="743.5" r="5.5"/><circle cx="722.4" cy="714.9" r="5.5"/><circle cx="604.6" cy="724.0" r="5.5"/><circle cx="656.6" cy="693.4" r="5.5"/><circle cx="650.4" cy="736.5" r="5.5"/><circle cx="940.6" cy="737.2" r="5.5"/><circle cx="587.5" cy="716.0" r="5.5"/><circle cx="548.6" cy="715.7" r="5.5"/><circle cx="724.1" cy="707.7" r="5.5"/></g>
<g class="b"><circle cx="574.2" cy="563.5" r="5.5"/><circle cx="597.4" cy="667.5" r="5.5"/><circle cx="608.0" cy="668.1" r="5.5"/><circle cx="430.0" cy="531.5" r="5.5"/><circle cx="417.8" cy="550.8" r="5.5"/><circle cx="516.1" cy="631.5" r="5.5"/><circle cx="598.0" cy="698.3" r="5.5"/><circle cx="526.3" cy="615.7" r="5.5"/><circle cx="399.0" cy="606.2" r="5.5"/><circle cx="509.9" cy="594.1" r="5.5"/><circle cx="551.7" cy="698.6" r="5.5"/><circle cx="533.0" cy="664.8" r="5.5"/><circle cx="554.9" cy="661.4" r="5.5"/><circle cx="564.0" cy="695.7" r="5.5"/><circle cx="459.6" cy="668.6" r="5.5"/><circle cx="511.0" cy="648.7" r="5.5"/><circle cx="478.3" cy="691.2" r="5.5"/><circle cx="467.9" cy="601.0" r="5.5"/><circle cx="461.8" cy="687.4" r="5.5"/><circle cx="564.2" cy="591.2" r="5.5"/><circle cx="413.2" cy="385.5" r="5.5"/><circle cx="371.5" cy="563.8" r="5.5"/><circle cx="506.5" cy="692.9" r="5.5"/><circle cx="510.4" cy="630.4" r="5.5"/><circle cx="551.7" cy="684.4" r="5.5"/><circle cx="442.8" cy="680.6" r="5.5"/><circle cx="574.4" cy="663.3" r="5.5"/><circle cx="503.3" cy="630.8" r="5.5"/><circle cx="580.8" cy="646.7" r="5.5"/><circle cx="525.7" cy="654.5" r="5.5"/><circle cx="533.9" cy="697.3" r="5.5"/><circle cx="588.7" cy="651.0" r="5.5"/><circle cx="419.8" cy="491.0" r="5.5"/><circle cx="533.7" cy="674.5" r="5.5"/><circle cx="549.1" cy="700.0" r="5.5"/><circle cx="549.0" cy="651.9" r="5.5"/><circle cx="453.9" cy="657.4" r="5.5"/><circle cx="453.1" cy="683.4" r="5.5"/><circle cx="488.4" cy="680.6" r="5.5"/><circle cx="556.9" cy="645.4" r="5.5"/><circle cx="555.7" cy="696.7" r="5.5"/><circle cx="467.1" cy="678.2" r="5.5"/><circle cx="598.6" cy="680.2" r="5.5"/><circle cx="548.5" cy="604.8" r="5.5"/><circle cx="533.8" cy="671.8" r="5.5"/><circle cx="549.0" cy="650.7" r="5.5"/><circle cx="585.3" cy="703.6" r="5.5"/></g>
<g class="r"><circle cx="783.0" cy="670.5" r="5.5"/><circle cx="918.8" cy="595.5" r="5.5"/><circle cx="841.9" cy="672.8" r="5.5"/><circle cx="903.0" cy="693.9" r="5.5"/><circle cx="877.5" cy="655.8" r="5.5"/><circle cx="907.3" cy="686.5" r="5.5"/><circle cx="842.2" cy="700.1" r="5.5"/><circle cx="826.9" cy="651.8" r="5.5"/><circle cx="775.1" cy="680.5" r="5.5"/><circle cx="901.1" cy="700.3" r="5.5"/><circle cx="865.5" cy="538.8" r="5.5"/><circle cx="799.4" cy="583.8" r="5.5"/><circle cx="881.7" cy="632.3" r="5.5"/><circle cx="841.6" cy="672.4" r="5.5"/><circle cx="796.0" cy="697.4" r="5.5"/><circle cx="897.8" cy="681.3" r="5.5"/><circle cx="860.5" cy="615.0" r="5.5"/><circle cx="795.0" cy="685.1" r="5.5"/><circle cx="843.6" cy="689.5" r="5.5"/><circle cx="854.0" cy="651.0" r="5.5"/><circle cx="851.8" cy="617.5" r="5.5"/><circle cx="792.6" cy="631.5" r="5.5"/><circle cx="798.3" cy="614.1" r="5.5"/><circle cx="892.0" cy="683.7" r="5.5"/><circle cx="783.9" cy="672.1" r="5.5"/><circle cx="842.2" cy="646.2" r="5.5"/><circle cx="932.2" cy="578.2" r="5.5"/><circle cx="771.8" cy="699.0" r="5.5"/><circle cx="911.7" cy="702.0" r="5.5"/><circle cx="832.0" cy="420.0" r="5.5"/></g>
<g class="g"><circle cx="757.8" cy="680.8" r="5.5"/><circle cx="659.8" cy="749.3" r="5.5"/><circle cx="598.5" cy="738.8" r="5.5"/><circle cx="624.0" cy="725.7" r="5.5"/><circle cx="657.4" cy="739.2" r="5.5"/><circle cx="757.1" cy="665.2" r="5.5"/><circle cx="515.0" cy="725.1" r="5.5"/><circle cx="649.7" cy="735.6" r="5.5"/><circle cx="639.4" cy="747.8" r="5.5"/><circle cx="626.6" cy="668.8" r="5.5"/><circle cx="617.4" cy="734.7" r="5.5"/><circle cx="886.6" cy="713.2" r="5.5"/><circle cx="623.2" cy="738.6" r="5.5"/><circle cx="651.6" cy="689.4" r="5.5"/><circle cx="541.3" cy="736.4" r="5.5"/><circle cx="895.3" cy="726.3" r="5.5"/><circle cx="516.6" cy="713.3" r="5.5"/><circle cx="775.7" cy="733.1" r="5.5"/><circle cx="753.2" cy="708.1" r="5.5"/><circle cx="632.6" cy="739.0" r="5.5"/><circle cx="631.6" cy="714.5" r="5.5"/><circle cx="731.0" cy="739.7" r="5.5"/><circle cx="850.0" cy="730.5" r="5.5"/><circle cx="725.6" cy="704.5" r="5.5"/><circle cx="718.2" cy="712.9" r="5.5"/><circle cx="511.2" cy="720.5" r="5.5"/><circle cx="683.8" cy="750.2" r="5.5"/><circle cx="622.4" cy="706.6" r="5.5"/><circle cx="737.1" cy="683.5" r="5.5"/><circle cx="737.8" cy="680.8" r="5.5"/><circle cx="625.9" cy="637.1" r="5.5"/><circle cx="925.6" cy="729.4" r="5.5"/><circle cx="740.5" cy="675.3" r="5.5"/><circle cx="745.1" cy="748.2" r="5.5"/><circle cx="648.2" cy="684.8" r="5.5"/><circle cx="621.8" cy="677.3" r="5.5"/><circle cx="757.2" cy="720.6" r="5.5"/><circle cx="889.0" cy="732.4" r="5.5"/><circle cx="647.1" cy="720.6" r="5.5"/><circle cx="634.7" cy="696.8" r="5.5"/><circle cx="893.1" cy="713.3" r="5.5"/><circle cx="627.1" cy="699.6" r="5.5"/><circle cx="557.1" cy="718.0" r="5.5"/><circle cx="647.6" cy="729.3" r="5.5"/><circle cx="622.6" cy="635.1" r="5.5"/><circle cx="620.7" cy="738.1" r="5.5"/><circle cx="658.0" cy="731.7" r="5.5"/><circle cx="863.2" cy="737.4" r="5.5"/><circle cx="544.4" cy="738.2" r="5.5"/><circle cx="896.9" cy="720.5" r="5.5"/><circle cx="607.4" cy="748.7" r="5.5"/><circle cx="712.5" cy="751.5" r="5.5"/><circle cx="959.1" cy="720.9" r="5.5"/><circle cx="836.1" cy="715.3" r="5.5"/><circle cx="725.4" cy="706.7" r="5.5"/><circle cx="609.6" cy="731.4" r="5.5"/><circle cx="756.6" cy="711.2" r="5.5"/><circle cx="741.0" cy="714.9" r="5.5"/><circle cx="732.0" cy="687.3" r="5.5"/><circle cx="625.9" cy="688.5" r="5.5"/><circle cx="811.2" cy="719.4" r="5.5"/><circle cx="563.8" cy="718.9" r="5.5"/><circle cx="634.8" cy="666.7" r="5.5"/><circle cx="506.4" cy="716.7" r="5.5"/><circle cx="634.1" cy="656.6" r="5.5"/><circle cx="859.7" cy="715.9" r="5.5"/><circle cx="512.9" cy="716.1" r="5.5"/><circle cx="844.6" cy="720.8" r="5.5"/><circle cx="654.4" cy="737.7" r="5.5"/><circle cx="652.4" cy="682.0" r="5.5"/><circle cx="761.3" cy="677.6" r="5.5"/><circle cx="669.4" cy="722.0" r="5.5"/><circle cx="510.1" cy="727.7" r="5.5"/><circle cx="665.9" cy="727.7" r="5.5"/><circle cx="727.0" cy="732.3" r="5.5"/><circle cx="676.8" cy="752.7" r="5.5"/><circle cx="523.5" cy="729.2" r="5.5"/><circle cx="758.8" cy="724.6" r="5.5"/><circle cx="876.2" cy="713.6" r="5.5"/><circle cx="611.7" cy="728.1" r="5.5"/><circle cx="759.3" cy="703.2" r="5.5"/><circle cx="731.7" cy="708.9" r="5.5"/><circle cx="778.9" cy="721.8" r="5.5"/><circle cx="643.9" cy="748.2" r="5.5"/><circle cx="701.5" cy="753.1" r="5.5"/><circle cx="581.5" cy="728.6" r="5.5"/><circle cx="729.8" cy="731.1" r="5.5"/><circle cx="570.2" cy="737.1" r="5.5"/><circle cx="666.1" cy="733.4" r="5.5"/><circle cx="515.7" cy="712.7" r="5.5"/><circle cx="629.1" cy="704.0" r="5.5"/><circle cx="758.3" cy="681.0" r="5.5"/><circle cx="922.7" cy="730.6" r="5.5"/><circle cx="800.8" cy="721.6" r="5.5"/><circle cx="739.2" cy="729.1" r="5.5"/><circle cx="766.8" cy="718.0" r="5.5"/><circle cx="583.6" cy="740.4" r="5.5"/><circle cx="901.9" cy="732.6" r="5.5"/><circle cx="731.3" cy="741.6" r="5.5"/><circle cx="655.8" cy="705.2" r="5.5"/><circle cx="731.5" cy="719.3" r="5.5"/><circle cx="731.2" cy="728.5" r="5.5"/><circle cx="657.2" cy="695.5" r="5.5"/><circle cx="755.2" cy="680.8" r="5.5"/><circle cx="906.8" cy="716.3" r="5.5"/><circle cx="711.6" cy="736.1" r="5.5"/><circle cx="745.2" cy="734.9" r="5.5"/><circle cx="921.2" cy="731.8" r="5.5"/><circle cx="650.1" cy="736.6" r="5.5"/><circle cx="656.3" cy="727.8" r="5.5"/><circle cx="650.4" cy="667.3" r="5.5"/><circle cx="563.2" cy="738.4" r="5.5"/><circle cx="764.4" cy="743.0" r="5.5"/><circle cx="525.6" cy="734.0" r="5.5"/><circle cx="659.3" cy="754.1" r="5.5"/><circle cx="627.7" cy="741.9" r="5.5"/><circle cx="575.3" cy="740.9" r="5.5"/><circle cx="669.7" cy="735.6" r="5.5"/><circle cx="732.8" cy="728.7" r="5.5"/><circle cx="635.4" cy="671.0" r="5.5"/><circle cx="713.3" cy="727.1" r="5.5"/><circle cx="752.5" cy="720.3" r="5.5"/><circle cx="484.0" cy="722.1" r="5.5"/><circle cx="629.7" cy="711.7" r="5.5"/><circle cx="554.6" cy="732.7" r="5.5"/><circle cx="631.4" cy="683.2" r="5.5"/><circle cx="629.9" cy="737.0" r="5.5"/><circle cx="742.6" cy="739.0" r="5.5"/><circle cx="749.8" cy="680.4" r="5.5"/><circle cx="596.5" cy="725.0" r="5.5"/><circle cx="896.6" cy="736.3" r="5.5"/><circle cx="749.8" cy="645.4" r="5.5"/><circle cx="726.9" cy="693.6" r="5.5"/><circle cx="628.3" cy="636.0" r="5.5"/><circle cx="667.7" cy="720.8" r="5.5"/><circle cx="749.9" cy="702.9" r="5.5"/><circle cx="844.5" cy="725.6" r="5.5"/><circle cx="564.4" cy="718.6" r="5.5"/><circle cx="736.0" cy="719.0" r="5.5"/><circle cx="516.2" cy="726.7" r="5.5"/><circle cx="717.2" cy="735.8" r="5.5"/><circle cx="535.3" cy="716.3" r="5.5"/><circle cx="650.8" cy="717.3" r="5.5"/><circle cx="835.2" cy="738.7" r="5.5"/><circle cx="516.0" cy="731.9" r="5.5"/><circle cx="893.3" cy="720.9" r="5.5"/><circle cx="852.6" cy="715.0" r="5.5"/><circle cx="504.6" cy="725.8" r="5.5"/><circle cx="656.5" cy="740.9" r="5.5"/><circle cx="722.3" cy="701.8" r="5.5"/><circle cx="581.2" cy="737.7" r="5.5"/><circle cx="937.1" cy="717.9" r="5.5"/><circle cx="747.6" cy="725.9" r="5.5"/><circle cx="622.1" cy="705.3" r="5.5"/><circle cx="865.0" cy="738.8" r="5.5"/><circle cx="490.4" cy="721.4" r="5.5"/><circle cx="515.5" cy="719.2" r="5.5"/><circle cx="766.4" cy="735.9" r="5.5"/><circle cx="786.6" cy="741.3" r="5.5"/><circle cx="711.1" cy="743.7" r="5.5"/><circle cx="647.7" cy="696.4" r="5.5"/></g>
<g class="b"><circle cx="610.0" cy="651.7" r="5.5"/><circle cx="490.9" cy="677.9" r="5.5"/><circle cx="511.0" cy="690.0" r="5.5"/><circle cx="484.7" cy="669.8" r="5.5"/><circle cx="355.0" cy="583.0" r="5.5"/><circle cx="503.2" cy="678.9" r="5.5"/><circle cx="477.8" cy="679.5" r="5.5"/><circle cx="497.5" cy="638.5" r="5.5"/><circle cx="590.0" cy="616.9" r="5.5"/><circle cx="458.0" cy="661.1" r="5.5"/><circle cx="523.8" cy="694.8" r="5.5"/><circle cx="472.4" cy="660.2" r="5.5"/><circle cx="489.2" cy="705.4" r="5.5"/><circle cx="564.3" cy="648.4" r="5.5"/><circle cx="593.8" cy="651.5" r="5.5"/><circle cx="546.4" cy="581.5" r="5.5"/><circle cx="499.1" cy="651.1" r="5.5"/><circle cx="423.8" cy="683.8" r="5.5"/><circle cx="446.5" cy="670.1" r="5.5"/><circle cx="476.4" cy="679.4" r="5.5"/><circle cx="562.7" cy="703.5" r="5.5"/><circle cx="446.6" cy="638.5" r="5.5"/><circle cx="453.6" cy="649.2" r="5.5"/><circle cx="507.3" cy="648.8" r="5.5"/><circle cx="497.0" cy="655.2" r="5.5"/><circle cx="496.9" cy="663.2" r="5.5"/><circle cx="396.5" cy="612.5" r="5.5"/><circle cx="557.3" cy="684.7" r="5.5"/><circle cx="553.4" cy="664.2" r="5.5"/><circle cx="575.4" cy="629.5" r="5.5"/><circle cx="541.5" cy="262.8" r="5.5"/><circle cx="468.2" cy="675.6" r="5.5"/><circle cx="581.6" cy="701.2" r="5.5"/><circle cx="521.8" cy="677.5" r="5.5"/><circle cx="521.3" cy="639.6" r="5.5"/><circle cx="466.1" cy="637.4" r="5.5"/><circle cx="465.2" cy="676.6" r="5.5"/><circle cx="548.8" cy="567.0" r="5.5"/><circle cx="447.5" cy="592.5" r="5.5"/><circle cx="484.5" cy="648.2" r="5.5"/><circle cx="507.8" cy="645.8" r="5.5"/></g>
<g class="r"><circle cx="914.8" cy="376.5" r="5.5"/><circle cx="823.2" cy="648.2" r="5.5"/><circle cx="919.6" cy="695.5" r="5.5"/><circle cx="854.5" cy="700.8" r="5.5"/><circle cx="855.4" cy="689.5" r="5.5"/><circle cx="800.6" cy="652.4" r="5.5"/><circle cx="840.1" cy="696.6" r="5.5"/><circle cx="830.0" cy="381.0" r="5.5"/><circle cx="806.8" cy="696.8" r="5.5"/><circle cx="795.8" cy="666.3" r="5.5"/><circle cx="787.7" cy="646.2" r="5.5"/><circle cx="807.8" cy="647.2" r="5.5"/><circle cx="936.9" cy="698.0" r="5.5"/><circle cx="796.6" cy="658.1" r="5.5"/><circle cx="835.1" cy="636.0" r="5.5"/><circle cx="777.4" cy="691.9" r="5.5"/><circle cx="831.8" cy="682.9" r="5.5"/><circle cx="992.2" cy="703.8" r="5.5"/><circle cx="810.9" cy="634.2" r="5.5"/><circle cx="846.7" cy="705.1" r="5.5"/><circle cx="868.0" cy="600.0" r="5.5"/><circle cx="782.1" cy="642.7" r="5.5"/><circle cx="899.1" cy="642.9" r="5.5"/><circle cx="871.9" cy="701.9" r="5.5"/><circle cx="973.9" cy="704.7" r="5.5"/><circle cx="810.4" cy="674.3" r="5.5"/><circle cx="810.3" cy="620.7" r="5.5"/><circle cx="888.5" cy="694.9" r="5.5"/><circle cx="782.2" cy="580.2" r="5.5"/><circle cx="869.2" cy="620.0" r="5.5"/><circle cx="794.9" cy="621.8" r="5.5"/><circle cx="777.3" cy="699.0" r="5.5"/><circle cx="791.5" cy="665.0" r="5.5"/></g>
<g class="g"><circle cx="662.2" cy="728.6" r="5.5"/><circle cx="739.6" cy="699.4" r="5.5"/><circle cx="489.2" cy="720.6" r="5.5"/><circle cx="715.0" cy="716.4" r="5.5"/><circle cx="753.2" cy="697.4" r="5.5"/><circle cx="814.3" cy="726.7" r="5.5"/><circle cx="630.8" cy="693.0" r="5.5"/><circle cx="652.0" cy="696.1" r="5.5"/><circle cx="587.2" cy="735.4" r="5.5"/><circle cx="865.7" cy="727.4" r="5.5"/><circle cx="567.9" cy="736.7" r="5.5"/><circle cx="551.0" cy="734.1" r="5.5"/><circle cx="532.2" cy="720.3" r="5.5"/><circle cx="961.0" cy="717.5" r="5.5"/><circle cx="626.0" cy="711.0" r="5.5"/><circle cx="880.9" cy="738.1" r="5.5"/><circle cx="627.2" cy="675.4" r="5.5"/><circle cx="750.1" cy="740.6" r="5.5"/><circle cx="734.2" cy="732.5" r="5.5"/><circle cx="904.0" cy="714.5" r="5.5"/><circle cx="623.9" cy="738.9" r="5.5"/><circle cx="756.1" cy="634.3" r="5.5"/><circle cx="886.1" cy="729.4" r="5.5"/><circle cx="759.4" cy="693.4" r="5.5"/><circle cx="633.9" cy="719.3" r="5.5"/><circle cx="495.1" cy="724.0" r="5.5"/><circle cx="719.3" cy="703.7" r="5.5"/><circle cx="834.0" cy="739.9" r="5.5"/><circle cx="606.7" cy="733.7" r="5.5"/><circle cx="494.2" cy="713.4" r="5.5"/><circle cx="853.8" cy="716.5" r="5.5"/><circle cx="540.0" cy="728.2" r="5.5"/><circle cx="626.8" cy="691.5" r="5.5"/><circle cx="709.6" cy="734.5" r="5.5"/><circle cx="756.4" cy="686.4" r="5.5"/><circle cx="614.5" cy="719.5" r="5.5"/><circle cx="929.5" cy="727.5" r="5.5"/><circle cx="759.1" cy="623.3" r="5.5"/><circle cx="747.8" cy="739.5" r="5.5"/><circle cx="652.6" cy="680.9" r="5.5"/><circle cx="736.1" cy="684.0" r="5.5"/><circle cx="879.9" cy="725.1" r="5.5"/><circle cx="626.2" cy="647.2" r="5.5"/><circle cx="534.3" cy="715.0" r="5.5"/><circle cx="658.9" cy="728.1" r="5.5"/><circle cx="733.5" cy="704.2" r="5.5"/><circle cx="747.5" cy="695.2" r="5.5"/><circle cx="627.6" cy="726.3" r="5.5"/><circle cx="796.4" cy="738.9" r="5.5"/><circle cx="612.3" cy="724.5" r="5.5"/><circle cx="631.6" cy="726.9" r="5.5"/><circle cx="723.7" cy="700.7" r="5.5"/><circle cx="628.1" cy="656.7" r="5.5"/><circle cx="616.2" cy="734.0" r="5.5"/><circle cx="736.3" cy="672.5" r="5.5"/><circle cx="536.0" cy="725.7" r="5.5"/><circle cx="788.2" cy="746.8" r="5.5"/><circle cx="500.7" cy="727.2" r="5.5"/><circle cx="485.4" cy="713.1" r="5.5"/><circle cx="639.0" cy="665.3" r="5.5"/><circle cx="649.5" cy="738.9" r="5.5"/><circle cx="756.1" cy="715.3" r="5.5"/><circle cx="857.4" cy="715.7" r="5.5"/><circle cx="760.1" cy="653.5" r="5.5"/><circle cx="717.9" cy="737.7" r="5.5"/><circle cx="1082.2" cy="729.5" r="5.5"/><circle cx="868.8" cy="741.6" r="5.5"/><circle cx="901.1" cy="720.8" r="5.5"/><circle cx="654.0" cy="712.7" r="5.5"/><circle cx="645.2" cy="704.8" r="5.5"/><circle cx="795.6" cy="745.5" r="5.5"/><circle cx="732.5" cy="680.0" r="5.5"/><circle cx="727.4" cy="712.3" r="5.5"/><circle cx="639.0" cy="696.7" r="5.5"/><circle cx="555.5" cy="737.8" r="5.5"/><circle cx="919.5" cy="724.3" r="5.5"/><circle cx="642.7" cy="712.6" r="5.5"/><circle cx="828.1" cy="742.7" r="5.5"/><circle cx="808.2" cy="737.9" r="5.5"/><circle cx="674.0" cy="752.8" r="5.5"/><circle cx="658.0" cy="691.4" r="5.5"/><circle cx="647.0" cy="725.1" r="5.5"/><circle cx="938.1" cy="714.6" r="5.5"/><circle cx="629.3" cy="687.5" r="5.5"/><circle cx="620.5" cy="699.7" r="5.5"/><circle cx="656.1" cy="712.5" r="5.5"/><circle cx="530.7" cy="718.5" r="5.5"/><circle cx="858.8" cy="739.2" r="5.5"/><circle cx="687.0" cy="754.5" r="5.5"/><circle cx="748.4" cy="721.8" r="5.5"/><circle cx="880.8" cy="718.4" r="5.5"/><circle cx="781.2" cy="726.5" r="5.5"/><circle cx="546.2" cy="739.1" r="5.5"/><circle cx="856.4" cy="724.0" r="5.5"/><circle cx="643.3" cy="726.8" r="5.5"/><circle cx="521.2" cy="725.8" r="5.5"/><circle cx="621.9" cy="728.0" r="5.5"/><circle cx="880.2" cy="738.4" r="5.5"/><circle cx="646.8" cy="716.9" r="5.5"/><circle cx="729.4" cy="706.0" r="5.5"/><circle cx="772.5" cy="713.7" r="5.5"/><circle cx="614.6" cy="714.5" r="5.5"/><circle cx="555.2" cy="735.0" r="5.5"/><circle cx="783.2" cy="714.7" r="5.5"/><circle cx="853.8" cy="740.8" r="5.5"/><circle cx="621.9" cy="677.1" r="5.5"/><circle cx="653.4" cy="685.0" r="5.5"/><circle cx="528.4" cy="728.2" r="5.5"/><circle cx="645.5" cy="687.8" r="5.5"/><circle cx="927.1" cy="739.0" r="5.5"/><circle cx="739.4" cy="738.1" r="5.5"/><circle cx="569.1" cy="729.2" r="5.5"/><circle cx="613.7" cy="728.8" r="5.5"/><circle cx="729.1" cy="698.5" r="5.5"/><circle cx="855.8" cy="737.9" r="5.5"/><circle cx="760.1" cy="740.2" r="5.5"/><circle cx="902.0" cy="723.8" r="5.5"/><circle cx="498.1" cy="721.8" r="5.5"/><circle cx="642.5" cy="734.5" r="5.5"/><circle cx="568.6" cy="717.4" r="5.5"/><circle cx="525.8" cy="731.3" r="5.5"/><circle cx="881.9" cy="740.8" r="5.5"/><circle cx="724.8" cy="698.3" r="5.5"/><circle cx="490.7" cy="718.2" r="5.5"/><circle cx="648.0" cy="663.5" r="5.5"/><circle cx="886.9" cy="730.8" r="5.5"/><circle cx="581.9" cy="738.4" r="5.5"/><circle cx="635.6" cy="614.1" r="5.5"/><circle cx="592.1" cy="747.1" r="5.5"/><circle cx="501.5" cy="721.6" r="5.5"/><circle cx="650.0" cy="744.1" r="5.5"/><circle cx="651.2" cy="702.9" r="5.5"/><circle cx="506.7" cy="715.8" r="5.5"/><circle cx="652.2" cy="718.5" r="5.5"/><circle cx="734.6" cy="739.4" r="5.5"/><circle cx="716.7" cy="726.8" r="5.5"/><circle cx="572.2" cy="737.9" r="5.5"/><circle cx="613.1" cy="715.6" r="5.5"/><circle cx="516.4" cy="722.0" r="5.5"/><circle cx="519.6" cy="731.2" r="5.5"/><circle cx="779.8" cy="727.7" r="5.5"/><circle cx="648.2" cy="725.9" r="5.5"/><circle cx="917.4" cy="721.7" r="5.5"/><circle cx="545.2" cy="736.3" r="5.5"/><circle cx="638.9" cy="714.5" r="5.5"/><circle cx="736.5" cy="745.4" r="5.5"/><circle cx="737.8" cy="732.0" r="5.5"/><circle cx="679.1" cy="749.8" r="5.5"/><circle cx="522.8" cy="713.3" r="5.5"/><circle cx="797.5" cy="747.0" r="5.5"/><circle cx="585.5" cy="723.4" r="5.5"/><circle cx="877.2" cy="713.1" r="5.5"/><circle cx="544.4" cy="722.5" r="5.5"/><circle cx="579.6" cy="715.0" r="5.5"/><circle cx="615.9" cy="721.6" r="5.5"/><circle cx="634.9" cy="664.3" r="5.5"/><circle cx="551.5" cy="722.1" r="5.5"/><circle cx="899.9" cy="720.8" r="5.5"/><circle cx="639.4" cy="660.3" r="5.5"/><circle cx="828.1" cy="723.9" r="5.5"/><circle cx="751.0" cy="679.9" r="5.5"/><circle cx="738.6" cy="732.0" r="5.5"/><circle cx="563.7" cy="732.1" r="5.5"/><circle cx="717.1" cy="743.7" r="5.5"/><circle cx="647.6" cy="741.9" r="5.5"/><circle cx="569.6" cy="740.2" r="5.5"/><circle cx="493.1" cy="724.7" r="5.5"/></g>
<g class="b"><circle cx="546.0" cy="670.1" r="5.5"/><circle cx="377.5" cy="625.8" r="5.5"/><circle cx="609.3" cy="607.9" r="5.5"/><circle cx="568.7" cy="622.2" r="5.5"/><circle cx="481.3" cy="658.0" r="5.5"/><circle cx="577.3" cy="626.4" r="5.5"/><circle cx="528.4" cy="681.6" r="5.5"/><circle cx="459.4" cy="687.3" r="5.5"/><circle cx="502.7" cy="633.7" r="5.5"/><circle cx="580.2" cy="641.3" r="5.5"/><circle cx="586.3" cy="603.1" r="5.5"/><circle cx="558.9" cy="625.9" r="5.5"/><circle cx="590.0" cy="636.2" r="5.5"/><circle cx="574.0" cy="671.0" r="5.5"/><circle cx="450.9" cy="692.9" r="5.5"/><circle cx="537.4" cy="620.2" r="5.5"/><circle cx="556.8" cy="647.3" r="5.5"/><circle cx="563.1" cy="676.8" r="5.5"/><circle cx="537.6" cy="637.8" r="5.5"/><circle cx="395.2" cy="617.0" r="5.5"/><circle cx="589.2" cy="637.9" r="5.5"/><circle cx="451.6" cy="690.6" r="5.5"/><circle cx="495.1" cy="686.4" r="5.5"/><circle cx="540.9" cy="618.4" r="5.5"/><circle cx="492.0" cy="530.0" r="5.5"/><circle cx="476.2" cy="622.1" r="5.5"/><circle cx="522.0" cy="691.2" r="5.5"/><circle cx="506.7" cy="660.8" r="5.5"/><circle cx="509.5" cy="665.6" r="5.5"/><circle cx="410.2" cy="608.8" r="5.5"/><circle cx="459.5" cy="616.7" r="5.5"/><circle cx="456.7" cy="700.3" r="5.5"/><circle cx="520.0" cy="617.2" r="5.5"/><circle cx="520.3" cy="666.4" r="5.5"/><circle cx="451.5" cy="623.3" r="5.5"/><circle cx="449.9" cy="665.7" r="5.5"/><circle cx="533.3" cy="683.9" r="5.5"/><circle cx="450.1" cy="696.4" r="5.5"/><circle cx="553.8" cy="672.2" r="5.5"/><circle cx="369.8" cy="476.2" r="5.5"/><circle cx="491.9" cy="681.7" r="5.5"/></g>
<g class="r"><circle cx="821.0" cy="554.2" r="5.5"/><circle cx="881.6" cy="702.1" r="5.5"/><circle cx="787.7" cy="650.7" r="5.5"/><circle cx="836.0" cy="491.2" r="5.5"/><circle cx="901.2" cy="591.2" r="5.5"/><circle cx="820.0" cy="697.0" r="5.5"/><circle cx="783.0" cy="672.5" r="5.5"/><circle cx="804.8" cy="624.4" r="5.5"/><circle cx="784.6" cy="640.4" r="5.5"/><circle cx="780.0" cy="651.2" r="5.5"/><circle cx="818.9" cy="653.7" r="5.5"/><circle cx="851.1" cy="673.3" r="5.5"/><circle cx="819.8" cy="697.6" r="5.5"/><circle cx="795.7" cy="687.2" r="5.5"/><circle cx="861.2" cy="547.0" r="5.5"/><circle cx="866.9" cy="666.9" r="5.5"/><circle cx="822.0" cy="675.5" r="5.5"/><circle cx="776.4" cy="655.7" r="5.5"/><circle cx="861.0" cy="700.0" r="5.5"/><circle cx="931.3" cy="607.2" r="5.5"/><circle cx="960.8" cy="590.8" r="5.5"/><circle cx="873.0" cy="673.5" r="5.5"/><circle cx="775.8" cy="669.6" r="5.5"/><circle cx="864.8" cy="699.1" r="5.5"/><circle cx="900.4" cy="648.3" r="5.5"/><circle cx="1082.5" cy="683.3" r="5.5"/><circle cx="939.3" cy="679.8" r="5.5"/></g>
<g class="dash">
<line x1="124.00" y1="714.5" x2="1209.00" y2="714.5"/>
<line x1="618.5" y1="788.90" x2="618.5" y2="18.90"/>
<line x1="764.5" y1="788.90" x2="764.5" y2="18.90"/>
</g>
<circle cx="870.3" cy="711.5" r="5.5" style="fill:#d2dae2;stroke:#000;fill-opacity:.6;stroke-opacity:1;stroke-width:2.4px"/>
</g>
<rect x="866.25" y="681.5" width="101.45" height="30.3" rx="4.5" fill="#fff" fill-opacity=".88" stroke="#808080" stroke-width="2.2"/>
<text id="lab" x="869.5" y="704.5" font-size="25px">KRT42P</text>
<rect x="124.00" y="18.90" width="1085.00" height="770.00" fill="none" stroke="#000" stroke-width="2.2"/>
<g class="tk"><line x1="252.89" y1="788.90" x2="252.89" y2="798.80"/><line x1="398.91" y1="788.90" x2="398.91" y2="798.80"/><line x1="544.93" y1="788.90" x2="544.93" y2="798.80"/><line x1="690.95" y1="788.90" x2="690.95" y2="798.80"/><line x1="836.97" y1="788.90" x2="836.97" y2="798.80"/><line x1="982.99" y1="788.90" x2="982.99" y2="798.80"/><line x1="1129.01" y1="788.90" x2="1129.01" y2="798.80"/><line x1="114.10" y1="753.96" x2="124.00" y2="753.96"/><line x1="114.10" y1="598.93" x2="124.00" y2="598.93"/><line x1="114.10" y1="443.91" x2="124.00" y2="443.91"/><line x1="114.10" y1="288.88" x2="124.00" y2="288.88"/><line x1="114.10" y1="133.85" x2="124.00" y2="133.85"/></g>
<g class="tl"><text x="252.89" y="831.0" text-anchor="middle">−6</text><text x="398.91" y="831.0" text-anchor="middle">−4</text><text x="544.93" y="831.0" text-anchor="middle">−2</text><text x="690.95" y="831.0" text-anchor="middle">0</text><text x="836.97" y="831.0" text-anchor="middle">2</text><text x="982.99" y="831.0" text-anchor="middle">4</text><text x="1129.01" y="831.0" text-anchor="middle">6</text><text x="106.0" y="765.96" text-anchor="end">0</text><text x="106.0" y="610.93" text-anchor="end">5</text><text x="104.7" y="455.91" text-anchor="end">10</text><text x="104.7" y="300.88" text-anchor="end">15</text><text x="104.7" y="145.85" text-anchor="end">20</text></g>
<g class="al"><text x="667" y="878.3" text-anchor="middle">logFC</text>
<text transform="translate(51.3 407.1) rotate(-90)" text-anchor="middle">-log10(adjP)</text></g>
</svg>
</body></html>
